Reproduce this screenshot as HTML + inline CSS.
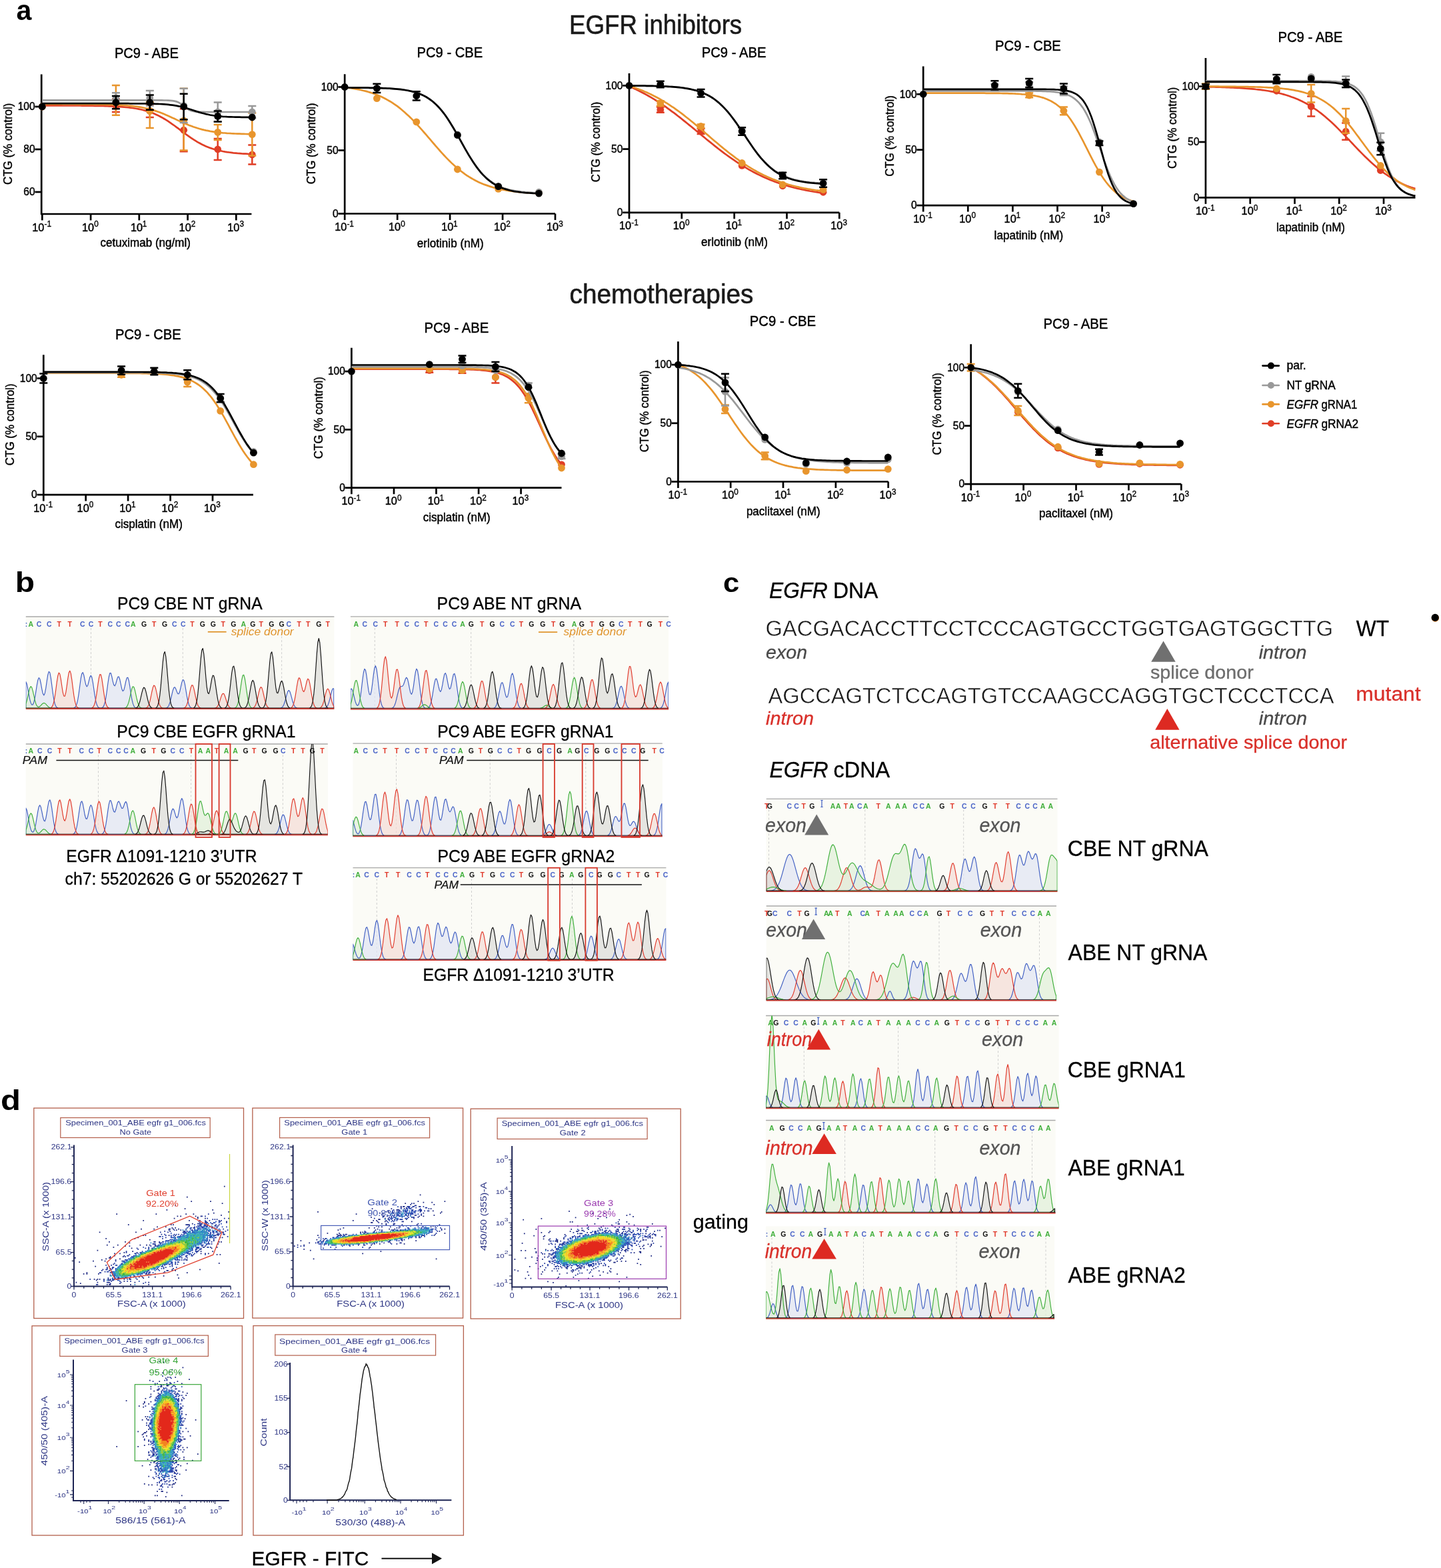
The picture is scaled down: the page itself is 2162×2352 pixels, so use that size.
<!DOCTYPE html>
<html><head><meta charset="utf-8"><title>Figure</title>
<style>html,body{margin:0;padding:0;background:#fff;}svg{display:block;}
text{font-family:'Liberation Sans',Arial,sans-serif;}</style></head>
<body><svg width="2162" height="2352" viewBox="0 0 2162 2352">
<rect width="2162" height="2352" fill="#fff"/>
<text x="24.4" y="30.4" font-size="42" textLength="22.84" lengthAdjust="spacingAndGlyphs" font-weight="bold">a</text>
<text x="854" y="51.1" font-size="40.2" textLength="259.24" lengthAdjust="spacingAndGlyphs" fill="#1a1a1a" stroke="#1a1a1a" stroke-width="0.6">EGFR inhibitors</text>
<text x="854.6" y="454.5" font-size="40.8" textLength="275.85" lengthAdjust="spacingAndGlyphs" fill="#1a1a1a" stroke="#1a1a1a" stroke-width="0.6">chemotherapies</text>
<text x="171.9" y="87.4" font-size="22" textLength="95.98" lengthAdjust="spacingAndGlyphs" stroke="#000" stroke-width="0.45">PC9 - ABE</text>
<path d="M62.2 111.5V321H377.4" fill="none" stroke="#000" stroke-width="2.7"/>
<line x1="52.4" y1="160" x2="62.2" y2="160" stroke="#000" stroke-width="2.7"/>
<text x="26.7" y="165.3" font-size="16.7" textLength="25.91" lengthAdjust="spacingAndGlyphs" stroke="#000" stroke-width="0.45">100</text>
<line x1="52.4" y1="224" x2="62.2" y2="224" stroke="#000" stroke-width="2.7"/>
<text x="35.3" y="229.3" font-size="16.7" textLength="17.28" lengthAdjust="spacingAndGlyphs" stroke="#000" stroke-width="0.45">80</text>
<line x1="52.4" y1="288" x2="62.2" y2="288" stroke="#000" stroke-width="2.7"/>
<text x="35.3" y="293.3" font-size="16.7" textLength="17.28" lengthAdjust="spacingAndGlyphs" stroke="#000" stroke-width="0.45">60</text>
<line x1="63.3" y1="321" x2="63.3" y2="330.5" stroke="#000" stroke-width="2.7"/>
<text x="48.3" y="346.6" font-size="16.3" textLength="18.13" lengthAdjust="spacingAndGlyphs" stroke="#000" stroke-width="0.45">10</text><text x="66.5" y="340.1" font-size="12.5" textLength="10.56" lengthAdjust="spacingAndGlyphs" stroke="#000" stroke-width="0.36000000000000004">-1</text>
<line x1="136.1" y1="321" x2="136.1" y2="330.5" stroke="#000" stroke-width="2.7"/>
<text x="122.9" y="346.6" font-size="16.3" textLength="18.13" lengthAdjust="spacingAndGlyphs" stroke="#000" stroke-width="0.45">10</text><text x="141.2" y="340.1" font-size="12.5" textLength="6.60" lengthAdjust="spacingAndGlyphs" stroke="#000" stroke-width="0.36000000000000004">0</text>
<line x1="208.8" y1="321" x2="208.8" y2="330.5" stroke="#000" stroke-width="2.7"/>
<text x="196" y="346.6" font-size="16.3" textLength="18.13" lengthAdjust="spacingAndGlyphs" stroke="#000" stroke-width="0.45">10</text><text x="213.8" y="340.1" font-size="12.5" textLength="6.60" lengthAdjust="spacingAndGlyphs" stroke="#000" stroke-width="0.36000000000000004">1</text>
<line x1="281.6" y1="321" x2="281.6" y2="330.5" stroke="#000" stroke-width="2.7"/>
<text x="268.6" y="346.6" font-size="16.3" textLength="18.13" lengthAdjust="spacingAndGlyphs" stroke="#000" stroke-width="0.45">10</text><text x="286.7" y="340.1" font-size="12.5" textLength="6.60" lengthAdjust="spacingAndGlyphs" stroke="#000" stroke-width="0.36000000000000004">2</text>
<line x1="354.3" y1="321" x2="354.3" y2="330.5" stroke="#000" stroke-width="2.7"/>
<text x="341.2" y="346.6" font-size="16.3" textLength="18.13" lengthAdjust="spacingAndGlyphs" stroke="#000" stroke-width="0.45">10</text><text x="359.5" y="340.1" font-size="12.5" textLength="6.60" lengthAdjust="spacingAndGlyphs" stroke="#000" stroke-width="0.36000000000000004">3</text>
<text x="150.6" y="370.1" font-size="17.5" textLength="135.28" lengthAdjust="spacingAndGlyphs" stroke="#000" stroke-width="0.45">cetuximab (ng/ml)</text>
<text transform="translate(18.2 276.2) rotate(-90)" x="-0.86" y="0" font-size="18" textLength="122.51" lengthAdjust="spacingAndGlyphs" stroke="#000" stroke-width="0.45">CTG (% control)</text>
<polyline points="63.3,158.4 66.5,158.4 69.6,158.4 72.8,158.4 75.9,158.4 79.1,158.4 82.2,158.4 85.4,158.4 88.5,158.4 91.7,158.4 94.8,158.5 98,158.5 101.1,158.5 104.3,158.5 107.4,158.5 110.6,158.5 113.7,158.5 116.9,158.5 120,158.5 123.2,158.6 126.3,158.6 129.5,158.6 132.6,158.7 135.8,158.7 138.9,158.7 142.1,158.8 145.2,158.8 148.4,158.9 151.5,158.9 154.7,159 157.8,159.1 161,159.2 164.1,159.3 167.3,159.4 170.4,159.6 173.6,159.7 176.7,159.9 179.9,160.1 183,160.3 186.2,160.6 189.3,160.9 192.5,161.2 195.6,161.6 198.8,162 201.9,162.5 205.1,163 208.2,163.6 211.4,164.3 214.5,165 217.7,165.9 220.8,166.8 224,167.8 227.1,168.9 230.3,170.1 233.4,171.5 236.6,172.9 239.7,174.5 242.9,176.2 246,178 249.2,179.9 252.3,181.9 255.5,184.1 258.6,186.3 261.8,188.5 264.9,190.9 268.1,193.2 271.2,195.6 274.4,198 277.5,200.4 280.7,202.7 283.8,204.9 287,207.1 290.1,209.2 293.3,211.2 296.4,213.1 299.6,214.8 302.7,216.5 305.9,218 309,219.4 312.2,220.7 315.3,221.9 318.5,223 321.6,224 324.8,224.8 327.9,225.6 331.1,226.3 334.2,227 337.4,227.6 340.5,228.1 343.7,228.5 346.8,228.9 350,229.3 353.1,229.6 356.3,229.9 359.4,230.1 362.6,230.4 365.7,230.6 368.9,230.7 372,230.9 375.2,231 378.3,231.1" fill="none" stroke="#E03E26" stroke-width="2.7"/>
<circle cx="63.3" cy="160" r="5.4" fill="#E03E26"/>
<path d="M173.9 148.8V168M167.9 148.8h12M167.9 168h12" stroke="#E03E26" stroke-width="2.5" fill="none"/>
<circle cx="173.9" cy="158.4" r="5.4" fill="#E03E26"/>
<path d="M224.8 156.8V176M218.8 156.8h12M218.8 176h12" stroke="#E03E26" stroke-width="2.5" fill="none"/>
<circle cx="224.8" cy="166.4" r="5.4" fill="#E03E26"/>
<path d="M275.7 163.2V227.2M269.7 163.2h12M269.7 227.2h12" stroke="#E03E26" stroke-width="2.5" fill="none"/>
<circle cx="275.7" cy="195.2" r="5.4" fill="#E03E26"/>
<path d="M326.7 208V240M320.7 208h12M320.7 240h12" stroke="#E03E26" stroke-width="2.5" fill="none"/>
<circle cx="326.7" cy="224" r="5.4" fill="#E03E26"/>
<path d="M378.3 217.6V246.4M372.3 217.6h12M372.3 246.4h12" stroke="#E03E26" stroke-width="2.5" fill="none"/>
<circle cx="378.3" cy="232" r="5.4" fill="#E03E26"/>
<polyline points="63.3,156.2 66.5,156.2 69.6,156.2 72.8,156.2 75.9,156.2 79.1,156.2 82.2,156.2 85.4,156.2 88.5,156.2 91.7,156.2 94.8,156.2 98,156.2 101.1,156.2 104.3,156.2 107.4,156.2 110.6,156.2 113.7,156.3 116.9,156.3 120,156.3 123.2,156.3 126.3,156.3 129.5,156.3 132.6,156.4 135.8,156.4 138.9,156.4 142.1,156.5 145.2,156.5 148.4,156.6 151.5,156.6 154.7,156.7 157.8,156.7 161,156.8 164.1,156.9 167.3,157 170.4,157.1 173.6,157.3 176.7,157.4 179.9,157.6 183,157.8 186.2,158 189.3,158.2 192.5,158.5 195.6,158.8 198.8,159.1 201.9,159.5 205.1,159.9 208.2,160.4 211.4,160.9 214.5,161.5 217.7,162.2 220.8,162.9 224,163.7 227.1,164.5 230.3,165.4 233.4,166.4 236.6,167.5 239.7,168.6 242.9,169.8 246,171.1 249.2,172.4 252.3,173.8 255.5,175.2 258.6,176.7 261.8,178.1 264.9,179.6 268.1,181.1 271.2,182.5 274.4,183.9 277.5,185.3 280.7,186.6 283.8,187.9 287,189.1 290.1,190.3 293.3,191.3 296.4,192.3 299.6,193.2 302.7,194.1 305.9,194.9 309,195.6 312.2,196.2 315.3,196.8 318.5,197.3 321.6,197.8 324.8,198.2 327.9,198.6 331.1,199 334.2,199.3 337.4,199.5 340.5,199.8 343.7,200 346.8,200.2 350,200.3 353.1,200.5 356.3,200.6 359.4,200.7 362.6,200.8 365.7,200.9 368.9,201 372,201.1 375.2,201.1 378.3,201.2" fill="none" stroke="#E8952D" stroke-width="2.7"/>
<circle cx="63.3" cy="160" r="5.4" fill="#E8952D"/>
<path d="M173.9 128V172.8M167.9 128h12M167.9 172.8h12" stroke="#E8952D" stroke-width="2.5" fill="none"/>
<circle cx="173.9" cy="150.4" r="5.4" fill="#E8952D"/>
<path d="M224.8 153.6V192M218.8 153.6h12M218.8 192h12" stroke="#E8952D" stroke-width="2.5" fill="none"/>
<circle cx="224.8" cy="166.4" r="5.4" fill="#E8952D"/>
<path d="M275.7 132.8V225.6M269.7 132.8h12M269.7 225.6h12" stroke="#E8952D" stroke-width="2.5" fill="none"/>
<circle cx="275.7" cy="180.8" r="5.4" fill="#E8952D"/>
<path d="M326.7 186.9V209.9M320.7 186.9h12M320.7 209.9h12" stroke="#E8952D" stroke-width="2.5" fill="none"/>
<circle cx="326.7" cy="198.4" r="5.4" fill="#E8952D"/>
<path d="M378.3 169.6V233.6M372.3 169.6h12M372.3 233.6h12" stroke="#E8952D" stroke-width="2.5" fill="none"/>
<circle cx="378.3" cy="201.6" r="5.4" fill="#E8952D"/>
<polyline points="63.3,150.4 66.5,150.4 69.6,150.4 72.8,150.4 75.9,150.4 79.1,150.4 82.2,150.4 85.4,150.4 88.5,150.4 91.7,150.4 94.8,150.4 98,150.4 101.1,150.4 104.3,150.4 107.4,150.4 110.6,150.4 113.7,150.4 116.9,150.4 120,150.4 123.2,150.4 126.3,150.4 129.5,150.4 132.6,150.4 135.8,150.4 138.9,150.4 142.1,150.4 145.2,150.4 148.4,150.4 151.5,150.4 154.7,150.4 157.8,150.4 161,150.4 164.1,150.4 167.3,150.4 170.4,150.4 173.6,150.4 176.7,150.4 179.9,150.4 183,150.4 186.2,150.4 189.3,150.4 192.5,150.4 195.6,150.4 198.8,150.4 201.9,150.4 205.1,150.4 208.2,150.4 211.4,150.4 214.5,150.4 217.7,150.4 220.8,150.4 224,150.4 227.1,150.4 230.3,150.4 233.4,150.4 236.6,150.4 239.7,150.4 242.9,150.4 246,150.5 249.2,150.5 252.3,150.6 255.5,150.8 258.6,151.1 261.8,151.6 264.9,152.4 268.1,153.7 271.2,155.6 274.4,158.1 277.5,160.7 280.7,163 283.8,164.9 287,166.1 290.1,166.9 293.3,167.4 296.4,167.7 299.6,167.8 302.7,167.9 305.9,167.9 309,168 312.2,168 315.3,168 318.5,168 321.6,168 324.8,168 327.9,168 331.1,168 334.2,168 337.4,168 340.5,168 343.7,168 346.8,168 350,168 353.1,168 356.3,168 359.4,168 362.6,168 365.7,168 368.9,168 372,168 375.2,168 378.3,168" fill="none" stroke="#999999" stroke-width="2.7"/>
<circle cx="63.3" cy="160" r="5.4" fill="#999999"/>
<path d="M173.9 139.2V155.2M167.9 139.2h12M167.9 155.2h12" stroke="#999999" stroke-width="2.5" fill="none"/>
<circle cx="173.9" cy="147.2" r="5.4" fill="#999999"/>
<path d="M224.8 136V158.4M218.8 136h12M218.8 158.4h12" stroke="#999999" stroke-width="2.5" fill="none"/>
<circle cx="224.8" cy="147.2" r="5.4" fill="#999999"/>
<path d="M275.7 132.8V184M269.7 132.8h12M269.7 184h12" stroke="#999999" stroke-width="2.5" fill="none"/>
<circle cx="275.7" cy="158.4" r="5.4" fill="#999999"/>
<path d="M326.7 153.6V182.4M320.7 153.6h12M320.7 182.4h12" stroke="#999999" stroke-width="2.5" fill="none"/>
<circle cx="326.7" cy="168" r="5.4" fill="#999999"/>
<path d="M378.3 159V177M372.3 159h12M372.3 177h12" stroke="#999999" stroke-width="2.5" fill="none"/>
<circle cx="378.3" cy="168" r="5.4" fill="#999999"/>
<polyline points="63.3,155.2 66.5,155.2 69.6,155.2 72.8,155.2 75.9,155.2 79.1,155.2 82.2,155.2 85.4,155.2 88.5,155.2 91.7,155.2 94.8,155.2 98,155.2 101.1,155.2 104.3,155.2 107.4,155.2 110.6,155.2 113.7,155.2 116.9,155.2 120,155.2 123.2,155.2 126.3,155.2 129.5,155.2 132.6,155.2 135.8,155.2 138.9,155.2 142.1,155.2 145.2,155.2 148.4,155.2 151.5,155.2 154.7,155.2 157.8,155.2 161,155.2 164.1,155.2 167.3,155.2 170.4,155.2 173.6,155.2 176.7,155.2 179.9,155.2 183,155.2 186.2,155.2 189.3,155.2 192.5,155.2 195.6,155.3 198.8,155.3 201.9,155.3 205.1,155.3 208.2,155.3 211.4,155.3 214.5,155.4 217.7,155.4 220.8,155.5 224,155.5 227.1,155.6 230.3,155.7 233.4,155.8 236.6,155.9 239.7,156 242.9,156.2 246,156.4 249.2,156.6 252.3,156.9 255.5,157.3 258.6,157.7 261.8,158.1 264.9,158.7 268.1,159.3 271.2,160 274.4,160.8 277.5,161.6 280.7,162.5 283.8,163.5 287,164.5 290.1,165.5 293.3,166.6 296.4,167.6 299.6,168.6 302.7,169.5 305.9,170.3 309,171.1 312.2,171.8 315.3,172.5 318.5,173 321.6,173.5 324.8,173.9 327.9,174.2 331.1,174.5 334.2,174.8 337.4,175 340.5,175.2 343.7,175.3 346.8,175.4 350,175.5 353.1,175.6 356.3,175.7 359.4,175.7 362.6,175.8 365.7,175.8 368.9,175.9 372,175.9 375.2,175.9 378.3,175.9" fill="none" stroke="#000000" stroke-width="2.7"/>
<circle cx="63.3" cy="160" r="5.4" fill="#000000"/>
<path d="M173.9 144V163.2M167.9 144h12M167.9 163.2h12" stroke="#000000" stroke-width="2.5" fill="none"/>
<circle cx="173.9" cy="153.6" r="5.4" fill="#000000"/>
<path d="M224.8 142.4V164.8M218.8 142.4h12M218.8 164.8h12" stroke="#000000" stroke-width="2.5" fill="none"/>
<circle cx="224.8" cy="153.6" r="5.4" fill="#000000"/>
<path d="M275.7 140.8V179.2M269.7 140.8h12M269.7 179.2h12" stroke="#000000" stroke-width="2.5" fill="none"/>
<circle cx="275.7" cy="160" r="5.4" fill="#000000"/>
<path d="M326.7 166.4V182.4M320.7 166.4h12M320.7 182.4h12" stroke="#000000" stroke-width="2.5" fill="none"/>
<circle cx="326.7" cy="174.4" r="5.4" fill="#000000"/>
<circle cx="378.3" cy="176" r="5.4" fill="#000000"/>
<text x="625.5" y="86.3" font-size="22" textLength="98.72" lengthAdjust="spacingAndGlyphs" stroke="#000" stroke-width="0.45">PC9 - CBE</text>
<path d="M517.2 111.3V320.5H833" fill="none" stroke="#000" stroke-width="2.7"/>
<line x1="507.4" y1="130.5" x2="517.2" y2="130.5" stroke="#000" stroke-width="2.7"/>
<text x="481.7" y="135.8" font-size="16.7" textLength="25.91" lengthAdjust="spacingAndGlyphs" stroke="#000" stroke-width="0.45">100</text>
<line x1="507.4" y1="225.5" x2="517.2" y2="225.5" stroke="#000" stroke-width="2.7"/>
<text x="490.3" y="230.8" font-size="16.7" textLength="17.28" lengthAdjust="spacingAndGlyphs" stroke="#000" stroke-width="0.45">50</text>
<line x1="507.4" y1="320.5" x2="517.2" y2="320.5" stroke="#000" stroke-width="2.7"/>
<text x="499" y="325.8" font-size="16.7" textLength="8.64" lengthAdjust="spacingAndGlyphs" stroke="#000" stroke-width="0.45">0</text>
<line x1="517.2" y1="320.5" x2="517.2" y2="330" stroke="#000" stroke-width="2.7"/>
<text x="502.2" y="346.1" font-size="16.3" textLength="18.13" lengthAdjust="spacingAndGlyphs" stroke="#000" stroke-width="0.45">10</text><text x="520.4" y="339.6" font-size="12.5" textLength="10.56" lengthAdjust="spacingAndGlyphs" stroke="#000" stroke-width="0.36000000000000004">-1</text>
<line x1="596.2" y1="320.5" x2="596.2" y2="330" stroke="#000" stroke-width="2.7"/>
<text x="583" y="346.1" font-size="16.3" textLength="18.13" lengthAdjust="spacingAndGlyphs" stroke="#000" stroke-width="0.45">10</text><text x="601.3" y="339.6" font-size="12.5" textLength="6.60" lengthAdjust="spacingAndGlyphs" stroke="#000" stroke-width="0.36000000000000004">0</text>
<line x1="675.1" y1="320.5" x2="675.1" y2="330" stroke="#000" stroke-width="2.7"/>
<text x="662.3" y="346.1" font-size="16.3" textLength="18.13" lengthAdjust="spacingAndGlyphs" stroke="#000" stroke-width="0.45">10</text><text x="680.1" y="339.6" font-size="12.5" textLength="6.60" lengthAdjust="spacingAndGlyphs" stroke="#000" stroke-width="0.36000000000000004">1</text>
<line x1="754.1" y1="320.5" x2="754.1" y2="330" stroke="#000" stroke-width="2.7"/>
<text x="741.1" y="346.1" font-size="16.3" textLength="18.13" lengthAdjust="spacingAndGlyphs" stroke="#000" stroke-width="0.45">10</text><text x="759.2" y="339.6" font-size="12.5" textLength="6.60" lengthAdjust="spacingAndGlyphs" stroke="#000" stroke-width="0.36000000000000004">2</text>
<line x1="833" y1="320.5" x2="833" y2="330" stroke="#000" stroke-width="2.7"/>
<text x="819.9" y="346.1" font-size="16.3" textLength="18.13" lengthAdjust="spacingAndGlyphs" stroke="#000" stroke-width="0.45">10</text><text x="838.2" y="339.6" font-size="12.5" textLength="6.60" lengthAdjust="spacingAndGlyphs" stroke="#000" stroke-width="0.36000000000000004">3</text>
<text x="625.8" y="371.1" font-size="17.5" textLength="99.79" lengthAdjust="spacingAndGlyphs" stroke="#000" stroke-width="0.45">erlotinib (nM)</text>
<text transform="translate(473.3 275.5) rotate(-90)" x="-0.86" y="0" font-size="18" textLength="122.01" lengthAdjust="spacingAndGlyphs" stroke="#000" stroke-width="0.45">CTG (% control)</text>
<polyline points="517.2,131.1 520.1,131.4 523,131.8 525.9,132.2 528.9,132.7 531.8,133.1 534.7,133.7 537.6,134.2 540.5,134.8 543.4,135.5 546.3,136.2 549.2,136.9 552.2,137.7 555.1,138.6 558,139.5 560.9,140.5 563.8,141.6 566.7,142.8 569.6,144 572.6,145.3 575.5,146.7 578.4,148.2 581.3,149.8 584.2,151.5 587.1,153.2 590,155.1 592.9,157.1 595.9,159.2 598.8,161.4 601.7,163.8 604.6,166.2 607.5,168.7 610.4,171.4 613.3,174.1 616.3,176.9 619.2,179.9 622.1,182.9 625,186 627.9,189.2 630.8,192.4 633.7,195.7 636.6,199 639.6,202.4 642.5,205.8 645.4,209.2 648.3,212.6 651.2,216 654.1,219.4 657,222.7 659.9,226 662.9,229.3 665.8,232.5 668.7,235.6 671.6,238.6 674.5,241.5 677.4,244.4 680.3,247.1 683.3,249.7 686.2,252.3 689.1,254.7 692,257 694.9,259.2 697.8,261.3 700.7,263.3 703.6,265.2 706.6,267 709.5,268.7 712.4,270.3 715.3,271.8 718.2,273.2 721.1,274.5 724,275.7 727,276.9 729.9,277.9 732.8,278.9 735.7,279.9 738.6,280.8 741.5,281.6 744.4,282.3 747.3,283 750.3,283.7 753.2,284.3 756.1,284.8 759,285.4 761.9,285.8 764.8,286.3 767.7,286.7 770.7,287.1 773.6,287.4 776.5,287.8 779.4,288.1 782.3,288.3 785.2,288.6 788.1,288.8 791,289 794,289.2 796.9,289.4 799.8,289.6 802.7,289.8 805.6,289.9 808.5,290" fill="none" stroke="#E8952D" stroke-width="2.7"/>
<circle cx="565.4" cy="147.6" r="5.4" fill="#E8952D"/>
<circle cx="624.8" cy="182.9" r="5.4" fill="#E8952D"/>
<circle cx="686.4" cy="254" r="5.4" fill="#E8952D"/>
<circle cx="747.7" cy="283.4" r="5.4" fill="#E8952D"/>
<circle cx="808.5" cy="289.1" r="5.4" fill="#E8952D"/>
<polyline points="517.2,131.5 520.1,131.5 523,131.5 525.9,131.5 528.9,131.6 531.8,131.6 534.7,131.6 537.6,131.6 540.5,131.6 543.4,131.7 546.3,131.7 549.2,131.7 552.2,131.7 555.1,131.8 558,131.8 560.9,131.9 563.8,132 566.7,132 569.6,132.1 572.6,132.2 575.5,132.3 578.4,132.4 581.3,132.6 584.2,132.7 587.1,132.9 590,133.1 592.9,133.3 595.9,133.6 598.8,133.9 601.7,134.2 604.6,134.6 607.5,135 610.4,135.5 613.3,136.1 616.3,136.7 619.2,137.4 622.1,138.2 625,139.1 627.9,140.1 630.8,141.3 633.7,142.6 636.6,144 639.6,145.6 642.5,147.4 645.4,149.4 648.3,151.6 651.2,154.1 654.1,156.8 657,159.7 659.9,162.9 662.9,166.3 665.8,170 668.7,174 671.6,178.2 674.5,182.7 677.4,187.4 680.3,192.2 683.3,197.2 686.2,202.3 689.1,207.5 692,212.8 694.9,218 697.8,223.1 700.7,228.1 703.6,233 706.6,237.8 709.5,242.3 712.4,246.5 715.3,250.6 718.2,254.4 721.1,257.9 724,261.1 727,264.1 729.9,266.9 732.8,269.3 735.7,271.6 738.6,273.7 741.5,275.5 744.4,277.2 747.3,278.6 750.3,280 753.2,281.1 756.1,282.2 759,283.1 761.9,283.9 764.8,284.7 767.7,285.3 770.7,285.9 773.6,286.4 776.5,286.9 779.4,287.2 782.3,287.6 785.2,287.9 788.1,288.2 791,288.4 794,288.6 796.9,288.8 799.8,289 802.7,289.1 805.6,289.2 808.5,289.3" fill="none" stroke="#999999" stroke-width="2.7"/>
<circle cx="686.4" cy="201.8" r="5.4" fill="#999999"/>
<circle cx="747.7" cy="279.6" r="5.4" fill="#999999"/>
<circle cx="808.5" cy="288.2" r="5.4" fill="#999999"/>
<polyline points="517.2,131.5 520.1,131.5 523,131.5 525.9,131.5 528.9,131.6 531.8,131.6 534.7,131.6 537.6,131.6 540.5,131.6 543.4,131.7 546.3,131.7 549.2,131.7 552.2,131.7 555.1,131.8 558,131.8 560.9,131.9 563.8,132 566.7,132 569.6,132.1 572.6,132.2 575.5,132.3 578.4,132.4 581.3,132.6 584.2,132.7 587.1,132.9 590,133.1 592.9,133.3 595.9,133.6 598.8,133.9 601.7,134.2 604.6,134.6 607.5,135 610.4,135.5 613.3,136 616.3,136.7 619.2,137.4 622.1,138.2 625,139.1 627.9,140.1 630.8,141.2 633.7,142.5 636.6,143.9 639.6,145.5 642.5,147.3 645.4,149.3 648.3,151.5 651.2,153.9 654.1,156.6 657,159.5 659.9,162.7 662.9,166.1 665.8,169.8 668.7,173.8 671.6,178 674.5,182.5 677.4,187.2 680.3,192 683.3,197.1 686.2,202.2 689.1,207.4 692,212.7 694.9,217.9 697.8,223.1 700.7,228.2 703.6,233.1 706.6,237.9 709.5,242.4 712.4,246.8 715.3,250.9 718.2,254.7 721.1,258.3 724,261.6 727,264.6 729.9,267.4 732.8,269.9 735.7,272.2 738.6,274.3 741.5,276.2 744.4,277.9 747.3,279.4 750.3,280.7 753.2,281.9 756.1,283 759,283.9 761.9,284.8 764.8,285.5 767.7,286.2 770.7,286.8 773.6,287.3 776.5,287.7 779.4,288.1 782.3,288.5 785.2,288.8 788.1,289.1 791,289.3 794,289.5 796.9,289.7 799.8,289.9 802.7,290 805.6,290.1 808.5,290.3" fill="none" stroke="#000000" stroke-width="2.7"/>
<circle cx="517.2" cy="130.5" r="5.4" fill="#000000"/>
<path d="M565.4 125.8V139.1M559.4 125.8h12M559.4 139.1h12" stroke="#000000" stroke-width="2.5" fill="none"/>
<circle cx="565.4" cy="132.4" r="5.4" fill="#000000"/>
<path d="M624.8 137.2V150.5M618.8 137.2h12M618.8 150.5h12" stroke="#000000" stroke-width="2.5" fill="none"/>
<circle cx="624.8" cy="143.8" r="5.4" fill="#000000"/>
<circle cx="686.4" cy="202.7" r="5.4" fill="#000000"/>
<circle cx="747.7" cy="279.6" r="5.4" fill="#000000"/>
<circle cx="808.5" cy="290.1" r="5.4" fill="#000000"/>
<text x="1052.7" y="86.3" font-size="22" textLength="96.80" lengthAdjust="spacingAndGlyphs" stroke="#000" stroke-width="0.45">PC9 - ABE</text>
<path d="M944 109.9V318.8H1259.3" fill="none" stroke="#000" stroke-width="2.7"/>
<line x1="934.2" y1="128.4" x2="944" y2="128.4" stroke="#000" stroke-width="2.7"/>
<text x="908.5" y="133.7" font-size="16.7" textLength="25.91" lengthAdjust="spacingAndGlyphs" stroke="#000" stroke-width="0.45">100</text>
<line x1="934.2" y1="223.6" x2="944" y2="223.6" stroke="#000" stroke-width="2.7"/>
<text x="917.1" y="228.9" font-size="16.7" textLength="17.28" lengthAdjust="spacingAndGlyphs" stroke="#000" stroke-width="0.45">50</text>
<line x1="934.2" y1="318.8" x2="944" y2="318.8" stroke="#000" stroke-width="2.7"/>
<text x="925.8" y="324.1" font-size="16.7" textLength="8.64" lengthAdjust="spacingAndGlyphs" stroke="#000" stroke-width="0.45">0</text>
<line x1="944" y1="318.8" x2="944" y2="328.3" stroke="#000" stroke-width="2.7"/>
<text x="929" y="344.4" font-size="16.3" textLength="18.13" lengthAdjust="spacingAndGlyphs" stroke="#000" stroke-width="0.45">10</text><text x="947.2" y="337.9" font-size="12.5" textLength="10.56" lengthAdjust="spacingAndGlyphs" stroke="#000" stroke-width="0.36000000000000004">-1</text>
<line x1="1022.8" y1="318.8" x2="1022.8" y2="328.3" stroke="#000" stroke-width="2.7"/>
<text x="1009.7" y="344.4" font-size="16.3" textLength="18.13" lengthAdjust="spacingAndGlyphs" stroke="#000" stroke-width="0.45">10</text><text x="1027.9" y="337.9" font-size="12.5" textLength="6.60" lengthAdjust="spacingAndGlyphs" stroke="#000" stroke-width="0.36000000000000004">0</text>
<line x1="1101.7" y1="318.8" x2="1101.7" y2="328.3" stroke="#000" stroke-width="2.7"/>
<text x="1088.8" y="344.4" font-size="16.3" textLength="18.13" lengthAdjust="spacingAndGlyphs" stroke="#000" stroke-width="0.45">10</text><text x="1106.6" y="337.9" font-size="12.5" textLength="6.60" lengthAdjust="spacingAndGlyphs" stroke="#000" stroke-width="0.36000000000000004">1</text>
<line x1="1180.5" y1="318.8" x2="1180.5" y2="328.3" stroke="#000" stroke-width="2.7"/>
<text x="1167.5" y="344.4" font-size="16.3" textLength="18.13" lengthAdjust="spacingAndGlyphs" stroke="#000" stroke-width="0.45">10</text><text x="1185.6" y="337.9" font-size="12.5" textLength="6.60" lengthAdjust="spacingAndGlyphs" stroke="#000" stroke-width="0.36000000000000004">2</text>
<line x1="1259.3" y1="318.8" x2="1259.3" y2="328.3" stroke="#000" stroke-width="2.7"/>
<text x="1246.2" y="344.4" font-size="16.3" textLength="18.13" lengthAdjust="spacingAndGlyphs" stroke="#000" stroke-width="0.45">10</text><text x="1264.5" y="337.9" font-size="12.5" textLength="6.60" lengthAdjust="spacingAndGlyphs" stroke="#000" stroke-width="0.36000000000000004">3</text>
<text x="1052.1" y="369.1" font-size="17.5" textLength="99.79" lengthAdjust="spacingAndGlyphs" stroke="#000" stroke-width="0.45">erlotinib (nM)</text>
<text transform="translate(900.3 272.5) rotate(-90)" x="-0.85" y="0" font-size="18" textLength="120.68" lengthAdjust="spacingAndGlyphs" stroke="#000" stroke-width="0.45">CTG (% control)</text>
<polyline points="944,129.5 946.9,130.8 949.8,132.1 952.7,133.4 955.6,134.8 958.6,136.2 961.5,137.7 964.4,139.2 967.3,140.7 970.2,142.3 973.1,144 976,145.7 978.9,147.4 981.8,149.2 984.8,151 987.7,152.9 990.6,154.8 993.5,156.7 996.4,158.7 999.3,160.7 1002.2,162.8 1005.1,164.9 1008,167.1 1011,169.2 1013.9,171.4 1016.8,173.7 1019.7,175.9 1022.6,178.2 1025.5,180.6 1028.4,182.9 1031.3,185.2 1034.2,187.6 1037.2,190 1040.1,192.4 1043,194.8 1045.9,197.2 1048.8,199.6 1051.7,202 1054.6,204.4 1057.5,206.8 1060.4,209.2 1063.4,211.6 1066.3,213.9 1069.2,216.3 1072.1,218.6 1075,220.9 1077.9,223.2 1080.8,225.4 1083.7,227.6 1086.6,229.8 1089.6,232 1092.5,234.1 1095.4,236.2 1098.3,238.2 1101.2,240.2 1104.1,242.2 1107,244.1 1109.9,246 1112.8,247.9 1115.7,249.7 1118.7,251.4 1121.6,253.1 1124.5,254.8 1127.4,256.4 1130.3,258 1133.2,259.5 1136.1,261 1139,262.4 1141.9,263.8 1144.9,265.2 1147.8,266.5 1150.7,267.8 1153.6,269 1156.5,270.2 1159.4,271.3 1162.3,272.4 1165.2,273.5 1168.1,274.5 1171.1,275.5 1174,276.5 1176.9,277.4 1179.8,278.3 1182.7,279.1 1185.6,279.9 1188.5,280.7 1191.4,281.5 1194.3,282.2 1197.3,282.9 1200.2,283.5 1203.1,284.2 1206,284.8 1208.9,285.4 1211.8,285.9 1214.7,286.5 1217.6,287 1220.5,287.5 1223.5,288 1226.4,288.4 1229.3,288.9 1232.2,289.3 1235.1,289.7" fill="none" stroke="#E03E26" stroke-width="2.7"/>
<path d="M990.8 160.4V168.8M984.8 160.4h12M984.8 168.8h12" stroke="#E03E26" stroke-width="2.5" fill="none"/>
<circle cx="990.8" cy="164.6" r="5.4" fill="#E03E26"/>
<path d="M1051.6 192.8V201.1M1045.6 192.8h12M1045.6 201.1h12" stroke="#E03E26" stroke-width="2.5" fill="none"/>
<circle cx="1051.6" cy="196.9" r="5.4" fill="#E03E26"/>
<circle cx="1113.2" cy="248.4" r="5.4" fill="#E03E26"/>
<circle cx="1174.2" cy="278.8" r="5.4" fill="#E03E26"/>
<circle cx="1235.1" cy="288.3" r="5.4" fill="#E03E26"/>
<polyline points="944,128.9 946.9,129.8 949.8,130.8 952.7,131.7 955.6,132.8 958.6,133.9 961.5,135 964.4,136.1 967.3,137.4 970.2,138.6 973.1,139.9 976,141.3 978.9,142.7 981.8,144.2 984.8,145.7 987.7,147.3 990.6,148.9 993.5,150.6 996.4,152.3 999.3,154.1 1002.2,155.9 1005.1,157.8 1008,159.8 1011,161.7 1013.9,163.8 1016.8,165.9 1019.7,168 1022.6,170.2 1025.5,172.4 1028.4,174.7 1031.3,177 1034.2,179.3 1037.2,181.7 1040.1,184 1043,186.5 1045.9,188.9 1048.8,191.4 1051.7,193.9 1054.6,196.3 1057.5,198.8 1060.4,201.4 1063.4,203.9 1066.3,206.4 1069.2,208.9 1072.1,211.4 1075,213.8 1077.9,216.3 1080.8,218.7 1083.7,221.1 1086.6,223.5 1089.6,225.9 1092.5,228.2 1095.4,230.5 1098.3,232.7 1101.2,234.9 1104.1,237.1 1107,239.2 1109.9,241.3 1112.8,243.3 1115.7,245.3 1118.7,247.2 1121.6,249.1 1124.5,250.9 1127.4,252.7 1130.3,254.4 1133.2,256 1136.1,257.7 1139,259.2 1141.9,260.7 1144.9,262.2 1147.8,263.6 1150.7,264.9 1153.6,266.2 1156.5,267.5 1159.4,268.7 1162.3,269.8 1165.2,270.9 1168.1,272 1171.1,273 1174,274 1176.9,274.9 1179.8,275.8 1182.7,276.7 1185.6,277.5 1188.5,278.3 1191.4,279 1194.3,279.7 1197.3,280.4 1200.2,281.1 1203.1,281.7 1206,282.3 1208.9,282.8 1211.8,283.4 1214.7,283.9 1217.6,284.4 1220.5,284.8 1223.5,285.3 1226.4,285.7 1229.3,286.1 1232.2,286.5 1235.1,286.8" fill="none" stroke="#E8952D" stroke-width="2.7"/>
<path d="M990.8 151.2V158.9M984.8 151.2h12M984.8 158.9h12" stroke="#E8952D" stroke-width="2.5" fill="none"/>
<circle cx="990.8" cy="155.1" r="5.4" fill="#E8952D"/>
<path d="M1051.6 186.5V192.2M1045.6 186.5h12M1045.6 192.2h12" stroke="#E8952D" stroke-width="2.5" fill="none"/>
<circle cx="1051.6" cy="189.3" r="5.4" fill="#E8952D"/>
<circle cx="1113.2" cy="244.5" r="5.4" fill="#E8952D"/>
<circle cx="1174.2" cy="276.9" r="5.4" fill="#E8952D"/>
<circle cx="1235.1" cy="284.5" r="5.4" fill="#E8952D"/>
<polyline points="944,128.5 946.9,128.5 949.8,128.6 952.7,128.6 955.6,128.6 958.6,128.6 961.5,128.7 964.4,128.7 967.3,128.7 970.2,128.8 973.1,128.8 976,128.9 978.9,128.9 981.8,129 984.8,129.1 987.7,129.2 990.6,129.3 993.5,129.4 996.4,129.5 999.3,129.6 1002.2,129.8 1005.1,130 1008,130.2 1011,130.4 1013.9,130.6 1016.8,130.9 1019.7,131.2 1022.6,131.6 1025.5,132 1028.4,132.4 1031.3,132.9 1034.2,133.4 1037.2,134 1040.1,134.7 1043,135.5 1045.9,136.3 1048.8,137.2 1051.7,138.3 1054.6,139.4 1057.5,140.7 1060.4,142.1 1063.4,143.6 1066.3,145.3 1069.2,147.2 1072.1,149.2 1075,151.4 1077.9,153.8 1080.8,156.3 1083.7,159.1 1086.6,162.1 1089.6,165.3 1092.5,168.6 1095.4,172.2 1098.3,175.9 1101.2,179.8 1104.1,183.8 1107,188 1109.9,192.2 1112.8,196.5 1115.7,200.9 1118.7,205.2 1121.6,209.6 1124.5,213.8 1127.4,218.1 1130.3,222.2 1133.2,226.1 1136.1,230 1139,233.6 1141.9,237.1 1144.9,240.4 1147.8,243.5 1150.7,246.4 1153.6,249.1 1156.5,251.6 1159.4,253.9 1162.3,256 1165.2,258 1168.1,259.7 1171.1,261.4 1174,262.9 1176.9,264.2 1179.8,265.4 1182.7,266.5 1185.6,267.5 1188.5,268.4 1191.4,269.2 1194.3,269.9 1197.3,270.6 1200.2,271.2 1203.1,271.7 1206,272.1 1208.9,272.6 1211.8,272.9 1214.7,273.3 1217.6,273.6 1220.5,273.8 1223.5,274.1 1226.4,274.3 1229.3,274.5 1232.2,274.6 1235.1,274.8" fill="none" stroke="#999999" stroke-width="2.7"/>
<circle cx="1113.2" cy="196" r="5.4" fill="#999999"/>
<circle cx="1174.2" cy="262.6" r="5.4" fill="#999999"/>
<polyline points="944,128.5 946.9,128.5 949.8,128.6 952.7,128.6 955.6,128.6 958.6,128.6 961.5,128.7 964.4,128.7 967.3,128.7 970.2,128.8 973.1,128.8 976,128.9 978.9,128.9 981.8,129 984.8,129.1 987.7,129.2 990.6,129.3 993.5,129.4 996.4,129.5 999.3,129.6 1002.2,129.8 1005.1,130 1008,130.2 1011,130.4 1013.9,130.6 1016.8,130.9 1019.7,131.2 1022.6,131.5 1025.5,131.9 1028.4,132.4 1031.3,132.8 1034.2,133.4 1037.2,134 1040.1,134.7 1043,135.4 1045.9,136.2 1048.8,137.2 1051.7,138.2 1054.6,139.3 1057.5,140.6 1060.4,142 1063.4,143.5 1066.3,145.2 1069.2,147 1072.1,149 1075,151.2 1077.9,153.6 1080.8,156.2 1083.7,158.9 1086.6,161.9 1089.6,165.1 1092.5,168.4 1095.4,172 1098.3,175.7 1101.2,179.6 1104.1,183.6 1107,187.8 1109.9,192 1112.8,196.4 1115.7,200.7 1118.7,205.1 1121.6,209.5 1124.5,213.8 1127.4,218.1 1130.3,222.2 1133.2,226.2 1136.1,230.1 1139,233.8 1141.9,237.3 1144.9,240.7 1147.8,243.8 1150.7,246.7 1153.6,249.5 1156.5,252 1159.4,254.4 1162.3,256.6 1165.2,258.5 1168.1,260.4 1171.1,262 1174,263.5 1176.9,264.9 1179.8,266.1 1182.7,267.3 1185.6,268.3 1188.5,269.2 1191.4,270 1194.3,270.7 1197.3,271.4 1200.2,272 1203.1,272.5 1206,273 1208.9,273.4 1211.8,273.8 1214.7,274.2 1217.6,274.5 1220.5,274.7 1223.5,275 1226.4,275.2 1229.3,275.4 1232.2,275.5 1235.1,275.7" fill="none" stroke="#000000" stroke-width="2.7"/>
<circle cx="944" cy="128.4" r="5.4" fill="#000000"/>
<path d="M990.8 121.7V131.3M984.8 121.7h12M984.8 131.3h12" stroke="#000000" stroke-width="2.5" fill="none"/>
<circle cx="990.8" cy="126.5" r="5.4" fill="#000000"/>
<path d="M1051.6 134.1V145.5M1045.6 134.1h12M1045.6 145.5h12" stroke="#000000" stroke-width="2.5" fill="none"/>
<circle cx="1051.6" cy="139.8" r="5.4" fill="#000000"/>
<path d="M1113.2 191.2V202.7M1107.2 191.2h12M1107.2 202.7h12" stroke="#000000" stroke-width="2.5" fill="none"/>
<circle cx="1113.2" cy="196.9" r="5.4" fill="#000000"/>
<path d="M1174.2 258.8V268.3M1168.2 258.8h12M1168.2 268.3h12" stroke="#000000" stroke-width="2.5" fill="none"/>
<circle cx="1174.2" cy="263.6" r="5.4" fill="#000000"/>
<path d="M1235.1 269.3V280.7M1229.1 269.3h12M1229.1 280.7h12" stroke="#000000" stroke-width="2.5" fill="none"/>
<circle cx="1235.1" cy="275" r="5.4" fill="#000000"/>
<text x="1493.1" y="75.8" font-size="22" textLength="98.72" lengthAdjust="spacingAndGlyphs" stroke="#000" stroke-width="0.45">PC9 - CBE</text>
<path d="M1385.2 99.4V308.1H1700.6" fill="none" stroke="#000" stroke-width="2.7"/>
<line x1="1375.4" y1="141.3" x2="1385.2" y2="141.3" stroke="#000" stroke-width="2.7"/>
<text x="1349.7" y="146.6" font-size="16.7" textLength="25.91" lengthAdjust="spacingAndGlyphs" stroke="#000" stroke-width="0.45">100</text>
<line x1="1375.4" y1="224.7" x2="1385.2" y2="224.7" stroke="#000" stroke-width="2.7"/>
<text x="1358.3" y="230" font-size="16.7" textLength="17.28" lengthAdjust="spacingAndGlyphs" stroke="#000" stroke-width="0.45">50</text>
<line x1="1375.4" y1="308.1" x2="1385.2" y2="308.1" stroke="#000" stroke-width="2.7"/>
<text x="1367" y="313.4" font-size="16.7" textLength="8.64" lengthAdjust="spacingAndGlyphs" stroke="#000" stroke-width="0.45">0</text>
<line x1="1385.2" y1="308.1" x2="1385.2" y2="317.6" stroke="#000" stroke-width="2.7"/>
<text x="1370.2" y="333.7" font-size="16.3" textLength="18.13" lengthAdjust="spacingAndGlyphs" stroke="#000" stroke-width="0.45">10</text><text x="1388.4" y="327.2" font-size="12.5" textLength="10.56" lengthAdjust="spacingAndGlyphs" stroke="#000" stroke-width="0.36000000000000004">-1</text>
<line x1="1452.3" y1="308.1" x2="1452.3" y2="317.6" stroke="#000" stroke-width="2.7"/>
<text x="1439.2" y="333.7" font-size="16.3" textLength="18.13" lengthAdjust="spacingAndGlyphs" stroke="#000" stroke-width="0.45">10</text><text x="1457.4" y="327.2" font-size="12.5" textLength="6.60" lengthAdjust="spacingAndGlyphs" stroke="#000" stroke-width="0.36000000000000004">0</text>
<line x1="1519.4" y1="308.1" x2="1519.4" y2="317.6" stroke="#000" stroke-width="2.7"/>
<text x="1506.6" y="333.7" font-size="16.3" textLength="18.13" lengthAdjust="spacingAndGlyphs" stroke="#000" stroke-width="0.45">10</text><text x="1524.4" y="327.2" font-size="12.5" textLength="6.60" lengthAdjust="spacingAndGlyphs" stroke="#000" stroke-width="0.36000000000000004">1</text>
<line x1="1586.5" y1="308.1" x2="1586.5" y2="317.6" stroke="#000" stroke-width="2.7"/>
<text x="1573.5" y="333.7" font-size="16.3" textLength="18.13" lengthAdjust="spacingAndGlyphs" stroke="#000" stroke-width="0.45">10</text><text x="1591.6" y="327.2" font-size="12.5" textLength="6.60" lengthAdjust="spacingAndGlyphs" stroke="#000" stroke-width="0.36000000000000004">2</text>
<line x1="1653.6" y1="308.1" x2="1653.6" y2="317.6" stroke="#000" stroke-width="2.7"/>
<text x="1640.5" y="333.7" font-size="16.3" textLength="18.13" lengthAdjust="spacingAndGlyphs" stroke="#000" stroke-width="0.45">10</text><text x="1658.8" y="327.2" font-size="12.5" textLength="6.60" lengthAdjust="spacingAndGlyphs" stroke="#000" stroke-width="0.36000000000000004">3</text>
<text x="1491.6" y="358.7" font-size="17.5" textLength="103.51" lengthAdjust="spacingAndGlyphs" stroke="#000" stroke-width="0.45">lapatinib (nM)</text>
<text transform="translate(1341.1 263.8) rotate(-90)" x="-0.85" y="0" font-size="18" textLength="121.60" lengthAdjust="spacingAndGlyphs" stroke="#000" stroke-width="0.45">CTG (% control)</text>
<polyline points="1385.2,139.6 1388.4,139.6 1391.5,139.6 1394.7,139.6 1397.8,139.6 1401,139.6 1404.1,139.6 1407.3,139.6 1410.4,139.6 1413.6,139.6 1416.7,139.6 1419.9,139.6 1423,139.6 1426.2,139.6 1429.4,139.6 1432.5,139.6 1435.7,139.6 1438.8,139.7 1442,139.7 1445.1,139.7 1448.3,139.7 1451.4,139.7 1454.6,139.7 1457.7,139.7 1460.9,139.7 1464,139.7 1467.2,139.7 1470.3,139.7 1473.5,139.7 1476.7,139.7 1479.8,139.8 1483,139.8 1486.1,139.8 1489.3,139.8 1492.4,139.9 1495.6,139.9 1498.7,139.9 1501.9,140 1505,140.1 1508.2,140.1 1511.3,140.2 1514.5,140.3 1517.7,140.4 1520.8,140.5 1524,140.7 1527.1,140.8 1530.3,141 1533.4,141.3 1536.6,141.5 1539.7,141.8 1542.9,142.2 1546,142.6 1549.2,143 1552.3,143.6 1555.5,144.2 1558.7,144.9 1561.8,145.7 1565,146.6 1568.1,147.7 1571.3,149 1574.4,150.4 1577.6,152 1580.7,153.8 1583.9,155.8 1587,158.2 1590.2,160.8 1593.3,163.7 1596.5,166.9 1599.7,170.5 1602.8,174.5 1606,178.8 1609.1,183.5 1612.3,188.5 1615.4,193.8 1618.6,199.4 1621.7,205.3 1624.9,211.4 1628,217.6 1631.2,223.9 1634.3,230.1 1637.5,236.4 1640.6,242.4 1643.8,248.3 1647,253.9 1650.1,259.3 1653.3,264.3 1656.4,268.9 1659.6,273.3 1662.7,277.2 1665.9,280.8 1669,284 1672.2,287 1675.3,289.6 1678.5,291.9 1681.6,294 1684.8,295.8 1688,297.4 1691.1,298.8 1694.3,300 1697.4,301.1 1700.6,302" fill="none" stroke="#E8952D" stroke-width="2.7"/>
<path d="M1544.2 139.6V146.3M1538.2 139.6h12M1538.2 146.3h12" stroke="#E8952D" stroke-width="2.5" fill="none"/>
<circle cx="1544.2" cy="143" r="5.4" fill="#E8952D"/>
<path d="M1595.9 160.5V172.2M1589.9 160.5h12M1589.9 172.2h12" stroke="#E8952D" stroke-width="2.5" fill="none"/>
<circle cx="1595.9" cy="166.3" r="5.4" fill="#E8952D"/>
<circle cx="1649.4" cy="258.1" r="5.4" fill="#E8952D"/>
<polyline points="1385.2,136.3 1388.4,136.3 1391.5,136.3 1394.7,136.3 1397.8,136.3 1401,136.3 1404.1,136.3 1407.3,136.3 1410.4,136.3 1413.6,136.3 1416.7,136.3 1419.9,136.3 1423,136.3 1426.2,136.3 1429.4,136.3 1432.5,136.3 1435.7,136.3 1438.8,136.3 1442,136.3 1445.1,136.3 1448.3,136.3 1451.4,136.3 1454.6,136.3 1457.7,136.3 1460.9,136.3 1464,136.3 1467.2,136.3 1470.3,136.3 1473.5,136.3 1476.7,136.3 1479.8,136.3 1483,136.3 1486.1,136.3 1489.3,136.3 1492.4,136.3 1495.6,136.3 1498.7,136.3 1501.9,136.3 1505,136.3 1508.2,136.3 1511.3,136.3 1514.5,136.3 1517.7,136.3 1520.8,136.3 1524,136.3 1527.1,136.3 1530.3,136.3 1533.4,136.4 1536.6,136.4 1539.7,136.4 1542.9,136.4 1546,136.4 1549.2,136.5 1552.3,136.5 1555.5,136.6 1558.7,136.6 1561.8,136.7 1565,136.8 1568.1,136.9 1571.3,137.1 1574.4,137.2 1577.6,137.5 1580.7,137.7 1583.9,138.1 1587,138.5 1590.2,139 1593.3,139.7 1596.5,140.5 1599.7,141.5 1602.8,142.7 1606,144.1 1609.1,145.9 1612.3,148.1 1615.4,150.7 1618.6,153.8 1621.7,157.6 1624.9,161.9 1628,167 1631.2,172.9 1634.3,179.5 1637.5,186.8 1640.6,194.9 1643.8,203.5 1647,212.5 1650.1,221.8 1653.3,231.1 1656.4,240.1 1659.6,248.8 1662.7,256.9 1665.9,264.3 1669,271 1672.2,276.9 1675.3,282.1 1678.5,286.5 1681.6,290.3 1684.8,293.4 1688,296.1 1691.1,298.3 1694.3,300.1 1697.4,301.6 1700.6,302.8" fill="none" stroke="#999999" stroke-width="2.7"/>
<path d="M1492.4 126.3V136.3M1486.4 126.3h12M1486.4 136.3h12" stroke="#999999" stroke-width="2.5" fill="none"/>
<circle cx="1492.4" cy="131.3" r="5.4" fill="#999999"/>
<path d="M1544.2 123V136.3M1538.2 123h12M1538.2 136.3h12" stroke="#999999" stroke-width="2.5" fill="none"/>
<circle cx="1544.2" cy="129.6" r="5.4" fill="#999999"/>
<path d="M1595.9 129.6V143M1589.9 129.6h12M1589.9 143h12" stroke="#999999" stroke-width="2.5" fill="none"/>
<circle cx="1595.9" cy="136.3" r="5.4" fill="#999999"/>
<circle cx="1649.4" cy="213" r="5.4" fill="#999999"/>
<polyline points="1385.2,133.8 1388.4,133.8 1391.5,133.8 1394.7,133.8 1397.8,133.8 1401,133.8 1404.1,133.8 1407.3,133.8 1410.4,133.8 1413.6,133.8 1416.7,133.8 1419.9,133.8 1423,133.8 1426.2,133.8 1429.4,133.8 1432.5,133.8 1435.7,133.8 1438.8,133.8 1442,133.8 1445.1,133.8 1448.3,133.8 1451.4,133.8 1454.6,133.8 1457.7,133.8 1460.9,133.8 1464,133.8 1467.2,133.8 1470.3,133.8 1473.5,133.8 1476.7,133.8 1479.8,133.8 1483,133.8 1486.1,133.8 1489.3,133.8 1492.4,133.8 1495.6,133.8 1498.7,133.8 1501.9,133.8 1505,133.8 1508.2,133.8 1511.3,133.8 1514.5,133.8 1517.7,133.8 1520.8,133.8 1524,133.8 1527.1,133.8 1530.3,133.8 1533.4,133.8 1536.6,133.8 1539.7,133.8 1542.9,133.8 1546,133.8 1549.2,133.8 1552.3,133.8 1555.5,133.8 1558.7,133.9 1561.8,133.9 1565,133.9 1568.1,133.9 1571.3,134 1574.4,134 1577.6,134.1 1580.7,134.2 1583.9,134.4 1587,134.5 1590.2,134.8 1593.3,135 1596.5,135.4 1599.7,135.9 1602.8,136.6 1606,137.4 1609.1,138.5 1612.3,139.9 1615.4,141.7 1618.6,144 1621.7,146.9 1624.9,150.6 1628,155.2 1631.2,160.8 1634.3,167.5 1637.5,175.5 1640.6,184.6 1643.8,194.8 1647,205.9 1650.1,217.5 1653.3,229.2 1656.4,240.6 1659.6,251.3 1662.7,261.1 1665.9,269.8 1669,277.2 1672.2,283.5 1675.3,288.7 1678.5,292.9 1681.6,296.2 1684.8,298.9 1688,301 1691.1,302.6 1694.3,303.9 1697.4,304.8 1700.6,305.6" fill="none" stroke="#000000" stroke-width="2.7"/>
<circle cx="1385.2" cy="141.3" r="5.4" fill="#000000"/>
<path d="M1492.4 121.3V134.6M1486.4 121.3h12M1486.4 134.6h12" stroke="#000000" stroke-width="2.5" fill="none"/>
<circle cx="1492.4" cy="128" r="5.4" fill="#000000"/>
<path d="M1544.2 117.9V131.3M1538.2 117.9h12M1538.2 131.3h12" stroke="#000000" stroke-width="2.5" fill="none"/>
<circle cx="1544.2" cy="124.6" r="5.4" fill="#000000"/>
<path d="M1595.9 125.5V140.5M1589.9 125.5h12M1589.9 140.5h12" stroke="#000000" stroke-width="2.5" fill="none"/>
<circle cx="1595.9" cy="133" r="5.4" fill="#000000"/>
<path d="M1649.4 211.4V218M1643.4 211.4h12M1643.4 218h12" stroke="#000000" stroke-width="2.5" fill="none"/>
<circle cx="1649.4" cy="214.7" r="5.4" fill="#000000"/>
<circle cx="1700.6" cy="305.6" r="5.4" fill="#000000"/>
<text x="1917.4" y="63.3" font-size="22" textLength="97.01" lengthAdjust="spacingAndGlyphs" stroke="#000" stroke-width="0.45">PC9 - ABE</text>
<path d="M1808.9 87V296.4H2123.5" fill="none" stroke="#000" stroke-width="2.7"/>
<line x1="1799.1" y1="129.6" x2="1808.9" y2="129.6" stroke="#000" stroke-width="2.7"/>
<text x="1773.4" y="134.9" font-size="16.7" textLength="25.91" lengthAdjust="spacingAndGlyphs" stroke="#000" stroke-width="0.45">100</text>
<line x1="1799.1" y1="213" x2="1808.9" y2="213" stroke="#000" stroke-width="2.7"/>
<text x="1782" y="218.3" font-size="16.7" textLength="17.28" lengthAdjust="spacingAndGlyphs" stroke="#000" stroke-width="0.45">50</text>
<line x1="1799.1" y1="296.4" x2="1808.9" y2="296.4" stroke="#000" stroke-width="2.7"/>
<text x="1790.7" y="301.7" font-size="16.7" textLength="8.64" lengthAdjust="spacingAndGlyphs" stroke="#000" stroke-width="0.45">0</text>
<line x1="1808.9" y1="296.4" x2="1808.9" y2="305.9" stroke="#000" stroke-width="2.7"/>
<text x="1793.9" y="322" font-size="16.3" textLength="18.13" lengthAdjust="spacingAndGlyphs" stroke="#000" stroke-width="0.45">10</text><text x="1812.1" y="315.5" font-size="12.5" textLength="10.56" lengthAdjust="spacingAndGlyphs" stroke="#000" stroke-width="0.36000000000000004">-1</text>
<line x1="1875.7" y1="296.4" x2="1875.7" y2="305.9" stroke="#000" stroke-width="2.7"/>
<text x="1862.6" y="322" font-size="16.3" textLength="18.13" lengthAdjust="spacingAndGlyphs" stroke="#000" stroke-width="0.45">10</text><text x="1880.8" y="315.5" font-size="12.5" textLength="6.60" lengthAdjust="spacingAndGlyphs" stroke="#000" stroke-width="0.36000000000000004">0</text>
<line x1="1942.5" y1="296.4" x2="1942.5" y2="305.9" stroke="#000" stroke-width="2.7"/>
<text x="1929.6" y="322" font-size="16.3" textLength="18.13" lengthAdjust="spacingAndGlyphs" stroke="#000" stroke-width="0.45">10</text><text x="1947.4" y="315.5" font-size="12.5" textLength="6.60" lengthAdjust="spacingAndGlyphs" stroke="#000" stroke-width="0.36000000000000004">1</text>
<line x1="2009.2" y1="296.4" x2="2009.2" y2="305.9" stroke="#000" stroke-width="2.7"/>
<text x="1996.3" y="322" font-size="16.3" textLength="18.13" lengthAdjust="spacingAndGlyphs" stroke="#000" stroke-width="0.45">10</text><text x="2014.3" y="315.5" font-size="12.5" textLength="6.60" lengthAdjust="spacingAndGlyphs" stroke="#000" stroke-width="0.36000000000000004">2</text>
<line x1="2076" y1="296.4" x2="2076" y2="305.9" stroke="#000" stroke-width="2.7"/>
<text x="2062.9" y="322" font-size="16.3" textLength="18.13" lengthAdjust="spacingAndGlyphs" stroke="#000" stroke-width="0.45">10</text><text x="2081.2" y="315.5" font-size="12.5" textLength="6.60" lengthAdjust="spacingAndGlyphs" stroke="#000" stroke-width="0.36000000000000004">3</text>
<text x="1914.9" y="346.8" font-size="17.5" textLength="103.10" lengthAdjust="spacingAndGlyphs" stroke="#000" stroke-width="0.45">lapatinib (nM)</text>
<text transform="translate(1765.3 252.1) rotate(-90)" x="-0.86" y="0" font-size="18" textLength="122.41" lengthAdjust="spacingAndGlyphs" stroke="#000" stroke-width="0.45">CTG (% control)</text>
<polyline points="1808.9,130.3 1812,130.3 1815.2,130.4 1818.3,130.4 1821.5,130.5 1824.6,130.6 1827.8,130.7 1830.9,130.7 1834.1,130.8 1837.2,130.9 1840.4,131.1 1843.5,131.2 1846.6,131.3 1849.8,131.4 1852.9,131.6 1856.1,131.8 1859.2,131.9 1862.4,132.1 1865.5,132.3 1868.7,132.6 1871.8,132.8 1874.9,133.1 1878.1,133.3 1881.2,133.6 1884.4,134 1887.5,134.3 1890.7,134.7 1893.8,135.1 1897,135.5 1900.1,136 1903.3,136.5 1906.4,137.1 1909.5,137.7 1912.7,138.3 1915.8,139 1919,139.7 1922.1,140.5 1925.3,141.4 1928.4,142.3 1931.6,143.2 1934.7,144.3 1937.8,145.4 1941,146.5 1944.1,147.8 1947.3,149.1 1950.4,150.5 1953.6,152 1956.7,153.6 1959.9,155.3 1963,157.1 1966.2,159 1969.3,161 1972.4,163.1 1975.6,165.2 1978.7,167.5 1981.9,169.9 1985,172.4 1988.2,175 1991.3,177.7 1994.5,180.5 1997.6,183.3 2000.8,186.3 2003.9,189.3 2007,192.4 2010.2,195.6 2013.3,198.8 2016.5,202 2019.6,205.3 2022.8,208.6 2025.9,211.9 2029.1,215.3 2032.2,218.6 2035.3,221.9 2038.5,225.2 2041.6,228.4 2044.8,231.6 2047.9,234.7 2051.1,237.8 2054.2,240.8 2057.4,243.7 2060.5,246.5 2063.7,249.3 2066.8,251.9 2069.9,254.5 2073.1,256.9 2076.2,259.3 2079.4,261.5 2082.5,263.7 2085.7,265.7 2088.8,267.7 2092,269.5 2095.1,271.3 2098.2,272.9 2101.4,274.5 2104.5,276 2107.7,277.4 2110.8,278.7 2114,279.9 2117.1,281.1 2120.3,282.1 2123.4,283.1" fill="none" stroke="#E03E26" stroke-width="2.7"/>
<circle cx="1915.3" cy="136.3" r="5.4" fill="#E03E26"/>
<path d="M1967.2 144.6V174.6M1961.2 144.6h12M1961.2 174.6h12" stroke="#E03E26" stroke-width="2.5" fill="none"/>
<circle cx="1967.2" cy="159.6" r="5.4" fill="#E03E26"/>
<path d="M2019.2 184.6V209.7M2013.2 184.6h12M2013.2 209.7h12" stroke="#E03E26" stroke-width="2.5" fill="none"/>
<circle cx="2019.2" cy="197.2" r="5.4" fill="#E03E26"/>
<circle cx="2071.3" cy="255.5" r="5.4" fill="#E03E26"/>
<polyline points="1808.9,129.7 1812,129.7 1815.2,129.7 1818.3,129.7 1821.5,129.7 1824.6,129.7 1827.8,129.7 1830.9,129.8 1834.1,129.8 1837.2,129.8 1840.4,129.8 1843.5,129.8 1846.6,129.9 1849.8,129.9 1852.9,129.9 1856.1,130 1859.2,130 1862.4,130 1865.5,130.1 1868.7,130.1 1871.8,130.2 1874.9,130.3 1878.1,130.3 1881.2,130.4 1884.4,130.5 1887.5,130.6 1890.7,130.7 1893.8,130.8 1897,131 1900.1,131.1 1903.3,131.3 1906.4,131.4 1909.5,131.6 1912.7,131.9 1915.8,132.1 1919,132.4 1922.1,132.7 1925.3,133 1928.4,133.3 1931.6,133.7 1934.7,134.2 1937.8,134.6 1941,135.2 1944.1,135.8 1947.3,136.4 1950.4,137.1 1953.6,137.9 1956.7,138.7 1959.9,139.7 1963,140.7 1966.2,141.8 1969.3,143 1972.4,144.3 1975.6,145.8 1978.7,147.4 1981.9,149.1 1985,150.9 1988.2,152.9 1991.3,155 1994.5,157.3 1997.6,159.8 2000.8,162.4 2003.9,165.2 2007,168.2 2010.2,171.3 2013.3,174.6 2016.5,178.1 2019.6,181.7 2022.8,185.5 2025.9,189.4 2029.1,193.4 2032.2,197.5 2035.3,201.7 2038.5,205.9 2041.6,210.2 2044.8,214.5 2047.9,218.8 2051.1,223 2054.2,227.3 2057.4,231.4 2060.5,235.4 2063.7,239.3 2066.8,243.2 2069.9,246.8 2073.1,250.3 2076.2,253.7 2079.4,256.9 2082.5,259.9 2085.7,262.8 2088.8,265.4 2092,267.9 2095.1,270.3 2098.2,272.5 2101.4,274.5 2104.5,276.4 2107.7,278.1 2110.8,279.8 2114,281.2 2117.1,282.6 2120.3,283.8 2123.4,285" fill="none" stroke="#E8952D" stroke-width="2.7"/>
<path d="M1808.9 125.4V133.8M1802.9 125.4h12M1802.9 133.8h12" stroke="#E8952D" stroke-width="2.5" fill="none"/>
<circle cx="1808.9" cy="129.6" r="5.4" fill="#E8952D"/>
<circle cx="1915.3" cy="132.9" r="5.4" fill="#E8952D"/>
<path d="M1967.2 126.9V153.6M1961.2 126.9h12M1961.2 153.6h12" stroke="#E8952D" stroke-width="2.5" fill="none"/>
<circle cx="1967.2" cy="140.3" r="5.4" fill="#E8952D"/>
<path d="M2019.2 163V199.7M2013.2 163h12M2013.2 199.7h12" stroke="#E8952D" stroke-width="2.5" fill="none"/>
<circle cx="2019.2" cy="181.3" r="5.4" fill="#E8952D"/>
<circle cx="2071.3" cy="248.5" r="5.4" fill="#E8952D"/>
<polyline points="1808.9,121.3 1812,121.3 1815.2,121.3 1818.3,121.3 1821.5,121.3 1824.6,121.3 1827.8,121.3 1830.9,121.3 1834.1,121.3 1837.2,121.3 1840.4,121.3 1843.5,121.3 1846.6,121.3 1849.8,121.3 1852.9,121.3 1856.1,121.3 1859.2,121.3 1862.4,121.3 1865.5,121.3 1868.7,121.3 1871.8,121.3 1874.9,121.3 1878.1,121.3 1881.2,121.3 1884.4,121.3 1887.5,121.3 1890.7,121.3 1893.8,121.3 1897,121.3 1900.1,121.3 1903.3,121.3 1906.4,121.3 1909.5,121.3 1912.7,121.3 1915.8,121.3 1919,121.3 1922.1,121.3 1925.3,121.3 1928.4,121.3 1931.6,121.3 1934.7,121.3 1937.8,121.3 1941,121.3 1944.1,121.3 1947.3,121.3 1950.4,121.3 1953.6,121.3 1956.7,121.3 1959.9,121.3 1963,121.3 1966.2,121.3 1969.3,121.3 1972.4,121.3 1975.6,121.4 1978.7,121.4 1981.9,121.4 1985,121.5 1988.2,121.5 1991.3,121.6 1994.5,121.7 1997.6,121.9 2000.8,122 2003.9,122.2 2007,122.5 2010.2,122.9 2013.3,123.3 2016.5,123.9 2019.6,124.6 2022.8,125.5 2025.9,126.7 2029.1,128.2 2032.2,130 2035.3,132.3 2038.5,135.2 2041.6,138.8 2044.8,143.1 2047.9,148.4 2051.1,154.6 2054.2,161.9 2057.4,170.2 2060.5,179.4 2063.7,189.5 2066.8,200.1 2069.9,211 2073.1,221.8 2076.2,232.2 2079.4,242 2082.5,250.9 2085.7,258.8 2088.8,265.6 2092,271.5 2095.1,276.3 2098.2,280.4 2101.4,283.6 2104.5,286.3 2107.7,288.4 2110.8,290.1 2114,291.5 2117.1,292.5 2120.3,293.4 2123.4,294" fill="none" stroke="#999999" stroke-width="2.7"/>
<circle cx="1967.2" cy="115.4" r="5.4" fill="#999999"/>
<path d="M2019.2 114.6V131.3M2013.2 114.6h12M2013.2 131.3h12" stroke="#999999" stroke-width="2.5" fill="none"/>
<circle cx="2019.2" cy="122.9" r="5.4" fill="#999999"/>
<path d="M2071.3 199.7V226.3M2065.3 199.7h12M2065.3 226.3h12" stroke="#999999" stroke-width="2.5" fill="none"/>
<circle cx="2071.3" cy="213" r="5.4" fill="#999999"/>
<polyline points="1808.9,122.9 1812,122.9 1815.2,122.9 1818.3,122.9 1821.5,122.9 1824.6,122.9 1827.8,122.9 1830.9,122.9 1834.1,122.9 1837.2,122.9 1840.4,122.9 1843.5,122.9 1846.6,122.9 1849.8,122.9 1852.9,122.9 1856.1,122.9 1859.2,122.9 1862.4,122.9 1865.5,122.9 1868.7,122.9 1871.8,122.9 1874.9,122.9 1878.1,122.9 1881.2,122.9 1884.4,122.9 1887.5,122.9 1890.7,122.9 1893.8,122.9 1897,122.9 1900.1,122.9 1903.3,122.9 1906.4,122.9 1909.5,122.9 1912.7,122.9 1915.8,122.9 1919,122.9 1922.1,122.9 1925.3,122.9 1928.4,122.9 1931.6,122.9 1934.7,122.9 1937.8,122.9 1941,122.9 1944.1,122.9 1947.3,122.9 1950.4,123 1953.6,123 1956.7,123 1959.9,123 1963,123 1966.2,123 1969.3,123 1972.4,123.1 1975.6,123.1 1978.7,123.2 1981.9,123.2 1985,123.3 1988.2,123.4 1991.3,123.5 1994.5,123.7 1997.6,123.9 2000.8,124.1 2003.9,124.4 2007,124.8 2010.2,125.3 2013.3,125.9 2016.5,126.7 2019.6,127.7 2022.8,128.9 2025.9,130.4 2029.1,132.3 2032.2,134.6 2035.3,137.4 2038.5,140.9 2041.6,145.1 2044.8,150.1 2047.9,156 2051.1,162.7 2054.2,170.4 2057.4,179 2060.5,188.3 2063.7,198.2 2066.8,208.4 2069.9,218.6 2073.1,228.6 2076.2,238.1 2079.4,246.8 2082.5,254.8 2085.7,261.8 2088.8,267.9 2092,273.1 2095.1,277.5 2098.2,281.1 2101.4,284.1 2104.5,286.5 2107.7,288.5 2110.8,290.1 2114,291.4 2117.1,292.4 2120.3,293.2 2123.4,293.9" fill="none" stroke="#000000" stroke-width="2.7"/>
<path d="M1808.9 126.3V132.9M1802.9 126.3h12M1802.9 132.9h12" stroke="#000000" stroke-width="2.5" fill="none"/>
<circle cx="1808.9" cy="129.6" r="5.4" fill="#000000"/>
<path d="M1915.3 111.9V125.3M1909.3 111.9h12M1909.3 125.3h12" stroke="#000000" stroke-width="2.5" fill="none"/>
<circle cx="1915.3" cy="118.6" r="5.4" fill="#000000"/>
<circle cx="1967.2" cy="117.9" r="5.4" fill="#000000"/>
<path d="M2019.2 119.4V131.1M2013.2 119.4h12M2013.2 131.1h12" stroke="#000000" stroke-width="2.5" fill="none"/>
<circle cx="2019.2" cy="125.3" r="5.4" fill="#000000"/>
<path d="M2071.3 213.8V232.2M2065.3 213.8h12M2065.3 232.2h12" stroke="#000000" stroke-width="2.5" fill="none"/>
<circle cx="2071.3" cy="223" r="5.4" fill="#000000"/>
<text x="173.1" y="509.1" font-size="22" textLength="98.52" lengthAdjust="spacingAndGlyphs" stroke="#000" stroke-width="0.45">PC9 - CBE</text>
<path d="M65.3 532.2V742.1H379.9" fill="none" stroke="#000" stroke-width="2.7"/>
<line x1="55.5" y1="567.5" x2="65.3" y2="567.5" stroke="#000" stroke-width="2.7"/>
<text x="29.8" y="572.8" font-size="16.7" textLength="25.91" lengthAdjust="spacingAndGlyphs" stroke="#000" stroke-width="0.45">100</text>
<line x1="55.5" y1="654.8" x2="65.3" y2="654.8" stroke="#000" stroke-width="2.7"/>
<text x="38.4" y="660.1" font-size="16.7" textLength="17.28" lengthAdjust="spacingAndGlyphs" stroke="#000" stroke-width="0.45">50</text>
<line x1="55.5" y1="742.1" x2="65.3" y2="742.1" stroke="#000" stroke-width="2.7"/>
<text x="47.1" y="747.4" font-size="16.7" textLength="8.64" lengthAdjust="spacingAndGlyphs" stroke="#000" stroke-width="0.45">0</text>
<line x1="65.3" y1="742.1" x2="65.3" y2="751.6" stroke="#000" stroke-width="2.7"/>
<text x="50.3" y="767.7" font-size="16.3" textLength="18.13" lengthAdjust="spacingAndGlyphs" stroke="#000" stroke-width="0.45">10</text><text x="68.5" y="761.2" font-size="12.5" textLength="10.56" lengthAdjust="spacingAndGlyphs" stroke="#000" stroke-width="0.36000000000000004">-1</text>
<line x1="128.7" y1="742.1" x2="128.7" y2="751.6" stroke="#000" stroke-width="2.7"/>
<text x="115.6" y="767.7" font-size="16.3" textLength="18.13" lengthAdjust="spacingAndGlyphs" stroke="#000" stroke-width="0.45">10</text><text x="133.8" y="761.2" font-size="12.5" textLength="6.60" lengthAdjust="spacingAndGlyphs" stroke="#000" stroke-width="0.36000000000000004">0</text>
<line x1="192.1" y1="742.1" x2="192.1" y2="751.6" stroke="#000" stroke-width="2.7"/>
<text x="179.3" y="767.7" font-size="16.3" textLength="18.13" lengthAdjust="spacingAndGlyphs" stroke="#000" stroke-width="0.45">10</text><text x="197.1" y="761.2" font-size="12.5" textLength="6.60" lengthAdjust="spacingAndGlyphs" stroke="#000" stroke-width="0.36000000000000004">1</text>
<line x1="255.6" y1="742.1" x2="255.6" y2="751.6" stroke="#000" stroke-width="2.7"/>
<text x="242.6" y="767.7" font-size="16.3" textLength="18.13" lengthAdjust="spacingAndGlyphs" stroke="#000" stroke-width="0.45">10</text><text x="260.7" y="761.2" font-size="12.5" textLength="6.60" lengthAdjust="spacingAndGlyphs" stroke="#000" stroke-width="0.36000000000000004">2</text>
<line x1="319" y1="742.1" x2="319" y2="751.6" stroke="#000" stroke-width="2.7"/>
<text x="305.9" y="767.7" font-size="16.3" textLength="18.13" lengthAdjust="spacingAndGlyphs" stroke="#000" stroke-width="0.45">10</text><text x="324.2" y="761.2" font-size="12.5" textLength="6.60" lengthAdjust="spacingAndGlyphs" stroke="#000" stroke-width="0.36000000000000004">3</text>
<text x="172.4" y="792.1" font-size="17.5" textLength="101.48" lengthAdjust="spacingAndGlyphs" stroke="#000" stroke-width="0.45">cisplatin (nM)</text>
<text transform="translate(21.1 697.4) rotate(-90)" x="-0.86" y="0" font-size="18" textLength="122.82" lengthAdjust="spacingAndGlyphs" stroke="#000" stroke-width="0.45">CTG (% control)</text>
<polyline points="65.3,559.6 68.5,559.6 71.6,559.6 74.8,559.6 77.9,559.6 81.1,559.6 84.2,559.6 87.4,559.6 90.5,559.6 93.7,559.6 96.8,559.6 100,559.6 103.1,559.6 106.3,559.6 109.4,559.6 112.6,559.6 115.7,559.6 118.9,559.6 122,559.7 125.2,559.7 128.3,559.7 131.5,559.7 134.6,559.7 137.8,559.7 140.9,559.7 144.1,559.7 147.2,559.7 150.4,559.7 153.5,559.7 156.7,559.7 159.8,559.7 163,559.7 166.1,559.7 169.3,559.7 172.4,559.7 175.6,559.7 178.7,559.7 181.9,559.7 185,559.8 188.2,559.8 191.3,559.8 194.5,559.8 197.6,559.9 200.8,559.9 203.9,559.9 207.1,560 210.2,560 213.4,560.1 216.5,560.1 219.7,560.2 222.8,560.3 226,560.4 229.1,560.5 232.3,560.7 235.5,560.8 238.6,561 241.8,561.2 244.9,561.4 248.1,561.7 251.2,562 254.4,562.4 257.5,562.8 260.7,563.2 263.8,563.8 267,564.4 270.1,565.1 273.3,565.9 276.4,566.8 279.6,567.8 282.7,569 285.9,570.4 289,571.9 292.2,573.6 295.3,575.5 298.5,577.6 301.6,580 304.8,582.7 307.9,585.7 311.1,588.9 314.2,592.5 317.4,596.4 320.5,600.6 323.7,605.1 326.8,610 330,615 333.1,620.4 336.3,625.9 339.4,631.6 342.6,637.4 345.7,643.3 348.9,649.1 352,654.9 355.2,660.5 358.3,666 361.5,671.2 364.6,676.2 367.8,680.9 370.9,685.3 374.1,689.4 377.2,693.2 380.4,696.6" fill="none" stroke="#E8952D" stroke-width="2.7"/>
<path d="M182.1 558.8V565.8M176.1 558.8h12M176.1 565.8h12" stroke="#E8952D" stroke-width="2.5" fill="none"/>
<circle cx="182.1" cy="562.3" r="5.4" fill="#E8952D"/>
<path d="M281.2 566.1V580.1M275.2 566.1h12M275.2 580.1h12" stroke="#E8952D" stroke-width="2.5" fill="none"/>
<circle cx="281.2" cy="573.1" r="5.4" fill="#E8952D"/>
<circle cx="330.7" cy="616.4" r="5.4" fill="#E8952D"/>
<circle cx="380.4" cy="696.7" r="5.4" fill="#E8952D"/>
<polyline points="65.3,558.8 68.5,558.8 71.6,558.8 74.8,558.8 77.9,558.8 81.1,558.8 84.2,558.8 87.4,558.8 90.5,558.8 93.7,558.8 96.8,558.8 100,558.8 103.1,558.8 106.3,558.8 109.4,558.8 112.6,558.8 115.7,558.8 118.9,558.8 122,558.8 125.2,558.8 128.3,558.8 131.5,558.8 134.6,558.8 137.8,558.8 140.9,558.8 144.1,558.8 147.2,558.8 150.4,558.8 153.5,558.8 156.7,558.8 159.8,558.8 163,558.8 166.1,558.8 169.3,558.8 172.4,558.8 175.6,558.8 178.7,558.8 181.9,558.8 185,558.8 188.2,558.8 191.3,558.8 194.5,558.8 197.6,558.9 200.8,558.9 203.9,558.9 207.1,558.9 210.2,558.9 213.4,559 216.5,559 219.7,559 222.8,559.1 226,559.1 229.1,559.2 232.3,559.2 235.5,559.3 238.6,559.4 241.8,559.5 244.9,559.6 248.1,559.8 251.2,559.9 254.4,560.1 257.5,560.3 260.7,560.6 263.8,560.9 267,561.3 270.1,561.7 273.3,562.1 276.4,562.7 279.6,563.3 282.7,564 285.9,564.9 289,565.9 292.2,567 295.3,568.3 298.5,569.7 301.6,571.4 304.8,573.3 307.9,575.5 311.1,577.9 314.2,580.6 317.4,583.6 320.5,587 323.7,590.7 326.8,594.7 330,599.1 333.1,603.8 336.3,608.8 339.4,614 342.6,619.5 345.7,625.1 348.9,630.8 352,636.5 355.2,642.2 358.3,647.8 361.5,653.2 364.6,658.4 367.8,663.3 370.9,667.9 374.1,672.2 377.2,676.2 380.4,679.8" fill="none" stroke="#999999" stroke-width="2.7"/>
<circle cx="330.7" cy="598.9" r="5.4" fill="#999999"/>
<circle cx="380.4" cy="677.5" r="5.4" fill="#999999"/>
<polyline points="65.3,557.9 68.5,557.9 71.6,557.9 74.8,557.9 77.9,557.9 81.1,557.9 84.2,557.9 87.4,557.9 90.5,557.9 93.7,557.9 96.8,557.9 100,557.9 103.1,557.9 106.3,557.9 109.4,557.9 112.6,557.9 115.7,557.9 118.9,557.9 122,557.9 125.2,557.9 128.3,557.9 131.5,557.9 134.6,557.9 137.8,557.9 140.9,557.9 144.1,557.9 147.2,557.9 150.4,557.9 153.5,557.9 156.7,557.9 159.8,557.9 163,557.9 166.1,557.9 169.3,557.9 172.4,557.9 175.6,557.9 178.7,557.9 181.9,557.9 185,557.9 188.2,557.9 191.3,557.9 194.5,558 197.6,558 200.8,558 203.9,558 207.1,558 210.2,558 213.4,558 216.5,558.1 219.7,558.1 222.8,558.1 226,558.2 229.1,558.2 232.3,558.3 235.5,558.3 238.6,558.4 241.8,558.5 244.9,558.6 248.1,558.7 251.2,558.9 254.4,559 257.5,559.2 260.7,559.5 263.8,559.7 267,560 270.1,560.4 273.3,560.8 276.4,561.3 279.6,561.9 282.7,562.5 285.9,563.3 289,564.2 292.2,565.2 295.3,566.4 298.5,567.7 301.6,569.3 304.8,571.1 307.9,573.1 311.1,575.4 314.2,578 317.4,581 320.5,584.2 323.7,587.8 326.8,591.8 330,596.2 333.1,600.8 336.3,605.8 339.4,611.1 342.6,616.7 345.7,622.4 348.9,628.3 352,634.2 355.2,640.1 358.3,645.9 361.5,651.5 364.6,656.9 367.8,662.1 370.9,666.9 374.1,671.4 377.2,675.5 380.4,679.3" fill="none" stroke="#000000" stroke-width="2.7"/>
<path d="M65.3 560.5V574.5M59.3 560.5h12M59.3 574.5h12" stroke="#000000" stroke-width="2.5" fill="none"/>
<circle cx="65.3" cy="567.5" r="5.4" fill="#000000"/>
<path d="M182.1 549.5V561.7M176.1 549.5h12M176.1 561.7h12" stroke="#000000" stroke-width="2.5" fill="none"/>
<circle cx="182.1" cy="555.6" r="5.4" fill="#000000"/>
<path d="M231.3 551.8V562.3M225.3 551.8h12M225.3 562.3h12" stroke="#000000" stroke-width="2.5" fill="none"/>
<circle cx="231.3" cy="557" r="5.4" fill="#000000"/>
<path d="M281.2 555.3V569.2M275.2 555.3h12M275.2 569.2h12" stroke="#000000" stroke-width="2.5" fill="none"/>
<circle cx="281.2" cy="562.3" r="5.4" fill="#000000"/>
<path d="M330.7 591.1V603.3M324.7 591.1h12M324.7 603.3h12" stroke="#000000" stroke-width="2.5" fill="none"/>
<circle cx="330.7" cy="597.2" r="5.4" fill="#000000"/>
<circle cx="380.4" cy="679.2" r="5.4" fill="#000000"/>
<text x="636.4" y="499.4" font-size="22" textLength="97.01" lengthAdjust="spacingAndGlyphs" stroke="#000" stroke-width="0.45">PC9 - ABE</text>
<path d="M527.4 521.8V731.7H842.5" fill="none" stroke="#000" stroke-width="2.7"/>
<line x1="517.6" y1="557.1" x2="527.4" y2="557.1" stroke="#000" stroke-width="2.7"/>
<text x="491.9" y="562.4" font-size="16.7" textLength="25.91" lengthAdjust="spacingAndGlyphs" stroke="#000" stroke-width="0.45">100</text>
<line x1="517.6" y1="644.4" x2="527.4" y2="644.4" stroke="#000" stroke-width="2.7"/>
<text x="500.5" y="649.7" font-size="16.7" textLength="17.28" lengthAdjust="spacingAndGlyphs" stroke="#000" stroke-width="0.45">50</text>
<line x1="517.6" y1="731.7" x2="527.4" y2="731.7" stroke="#000" stroke-width="2.7"/>
<text x="509.2" y="737" font-size="16.7" textLength="8.64" lengthAdjust="spacingAndGlyphs" stroke="#000" stroke-width="0.45">0</text>
<line x1="527.4" y1="731.7" x2="527.4" y2="741.2" stroke="#000" stroke-width="2.7"/>
<text x="512.4" y="757.3" font-size="16.3" textLength="18.13" lengthAdjust="spacingAndGlyphs" stroke="#000" stroke-width="0.45">10</text><text x="530.6" y="750.8" font-size="12.5" textLength="10.56" lengthAdjust="spacingAndGlyphs" stroke="#000" stroke-width="0.36000000000000004">-1</text>
<line x1="591" y1="731.7" x2="591" y2="741.2" stroke="#000" stroke-width="2.7"/>
<text x="577.8" y="757.3" font-size="16.3" textLength="18.13" lengthAdjust="spacingAndGlyphs" stroke="#000" stroke-width="0.45">10</text><text x="596.1" y="750.8" font-size="12.5" textLength="6.60" lengthAdjust="spacingAndGlyphs" stroke="#000" stroke-width="0.36000000000000004">0</text>
<line x1="654.5" y1="731.7" x2="654.5" y2="741.2" stroke="#000" stroke-width="2.7"/>
<text x="641.7" y="757.3" font-size="16.3" textLength="18.13" lengthAdjust="spacingAndGlyphs" stroke="#000" stroke-width="0.45">10</text><text x="659.5" y="750.8" font-size="12.5" textLength="6.60" lengthAdjust="spacingAndGlyphs" stroke="#000" stroke-width="0.36000000000000004">1</text>
<line x1="718.1" y1="731.7" x2="718.1" y2="741.2" stroke="#000" stroke-width="2.7"/>
<text x="705.1" y="757.3" font-size="16.3" textLength="18.13" lengthAdjust="spacingAndGlyphs" stroke="#000" stroke-width="0.45">10</text><text x="723.2" y="750.8" font-size="12.5" textLength="6.60" lengthAdjust="spacingAndGlyphs" stroke="#000" stroke-width="0.36000000000000004">2</text>
<line x1="781.6" y1="731.7" x2="781.6" y2="741.2" stroke="#000" stroke-width="2.7"/>
<text x="768.5" y="757.3" font-size="16.3" textLength="18.13" lengthAdjust="spacingAndGlyphs" stroke="#000" stroke-width="0.45">10</text><text x="786.8" y="750.8" font-size="12.5" textLength="6.60" lengthAdjust="spacingAndGlyphs" stroke="#000" stroke-width="0.36000000000000004">3</text>
<text x="634.7" y="782.4" font-size="17.5" textLength="101.08" lengthAdjust="spacingAndGlyphs" stroke="#000" stroke-width="0.45">cisplatin (nM)</text>
<text transform="translate(483.7 687.4) rotate(-90)" x="-0.87" y="0" font-size="18" textLength="123.22" lengthAdjust="spacingAndGlyphs" stroke="#000" stroke-width="0.45">CTG (% control)</text>
<polyline points="527.4,553.6 530.6,553.6 533.7,553.6 536.9,553.6 540,553.6 543.2,553.6 546.3,553.6 549.5,553.6 552.6,553.6 555.8,553.6 558.9,553.6 562.1,553.6 565.2,553.6 568.4,553.6 571.5,553.6 574.7,553.6 577.8,553.6 581,553.6 584.1,553.6 587.3,553.6 590.4,553.6 593.6,553.6 596.7,553.6 599.9,553.6 603,553.6 606.2,553.6 609.3,553.6 612.5,553.6 615.6,553.6 618.8,553.6 621.9,553.6 625.1,553.6 628.2,553.6 631.4,553.6 634.5,553.6 637.7,553.6 640.8,553.6 644,553.6 647.1,553.6 650.3,553.6 653.4,553.7 656.6,553.7 659.7,553.7 662.9,553.7 666,553.7 669.2,553.7 672.3,553.7 675.5,553.8 678.6,553.8 681.8,553.8 684.9,553.8 688.1,553.9 691.2,553.9 694.4,554 697.5,554.1 700.7,554.1 703.8,554.2 707,554.4 710.1,554.5 713.3,554.6 716.4,554.8 719.6,555 722.8,555.3 725.9,555.6 729.1,556 732.2,556.4 735.4,556.9 738.5,557.4 741.7,558.1 744.8,558.9 748,559.8 751.1,560.9 754.3,562.1 757.4,563.6 760.6,565.2 763.7,567.2 766.9,569.4 770,571.9 773.2,574.8 776.3,578 779.5,581.7 782.6,585.8 785.8,590.4 788.9,595.3 792.1,600.8 795.2,606.6 798.4,612.8 801.5,619.3 804.7,626.1 807.8,633 811,640 814.1,647 817.3,653.9 820.4,660.5 823.6,666.9 826.7,672.9 829.9,678.5 833,683.8 836.2,688.5 839.3,692.8 842.5,696.7" fill="none" stroke="#E03E26" stroke-width="2.7"/>
<path d="M644.3 551.9V558.8M638.3 551.9h12M638.3 558.8h12" stroke="#E03E26" stroke-width="2.5" fill="none"/>
<circle cx="644.3" cy="555.4" r="5.4" fill="#E03E26"/>
<path d="M693.5 551V559.7M687.5 551h12M687.5 559.7h12" stroke="#E03E26" stroke-width="2.5" fill="none"/>
<circle cx="693.5" cy="555.4" r="5.4" fill="#E03E26"/>
<path d="M743.4 557.1V574.6M737.4 557.1h12M737.4 574.6h12" stroke="#E03E26" stroke-width="2.5" fill="none"/>
<circle cx="743.4" cy="565.8" r="5.4" fill="#E03E26"/>
<circle cx="792.9" cy="595.5" r="5.4" fill="#E03E26"/>
<circle cx="842.5" cy="696.8" r="5.4" fill="#E03E26"/>
<polyline points="527.4,552.7 530.6,552.7 533.7,552.7 536.9,552.7 540,552.7 543.2,552.7 546.3,552.7 549.5,552.7 552.6,552.7 555.8,552.7 558.9,552.7 562.1,552.7 565.2,552.7 568.4,552.7 571.5,552.7 574.7,552.7 577.8,552.7 581,552.7 584.1,552.7 587.3,552.7 590.4,552.7 593.6,552.7 596.7,552.7 599.9,552.7 603,552.7 606.2,552.7 609.3,552.7 612.5,552.7 615.6,552.7 618.8,552.7 621.9,552.7 625.1,552.7 628.2,552.7 631.4,552.7 634.5,552.7 637.7,552.7 640.8,552.7 644,552.8 647.1,552.8 650.3,552.8 653.4,552.8 656.6,552.8 659.7,552.8 662.9,552.8 666,552.8 669.2,552.8 672.3,552.8 675.5,552.8 678.6,552.8 681.8,552.9 684.9,552.9 688.1,552.9 691.2,553 694.4,553 697.5,553.1 700.7,553.1 703.8,553.2 707,553.3 710.1,553.4 713.3,553.5 716.4,553.6 719.6,553.8 722.8,554 725.9,554.2 729.1,554.5 732.2,554.8 735.4,555.2 738.5,555.7 741.7,556.3 744.8,556.9 748,557.7 751.1,558.6 754.3,559.6 757.4,560.8 760.6,562.3 763.7,564 766.9,565.9 770,568.2 773.2,570.8 776.3,573.8 779.5,577.2 782.6,581.1 785.8,585.5 788.9,590.3 792.1,595.7 795.2,601.6 798.4,607.9 801.5,614.7 804.7,621.9 807.8,629.3 811,637 814.1,644.7 817.3,652.3 820.4,659.9 823.6,667.1 826.7,674.1 829.9,680.6 833,686.6 836.2,692.2 839.3,697.3 842.5,701.8" fill="none" stroke="#E8952D" stroke-width="2.7"/>
<circle cx="644.3" cy="553.6" r="5.4" fill="#E8952D"/>
<circle cx="693.5" cy="555.4" r="5.4" fill="#E8952D"/>
<circle cx="743.4" cy="565.8" r="5.4" fill="#E8952D"/>
<path d="M792.9 590.3V604.2M786.9 590.3h12M786.9 604.2h12" stroke="#E8952D" stroke-width="2.5" fill="none"/>
<circle cx="792.9" cy="597.3" r="5.4" fill="#E8952D"/>
<circle cx="842.5" cy="702" r="5.4" fill="#E8952D"/>
<polyline points="527.4,550.1 530.6,550.1 533.7,550.1 536.9,550.1 540,550.1 543.2,550.1 546.3,550.1 549.5,550.1 552.6,550.1 555.8,550.1 558.9,550.1 562.1,550.1 565.2,550.1 568.4,550.1 571.5,550.1 574.7,550.1 577.8,550.1 581,550.1 584.1,550.1 587.3,550.1 590.4,550.1 593.6,550.1 596.7,550.1 599.9,550.1 603,550.1 606.2,550.1 609.3,550.1 612.5,550.1 615.6,550.1 618.8,550.1 621.9,550.1 625.1,550.1 628.2,550.1 631.4,550.1 634.5,550.1 637.7,550.1 640.8,550.1 644,550.1 647.1,550.1 650.3,550.1 653.4,550.1 656.6,550.1 659.7,550.1 662.9,550.1 666,550.1 669.2,550.2 672.3,550.2 675.5,550.2 678.6,550.2 681.8,550.2 684.9,550.2 688.1,550.2 691.2,550.2 694.4,550.3 697.5,550.3 700.7,550.3 703.8,550.4 707,550.4 710.1,550.5 713.3,550.6 716.4,550.7 719.6,550.8 722.8,550.9 725.9,551.1 729.1,551.3 732.2,551.5 735.4,551.8 738.5,552.1 741.7,552.5 744.8,553 748,553.5 751.1,554.2 754.3,555 757.4,555.9 760.6,557.1 763.7,558.4 766.9,559.9 770,561.8 773.2,563.9 776.3,566.4 779.5,569.2 782.6,572.5 785.8,576.2 788.9,580.4 792.1,585.1 795.2,590.3 798.4,596 801.5,602.1 804.7,608.6 807.8,615.4 811,622.4 814.1,629.5 817.3,636.6 820.4,643.5 823.6,650.1 826.7,656.5 829.9,662.4 833,667.8 836.2,672.8 839.3,677.3 842.5,681.2" fill="none" stroke="#999999" stroke-width="2.7"/>
<circle cx="693.5" cy="548.4" r="5.4" fill="#999999"/>
<circle cx="743.4" cy="555.4" r="5.4" fill="#999999"/>
<path d="M792.9 574.6V581.5M786.9 574.6h12M786.9 581.5h12" stroke="#999999" stroke-width="2.5" fill="none"/>
<circle cx="792.9" cy="578.1" r="5.4" fill="#999999"/>
<path d="M842.5 681.1V688.1M836.5 681.1h12M836.5 688.1h12" stroke="#999999" stroke-width="2.5" fill="none"/>
<circle cx="842.5" cy="684.6" r="5.4" fill="#999999"/>
<polyline points="527.4,547.5 530.6,547.5 533.7,547.5 536.9,547.5 540,547.5 543.2,547.5 546.3,547.5 549.5,547.5 552.6,547.5 555.8,547.5 558.9,547.5 562.1,547.5 565.2,547.5 568.4,547.5 571.5,547.5 574.7,547.5 577.8,547.5 581,547.5 584.1,547.5 587.3,547.5 590.4,547.5 593.6,547.5 596.7,547.5 599.9,547.5 603,547.5 606.2,547.5 609.3,547.5 612.5,547.5 615.6,547.5 618.8,547.5 621.9,547.5 625.1,547.5 628.2,547.5 631.4,547.5 634.5,547.5 637.7,547.5 640.8,547.5 644,547.5 647.1,547.5 650.3,547.5 653.4,547.5 656.6,547.5 659.7,547.5 662.9,547.5 666,547.5 669.2,547.5 672.3,547.5 675.5,547.5 678.6,547.5 681.8,547.5 684.9,547.5 688.1,547.5 691.2,547.5 694.4,547.6 697.5,547.6 700.7,547.6 703.8,547.6 707,547.6 710.1,547.7 713.3,547.7 716.4,547.8 719.6,547.8 722.8,547.9 725.9,548 729.1,548.1 732.2,548.2 735.4,548.4 738.5,548.6 741.7,548.9 744.8,549.2 748,549.6 751.1,550 754.3,550.6 757.4,551.3 760.6,552.2 763.7,553.3 766.9,554.6 770,556.2 773.2,558 776.3,560.3 779.5,563 782.6,566.2 785.8,570 788.9,574.3 792.1,579.2 795.2,584.8 798.4,591.1 801.5,597.9 804.7,605.1 807.8,612.7 811,620.6 814.1,628.4 817.3,636.2 820.4,643.6 823.6,650.6 826.7,657 829.9,662.9 833,668.1 836.2,672.7 839.3,676.7 842.5,680.1" fill="none" stroke="#000000" stroke-width="2.7"/>
<circle cx="527.4" cy="557.1" r="5.4" fill="#000000"/>
<circle cx="644.3" cy="546.6" r="5.4" fill="#000000"/>
<path d="M693.5 533.5V544M687.5 533.5h12M687.5 544h12" stroke="#000000" stroke-width="2.5" fill="none"/>
<circle cx="693.5" cy="538.8" r="5.4" fill="#000000"/>
<path d="M743.4 543.1V557.1M737.4 543.1h12M737.4 557.1h12" stroke="#000000" stroke-width="2.5" fill="none"/>
<circle cx="743.4" cy="550.1" r="5.4" fill="#000000"/>
<circle cx="792.9" cy="580.7" r="5.4" fill="#000000"/>
<circle cx="842.5" cy="680" r="5.4" fill="#000000"/>
<text x="1124.8" y="489.4" font-size="22" textLength="99.24" lengthAdjust="spacingAndGlyphs" stroke="#000" stroke-width="0.45">PC9 - CBE</text>
<path d="M1017.4 512.3V722.5H1332.7" fill="none" stroke="#000" stroke-width="2.7"/>
<line x1="1007.6" y1="547.1" x2="1017.4" y2="547.1" stroke="#000" stroke-width="2.7"/>
<text x="981.9" y="552.4" font-size="16.7" textLength="25.91" lengthAdjust="spacingAndGlyphs" stroke="#000" stroke-width="0.45">100</text>
<line x1="1007.6" y1="634.8" x2="1017.4" y2="634.8" stroke="#000" stroke-width="2.7"/>
<text x="990.5" y="640.1" font-size="16.7" textLength="17.28" lengthAdjust="spacingAndGlyphs" stroke="#000" stroke-width="0.45">50</text>
<line x1="1007.6" y1="722.5" x2="1017.4" y2="722.5" stroke="#000" stroke-width="2.7"/>
<text x="999.2" y="727.8" font-size="16.7" textLength="8.64" lengthAdjust="spacingAndGlyphs" stroke="#000" stroke-width="0.45">0</text>
<line x1="1017.4" y1="722.5" x2="1017.4" y2="732" stroke="#000" stroke-width="2.7"/>
<text x="1002.4" y="748.1" font-size="16.3" textLength="18.13" lengthAdjust="spacingAndGlyphs" stroke="#000" stroke-width="0.45">10</text><text x="1020.6" y="741.6" font-size="12.5" textLength="10.56" lengthAdjust="spacingAndGlyphs" stroke="#000" stroke-width="0.36000000000000004">-1</text>
<line x1="1096.2" y1="722.5" x2="1096.2" y2="732" stroke="#000" stroke-width="2.7"/>
<text x="1083.1" y="748.1" font-size="16.3" textLength="18.13" lengthAdjust="spacingAndGlyphs" stroke="#000" stroke-width="0.45">10</text><text x="1101.3" y="741.6" font-size="12.5" textLength="6.60" lengthAdjust="spacingAndGlyphs" stroke="#000" stroke-width="0.36000000000000004">0</text>
<line x1="1175" y1="722.5" x2="1175" y2="732" stroke="#000" stroke-width="2.7"/>
<text x="1162.2" y="748.1" font-size="16.3" textLength="18.13" lengthAdjust="spacingAndGlyphs" stroke="#000" stroke-width="0.45">10</text><text x="1180" y="741.6" font-size="12.5" textLength="6.60" lengthAdjust="spacingAndGlyphs" stroke="#000" stroke-width="0.36000000000000004">1</text>
<line x1="1253.9" y1="722.5" x2="1253.9" y2="732" stroke="#000" stroke-width="2.7"/>
<text x="1240.9" y="748.1" font-size="16.3" textLength="18.13" lengthAdjust="spacingAndGlyphs" stroke="#000" stroke-width="0.45">10</text><text x="1259" y="741.6" font-size="12.5" textLength="6.60" lengthAdjust="spacingAndGlyphs" stroke="#000" stroke-width="0.36000000000000004">2</text>
<line x1="1332.7" y1="722.5" x2="1332.7" y2="732" stroke="#000" stroke-width="2.7"/>
<text x="1319.6" y="748.1" font-size="16.3" textLength="18.13" lengthAdjust="spacingAndGlyphs" stroke="#000" stroke-width="0.45">10</text><text x="1337.9" y="741.6" font-size="12.5" textLength="6.60" lengthAdjust="spacingAndGlyphs" stroke="#000" stroke-width="0.36000000000000004">3</text>
<text x="1119.9" y="772.5" font-size="17.5" textLength="110.75" lengthAdjust="spacingAndGlyphs" stroke="#000" stroke-width="0.45">paclitaxel (nM)</text>
<text transform="translate(972.8 677.4) rotate(-90)" x="-0.86" y="0" font-size="18" textLength="122.82" lengthAdjust="spacingAndGlyphs" stroke="#000" stroke-width="0.45">CTG (% control)</text>
<polyline points="1017.4,547.1 1020.5,548.3 1023.7,549.6 1026.8,551 1030,552.5 1033.1,554.2 1036.3,556.1 1039.4,558.1 1042.6,560.3 1045.7,562.7 1048.9,565.3 1052,568.1 1055.2,571.1 1058.3,574.3 1061.5,577.8 1064.6,581.4 1067.8,585.2 1070.9,589.2 1074.1,593.4 1077.2,597.7 1080.4,602.2 1083.5,606.8 1086.7,611.5 1089.8,616.2 1093,621 1096.1,625.8 1099.3,630.5 1102.4,635.2 1105.6,639.8 1108.7,644.3 1111.9,648.7 1115,652.9 1118.2,656.9 1121.3,660.7 1124.5,664.4 1127.6,667.8 1130.8,671 1133.9,674 1137.1,676.9 1140.2,679.5 1143.4,681.9 1146.5,684.1 1149.7,686.2 1152.8,688 1156,689.7 1159.1,691.3 1162.3,692.7 1165.4,694 1168.6,695.2 1171.7,696.3 1174.9,697.2 1178,698.1 1181.2,698.9 1184.3,699.6 1187.4,700.2 1190.6,700.8 1193.7,701.3 1196.9,701.8 1200,702.2 1203.2,702.6 1206.3,702.9 1209.5,703.2 1212.6,703.5 1215.8,703.7 1218.9,703.9 1222.1,704.1 1225.2,704.3 1228.4,704.5 1231.5,704.6 1234.7,704.7 1237.8,704.8 1241,704.9 1244.1,705 1247.3,705.1 1250.4,705.2 1253.6,705.2 1256.7,705.3 1259.9,705.3 1263,705.4 1266.2,705.4 1269.3,705.5 1272.5,705.5 1275.6,705.5 1278.8,705.6 1281.9,705.6 1285.1,705.6 1288.2,705.6 1291.4,705.6 1294.5,705.6 1297.7,705.7 1300.8,705.7 1304,705.7 1307.1,705.7 1310.3,705.7 1313.4,705.7 1316.6,705.7 1319.7,705.7 1322.9,705.7 1326,705.7 1329.2,705.7 1332.3,705.7" fill="none" stroke="#E8952D" stroke-width="2.7"/>
<path d="M1088 607.6V619.9M1082 607.6h12M1082 619.9h12" stroke="#E8952D" stroke-width="2.5" fill="none"/>
<circle cx="1088" cy="613.8" r="5.4" fill="#E8952D"/>
<path d="M1147.7 678.6V689.2M1141.7 678.6h12M1141.7 689.2h12" stroke="#E8952D" stroke-width="2.5" fill="none"/>
<circle cx="1147.7" cy="683.9" r="5.4" fill="#E8952D"/>
<circle cx="1209.3" cy="706.7" r="5.4" fill="#E8952D"/>
<circle cx="1270.6" cy="705" r="5.4" fill="#E8952D"/>
<circle cx="1332.3" cy="703.6" r="5.4" fill="#E8952D"/>
<polyline points="1017.4,551.4 1020.5,551.9 1023.7,552.4 1026.8,553 1030,553.7 1033.1,554.5 1036.3,555.3 1039.4,556.2 1042.6,557.2 1045.7,558.4 1048.9,559.6 1052,560.9 1055.2,562.4 1058.3,564 1061.5,565.8 1064.6,567.7 1067.8,569.8 1070.9,572.1 1074.1,574.5 1077.2,577.1 1080.4,579.9 1083.5,582.9 1086.7,586 1089.8,589.3 1093,592.8 1096.1,596.4 1099.3,600.2 1102.4,604.1 1105.6,608.1 1108.7,612.2 1111.9,616.3 1115,620.4 1118.2,624.6 1121.3,628.7 1124.5,632.8 1127.6,636.8 1130.8,640.7 1133.9,644.5 1137.1,648.2 1140.2,651.7 1143.4,655 1146.5,658.2 1149.7,661.2 1152.8,664 1156,666.6 1159.1,669.1 1162.3,671.4 1165.4,673.5 1168.6,675.4 1171.7,677.2 1174.9,678.9 1178,680.4 1181.2,681.7 1184.3,683 1187.4,684.1 1190.6,685.2 1193.7,686.1 1196.9,686.9 1200,687.7 1203.2,688.4 1206.3,689 1209.5,689.6 1212.6,690.1 1215.8,690.5 1218.9,690.9 1222.1,691.3 1225.2,691.6 1228.4,691.9 1231.5,692.2 1234.7,692.4 1237.8,692.6 1241,692.8 1244.1,693 1247.3,693.1 1250.4,693.3 1253.6,693.4 1256.7,693.5 1259.9,693.6 1263,693.7 1266.2,693.8 1269.3,693.8 1272.5,693.9 1275.6,694 1278.8,694 1281.9,694.1 1285.1,694.1 1288.2,694.1 1291.4,694.2 1294.5,694.2 1297.7,694.2 1300.8,694.2 1304,694.3 1307.1,694.3 1310.3,694.3 1313.4,694.3 1316.6,694.3 1319.7,694.3 1322.9,694.3 1326,694.4 1329.2,694.4 1332.3,694.4" fill="none" stroke="#999999" stroke-width="2.7"/>
<path d="M1088 566.4V608.5M1082 566.4h12M1082 608.5h12" stroke="#999999" stroke-width="2.5" fill="none"/>
<circle cx="1088" cy="587.4" r="5.4" fill="#999999"/>
<circle cx="1147.7" cy="659.4" r="5.4" fill="#999999"/>
<circle cx="1209.3" cy="696.2" r="5.4" fill="#999999"/>
<circle cx="1270.6" cy="694.4" r="5.4" fill="#999999"/>
<circle cx="1332.3" cy="689.2" r="5.4" fill="#999999"/>
<polyline points="1017.4,547.2 1020.5,547.4 1023.7,547.6 1026.8,547.9 1030,548.3 1033.1,548.6 1036.3,549.1 1039.4,549.5 1042.6,550.1 1045.7,550.7 1048.9,551.4 1052,552.3 1055.2,553.2 1058.3,554.2 1061.5,555.4 1064.6,556.8 1067.8,558.3 1070.9,560 1074.1,561.9 1077.2,564 1080.4,566.4 1083.5,568.9 1086.7,571.8 1089.8,574.9 1093,578.3 1096.1,582 1099.3,585.9 1102.4,590.1 1105.6,594.5 1108.7,599.1 1111.9,603.9 1115,608.8 1118.2,613.9 1121.3,618.9 1124.5,624 1127.6,629 1130.8,634 1133.9,638.7 1137.1,643.3 1140.2,647.7 1143.4,651.9 1146.5,655.8 1149.7,659.4 1152.8,662.7 1156,665.8 1159.1,668.6 1162.3,671.2 1165.4,673.5 1168.6,675.6 1171.7,677.5 1174.9,679.1 1178,680.6 1181.2,682 1184.3,683.1 1187.4,684.2 1190.6,685.1 1193.7,685.9 1196.9,686.6 1200,687.2 1203.2,687.8 1206.3,688.2 1209.5,688.7 1212.6,689 1215.8,689.3 1218.9,689.6 1222.1,689.9 1225.2,690.1 1228.4,690.3 1231.5,690.4 1234.7,690.6 1237.8,690.7 1241,690.8 1244.1,690.9 1247.3,691 1250.4,691 1253.6,691.1 1256.7,691.2 1259.9,691.2 1263,691.2 1266.2,691.3 1269.3,691.3 1272.5,691.3 1275.6,691.4 1278.8,691.4 1281.9,691.4 1285.1,691.4 1288.2,691.4 1291.4,691.4 1294.5,691.5 1297.7,691.5 1300.8,691.5 1304,691.5 1307.1,691.5 1310.3,691.5 1313.4,691.5 1316.6,691.5 1319.7,691.5 1322.9,691.5 1326,691.5 1329.2,691.5 1332.3,691.5" fill="none" stroke="#000000" stroke-width="2.7"/>
<circle cx="1017.4" cy="547.1" r="5.4" fill="#000000"/>
<path d="M1088 560.8V587.1M1082 560.8h12M1082 587.1h12" stroke="#000000" stroke-width="2.5" fill="none"/>
<circle cx="1088" cy="573.9" r="5.4" fill="#000000"/>
<circle cx="1147.7" cy="655.8" r="5.4" fill="#000000"/>
<circle cx="1209.3" cy="694.4" r="5.4" fill="#000000"/>
<circle cx="1270.6" cy="692" r="5.4" fill="#000000"/>
<circle cx="1332.3" cy="686" r="5.4" fill="#000000"/>
<text x="1565.4" y="493.1" font-size="22" textLength="97.01" lengthAdjust="spacingAndGlyphs" stroke="#000" stroke-width="0.45">PC9 - ABE</text>
<path d="M1456.7 516.2V726.1H1772.3" fill="none" stroke="#000" stroke-width="2.7"/>
<line x1="1446.9" y1="551.3" x2="1456.7" y2="551.3" stroke="#000" stroke-width="2.7"/>
<text x="1421.2" y="556.6" font-size="16.7" textLength="25.91" lengthAdjust="spacingAndGlyphs" stroke="#000" stroke-width="0.45">100</text>
<line x1="1446.9" y1="638.7" x2="1456.7" y2="638.7" stroke="#000" stroke-width="2.7"/>
<text x="1429.8" y="644" font-size="16.7" textLength="17.28" lengthAdjust="spacingAndGlyphs" stroke="#000" stroke-width="0.45">50</text>
<line x1="1446.9" y1="726.1" x2="1456.7" y2="726.1" stroke="#000" stroke-width="2.7"/>
<text x="1438.5" y="731.4" font-size="16.7" textLength="8.64" lengthAdjust="spacingAndGlyphs" stroke="#000" stroke-width="0.45">0</text>
<line x1="1456.7" y1="726.1" x2="1456.7" y2="735.6" stroke="#000" stroke-width="2.7"/>
<text x="1441.7" y="751.7" font-size="16.3" textLength="18.13" lengthAdjust="spacingAndGlyphs" stroke="#000" stroke-width="0.45">10</text><text x="1459.9" y="745.2" font-size="12.5" textLength="10.56" lengthAdjust="spacingAndGlyphs" stroke="#000" stroke-width="0.36000000000000004">-1</text>
<line x1="1535.6" y1="726.1" x2="1535.6" y2="735.6" stroke="#000" stroke-width="2.7"/>
<text x="1522.5" y="751.7" font-size="16.3" textLength="18.13" lengthAdjust="spacingAndGlyphs" stroke="#000" stroke-width="0.45">10</text><text x="1540.7" y="745.2" font-size="12.5" textLength="6.60" lengthAdjust="spacingAndGlyphs" stroke="#000" stroke-width="0.36000000000000004">0</text>
<line x1="1614.5" y1="726.1" x2="1614.5" y2="735.6" stroke="#000" stroke-width="2.7"/>
<text x="1601.7" y="751.7" font-size="16.3" textLength="18.13" lengthAdjust="spacingAndGlyphs" stroke="#000" stroke-width="0.45">10</text><text x="1619.5" y="745.2" font-size="12.5" textLength="6.60" lengthAdjust="spacingAndGlyphs" stroke="#000" stroke-width="0.36000000000000004">1</text>
<line x1="1693.4" y1="726.1" x2="1693.4" y2="735.6" stroke="#000" stroke-width="2.7"/>
<text x="1680.4" y="751.7" font-size="16.3" textLength="18.13" lengthAdjust="spacingAndGlyphs" stroke="#000" stroke-width="0.45">10</text><text x="1698.5" y="745.2" font-size="12.5" textLength="6.60" lengthAdjust="spacingAndGlyphs" stroke="#000" stroke-width="0.36000000000000004">2</text>
<line x1="1772.3" y1="726.1" x2="1772.3" y2="735.6" stroke="#000" stroke-width="2.7"/>
<text x="1759.2" y="751.7" font-size="16.3" textLength="18.13" lengthAdjust="spacingAndGlyphs" stroke="#000" stroke-width="0.45">10</text><text x="1777.5" y="745.2" font-size="12.5" textLength="6.60" lengthAdjust="spacingAndGlyphs" stroke="#000" stroke-width="0.36000000000000004">3</text>
<text x="1559.1" y="775.8" font-size="17.5" textLength="110.96" lengthAdjust="spacingAndGlyphs" stroke="#000" stroke-width="0.45">paclitaxel (nM)</text>
<text transform="translate(1412.4 681.6) rotate(-90)" x="-0.87" y="0" font-size="18" textLength="123.33" lengthAdjust="spacingAndGlyphs" stroke="#000" stroke-width="0.45">CTG (% control)</text>
<polyline points="1456.7,551.3 1459.8,553.1 1463,554.9 1466.1,556.9 1469.3,559 1472.4,561.2 1475.5,563.6 1478.7,566.1 1481.8,568.7 1484.9,571.4 1488.1,574.2 1491.2,577.2 1494.4,580.3 1497.5,583.5 1500.6,586.8 1503.8,590.1 1506.9,593.6 1510,597.1 1513.2,600.7 1516.3,604.4 1519.5,608.1 1522.6,611.8 1525.7,615.5 1528.9,619.2 1532,622.8 1535.1,626.5 1538.3,630.1 1541.4,633.6 1544.6,637.1 1547.7,640.4 1550.8,643.7 1554,646.9 1557.1,650 1560.2,652.9 1563.4,655.8 1566.5,658.5 1569.7,661.1 1572.8,663.6 1575.9,665.9 1579.1,668.1 1582.2,670.2 1585.4,672.2 1588.5,674.1 1591.6,675.8 1594.8,677.5 1597.9,679 1601,680.4 1604.2,681.8 1607.3,683 1610.5,684.2 1613.6,685.2 1616.7,686.3 1619.9,687.2 1623,688 1626.1,688.8 1629.3,689.6 1632.4,690.2 1635.6,690.9 1638.7,691.5 1641.8,692 1645,692.5 1648.1,692.9 1651.2,693.4 1654.4,693.7 1657.5,694.1 1660.7,694.4 1663.8,694.7 1666.9,695 1670.1,695.2 1673.2,695.5 1676.3,695.7 1679.5,695.9 1682.6,696.1 1685.8,696.2 1688.9,696.4 1692,696.5 1695.2,696.6 1698.3,696.8 1701.5,696.9 1704.6,697 1707.7,697.1 1710.9,697.1 1714,697.2 1717.1,697.3 1720.3,697.4 1723.4,697.4 1726.6,697.5 1729.7,697.5 1732.8,697.6 1736,697.6 1739.1,697.6 1742.2,697.7 1745.4,697.7 1748.5,697.7 1751.7,697.8 1754.8,697.8 1757.9,697.8 1761.1,697.8 1764.2,697.8 1767.3,697.9 1770.5,697.9" fill="none" stroke="#E03E26" stroke-width="2.7"/>
<circle cx="1527.3" cy="617.7" r="5.4" fill="#E03E26"/>
<circle cx="1587.2" cy="671.9" r="5.4" fill="#E03E26"/>
<circle cx="1649" cy="696.4" r="5.4" fill="#E03E26"/>
<circle cx="1709.9" cy="695.5" r="5.4" fill="#E03E26"/>
<circle cx="1770.5" cy="697.3" r="5.4" fill="#E03E26"/>
<polyline points="1456.7,551.3 1459.8,553 1463,554.8 1466.1,556.7 1469.3,558.7 1472.4,560.9 1475.5,563.1 1478.7,565.5 1481.8,568.1 1484.9,570.7 1488.1,573.4 1491.2,576.3 1494.4,579.3 1497.5,582.4 1500.6,585.6 1503.8,588.9 1506.9,592.3 1510,595.7 1513.2,599.2 1516.3,602.8 1519.5,606.4 1522.6,610 1525.7,613.7 1528.9,617.3 1532,621 1535.1,624.6 1538.3,628.1 1541.4,631.7 1544.6,635.1 1547.7,638.5 1550.8,641.8 1554,645 1557.1,648 1560.2,651 1563.4,653.9 1566.5,656.6 1569.7,659.2 1572.8,661.8 1575.9,664.1 1579.1,666.4 1582.2,668.5 1585.4,670.5 1588.5,672.4 1591.6,674.2 1594.8,675.9 1597.9,677.5 1601,679 1604.2,680.3 1607.3,681.6 1610.5,682.8 1613.6,683.9 1616.7,685 1619.9,685.9 1623,686.8 1626.1,687.6 1629.3,688.4 1632.4,689.1 1635.6,689.7 1638.7,690.3 1641.8,690.9 1645,691.4 1648.1,691.9 1651.2,692.3 1654.4,692.7 1657.5,693.1 1660.7,693.4 1663.8,693.7 1666.9,694 1670.1,694.3 1673.2,694.5 1676.3,694.8 1679.5,695 1682.6,695.2 1685.8,695.3 1688.9,695.5 1692,695.6 1695.2,695.8 1698.3,695.9 1701.5,696 1704.6,696.1 1707.7,696.2 1710.9,696.3 1714,696.4 1717.1,696.5 1720.3,696.5 1723.4,696.6 1726.6,696.6 1729.7,696.7 1732.8,696.7 1736,696.8 1739.1,696.8 1742.2,696.9 1745.4,696.9 1748.5,696.9 1751.7,697 1754.8,697 1757.9,697 1761.1,697 1764.2,697 1767.3,697.1 1770.5,697.1" fill="none" stroke="#E8952D" stroke-width="2.7"/>
<path d="M1456.7 546.1V556.5M1450.7 546.1h12M1450.7 556.5h12" stroke="#E8952D" stroke-width="2.5" fill="none"/>
<circle cx="1456.7" cy="551.3" r="5.4" fill="#E8952D"/>
<path d="M1527.3 609V623M1521.3 609h12M1521.3 623h12" stroke="#E8952D" stroke-width="2.5" fill="none"/>
<circle cx="1527.3" cy="616" r="5.4" fill="#E8952D"/>
<circle cx="1587.2" cy="670.2" r="5.4" fill="#E8952D"/>
<circle cx="1649" cy="695.5" r="5.4" fill="#E8952D"/>
<circle cx="1709.9" cy="694.6" r="5.4" fill="#E8952D"/>
<circle cx="1770.5" cy="696.4" r="5.4" fill="#E8952D"/>
<polyline points="1456.7,554.8 1459.8,555.2 1463,555.7 1466.1,556.2 1469.3,556.8 1472.4,557.5 1475.5,558.2 1478.7,559 1481.8,559.8 1484.9,560.8 1488.1,561.9 1491.2,563.1 1494.4,564.4 1497.5,565.8 1500.6,567.3 1503.8,569 1506.9,570.8 1510,572.8 1513.2,574.9 1516.3,577.2 1519.5,579.6 1522.6,582.2 1525.7,584.9 1528.9,587.8 1532,590.7 1535.1,593.9 1538.3,597.1 1541.4,600.4 1544.6,603.7 1547.7,607.1 1550.8,610.6 1554,614 1557.1,617.4 1560.2,620.7 1563.4,624 1566.5,627.2 1569.7,630.3 1572.8,633.3 1575.9,636.1 1579.1,638.8 1582.2,641.4 1585.4,643.8 1588.5,646 1591.6,648.1 1594.8,650.1 1597.9,651.9 1601,653.5 1604.2,655.1 1607.3,656.4 1610.5,657.7 1613.6,658.9 1616.7,659.9 1619.9,660.9 1623,661.7 1626.1,662.5 1629.3,663.2 1632.4,663.9 1635.6,664.4 1638.7,665 1641.8,665.4 1645,665.8 1648.1,666.2 1651.2,666.5 1654.4,666.8 1657.5,667.1 1660.7,667.3 1663.8,667.5 1666.9,667.7 1670.1,667.9 1673.2,668 1676.3,668.2 1679.5,668.3 1682.6,668.4 1685.8,668.5 1688.9,668.6 1692,668.7 1695.2,668.7 1698.3,668.8 1701.5,668.9 1704.6,668.9 1707.7,668.9 1710.9,669 1714,669 1717.1,669 1720.3,669.1 1723.4,669.1 1726.6,669.1 1729.7,669.1 1732.8,669.2 1736,669.2 1739.1,669.2 1742.2,669.2 1745.4,669.2 1748.5,669.2 1751.7,669.2 1754.8,669.2 1757.9,669.2 1761.1,669.2 1764.2,669.2 1767.3,669.3 1770.5,669.3" fill="none" stroke="#999999" stroke-width="2.7"/>
<circle cx="1527.3" cy="588" r="5.4" fill="#999999"/>
<circle cx="1587.2" cy="643.9" r="5.4" fill="#999999"/>
<polyline points="1456.7,551.4 1459.8,551.8 1463,552.3 1466.1,552.8 1469.3,553.4 1472.4,554 1475.5,554.8 1478.7,555.6 1481.8,556.5 1484.9,557.5 1488.1,558.6 1491.2,559.9 1494.4,561.2 1497.5,562.7 1500.6,564.4 1503.8,566.2 1506.9,568.2 1510,570.3 1513.2,572.7 1516.3,575.2 1519.5,577.8 1522.6,580.7 1525.7,583.7 1528.9,586.9 1532,590.2 1535.1,593.6 1538.3,597.2 1541.4,600.8 1544.6,604.5 1547.7,608.3 1550.8,612 1554,615.7 1557.1,619.4 1560.2,623 1563.4,626.5 1566.5,629.9 1569.7,633.2 1572.8,636.2 1575.9,639.2 1579.1,641.9 1582.2,644.5 1585.4,646.9 1588.5,649.2 1591.6,651.2 1594.8,653.1 1597.9,654.9 1601,656.4 1604.2,657.9 1607.3,659.2 1610.5,660.4 1613.6,661.4 1616.7,662.4 1619.9,663.3 1623,664 1626.1,664.7 1629.3,665.4 1632.4,665.9 1635.6,666.4 1638.7,666.9 1641.8,667.3 1645,667.6 1648.1,667.9 1651.2,668.2 1654.4,668.4 1657.5,668.7 1660.7,668.9 1663.8,669 1666.9,669.2 1670.1,669.3 1673.2,669.4 1676.3,669.5 1679.5,669.6 1682.6,669.7 1685.8,669.8 1688.9,669.9 1692,669.9 1695.2,670 1698.3,670 1701.5,670.1 1704.6,670.1 1707.7,670.1 1710.9,670.1 1714,670.2 1717.1,670.2 1720.3,670.2 1723.4,670.2 1726.6,670.2 1729.7,670.3 1732.8,670.3 1736,670.3 1739.1,670.3 1742.2,670.3 1745.4,670.3 1748.5,670.3 1751.7,670.3 1754.8,670.3 1757.9,670.3 1761.1,670.3 1764.2,670.3 1767.3,670.3 1770.5,670.3" fill="none" stroke="#000000" stroke-width="2.7"/>
<circle cx="1456.7" cy="551.3" r="5.4" fill="#000000"/>
<path d="M1527.3 575.8V596.7M1521.3 575.8h12M1521.3 596.7h12" stroke="#000000" stroke-width="2.5" fill="none"/>
<circle cx="1527.3" cy="586.3" r="5.4" fill="#000000"/>
<circle cx="1587.2" cy="645.7" r="5.4" fill="#000000"/>
<path d="M1649 673.7V682.4M1643 673.7h12M1643 682.4h12" stroke="#000000" stroke-width="2.5" fill="none"/>
<circle cx="1649" cy="678" r="5.4" fill="#000000"/>
<circle cx="1709.9" cy="667.5" r="5.4" fill="#000000"/>
<circle cx="1770.5" cy="664.9" r="5.4" fill="#000000"/>
<line x1="1894.4" y1="548.6" x2="1918.8" y2="548.6" stroke="#000000" stroke-width="2.6" stroke-linecap="round"/>
<circle cx="1906.9" cy="548.6" r="5" fill="#000000"/>
<line x1="1894.4" y1="578.0" x2="1918.8" y2="578.0" stroke="#999999" stroke-width="2.6" stroke-linecap="round"/>
<circle cx="1906.9" cy="578.0" r="5" fill="#999999"/>
<line x1="1894.4" y1="606.4" x2="1918.8" y2="606.4" stroke="#E8952D" stroke-width="2.6" stroke-linecap="round"/>
<circle cx="1906.9" cy="606.4" r="5" fill="#E8952D"/>
<line x1="1894.4" y1="635.3" x2="1918.8" y2="635.3" stroke="#E03E26" stroke-width="2.6" stroke-linecap="round"/>
<circle cx="1906.9" cy="635.3" r="5" fill="#E03E26"/>
<text x="1930.4" y="553.8" font-size="18.4" textLength="29.24" lengthAdjust="spacingAndGlyphs" stroke="#000" stroke-width="0.45">par.</text>
<text x="1930.4" y="583.7" font-size="18.4" textLength="73.24" lengthAdjust="spacingAndGlyphs" stroke="#000" stroke-width="0.45">NT gRNA</text>
<text x="1930.6" y="612.7" font-size="18.4" textLength="47.35" lengthAdjust="spacingAndGlyphs" font-style="italic" stroke="#000" stroke-width="0.45">EGFR</text>
<text x="1982.4" y="612.7" font-size="18.4" textLength="53.92" lengthAdjust="spacingAndGlyphs" stroke="#000" stroke-width="0.45">gRNA1</text>
<text x="1930.6" y="641.8" font-size="18.4" textLength="47.35" lengthAdjust="spacingAndGlyphs" font-style="italic" stroke="#000" stroke-width="0.45">EGFR</text>
<text x="1982.4" y="641.8" font-size="18.4" textLength="55.69" lengthAdjust="spacingAndGlyphs" stroke="#000" stroke-width="0.45">gRNA2</text>
<text x="22.7" y="887.8" font-size="42.5" textLength="29.34" lengthAdjust="spacingAndGlyphs" font-weight="bold">b</text>
<text x="176.1" y="913.8" font-size="24.9" textLength="217.57" lengthAdjust="spacingAndGlyphs" stroke="#000" stroke-width="0.3">PC9 CBE NT gRNA</text>
<text x="655.6" y="914.2" font-size="24.9" textLength="216.47" lengthAdjust="spacingAndGlyphs" stroke="#000" stroke-width="0.3">PC9 ABE NT gRNA</text>
<text x="175.3" y="1105.9" font-size="24.9" textLength="268.24" lengthAdjust="spacingAndGlyphs" stroke="#000" stroke-width="0.3">PC9 CBE EGFR gRNA1</text>
<text x="656.2" y="1106" font-size="24.9" textLength="264.21" lengthAdjust="spacingAndGlyphs" stroke="#000" stroke-width="0.3">PC9 ABE EGFR gRNA1</text>
<text x="656.4" y="1292.9" font-size="24.9" textLength="265.86" lengthAdjust="spacingAndGlyphs" stroke="#000" stroke-width="0.3">PC9 ABE EGFR gRNA2</text>
<text x="99.3" y="1293.2" font-size="25.2" textLength="286.16" lengthAdjust="spacingAndGlyphs" stroke="#000" stroke-width="0.3">EGFR Δ1091-1210 3’UTR</text>
<text x="97.6" y="1326.8" font-size="25.2" textLength="356.41" lengthAdjust="spacingAndGlyphs" stroke="#000" stroke-width="0.3">ch7: 55202626 G or 55202627 T</text>
<text x="634.5" y="1471" font-size="25.2" textLength="287.07" lengthAdjust="spacingAndGlyphs" stroke="#000" stroke-width="0.3">EGFR Δ1091-1210 3’UTR</text>
<clipPath id="cc1"><rect x="38.8" y="925" width="462.6" height="141.7"/></clipPath>
<rect x="38.8" y="925" width="462.6" height="140.7" fill="#fbfbf6"/>
<line x1="38.8" y1="925" x2="501.4" y2="925" stroke="#a9a9a9" stroke-width="1.3"/>
<line x1="136.5" y1="942.2" x2="136.5" y2="1063.7" stroke="#c8c8c8" stroke-width="0.9" stroke-dasharray="3 3"/>
<line x1="274.3" y1="942.2" x2="274.3" y2="1063.7" stroke="#c8c8c8" stroke-width="0.9" stroke-dasharray="3 3"/>
<line x1="422.6" y1="942.2" x2="422.6" y2="1063.7" stroke="#c8c8c8" stroke-width="0.9" stroke-dasharray="3 3"/>
<g clip-path="url(#cc1)">
<path d="M38.8 1062.5l0-39.9l1.5 3.4l1.5 7.1l1.5 8.5l1.5 7.7l1.5 5.4l1.5 2.6l1.5-0.4l1.5-3.5l1.5-6.5l1.5-9l1.5-9.8l1.5-7.9l1.5-3.6l1.5 1.9l1.5 6.5l1.5 8.4l1.5 6.9l1.5 2.6l1.5-2.9l1.5-7.8l1.5-10.5l1.5-9.5l1.5-4.9l1.5 1.6l1.5 7.9l1.5 11.3l1.5 11.6l1.5 9.5l1.5 6.5l1.5 3.7l1.5 1.9l1.5 0.8V1062.5ZM110.8 1062.5l0-0.4l1.5-0.9l1.5-1.8l1.5-3.8l1.5-6.4l1.5-9.4l1.5-11.3l1.5-10.9l1.5-7.3l1.5-1.6l1.5 4.1l1.5 7.5l1.5 6.8l1.5 2.9l1.5-2.3l1.5-5.8l1.5-6l1.5-2.7l1.5 2.7l1.5 7.5l1.5 10.3l1.5 10l1.5 8l1.5 5.4l1.5 3l1.5 1.4l1.5 0.6l1.5 0.1l1.5-0.3l1.5-1l1.5-2.3l1.5-4.3l1.5-7.2l1.5-9.9l1.5-11.4l1.5-10.1l1.5-6l1.5 0l1.5 5.1l1.5 7.3l1.5 5.5l1.5 1.2l1.5-3.3l1.5-5.7l1.5-4.4l1.5-0.4l1.5 4.3l1.5 7.2l1.5 6.9l1.5 3.3l1.5-1.5l1.5-5.8l1.5-7.3l1.5-5.3l1.5-0.6l1.5 4.8l1.5 8.7l1.5 10l1.5 8.8l1.5 6.4l1.5 4l1.5 2.1l1.5 0.9V1062.5ZM248.8 1062.5l0-0.3l1.5-0.5l1.5-1.2l1.5-2.3l1.5-3.9l1.5-5.6l1.5-6.7l1.5-6.3l1.5-4.1l1.5-0.8l1.5 2.6l1.5 4.1l1.5 3.2l1.5 0.1l1.5-3.8l1.5-6.6l1.5-6.8l1.5-4l1.5 0.8l1.5 5.5l1.5 8.7l1.5 9.1l1.5 7.6l1.5 5.4l1.5 3.1l1.5 1.6l1.5 0.7V1062.5ZM421.3 1062.5l0-0.5l1.5-0.7l1.5-1.5l1.5-2.8l1.5-4.2l1.5-5.5l1.5-5.7l1.5-4.4l1.5-1.7l1.5 1.7l1.5 4.4l1.5 5.7l1.5 5.5l1.5 4.2l1.5 2.8l1.5 1.5l1.5 0.7V1062.5ZM487.3 1062.5l0-0.3l1.5-0.6l1.5-1.2l1.5-2.4l1.5-3.9l1.5-5.5l1.5-6.5l1.5-5.8l1.5-3.4l1.5 0.1V1062.5Z" fill="#dfe4f3" fill-opacity="0.7"/>
<path d="M76.3 1062.5l0-0.7l1.5-1.3l1.5-2.6l1.5-4.9l1.5-7.9l1.5-10.4l1.5-11.5l1.5-9.5l1.5-4.6l1.5 1.9l1.5 7.6l1.5 10.4l1.5 9.6l1.5 5.6l1.5 0.1l1.5-5.6l1.5-9.8l1.5-11.1l1.5-8.7l1.5-2.9l1.5 3.9l1.5 9.5l1.5 12l1.5 11.3l1.5 8.6l1.5 5.6l1.5 3.1l1.5 1.4l1.5 0.6V1062.5ZM137.8 1062.5l0-0.5l1.5-1l1.5-2.1l1.5-4.1l1.5-6.7l1.5-9.5l1.5-11l1.5-10l1.5-5.9l1.5 0.2l1.5 6.3l1.5 10.1l1.5 11l1.5 9.3l1.5 6.6l1.5 3.9l1.5 2l1.5 0.9V1062.5ZM218.8 1062.5l0-0.4l1.5-0.7l1.5-1.6l1.5-2.9l1.5-4.8l1.5-6.6l1.5-7.5l1.5-6.4l1.5-3.5l1.5 0.8l1.5 4.6l1.5 7l1.5 7.3l1.5 6.1l1.5 4.1l1.5 2.5l1.5 1.2l1.5 0.5V1062.5ZM275.8 1062.5l0-0.4l1.5-0.7l1.5-1.5l1.5-2.9l1.5-4.7l1.5-6.6l1.5-7.6l1.5-6.7l1.5-3.7l1.5 0.4l1.5 4.5l1.5 7l1.5 7.5l1.5 6.3l1.5 4.3l1.5 2.6l1.5 1.3l1.5 0.6V1062.5ZM322.3 1062.5l0-0.3l1.5-0.4l1.5-1l1.5-2l1.5-3.1l1.5-4.3l1.5-4.8l1.5-4.2l1.5-2.2l1.5 0.4l1.5 3.1l1.5 4.5l1.5 4.8l1.5 3.9l1.5 2.7l1.5 1.6l1.5 0.8V1062.5ZM379.3 1062.5l0-0.4l1.5-0.8l1.5-1.6l1.5-2.9l1.5-4.7l1.5-6.3l1.5-6.9l1.5-5.7l1.5-2.7l1.5 1.2l1.5 4.7l1.5 6.6l1.5 6.7l1.5 5.4l1.5 3.6l1.5 2.1l1.5 1V1062.5ZM436.3 1062.5l0-0.5l1.5-1l1.5-2.1l1.5-3.9l1.5-6.4l1.5-8.7l1.5-9.8l1.5-8.6l1.5-4.7l1.5 0.6l1.5 5.2l1.5 7.3l1.5 5.9l1.5 1.9l1.5-2.9l1.5-6.2l1.5-6.6l1.5-3.8l1.5 1.2l1.5 6l1.5 9l1.5 9.3l1.5 7.8l1.5 5.3l1.5 3.1l1.5 1.6l1.5 0.6V1062.5ZM479.8 1062.5l0-0.5l1.5-0.8l1.5-1.7l1.5-3l1.5-4.6l1.5-6l1.5-6.3l1.5-4.8l1.5-1.8l1.5 1.8l1.5 4.8l1.5 6.3l1.5 6l1.5 4.6l1.5 3V1062.5Z" fill="#f4dcd6" fill-opacity="0.7"/>
<path d="M38.8 1062.5l0-6.4l1.5-5.1l1.5-6.6l1.5-7l1.5-5.5l1.5-2.3l1.5 1.8l1.5 5.2l1.5 6.9l1.5 6.7l1.5 5.2l1.5 3.3l1.5 1.5l1.5 0.2l1.5-0.8l1.5-1.4l1.5-1.7l1.5-1.4l1.5-0.6l1.5 0.4l1.5 1.2l1.5 1.7l1.5 1.6l1.5 1.3l1.5 0.9l1.5 0.5V1062.5ZM187.3 1062.5l0-0.4l1.5-0.7l1.5-1.4l1.5-2.9l1.5-4.5l1.5-6.3l1.5-7l1.5-6.2l1.5-3.3l1.5 0.7l1.5 4.4l1.5 6.7l1.5 6.9l1.5 5.8l1.5 4l1.5 2.3l1.5 1.1l1.5 0.5V1062.5ZM352.3 1062.5l0-0.5l1.5-0.8l1.5-1.8l1.5-3.7l1.5-6.3l1.5-9l1.5-10.8l1.5-10.1l1.5-6.5l1.5-0.6l1.5 5.4l1.5 9.7l1.5 10.8l1.5 9.5l1.5 6.8l1.5 4.2l1.5 2.2l1.5 0.9V1062.5Z" fill="#dff0d8" fill-opacity="0.7"/>
<path d="M203.8 1062.5l0-0.4l1.5-0.8l1.5-1.5l1.5-2.9l1.5-4.6l1.5-6.2l1.5-6.7l1.5-5.6l1.5-2.7l1.5 1.2l1.5 4.6l1.5 6.5l1.5 6.6l1.5 5.3l1.5 3.5l1.5 2l1.5 1V1062.5ZM233.8 1062.5l0-0.6l1.5-1.2l1.5-2.7l1.5-5.5l1.5-9.6l1.5-14.3l1.5-17.8l1.5-17.6l1.5-12.5l1.5-3.2l1.5 7.3l1.5 15.1l1.5 18.3l1.5 16.6l1.5 12.5l1.5 7.9l1.5 4.2l1.5 1.9l1.5 0.8V1062.5ZM290.8 1062.5l0-0.7l1.5-1.3l1.5-3l1.5-6.1l1.5-10.5l1.5-15.5l1.5-19l1.5-18.5l1.5-12.7l1.5-2.6l1.5 8.2l1.5 16.1l1.5 18.4l1.5 15.3l1.5 8.7l1.5 1.3l1.5-5l1.5-8.7l1.5-8.7l1.5-5.1l1.5 0.7l1.5 6.4l1.5 9.9l1.5 10.6l1.5 8.9l1.5 6.2l1.5 3.6l1.5 1.8l1.5 0.8V1062.5ZM337.3 1062.5l0-0.5l1.5-1l1.5-2.3l1.5-4.4l1.5-7.7l1.5-11.2l1.5-13.5l1.5-12.9l1.5-8.6l1.5-1.3l1.5 6.3l1.5 11.9l1.5 13.7l1.5 12.2l1.5 8.9l1.5 5.4l1.5 2.9l1.5 1.3l1.5 0.5l1.5 0l1.5-0.4l1.5-1.2l1.5-2.3l1.5-4.4l1.5-6.6l1.5-8.6l1.5-8.9l1.5-6.9l1.5-2.6l1.5 2.6l1.5 6.9l1.5 8.9l1.5 8.6l1.5 6.6l1.5 4.3l1.5 2.4l1.5 1.1l1.5 0.4l1.5-0.3l1.5-1.2l1.5-2.8l1.5-5.7l1.5-10l1.5-14.5l1.5-17.9l1.5-17.4l1.5-12l1.5-2.5l1.5 7.7l1.5 15l1.5 16.9l1.5 13.9l1.5 7.6l1.5 0.8l1.5-4.5l1.5-6.7l1.5-5.5l1.5-1.7l1.5 3.3l1.5 7.1l1.5 8.8l1.5 8.2l1.5 6.1l1.5 4l1.5 2.1l1.5 1V1062.5ZM464.8 1062.5l0-0.6l1.5-1.2l1.5-2.8l1.5-6l1.5-10.7l1.5-16.5l1.5-21.3l1.5-22.3l1.5-17.1l1.5-6.5l1.5 6.5l1.5 17.1l1.5 22.3l1.5 21.3l1.5 16.5l1.5 10.7l1.5 6l1.5 2.8l1.5 1.2V1062.5Z" fill="#dcdcd8" fill-opacity="0.7"/>
<path d="M38.8 1062.5l0-39.9l1.5 3.4l1.5 7.1l1.5 8.5l1.5 7.7l1.5 5.4l1.5 2.6l1.5-0.4l1.5-3.5l1.5-6.5l1.5-9l1.5-9.8l1.5-7.9l1.5-3.6l1.5 1.9l1.5 6.5l1.5 8.4l1.5 6.9l1.5 2.6l1.5-2.9l1.5-7.8l1.5-10.5l1.5-9.5l1.5-4.9l1.5 1.6l1.5 7.9l1.5 11.3l1.5 11.6l1.5 9.5l1.5 6.5l1.5 3.7l1.5 1.9l1.5 0.8V1062.5ZM110.8 1062.5l0-0.4l1.5-0.9l1.5-1.8l1.5-3.8l1.5-6.4l1.5-9.4l1.5-11.3l1.5-10.9l1.5-7.3l1.5-1.6l1.5 4.1l1.5 7.5l1.5 6.8l1.5 2.9l1.5-2.3l1.5-5.8l1.5-6l1.5-2.7l1.5 2.7l1.5 7.5l1.5 10.3l1.5 10l1.5 8l1.5 5.4l1.5 3l1.5 1.4l1.5 0.6l1.5 0.1l1.5-0.3l1.5-1l1.5-2.3l1.5-4.3l1.5-7.2l1.5-9.9l1.5-11.4l1.5-10.1l1.5-6l1.5 0l1.5 5.1l1.5 7.3l1.5 5.5l1.5 1.2l1.5-3.3l1.5-5.7l1.5-4.4l1.5-0.4l1.5 4.3l1.5 7.2l1.5 6.9l1.5 3.3l1.5-1.5l1.5-5.8l1.5-7.3l1.5-5.3l1.5-0.6l1.5 4.8l1.5 8.7l1.5 10l1.5 8.8l1.5 6.4l1.5 4l1.5 2.1l1.5 0.9V1062.5ZM248.8 1062.5l0-0.3l1.5-0.5l1.5-1.2l1.5-2.3l1.5-3.9l1.5-5.6l1.5-6.7l1.5-6.3l1.5-4.1l1.5-0.8l1.5 2.6l1.5 4.1l1.5 3.2l1.5 0.1l1.5-3.8l1.5-6.6l1.5-6.8l1.5-4l1.5 0.8l1.5 5.5l1.5 8.7l1.5 9.1l1.5 7.6l1.5 5.4l1.5 3.1l1.5 1.6l1.5 0.7V1062.5ZM421.3 1062.5l0-0.5l1.5-0.7l1.5-1.5l1.5-2.8l1.5-4.2l1.5-5.5l1.5-5.7l1.5-4.4l1.5-1.7l1.5 1.7l1.5 4.4l1.5 5.7l1.5 5.5l1.5 4.2l1.5 2.8l1.5 1.5l1.5 0.7V1062.5ZM487.3 1062.5l0-0.3l1.5-0.6l1.5-1.2l1.5-2.4l1.5-3.9l1.5-5.5l1.5-6.5l1.5-5.8l1.5-3.4l1.5 0.1V1062.5Z" fill="none" stroke="#3f5ec2" stroke-width="1.15" stroke-linejoin="round"/>
<path d="M76.3 1062.5l0-0.7l1.5-1.3l1.5-2.6l1.5-4.9l1.5-7.9l1.5-10.4l1.5-11.5l1.5-9.5l1.5-4.6l1.5 1.9l1.5 7.6l1.5 10.4l1.5 9.6l1.5 5.6l1.5 0.1l1.5-5.6l1.5-9.8l1.5-11.1l1.5-8.7l1.5-2.9l1.5 3.9l1.5 9.5l1.5 12l1.5 11.3l1.5 8.6l1.5 5.6l1.5 3.1l1.5 1.4l1.5 0.6V1062.5ZM137.8 1062.5l0-0.5l1.5-1l1.5-2.1l1.5-4.1l1.5-6.7l1.5-9.5l1.5-11l1.5-10l1.5-5.9l1.5 0.2l1.5 6.3l1.5 10.1l1.5 11l1.5 9.3l1.5 6.6l1.5 3.9l1.5 2l1.5 0.9V1062.5ZM218.8 1062.5l0-0.4l1.5-0.7l1.5-1.6l1.5-2.9l1.5-4.8l1.5-6.6l1.5-7.5l1.5-6.4l1.5-3.5l1.5 0.8l1.5 4.6l1.5 7l1.5 7.3l1.5 6.1l1.5 4.1l1.5 2.5l1.5 1.2l1.5 0.5V1062.5ZM275.8 1062.5l0-0.4l1.5-0.7l1.5-1.5l1.5-2.9l1.5-4.7l1.5-6.6l1.5-7.6l1.5-6.7l1.5-3.7l1.5 0.4l1.5 4.5l1.5 7l1.5 7.5l1.5 6.3l1.5 4.3l1.5 2.6l1.5 1.3l1.5 0.6V1062.5ZM322.3 1062.5l0-0.3l1.5-0.4l1.5-1l1.5-2l1.5-3.1l1.5-4.3l1.5-4.8l1.5-4.2l1.5-2.2l1.5 0.4l1.5 3.1l1.5 4.5l1.5 4.8l1.5 3.9l1.5 2.7l1.5 1.6l1.5 0.8V1062.5ZM379.3 1062.5l0-0.4l1.5-0.8l1.5-1.6l1.5-2.9l1.5-4.7l1.5-6.3l1.5-6.9l1.5-5.7l1.5-2.7l1.5 1.2l1.5 4.7l1.5 6.6l1.5 6.7l1.5 5.4l1.5 3.6l1.5 2.1l1.5 1V1062.5ZM436.3 1062.5l0-0.5l1.5-1l1.5-2.1l1.5-3.9l1.5-6.4l1.5-8.7l1.5-9.8l1.5-8.6l1.5-4.7l1.5 0.6l1.5 5.2l1.5 7.3l1.5 5.9l1.5 1.9l1.5-2.9l1.5-6.2l1.5-6.6l1.5-3.8l1.5 1.2l1.5 6l1.5 9l1.5 9.3l1.5 7.8l1.5 5.3l1.5 3.1l1.5 1.6l1.5 0.6V1062.5ZM479.8 1062.5l0-0.5l1.5-0.8l1.5-1.7l1.5-3l1.5-4.6l1.5-6l1.5-6.3l1.5-4.8l1.5-1.8l1.5 1.8l1.5 4.8l1.5 6.3l1.5 6l1.5 4.6l1.5 3V1062.5Z" fill="none" stroke="#e0392b" stroke-width="1.15" stroke-linejoin="round"/>
<path d="M38.8 1062.5l0-6.4l1.5-5.1l1.5-6.6l1.5-7l1.5-5.5l1.5-2.3l1.5 1.8l1.5 5.2l1.5 6.9l1.5 6.7l1.5 5.2l1.5 3.3l1.5 1.5l1.5 0.2l1.5-0.8l1.5-1.4l1.5-1.7l1.5-1.4l1.5-0.6l1.5 0.4l1.5 1.2l1.5 1.7l1.5 1.6l1.5 1.3l1.5 0.9l1.5 0.5V1062.5ZM187.3 1062.5l0-0.4l1.5-0.7l1.5-1.4l1.5-2.9l1.5-4.5l1.5-6.3l1.5-7l1.5-6.2l1.5-3.3l1.5 0.7l1.5 4.4l1.5 6.7l1.5 6.9l1.5 5.8l1.5 4l1.5 2.3l1.5 1.1l1.5 0.5V1062.5ZM352.3 1062.5l0-0.5l1.5-0.8l1.5-1.8l1.5-3.7l1.5-6.3l1.5-9l1.5-10.8l1.5-10.1l1.5-6.5l1.5-0.6l1.5 5.4l1.5 9.7l1.5 10.8l1.5 9.5l1.5 6.8l1.5 4.2l1.5 2.2l1.5 0.9V1062.5Z" fill="none" stroke="#3dae3a" stroke-width="1.15" stroke-linejoin="round"/>
<path d="M203.8 1062.5l0-0.4l1.5-0.8l1.5-1.5l1.5-2.9l1.5-4.6l1.5-6.2l1.5-6.7l1.5-5.6l1.5-2.7l1.5 1.2l1.5 4.6l1.5 6.5l1.5 6.6l1.5 5.3l1.5 3.5l1.5 2l1.5 1V1062.5ZM233.8 1062.5l0-0.6l1.5-1.2l1.5-2.7l1.5-5.5l1.5-9.6l1.5-14.3l1.5-17.8l1.5-17.6l1.5-12.5l1.5-3.2l1.5 7.3l1.5 15.1l1.5 18.3l1.5 16.6l1.5 12.5l1.5 7.9l1.5 4.2l1.5 1.9l1.5 0.8V1062.5ZM290.8 1062.5l0-0.7l1.5-1.3l1.5-3l1.5-6.1l1.5-10.5l1.5-15.5l1.5-19l1.5-18.5l1.5-12.7l1.5-2.6l1.5 8.2l1.5 16.1l1.5 18.4l1.5 15.3l1.5 8.7l1.5 1.3l1.5-5l1.5-8.7l1.5-8.7l1.5-5.1l1.5 0.7l1.5 6.4l1.5 9.9l1.5 10.6l1.5 8.9l1.5 6.2l1.5 3.6l1.5 1.8l1.5 0.8V1062.5ZM337.3 1062.5l0-0.5l1.5-1l1.5-2.3l1.5-4.4l1.5-7.7l1.5-11.2l1.5-13.5l1.5-12.9l1.5-8.6l1.5-1.3l1.5 6.3l1.5 11.9l1.5 13.7l1.5 12.2l1.5 8.9l1.5 5.4l1.5 2.9l1.5 1.3l1.5 0.5l1.5 0l1.5-0.4l1.5-1.2l1.5-2.3l1.5-4.4l1.5-6.6l1.5-8.6l1.5-8.9l1.5-6.9l1.5-2.6l1.5 2.6l1.5 6.9l1.5 8.9l1.5 8.6l1.5 6.6l1.5 4.3l1.5 2.4l1.5 1.1l1.5 0.4l1.5-0.3l1.5-1.2l1.5-2.8l1.5-5.7l1.5-10l1.5-14.5l1.5-17.9l1.5-17.4l1.5-12l1.5-2.5l1.5 7.7l1.5 15l1.5 16.9l1.5 13.9l1.5 7.6l1.5 0.8l1.5-4.5l1.5-6.7l1.5-5.5l1.5-1.7l1.5 3.3l1.5 7.1l1.5 8.8l1.5 8.2l1.5 6.1l1.5 4l1.5 2.1l1.5 1V1062.5ZM464.8 1062.5l0-0.6l1.5-1.2l1.5-2.8l1.5-6l1.5-10.7l1.5-16.5l1.5-21.3l1.5-22.3l1.5-17.1l1.5-6.5l1.5 6.5l1.5 17.1l1.5 22.3l1.5 21.3l1.5 16.5l1.5 10.7l1.5 6l1.5 2.8l1.5 1.2V1062.5Z" fill="none" stroke="#111111" stroke-width="1.15" stroke-linejoin="round"/>
</g>
<line x1="38.8" y1="1063.2" x2="501.4" y2="1063.2" stroke="#d23b35" stroke-width="1.6"/>
<line x1="38.8" y1="1061.8" x2="501.4" y2="1061.8" stroke="#222" stroke-width="1" stroke-opacity="0.8"/>
<text x="39.5" y="940.2" font-size="10.5" font-weight="bold" fill="#3f5ec2" text-anchor="middle">:</text>
<text x="46.4" y="940.2" font-size="10.5" font-weight="bold" fill="#3fae3a" text-anchor="middle">A</text>
<text x="58.5" y="940.2" font-size="10.5" font-weight="bold" fill="#4a64c8" text-anchor="middle">C</text>
<text x="73.7" y="940.2" font-size="10.5" font-weight="bold" fill="#4a64c8" text-anchor="middle">C</text>
<text x="88.6" y="940.2" font-size="10.5" font-weight="bold" fill="#e0392b" text-anchor="middle">T</text>
<text x="104.7" y="940.2" font-size="10.5" font-weight="bold" fill="#e0392b" text-anchor="middle">T</text>
<text x="123.8" y="940.2" font-size="10.5" font-weight="bold" fill="#4a64c8" text-anchor="middle">C</text>
<text x="136.5" y="940.2" font-size="10.5" font-weight="bold" fill="#4a64c8" text-anchor="middle">C</text>
<text x="150.5" y="940.2" font-size="10.5" font-weight="bold" fill="#e0392b" text-anchor="middle">T</text>
<text x="165.4" y="940.2" font-size="10.5" font-weight="bold" fill="#4a64c8" text-anchor="middle">C</text>
<text x="177.8" y="940.2" font-size="10.5" font-weight="bold" fill="#4a64c8" text-anchor="middle">C</text>
<text x="191.3" y="940.2" font-size="10.5" font-weight="bold" fill="#4a64c8" text-anchor="middle">C</text>
<text x="199.8" y="940.2" font-size="10.5" font-weight="bold" fill="#3fae3a" text-anchor="middle">A</text>
<text x="216.1" y="940.2" font-size="10.5" font-weight="bold" fill="#111111" text-anchor="middle">G</text>
<text x="231.3" y="940.2" font-size="10.5" font-weight="bold" fill="#e0392b" text-anchor="middle">T</text>
<text x="247" y="940.2" font-size="10.5" font-weight="bold" fill="#111111" text-anchor="middle">G</text>
<text x="261.7" y="940.2" font-size="10.5" font-weight="bold" fill="#4a64c8" text-anchor="middle">C</text>
<text x="274.9" y="940.2" font-size="10.5" font-weight="bold" fill="#4a64c8" text-anchor="middle">C</text>
<text x="288.4" y="940.2" font-size="10.5" font-weight="bold" fill="#e0392b" text-anchor="middle">T</text>
<text x="303.9" y="940.2" font-size="10.5" font-weight="bold" fill="#111111" text-anchor="middle">G</text>
<text x="319.9" y="940.2" font-size="10.5" font-weight="bold" fill="#111111" text-anchor="middle">G</text>
<text x="334.8" y="940.2" font-size="10.5" font-weight="bold" fill="#e0392b" text-anchor="middle">T</text>
<text x="350.3" y="940.2" font-size="10.5" font-weight="bold" fill="#111111" text-anchor="middle">G</text>
<text x="365.2" y="940.2" font-size="10.5" font-weight="bold" fill="#3fae3a" text-anchor="middle">A</text>
<text x="379.3" y="940.2" font-size="10.5" font-weight="bold" fill="#111111" text-anchor="middle">G</text>
<text x="391.6" y="940.2" font-size="10.5" font-weight="bold" fill="#e0392b" text-anchor="middle">T</text>
<text x="407.4" y="940.2" font-size="10.5" font-weight="bold" fill="#111111" text-anchor="middle">G</text>
<text x="422.6" y="940.2" font-size="10.5" font-weight="bold" fill="#111111" text-anchor="middle">G</text>
<text x="433.3" y="940.2" font-size="10.5" font-weight="bold" fill="#4a64c8" text-anchor="middle">C</text>
<text x="448.8" y="940.2" font-size="10.5" font-weight="bold" fill="#e0392b" text-anchor="middle">T</text>
<text x="462.3" y="940.2" font-size="10.5" font-weight="bold" fill="#e0392b" text-anchor="middle">T</text>
<text x="478.3" y="940.2" font-size="10.5" font-weight="bold" fill="#111111" text-anchor="middle">G</text>
<text x="491.8" y="940.2" font-size="10.5" font-weight="bold" fill="#e0392b" text-anchor="middle">T</text>
<line x1="311.8" y1="947.8" x2="339.6" y2="947.8" stroke="#e0952f" stroke-width="1.8"/><text x="346.7" y="952.6" font-size="17" textLength="93.96" lengthAdjust="spacingAndGlyphs" font-style="italic" fill="#e0952f">splice donor</text>
<clipPath id="cc2"><rect x="525.9" y="924.9" width="477.2" height="142.2"/></clipPath>
<rect x="525.9" y="924.9" width="477.2" height="141.2" fill="#fbfbf6"/>
<line x1="525.9" y1="924.9" x2="1003.1" y2="924.9" stroke="#a9a9a9" stroke-width="1.3"/>
<line x1="562.3" y1="942.1" x2="562.3" y2="1064.1" stroke="#c8c8c8" stroke-width="0.9" stroke-dasharray="3 3"/>
<line x1="706.7" y1="942.1" x2="706.7" y2="1064.1" stroke="#c8c8c8" stroke-width="0.9" stroke-dasharray="3 3"/>
<line x1="860.9" y1="942.1" x2="860.9" y2="1064.1" stroke="#c8c8c8" stroke-width="0.9" stroke-dasharray="3 3"/>
<g clip-path="url(#cc2)">
<path d="M525.9 1062.9l0-29l1.5-0.9l1.5 2.8l1.5 5.5l1.5 6.3l1.5 5.7l1.5 3.7l1.5 1.4l1.5-1.4l1.5-4.7l1.5-8.2l1.5-11.5l1.5-12.7l1.5-10.9l1.5-5.6l1.5 1.7l1.5 8.1l1.5 11.5l1.5 10.7l1.5 6.4l1.5 0.2l1.5-6.3l1.5-11.2l1.5-12.6l1.5-9.9l1.5-3.3l1.5 4.5l1.5 10.8l1.5 13.7l1.5 12.8l1.5 9.9l1.5 6.4l1.5 3.4l1.5 1.7l1.5 0.7V1062.9ZM587.4 1062.9l0-0.3l1.5-0.6l1.5-1.3l1.5-2.5l1.5-4l1.5-5.7l1.5-6.6l1.5-6.1l1.5-4.1l1.5-1.8l1.5-0.2l1.5-0.4l1.5-2.3l1.5-4.3l1.5-4.5l1.5-2l1.5 2.2l1.5 6.3l1.5 8l1.5 6.5l1.5 2.3l1.5-3.5l1.5-8.7l1.5-11.2l1.5-10l1.5-4.9l1.5 2.4l1.5 8.7l1.5 12.4l1.5 12.4l1.5 10.1l1.5 6.7l1.5 3.9l1.5 1.9l1.5 0.7l1.5 0.2l1.5-0.2l1.5-0.7l1.5-1.8l1.5-3.4l1.5-5.7l1.5-8.2l1.5-9.6l1.5-8.9l1.5-5.5l1.5-0.5l1.5 4.4l1.5 6.9l1.5 6.1l1.5 2.1l1.5-3.2l1.5-7.5l1.5-9.1l1.5-6.7l1.5-1.5l1.5 4.3l1.5 7.9l1.5 7.8l1.5 4.1l1.5-1.4l1.5-6.3l1.5-8.3l1.5-6.2l1.5-1.1l1.5 5l1.5 9.7l1.5 11.2l1.5 10.2l1.5 7.4l1.5 4.7l1.5 2.5l1.5 1.1V1062.9ZM740.4 1062.9l0-0.4l1.5-0.7l1.5-1.5l1.5-3l1.5-5l1.5-7.2l1.5-8.4l1.5-7.7l1.5-4.8l1.5-0.3l1.5 4.3l1.5 6.9l1.5 6.9l1.5 4l1.5-0.7l1.5-5.6l1.5-9.3l1.5-10.3l1.5-7.9l1.5-2.3l1.5 4.2l1.5 9.1l1.5 11.4l1.5 10.5l1.5 7.9l1.5 5.1l1.5 2.7l1.5 1.3l1.5 0.5V1062.9ZM918.9 1062.9l0-0.3l1.5-0.5l1.5-1.2l1.5-2.4l1.5-4l1.5-5.9l1.5-7.2l1.5-6.8l1.5-4.6l1.5-0.7l1.5 3.4l1.5 6.3l1.5 7.3l1.5 6.4l1.5 4.7l1.5 2.9l1.5 1.5l1.5 0.7V1062.9ZM990.9 1062.9l0-0.6l1.5-1.1l1.5-2.1l1.5-4l1.5-6.1l1.5-8.1l1.5-8.5l1.5-6.7l1.5-2.8V1062.9Z" fill="#dfe4f3" fill-opacity="0.7"/>
<path d="M564.9 1062.9l0-0.5l1.5-1l1.5-2.4l1.5-4.8l1.5-8.6l1.5-12.8l1.5-16.2l1.5-16.3l1.5-11.9l1.5-3.6l1.5 6l1.5 13.4l1.5 16.3l1.5 14.5l1.5 9.4l1.5 2.9l1.5-3.5l1.5-9l1.5-11.9l1.5-11.5l1.5-7.2l1.5-0.2l1.5 6.9l1.5 11.5l1.5 12.8l1.5 11l1.5 7.8l1.5 4.8l1.5 2.4l1.5 1.1V1062.9ZM626.4 1062.9l0-0.5l1.5-1l1.5-2.1l1.5-4.2l1.5-7.2l1.5-10.4l1.5-12.3l1.5-11.6l1.5-7.4l1.5-0.7l1.5 6.2l1.5 11l1.5 12.5l1.5 10.8l1.5 7.9l1.5 4.7l1.5 2.5l1.5 1.2V1062.9ZM710.4 1062.9l0-0.4l1.5-0.8l1.5-1.7l1.5-3.3l1.5-5.6l1.5-7.7l1.5-9l1.5-8.1l1.5-4.8l1.5 0.2l1.5 5l1.5 8.3l1.5 9l1.5 7.6l1.5 5.3l1.5 3.2l1.5 1.7l1.5 0.7V1062.9ZM768.9 1062.9l0-0.3l1.5-0.6l1.5-1.3l1.5-2.7l1.5-4.6l1.5-6.6l1.5-8l1.5-7.7l1.5-5.1l1.5-0.8l1.5 3.8l1.5 7l1.5 8.2l1.5 7.2l1.5 5.3l1.5 3.3l1.5 1.7l1.5 0.7V1062.9ZM816.9 1062.9l0-0.3l1.5-0.5l1.5-1.1l1.5-2.4l1.5-4.1l1.5-6.2l1.5-7.6l1.5-7.6l1.5-5.3l1.5-1.4l1.5 3.1l1.5 6.5l1.5 7.9l1.5 7.1l1.5 5.4l1.5 3.3l1.5 1.9l1.5 0.8V1062.9ZM875.4 1062.9l0-0.4l1.5-0.7l1.5-1.6l1.5-3.2l1.5-5.5l1.5-7.8l1.5-9.3l1.5-8.8l1.5-5.6l1.5-0.6l1.5 4.8l1.5 8.3l1.5 9.4l1.5 8.2l1.5 6l1.5 3.6l1.5 1.9l1.5 0.8V1062.9ZM932.4 1062.9l0-0.7l1.5-1.1l1.5-2.7l1.5-5l1.5-8.5l1.5-11.8l1.5-13.8l1.5-12.4l1.5-7.3l1.5 0.2l1.5 7.6l1.5 12.1l1.5 12.6l1.5 9.3l1.5 4.1l1.5-1.2l1.5-5l1.5-6.3l1.5-4.9l1.5-1.2l1.5 3.1l1.5 6.5l1.5 7.7l1.5 7l1.5 5.3l1.5 3.3l1.5 1.8l1.5 0.8V1062.9ZM978.9 1062.9l0-0.6l1.5-1.1l1.5-2.1l1.5-4l1.5-6.1l1.5-8.1l1.5-8.5l1.5-6.7l1.5-2.8l1.5 2.2l1.5 6.3l1.5 8.4l1.5 8.2l1.5 6.4l1.5 4.3l1.5 2.3l1.5 1.2V1062.9Z" fill="#f4dcd6" fill-opacity="0.7"/>
<path d="M525.9 1062.9l0-5.8l1.5-5.3l1.5-7.6l1.5-9.1l1.5-8.6l1.5-5.4l1.5-0.6l1.5 4.6l1.5 8.2l1.5 9.1l1.5 8l1.5 5.8l1.5 3.6l1.5 1.8l1.5 0.8V1062.9ZM627.9 1062.9l0-0.6l1.5-0.6l1.5-0.9l1.5-1.2l1.5-1.3l1.5-1l1.5-0.4l1.5 0.3l1.5 1l1.5 1.2l1.5 1.3l1.5 0.9l1.5 0.7l1.5 0.3V1062.9ZM681.9 1062.9l0-0.6l1.5-1l1.5-2.1l1.5-3.8l1.5-6.1l1.5-8.1l1.5-8.6l1.5-7l1.5-3.2l1.5 1.9l1.5 6.2l1.5 8.4l1.5 8.4l1.5 6.7l1.5 4.4l1.5 2.5l1.5 1.2l1.5 0.5V1062.9ZM810.9 1062.9l0-0.5l1.5-0.5l1.5-0.7l1.5-1l1.5-1.1l1.5-0.9l1.5-0.3l1.5 0.3l1.5 0.8l1.5 1l1.5 1l1.5 0.8l1.5 0.6V1062.9ZM848.4 1062.9l0-0.3l1.5-0.7l1.5-1.4l1.5-3.1l1.5-5.2l1.5-7.9l1.5-9.7l1.5-9.7l1.5-6.8l1.5-1.8l1.5 4l1.5 8.3l1.5 10l1.5 9.1l1.5 6.9l1.5 4.3l1.5 2.3l1.5 1.1V1062.9Z" fill="#dff0d8" fill-opacity="0.7"/>
<path d="M693.9 1062.9l0-0.3l1.5-0.6l1.5-1.3l1.5-2.7l1.5-4.4l1.5-6.5l1.5-7.6l1.5-7.2l1.5-4.6l1.5-0.4l1.5 3.8l1.5 6.9l1.5 7.7l1.5 6.7l1.5 4.9l1.5 3l1.5 1.5l1.5 0.7V1062.9ZM725.4 1062.9l0-0.4l1.5-0.8l1.5-1.7l1.5-3.6l1.5-6.3l1.5-9.4l1.5-11.6l1.5-11.5l1.5-8.2l1.5-2.1l1.5 4.8l1.5 9.9l1.5 11.9l1.5 10.9l1.5 8.2l1.5 5.1l1.5 2.8l1.5 1.2l1.5 0.5V1062.9ZM783.9 1062.9l0-0.4l1.5-0.7l1.5-1.7l1.5-3.7l1.5-6.5l1.5-10.1l1.5-13.1l1.5-13.5l1.5-10.5l1.5-4l1.5 3.9l1.5 10.3l1.5 13l1.5 11.7l1.5 7.2l1.5 1l1.5-5.3l1.5-10.3l1.5-12.7l1.5-11.1l1.5-5.7l1.5 1.8l1.5 8.8l1.5 12.8l1.5 13.1l1.5 10.7l1.5 7.3l1.5 4.2l1.5 2.1l1.5 0.9l1.5 0.2l1.5-0.4l1.5-1.1l1.5-2.5l1.5-5.1l1.5-8.7l1.5-12.4l1.5-14.7l1.5-13.9l1.5-8.9l1.5-0.9l1.5 7.5l1.5 13.2l1.5 14.9l1.5 13.1l1.5 9.4l1.5 5.7l1.5 3l1.5 1.3l1.5 0.5l1.5 0l1.5-0.3l1.5-1l1.5-2.3l1.5-4.2l1.5-6.8l1.5-9.2l1.5-10.1l1.5-8.7l1.5-4.4l1.5 1.4l1.5 6.7l1.5 9.7l1.5 10l1.5 8.1l1.5 5.6l1.5 3.2l1.5 1.5l1.5 0.7V1062.9ZM888.9 1062.9l0-0.3l1.5-0.6l1.5-1.6l1.5-3.4l1.5-6.6l1.5-10.6l1.5-14.6l1.5-16.4l1.5-14.2l1.5-7.7l1.5 1.5l1.5 10l1.5 14.7l1.5 14.3l1.5 9.7l1.5 2.8l1.5-3.8l1.5-8.4l1.5-9.4l1.5-6.6l1.5-1l1.5 5.3l1.5 9.8l1.5 11.3l1.5 9.9l1.5 7.3l1.5 4.5l1.5 2.4l1.5 1.1V1062.9ZM960.9 1062.9l0-0.3l1.5-0.5l1.5-1.4l1.5-2.9l1.5-5.4l1.5-8.7l1.5-11.5l1.5-12.6l1.5-10.5l1.5-5l1.5 2.2l1.5 8.6l1.5 12.2l1.5 12.3l1.5 9.9l1.5 6.7l1.5 3.8l1.5 1.9l1.5 0.8V1062.9Z" fill="#dcdcd8" fill-opacity="0.7"/>
<path d="M525.9 1062.9l0-29l1.5-0.9l1.5 2.8l1.5 5.5l1.5 6.3l1.5 5.7l1.5 3.7l1.5 1.4l1.5-1.4l1.5-4.7l1.5-8.2l1.5-11.5l1.5-12.7l1.5-10.9l1.5-5.6l1.5 1.7l1.5 8.1l1.5 11.5l1.5 10.7l1.5 6.4l1.5 0.2l1.5-6.3l1.5-11.2l1.5-12.6l1.5-9.9l1.5-3.3l1.5 4.5l1.5 10.8l1.5 13.7l1.5 12.8l1.5 9.9l1.5 6.4l1.5 3.4l1.5 1.7l1.5 0.7V1062.9ZM587.4 1062.9l0-0.3l1.5-0.6l1.5-1.3l1.5-2.5l1.5-4l1.5-5.7l1.5-6.6l1.5-6.1l1.5-4.1l1.5-1.8l1.5-0.2l1.5-0.4l1.5-2.3l1.5-4.3l1.5-4.5l1.5-2l1.5 2.2l1.5 6.3l1.5 8l1.5 6.5l1.5 2.3l1.5-3.5l1.5-8.7l1.5-11.2l1.5-10l1.5-4.9l1.5 2.4l1.5 8.7l1.5 12.4l1.5 12.4l1.5 10.1l1.5 6.7l1.5 3.9l1.5 1.9l1.5 0.7l1.5 0.2l1.5-0.2l1.5-0.7l1.5-1.8l1.5-3.4l1.5-5.7l1.5-8.2l1.5-9.6l1.5-8.9l1.5-5.5l1.5-0.5l1.5 4.4l1.5 6.9l1.5 6.1l1.5 2.1l1.5-3.2l1.5-7.5l1.5-9.1l1.5-6.7l1.5-1.5l1.5 4.3l1.5 7.9l1.5 7.8l1.5 4.1l1.5-1.4l1.5-6.3l1.5-8.3l1.5-6.2l1.5-1.1l1.5 5l1.5 9.7l1.5 11.2l1.5 10.2l1.5 7.4l1.5 4.7l1.5 2.5l1.5 1.1V1062.9ZM740.4 1062.9l0-0.4l1.5-0.7l1.5-1.5l1.5-3l1.5-5l1.5-7.2l1.5-8.4l1.5-7.7l1.5-4.8l1.5-0.3l1.5 4.3l1.5 6.9l1.5 6.9l1.5 4l1.5-0.7l1.5-5.6l1.5-9.3l1.5-10.3l1.5-7.9l1.5-2.3l1.5 4.2l1.5 9.1l1.5 11.4l1.5 10.5l1.5 7.9l1.5 5.1l1.5 2.7l1.5 1.3l1.5 0.5V1062.9ZM918.9 1062.9l0-0.3l1.5-0.5l1.5-1.2l1.5-2.4l1.5-4l1.5-5.9l1.5-7.2l1.5-6.8l1.5-4.6l1.5-0.7l1.5 3.4l1.5 6.3l1.5 7.3l1.5 6.4l1.5 4.7l1.5 2.9l1.5 1.5l1.5 0.7V1062.9ZM990.9 1062.9l0-0.6l1.5-1.1l1.5-2.1l1.5-4l1.5-6.1l1.5-8.1l1.5-8.5l1.5-6.7l1.5-2.8V1062.9Z" fill="none" stroke="#3f5ec2" stroke-width="1.15" stroke-linejoin="round"/>
<path d="M564.9 1062.9l0-0.5l1.5-1l1.5-2.4l1.5-4.8l1.5-8.6l1.5-12.8l1.5-16.2l1.5-16.3l1.5-11.9l1.5-3.6l1.5 6l1.5 13.4l1.5 16.3l1.5 14.5l1.5 9.4l1.5 2.9l1.5-3.5l1.5-9l1.5-11.9l1.5-11.5l1.5-7.2l1.5-0.2l1.5 6.9l1.5 11.5l1.5 12.8l1.5 11l1.5 7.8l1.5 4.8l1.5 2.4l1.5 1.1V1062.9ZM626.4 1062.9l0-0.5l1.5-1l1.5-2.1l1.5-4.2l1.5-7.2l1.5-10.4l1.5-12.3l1.5-11.6l1.5-7.4l1.5-0.7l1.5 6.2l1.5 11l1.5 12.5l1.5 10.8l1.5 7.9l1.5 4.7l1.5 2.5l1.5 1.2V1062.9ZM710.4 1062.9l0-0.4l1.5-0.8l1.5-1.7l1.5-3.3l1.5-5.6l1.5-7.7l1.5-9l1.5-8.1l1.5-4.8l1.5 0.2l1.5 5l1.5 8.3l1.5 9l1.5 7.6l1.5 5.3l1.5 3.2l1.5 1.7l1.5 0.7V1062.9ZM768.9 1062.9l0-0.3l1.5-0.6l1.5-1.3l1.5-2.7l1.5-4.6l1.5-6.6l1.5-8l1.5-7.7l1.5-5.1l1.5-0.8l1.5 3.8l1.5 7l1.5 8.2l1.5 7.2l1.5 5.3l1.5 3.3l1.5 1.7l1.5 0.7V1062.9ZM816.9 1062.9l0-0.3l1.5-0.5l1.5-1.1l1.5-2.4l1.5-4.1l1.5-6.2l1.5-7.6l1.5-7.6l1.5-5.3l1.5-1.4l1.5 3.1l1.5 6.5l1.5 7.9l1.5 7.1l1.5 5.4l1.5 3.3l1.5 1.9l1.5 0.8V1062.9ZM875.4 1062.9l0-0.4l1.5-0.7l1.5-1.6l1.5-3.2l1.5-5.5l1.5-7.8l1.5-9.3l1.5-8.8l1.5-5.6l1.5-0.6l1.5 4.8l1.5 8.3l1.5 9.4l1.5 8.2l1.5 6l1.5 3.6l1.5 1.9l1.5 0.8V1062.9ZM932.4 1062.9l0-0.7l1.5-1.1l1.5-2.7l1.5-5l1.5-8.5l1.5-11.8l1.5-13.8l1.5-12.4l1.5-7.3l1.5 0.2l1.5 7.6l1.5 12.1l1.5 12.6l1.5 9.3l1.5 4.1l1.5-1.2l1.5-5l1.5-6.3l1.5-4.9l1.5-1.2l1.5 3.1l1.5 6.5l1.5 7.7l1.5 7l1.5 5.3l1.5 3.3l1.5 1.8l1.5 0.8V1062.9ZM978.9 1062.9l0-0.6l1.5-1.1l1.5-2.1l1.5-4l1.5-6.1l1.5-8.1l1.5-8.5l1.5-6.7l1.5-2.8l1.5 2.2l1.5 6.3l1.5 8.4l1.5 8.2l1.5 6.4l1.5 4.3l1.5 2.3l1.5 1.2V1062.9Z" fill="none" stroke="#e0392b" stroke-width="1.15" stroke-linejoin="round"/>
<path d="M525.9 1062.9l0-5.8l1.5-5.3l1.5-7.6l1.5-9.1l1.5-8.6l1.5-5.4l1.5-0.6l1.5 4.6l1.5 8.2l1.5 9.1l1.5 8l1.5 5.8l1.5 3.6l1.5 1.8l1.5 0.8V1062.9ZM627.9 1062.9l0-0.6l1.5-0.6l1.5-0.9l1.5-1.2l1.5-1.3l1.5-1l1.5-0.4l1.5 0.3l1.5 1l1.5 1.2l1.5 1.3l1.5 0.9l1.5 0.7l1.5 0.3V1062.9ZM681.9 1062.9l0-0.6l1.5-1l1.5-2.1l1.5-3.8l1.5-6.1l1.5-8.1l1.5-8.6l1.5-7l1.5-3.2l1.5 1.9l1.5 6.2l1.5 8.4l1.5 8.4l1.5 6.7l1.5 4.4l1.5 2.5l1.5 1.2l1.5 0.5V1062.9ZM810.9 1062.9l0-0.5l1.5-0.5l1.5-0.7l1.5-1l1.5-1.1l1.5-0.9l1.5-0.3l1.5 0.3l1.5 0.8l1.5 1l1.5 1l1.5 0.8l1.5 0.6V1062.9ZM848.4 1062.9l0-0.3l1.5-0.7l1.5-1.4l1.5-3.1l1.5-5.2l1.5-7.9l1.5-9.7l1.5-9.7l1.5-6.8l1.5-1.8l1.5 4l1.5 8.3l1.5 10l1.5 9.1l1.5 6.9l1.5 4.3l1.5 2.3l1.5 1.1V1062.9Z" fill="none" stroke="#3dae3a" stroke-width="1.15" stroke-linejoin="round"/>
<path d="M693.9 1062.9l0-0.3l1.5-0.6l1.5-1.3l1.5-2.7l1.5-4.4l1.5-6.5l1.5-7.6l1.5-7.2l1.5-4.6l1.5-0.4l1.5 3.8l1.5 6.9l1.5 7.7l1.5 6.7l1.5 4.9l1.5 3l1.5 1.5l1.5 0.7V1062.9ZM725.4 1062.9l0-0.4l1.5-0.8l1.5-1.7l1.5-3.6l1.5-6.3l1.5-9.4l1.5-11.6l1.5-11.5l1.5-8.2l1.5-2.1l1.5 4.8l1.5 9.9l1.5 11.9l1.5 10.9l1.5 8.2l1.5 5.1l1.5 2.8l1.5 1.2l1.5 0.5V1062.9ZM783.9 1062.9l0-0.4l1.5-0.7l1.5-1.7l1.5-3.7l1.5-6.5l1.5-10.1l1.5-13.1l1.5-13.5l1.5-10.5l1.5-4l1.5 3.9l1.5 10.3l1.5 13l1.5 11.7l1.5 7.2l1.5 1l1.5-5.3l1.5-10.3l1.5-12.7l1.5-11.1l1.5-5.7l1.5 1.8l1.5 8.8l1.5 12.8l1.5 13.1l1.5 10.7l1.5 7.3l1.5 4.2l1.5 2.1l1.5 0.9l1.5 0.2l1.5-0.4l1.5-1.1l1.5-2.5l1.5-5.1l1.5-8.7l1.5-12.4l1.5-14.7l1.5-13.9l1.5-8.9l1.5-0.9l1.5 7.5l1.5 13.2l1.5 14.9l1.5 13.1l1.5 9.4l1.5 5.7l1.5 3l1.5 1.3l1.5 0.5l1.5 0l1.5-0.3l1.5-1l1.5-2.3l1.5-4.2l1.5-6.8l1.5-9.2l1.5-10.1l1.5-8.7l1.5-4.4l1.5 1.4l1.5 6.7l1.5 9.7l1.5 10l1.5 8.1l1.5 5.6l1.5 3.2l1.5 1.5l1.5 0.7V1062.9ZM888.9 1062.9l0-0.3l1.5-0.6l1.5-1.6l1.5-3.4l1.5-6.6l1.5-10.6l1.5-14.6l1.5-16.4l1.5-14.2l1.5-7.7l1.5 1.5l1.5 10l1.5 14.7l1.5 14.3l1.5 9.7l1.5 2.8l1.5-3.8l1.5-8.4l1.5-9.4l1.5-6.6l1.5-1l1.5 5.3l1.5 9.8l1.5 11.3l1.5 9.9l1.5 7.3l1.5 4.5l1.5 2.4l1.5 1.1V1062.9ZM960.9 1062.9l0-0.3l1.5-0.5l1.5-1.4l1.5-2.9l1.5-5.4l1.5-8.7l1.5-11.5l1.5-12.6l1.5-10.5l1.5-5l1.5 2.2l1.5 8.6l1.5 12.2l1.5 12.3l1.5 9.9l1.5 6.7l1.5 3.8l1.5 1.9l1.5 0.8V1062.9Z" fill="none" stroke="#111111" stroke-width="1.15" stroke-linejoin="round"/>
</g>
<line x1="525.9" y1="1063.6" x2="1003.1" y2="1063.6" stroke="#d23b35" stroke-width="1.6"/>
<line x1="525.9" y1="1062.2" x2="1003.1" y2="1062.2" stroke="#222" stroke-width="1" stroke-opacity="0.8"/>
<text x="534.3" y="940.1" font-size="10.5" font-weight="bold" fill="#3fae3a" text-anchor="middle">A</text>
<text x="547.3" y="940.1" font-size="10.5" font-weight="bold" fill="#4a64c8" text-anchor="middle">C</text>
<text x="563.3" y="940.1" font-size="10.5" font-weight="bold" fill="#4a64c8" text-anchor="middle">C</text>
<text x="578.2" y="940.1" font-size="10.5" font-weight="bold" fill="#e0392b" text-anchor="middle">T</text>
<text x="595.7" y="940.1" font-size="10.5" font-weight="bold" fill="#e0392b" text-anchor="middle">T</text>
<text x="610.3" y="940.1" font-size="10.5" font-weight="bold" fill="#4a64c8" text-anchor="middle">C</text>
<text x="625.2" y="940.1" font-size="10.5" font-weight="bold" fill="#4a64c8" text-anchor="middle">C</text>
<text x="639.3" y="940.1" font-size="10.5" font-weight="bold" fill="#e0392b" text-anchor="middle">T</text>
<text x="654.2" y="940.1" font-size="10.5" font-weight="bold" fill="#4a64c8" text-anchor="middle">C</text>
<text x="668" y="940.1" font-size="10.5" font-weight="bold" fill="#4a64c8" text-anchor="middle">C</text>
<text x="681.5" y="940.1" font-size="10.5" font-weight="bold" fill="#4a64c8" text-anchor="middle">C</text>
<text x="694.1" y="940.1" font-size="10.5" font-weight="bold" fill="#3fae3a" text-anchor="middle">A</text>
<text x="706.8" y="940.1" font-size="10.5" font-weight="bold" fill="#111111" text-anchor="middle">G</text>
<text x="723.1" y="940.1" font-size="10.5" font-weight="bold" fill="#e0392b" text-anchor="middle">T</text>
<text x="738.6" y="940.1" font-size="10.5" font-weight="bold" fill="#111111" text-anchor="middle">G</text>
<text x="753.2" y="940.1" font-size="10.5" font-weight="bold" fill="#4a64c8" text-anchor="middle">C</text>
<text x="768.7" y="940.1" font-size="10.5" font-weight="bold" fill="#4a64c8" text-anchor="middle">C</text>
<text x="781.9" y="940.1" font-size="10.5" font-weight="bold" fill="#e0392b" text-anchor="middle">T</text>
<text x="797.4" y="940.1" font-size="10.5" font-weight="bold" fill="#111111" text-anchor="middle">G</text>
<text x="814.3" y="940.1" font-size="10.5" font-weight="bold" fill="#111111" text-anchor="middle">G</text>
<text x="830.1" y="940.1" font-size="10.5" font-weight="bold" fill="#e0392b" text-anchor="middle">T</text>
<text x="843.3" y="940.1" font-size="10.5" font-weight="bold" fill="#111111" text-anchor="middle">G</text>
<text x="861.6" y="940.1" font-size="10.5" font-weight="bold" fill="#3fae3a" text-anchor="middle">A</text>
<text x="872.8" y="940.1" font-size="10.5" font-weight="bold" fill="#111111" text-anchor="middle">G</text>
<text x="888.3" y="940.1" font-size="10.5" font-weight="bold" fill="#e0392b" text-anchor="middle">T</text>
<text x="902.9" y="940.1" font-size="10.5" font-weight="bold" fill="#111111" text-anchor="middle">G</text>
<text x="918.4" y="940.1" font-size="10.5" font-weight="bold" fill="#111111" text-anchor="middle">G</text>
<text x="931.9" y="940.1" font-size="10.5" font-weight="bold" fill="#4a64c8" text-anchor="middle">C</text>
<text x="945.1" y="940.1" font-size="10.5" font-weight="bold" fill="#e0392b" text-anchor="middle">T</text>
<text x="960.6" y="940.1" font-size="10.5" font-weight="bold" fill="#e0392b" text-anchor="middle">T</text>
<text x="974.7" y="940.1" font-size="10.5" font-weight="bold" fill="#111111" text-anchor="middle">G</text>
<text x="991" y="940.1" font-size="10.5" font-weight="bold" fill="#e0392b" text-anchor="middle">T</text>
<text x="1003" y="940.1" font-size="10.5" font-weight="bold" fill="#4a64c8" text-anchor="middle">C</text>
<line x1="808" y1="948.2" x2="836.2" y2="948.2" stroke="#e0952f" stroke-width="1.8"/><text x="845.5" y="953" font-size="17" textLength="94.25" lengthAdjust="spacingAndGlyphs" font-style="italic" fill="#e0952f">splice donor</text>
<clipPath id="cc3"><rect x="38.8" y="1116" width="453" height="140"/></clipPath>
<rect x="38.8" y="1116" width="453" height="139" fill="#fbfbf6"/>
<line x1="38.8" y1="1116" x2="491.8" y2="1116" stroke="#a9a9a9" stroke-width="1.3"/>
<line x1="147.5" y1="1132.4" x2="147.5" y2="1253" stroke="#c8c8c8" stroke-width="0.9" stroke-dasharray="3 3"/>
<line x1="286.6" y1="1132.4" x2="286.6" y2="1253" stroke="#c8c8c8" stroke-width="0.9" stroke-dasharray="3 3"/>
<line x1="424.4" y1="1132.4" x2="424.4" y2="1253" stroke="#c8c8c8" stroke-width="0.9" stroke-dasharray="3 3"/>
<g clip-path="url(#cc3)">
<path d="M38.8 1251.8l0-39.9l1.5 3.4l1.5 7.1l1.5 8.6l1.5 7.7l1.5 5.7l1.5 3.2l1.5 0.7l1.5-1.7l1.5-4.3l1.5-7l1.5-8.9l1.5-9.3l1.5-7l1.5-2.4l1.5 2.8l1.5 6.8l1.5 7.8l1.5 5.6l1.5 1.1l1.5-4.2l1.5-8.4l1.5-9.7l1.5-7.5l1.5-2.2l1.5 4.1l1.5 9l1.5 11.1l1.5 10.3l1.5 7.8l1.5 5l1.5 2.7l1.5 1.2l1.5 0.5V1251.8ZM109.3 1251.8l0-0.4l1.5-0.7l1.5-1.7l1.5-3.3l1.5-5.9l1.5-8.6l1.5-10.5l1.5-10.2l1.5-7.1l1.5-1.6l1.5 4.2l1.5 8.1l1.5 8.4l1.5 5.4l1.5 0.6l1.5-4.3l1.5-7l1.5-6.6l1.5-3l1.5 2.2l1.5 6.8l1.5 9.1l1.5 9.1l1.5 7.3l1.5 4.8l1.5 2.7l1.5 1.3l1.5 0.6l1.5 0l1.5-0.3l1.5-1l1.5-2.1l1.5-4.2l1.5-6.9l1.5-9.6l1.5-11l1.5-9.7l1.5-5.8l1.5-0.1l1.5 4.9l1.5 6.8l1.5 5l1.5 0.7l1.5-3.9l1.5-6.1l1.5-5l1.5-1.3l1.5 2.8l1.5 4.6l1.5 3.3l1.5-0.3l1.5-3.6l1.5-4.4l1.5-1.9l1.5 2.7l1.5 7.5l1.5 10l1.5 10.1l1.5 8.1l1.5 5.4l1.5 3.1l1.5 1.5l1.5 0.7V1251.8ZM247.3 1251.8l0-0.6l1.5-1l1.5-2.1l1.5-3.8l1.5-5.9l1.5-7.7l1.5-8.2l1.5-6.6l1.5-2.9l1.5 1.5l1.5 4.7l1.5 5.2l1.5 2.5l1.5-2.1l1.5-6.7l1.5-9.2l1.5-8l1.5-3.3l1.5 3l1.5 8.6l1.5 11.4l1.5 11.1l1.5 8.7l1.5 5.7l1.5 3.2l1.5 1.5l1.5 0.7V1251.8ZM412.3 1251.8l0-0.3l1.5-0.6l1.5-1.3l1.5-2.5l1.5-4l1.5-5.7l1.5-6.4l1.5-5.7l1.5-3.2l1.5 0.4l1.5 3.8l1.5 6l1.5 6.4l1.5 5.3l1.5 3.7l1.5 2.2l1.5 1.1l1.5 0.5V1251.8Z" fill="#dfe4f3" fill-opacity="0.7"/>
<path d="M76.3 1251.8l0-0.4l1.5-0.7l1.5-1.6l1.5-3.4l1.5-5.9l1.5-8.7l1.5-10.8l1.5-10.8l1.5-7.6l1.5-2.1l1.5 4.2l1.5 8.7l1.5 9.6l1.5 7l1.5 2l1.5-3.7l1.5-8.3l1.5-10l1.5-7.9l1.5-2.7l1.5 3.8l1.5 8.9l1.5 11.3l1.5 10.6l1.5 8.2l1.5 5.2l1.5 2.9l1.5 1.4l1.5 0.5V1251.8ZM136.3 1251.8l0-0.7l1.5-1.1l1.5-2.5l1.5-4.6l1.5-7.3l1.5-9.8l1.5-10.7l1.5-8.9l1.5-4.3l1.5 1.9l1.5 7.3l1.5 10.4l1.5 10.4l1.5 8.4l1.5 5.6l1.5 3.3l1.5 1.6l1.5 0.6V1251.8ZM217.3 1251.8l0-0.3l1.5-0.4l1.5-1.2l1.5-2.4l1.5-4.4l1.5-6.6l1.5-8.4l1.5-8.6l1.5-6.5l1.5-2.2l1.5 2.9l1.5 6.9l1.5 8.7l1.5 8.2l1.5 6.3l1.5 4.1l1.5 2.2l1.5 1.1V1251.8ZM274.3 1251.8l0-0.5l1.5-0.8l1.5-1.9l1.5-3.6l1.5-6.1l1.5-8.5l1.5-9.8l1.5-8.9l1.5-5.3l1.5 0.2l1.5 5.6l1.5 9.1l1.5 9.8l1.5 8.3l1.5 5.9l1.5 3.5l1.5 1.8l1.5 0.8V1251.8ZM311.8 1251.8l0-0.3l1.5-0.4l1.5-1.2l1.5-2.3l1.5-4.1l1.5-6l1.5-7.5l1.5-7.5l1.5-5.3l1.5-1.3l1.5 3.1l1.5 6.4l1.5 7.7l1.5 7l1.5 5.3l1.5 3.3l1.5 1.8l1.5 0.8V1251.8ZM368.8 1251.8l0-0.4l1.5-0.7l1.5-1.6l1.5-3l1.5-4.9l1.5-6.6l1.5-7.5l1.5-6.5l1.5-3.6l1.5 0.8l1.5 4.7l1.5 7.1l1.5 7.4l1.5 6.1l1.5 4.2l1.5 2.4l1.5 1.3l1.5 0.5V1251.8ZM427.3 1251.8l0-0.4l1.5-0.9l1.5-1.9l1.5-3.8l1.5-6.5l1.5-9.4l1.5-11.4l1.5-11l1.5-7.3l1.5-1.3l1.5 4.8l1.5 8.7l1.5 8.6l1.5 4.8l1.5-1l1.5-6.4l1.5-9.2l1.5-8.2l1.5-3.4l1.5 3.1l1.5 8.8l1.5 11.5l1.5 11.3l1.5 8.9l1.5 5.8l1.5 3.2l1.5 1.6l1.5 0.6V1251.8ZM470.8 1251.8l0-0.5l1.5-0.7l1.5-1.7l1.5-3.2l1.5-5.2l1.5-7.4l1.5-8.3l1.5-7.4l1.5-4.2l1.5 0.5l1.5 5l1.5 7.8l1.5 8.2l1.5 7l1.5 4.8V1251.8Z" fill="#f4dcd6" fill-opacity="0.7"/>
<path d="M38.8 1251.8l0-6.2l1.5-4.9l1.5-6.5l1.5-6.8l1.5-5.4l1.5-2.2l1.5 1.7l1.5 5.1l1.5 6.7l1.5 6.5l1.5 5.1l1.5 3.2l1.5 1.5l1.5 0.1l1.5-0.8l1.5-1.4l1.5-1.7l1.5-1.4l1.5-0.6l1.5 0.4l1.5 1.2l1.5 1.7l1.5 1.6l1.5 1.3l1.5 0.9l1.5 0.5V1251.8ZM187.3 1251.8l0-0.7l1.5-1l1.5-2.1l1.5-3.8l1.5-5.8l1.5-7.4l1.5-7.6l1.5-5.7l1.5-1.9l1.5 2.5l1.5 6.1l1.5 7.6l1.5 7.3l1.5 5.5l1.5 3.6l1.5 1.9l1.5 0.9V1251.8ZM287.8 1251.8l0-0.5l1.5-0.9l1.5-2.1l1.5-3.9l1.5-6.6l1.5-9.2l1.5-10.8l1.5-9.7l1.5-6l1.5-0.4l1.5 4.7l1.5 7.1l1.5 6.4l1.5 3.2l1.5-0.3l1.5-2l1.5-1.1l1.5 1.5l1.5 4.5l1.5 6.4l1.5 6.5l1.5 5.5l1.5 3.7l1.5 2.2l1.5 1l1.5 0.4l1.5 0l1.5-0.6l1.5-1.3l1.5-2.7l1.5-4.4l1.5-6.4l1.5-7.5l1.5-6.9l1.5-4.3l1.5-0.3l1.5 3.4l1.5 5.6l1.5 5l1.5 2.4l1.5-1.2l1.5-4.1l1.5-4.8l1.5-3.3l1.5 0.1l1.5 3.8l1.5 6.2l1.5 6.8l1.5 5.9l1.5 4.2l1.5 2.6l1.5 1.3l1.5 0.6V1251.8Z" fill="#dff0d8" fill-opacity="0.7"/>
<path d="M202.3 1251.8l0-0.3l1.5-0.4l1.5-1.1l1.5-2.1l1.5-3.6l1.5-5.2l1.5-6.1l1.5-5.8l1.5-3.7l1.5-0.4l1.5 3.1l1.5 5.5l1.5 6.2l1.5 5.5l1.5 3.9l1.5 2.4l1.5 1.2l1.5 0.6V1251.8ZM230.8 1251.8l0-0.3l1.5-0.4l1.5-1.4l1.5-3.2l1.5-6.5l1.5-11.2l1.5-16.5l1.5-20.1l1.5-19.7l1.5-13.5l1.5-2.8l1.5 8.9l1.5 17.5l1.5 20.6l1.5 18.5l1.5 13.7l1.5 8.6l1.5 4.5l1.5 2.1l1.5 0.8V1251.8ZM290.8 1251.8l0-0.3l1.5-0.3l1.5-0.5l1.5-0.8l1.5-0.8l1.5-0.8l1.5-0.5l1.5-0.1l1.5 0.2l1.5 0.3l1.5 0l1.5-0.4l1.5-0.8l1.5-0.8l1.5-0.5l1.5 0.2l1.5 0.9l1.5 1.2l1.5 1.3l1.5 1l1.5 0.7l1.5 0.4V1251.8ZM332.8 1251.8l0-0.4l1.5-0.7l1.5-1.4l1.5-2.5l1.5-3.7l1.5-4.7l1.5-4.7l1.5-3.6l1.5-1.3l1.5 1.2l1.5 3.2l1.5 3.9l1.5 3.7l1.5 2.9l1.5 2.1l1.5 1.5l1.5 0.9l1.5 0.2l1.5-0.9l1.5-2.5l1.5-4.3l1.5-5.6l1.5-5.8l1.5-4.2l1.5-1.3l1.5 2.2l1.5 4.9l1.5 5.9l1.5 5.6l1.5 4.2l1.5 2.7l1.5 1.4l1.5 0.6l1.5 0.1l1.5-0.4l1.5-1.3l1.5-3.1l1.5-6l1.5-10.3l1.5-14.8l1.5-17.6l1.5-16.6l1.5-10.6l1.5-1.1l1.5 8.9l1.5 15.5l1.5 17.2l1.5 14.3l1.5 8.5l1.5 2l1.5-3.7l1.5-7.5l1.5-8.5l1.5-6.5l1.5-2l1.5 3.5l1.5 7.6l1.5 9.4l1.5 8.7l1.5 6.6l1.5 4.2l1.5 2.3l1.5 1.1V1251.8ZM454.3 1251.8l0-0.5l1.5-0.9l1.5-2.6l1.5-5.7l1.5-11.1l1.5-18.4l1.5-25.9l1.5-29.9l1.5-27.1l1.5-16l1.5 0.6l1.5 17l1.5 27.5l1.5 29.9l1.5 25.4l1.5 17.8l1.5 10.7l1.5 5.4l1.5 2.5l1.5 0.9V1251.8Z" fill="#dcdcd8" fill-opacity="0.7"/>
<path d="M38.8 1251.8l0-39.9l1.5 3.4l1.5 7.1l1.5 8.6l1.5 7.7l1.5 5.7l1.5 3.2l1.5 0.7l1.5-1.7l1.5-4.3l1.5-7l1.5-8.9l1.5-9.3l1.5-7l1.5-2.4l1.5 2.8l1.5 6.8l1.5 7.8l1.5 5.6l1.5 1.1l1.5-4.2l1.5-8.4l1.5-9.7l1.5-7.5l1.5-2.2l1.5 4.1l1.5 9l1.5 11.1l1.5 10.3l1.5 7.8l1.5 5l1.5 2.7l1.5 1.2l1.5 0.5V1251.8ZM109.3 1251.8l0-0.4l1.5-0.7l1.5-1.7l1.5-3.3l1.5-5.9l1.5-8.6l1.5-10.5l1.5-10.2l1.5-7.1l1.5-1.6l1.5 4.2l1.5 8.1l1.5 8.4l1.5 5.4l1.5 0.6l1.5-4.3l1.5-7l1.5-6.6l1.5-3l1.5 2.2l1.5 6.8l1.5 9.1l1.5 9.1l1.5 7.3l1.5 4.8l1.5 2.7l1.5 1.3l1.5 0.6l1.5 0l1.5-0.3l1.5-1l1.5-2.1l1.5-4.2l1.5-6.9l1.5-9.6l1.5-11l1.5-9.7l1.5-5.8l1.5-0.1l1.5 4.9l1.5 6.8l1.5 5l1.5 0.7l1.5-3.9l1.5-6.1l1.5-5l1.5-1.3l1.5 2.8l1.5 4.6l1.5 3.3l1.5-0.3l1.5-3.6l1.5-4.4l1.5-1.9l1.5 2.7l1.5 7.5l1.5 10l1.5 10.1l1.5 8.1l1.5 5.4l1.5 3.1l1.5 1.5l1.5 0.7V1251.8ZM247.3 1251.8l0-0.6l1.5-1l1.5-2.1l1.5-3.8l1.5-5.9l1.5-7.7l1.5-8.2l1.5-6.6l1.5-2.9l1.5 1.5l1.5 4.7l1.5 5.2l1.5 2.5l1.5-2.1l1.5-6.7l1.5-9.2l1.5-8l1.5-3.3l1.5 3l1.5 8.6l1.5 11.4l1.5 11.1l1.5 8.7l1.5 5.7l1.5 3.2l1.5 1.5l1.5 0.7V1251.8ZM412.3 1251.8l0-0.3l1.5-0.6l1.5-1.3l1.5-2.5l1.5-4l1.5-5.7l1.5-6.4l1.5-5.7l1.5-3.2l1.5 0.4l1.5 3.8l1.5 6l1.5 6.4l1.5 5.3l1.5 3.7l1.5 2.2l1.5 1.1l1.5 0.5V1251.8Z" fill="none" stroke="#3f5ec2" stroke-width="1.15" stroke-linejoin="round"/>
<path d="M76.3 1251.8l0-0.4l1.5-0.7l1.5-1.6l1.5-3.4l1.5-5.9l1.5-8.7l1.5-10.8l1.5-10.8l1.5-7.6l1.5-2.1l1.5 4.2l1.5 8.7l1.5 9.6l1.5 7l1.5 2l1.5-3.7l1.5-8.3l1.5-10l1.5-7.9l1.5-2.7l1.5 3.8l1.5 8.9l1.5 11.3l1.5 10.6l1.5 8.2l1.5 5.2l1.5 2.9l1.5 1.4l1.5 0.5V1251.8ZM136.3 1251.8l0-0.7l1.5-1.1l1.5-2.5l1.5-4.6l1.5-7.3l1.5-9.8l1.5-10.7l1.5-8.9l1.5-4.3l1.5 1.9l1.5 7.3l1.5 10.4l1.5 10.4l1.5 8.4l1.5 5.6l1.5 3.3l1.5 1.6l1.5 0.6V1251.8ZM217.3 1251.8l0-0.3l1.5-0.4l1.5-1.2l1.5-2.4l1.5-4.4l1.5-6.6l1.5-8.4l1.5-8.6l1.5-6.5l1.5-2.2l1.5 2.9l1.5 6.9l1.5 8.7l1.5 8.2l1.5 6.3l1.5 4.1l1.5 2.2l1.5 1.1V1251.8ZM274.3 1251.8l0-0.5l1.5-0.8l1.5-1.9l1.5-3.6l1.5-6.1l1.5-8.5l1.5-9.8l1.5-8.9l1.5-5.3l1.5 0.2l1.5 5.6l1.5 9.1l1.5 9.8l1.5 8.3l1.5 5.9l1.5 3.5l1.5 1.8l1.5 0.8V1251.8ZM311.8 1251.8l0-0.3l1.5-0.4l1.5-1.2l1.5-2.3l1.5-4.1l1.5-6l1.5-7.5l1.5-7.5l1.5-5.3l1.5-1.3l1.5 3.1l1.5 6.4l1.5 7.7l1.5 7l1.5 5.3l1.5 3.3l1.5 1.8l1.5 0.8V1251.8ZM368.8 1251.8l0-0.4l1.5-0.7l1.5-1.6l1.5-3l1.5-4.9l1.5-6.6l1.5-7.5l1.5-6.5l1.5-3.6l1.5 0.8l1.5 4.7l1.5 7.1l1.5 7.4l1.5 6.1l1.5 4.2l1.5 2.4l1.5 1.3l1.5 0.5V1251.8ZM427.3 1251.8l0-0.4l1.5-0.9l1.5-1.9l1.5-3.8l1.5-6.5l1.5-9.4l1.5-11.4l1.5-11l1.5-7.3l1.5-1.3l1.5 4.8l1.5 8.7l1.5 8.6l1.5 4.8l1.5-1l1.5-6.4l1.5-9.2l1.5-8.2l1.5-3.4l1.5 3.1l1.5 8.8l1.5 11.5l1.5 11.3l1.5 8.9l1.5 5.8l1.5 3.2l1.5 1.6l1.5 0.6V1251.8ZM470.8 1251.8l0-0.5l1.5-0.7l1.5-1.7l1.5-3.2l1.5-5.2l1.5-7.4l1.5-8.3l1.5-7.4l1.5-4.2l1.5 0.5l1.5 5l1.5 7.8l1.5 8.2l1.5 7l1.5 4.8V1251.8Z" fill="none" stroke="#e0392b" stroke-width="1.15" stroke-linejoin="round"/>
<path d="M38.8 1251.8l0-6.2l1.5-4.9l1.5-6.5l1.5-6.8l1.5-5.4l1.5-2.2l1.5 1.7l1.5 5.1l1.5 6.7l1.5 6.5l1.5 5.1l1.5 3.2l1.5 1.5l1.5 0.1l1.5-0.8l1.5-1.4l1.5-1.7l1.5-1.4l1.5-0.6l1.5 0.4l1.5 1.2l1.5 1.7l1.5 1.6l1.5 1.3l1.5 0.9l1.5 0.5V1251.8ZM187.3 1251.8l0-0.7l1.5-1l1.5-2.1l1.5-3.8l1.5-5.8l1.5-7.4l1.5-7.6l1.5-5.7l1.5-1.9l1.5 2.5l1.5 6.1l1.5 7.6l1.5 7.3l1.5 5.5l1.5 3.6l1.5 1.9l1.5 0.9V1251.8ZM287.8 1251.8l0-0.5l1.5-0.9l1.5-2.1l1.5-3.9l1.5-6.6l1.5-9.2l1.5-10.8l1.5-9.7l1.5-6l1.5-0.4l1.5 4.7l1.5 7.1l1.5 6.4l1.5 3.2l1.5-0.3l1.5-2l1.5-1.1l1.5 1.5l1.5 4.5l1.5 6.4l1.5 6.5l1.5 5.5l1.5 3.7l1.5 2.2l1.5 1l1.5 0.4l1.5 0l1.5-0.6l1.5-1.3l1.5-2.7l1.5-4.4l1.5-6.4l1.5-7.5l1.5-6.9l1.5-4.3l1.5-0.3l1.5 3.4l1.5 5.6l1.5 5l1.5 2.4l1.5-1.2l1.5-4.1l1.5-4.8l1.5-3.3l1.5 0.1l1.5 3.8l1.5 6.2l1.5 6.8l1.5 5.9l1.5 4.2l1.5 2.6l1.5 1.3l1.5 0.6V1251.8Z" fill="none" stroke="#3dae3a" stroke-width="1.15" stroke-linejoin="round"/>
<path d="M202.3 1251.8l0-0.3l1.5-0.4l1.5-1.1l1.5-2.1l1.5-3.6l1.5-5.2l1.5-6.1l1.5-5.8l1.5-3.7l1.5-0.4l1.5 3.1l1.5 5.5l1.5 6.2l1.5 5.5l1.5 3.9l1.5 2.4l1.5 1.2l1.5 0.6V1251.8ZM230.8 1251.8l0-0.3l1.5-0.4l1.5-1.4l1.5-3.2l1.5-6.5l1.5-11.2l1.5-16.5l1.5-20.1l1.5-19.7l1.5-13.5l1.5-2.8l1.5 8.9l1.5 17.5l1.5 20.6l1.5 18.5l1.5 13.7l1.5 8.6l1.5 4.5l1.5 2.1l1.5 0.8V1251.8ZM290.8 1251.8l0-0.3l1.5-0.3l1.5-0.5l1.5-0.8l1.5-0.8l1.5-0.8l1.5-0.5l1.5-0.1l1.5 0.2l1.5 0.3l1.5 0l1.5-0.4l1.5-0.8l1.5-0.8l1.5-0.5l1.5 0.2l1.5 0.9l1.5 1.2l1.5 1.3l1.5 1l1.5 0.7l1.5 0.4V1251.8ZM332.8 1251.8l0-0.4l1.5-0.7l1.5-1.4l1.5-2.5l1.5-3.7l1.5-4.7l1.5-4.7l1.5-3.6l1.5-1.3l1.5 1.2l1.5 3.2l1.5 3.9l1.5 3.7l1.5 2.9l1.5 2.1l1.5 1.5l1.5 0.9l1.5 0.2l1.5-0.9l1.5-2.5l1.5-4.3l1.5-5.6l1.5-5.8l1.5-4.2l1.5-1.3l1.5 2.2l1.5 4.9l1.5 5.9l1.5 5.6l1.5 4.2l1.5 2.7l1.5 1.4l1.5 0.6l1.5 0.1l1.5-0.4l1.5-1.3l1.5-3.1l1.5-6l1.5-10.3l1.5-14.8l1.5-17.6l1.5-16.6l1.5-10.6l1.5-1.1l1.5 8.9l1.5 15.5l1.5 17.2l1.5 14.3l1.5 8.5l1.5 2l1.5-3.7l1.5-7.5l1.5-8.5l1.5-6.5l1.5-2l1.5 3.5l1.5 7.6l1.5 9.4l1.5 8.7l1.5 6.6l1.5 4.2l1.5 2.3l1.5 1.1V1251.8ZM454.3 1251.8l0-0.5l1.5-0.9l1.5-2.6l1.5-5.7l1.5-11.1l1.5-18.4l1.5-25.9l1.5-29.9l1.5-27.1l1.5-16l1.5 0.6l1.5 17l1.5 27.5l1.5 29.9l1.5 25.4l1.5 17.8l1.5 10.7l1.5 5.4l1.5 2.5l1.5 0.9V1251.8Z" fill="none" stroke="#111111" stroke-width="1.15" stroke-linejoin="round"/>
</g>
<line x1="38.8" y1="1252.5" x2="491.8" y2="1252.5" stroke="#d23b35" stroke-width="1.6"/>
<line x1="38.8" y1="1251.1" x2="491.8" y2="1251.1" stroke="#222" stroke-width="1" stroke-opacity="0.8"/>
<text x="39.5" y="1130.4" font-size="10.5" font-weight="bold" fill="#3f5ec2" text-anchor="middle">:</text>
<text x="46.4" y="1130.4" font-size="10.5" font-weight="bold" fill="#3fae3a" text-anchor="middle">A</text>
<text x="59.7" y="1130.4" font-size="10.5" font-weight="bold" fill="#4a64c8" text-anchor="middle">C</text>
<text x="74.6" y="1130.4" font-size="10.5" font-weight="bold" fill="#4a64c8" text-anchor="middle">C</text>
<text x="89.5" y="1130.4" font-size="10.5" font-weight="bold" fill="#e0392b" text-anchor="middle">T</text>
<text x="104.7" y="1130.4" font-size="10.5" font-weight="bold" fill="#e0392b" text-anchor="middle">T</text>
<text x="122.4" y="1130.4" font-size="10.5" font-weight="bold" fill="#4a64c8" text-anchor="middle">C</text>
<text x="136.5" y="1130.4" font-size="10.5" font-weight="bold" fill="#4a64c8" text-anchor="middle">C</text>
<text x="148.6" y="1130.4" font-size="10.5" font-weight="bold" fill="#e0392b" text-anchor="middle">T</text>
<text x="165.4" y="1130.4" font-size="10.5" font-weight="bold" fill="#4a64c8" text-anchor="middle">C</text>
<text x="177.8" y="1130.4" font-size="10.5" font-weight="bold" fill="#4a64c8" text-anchor="middle">C</text>
<text x="189.1" y="1130.4" font-size="10.5" font-weight="bold" fill="#4a64c8" text-anchor="middle">C</text>
<text x="199.2" y="1130.4" font-size="10.5" font-weight="bold" fill="#3fae3a" text-anchor="middle">A</text>
<text x="215.2" y="1130.4" font-size="10.5" font-weight="bold" fill="#111111" text-anchor="middle">G</text>
<text x="230.7" y="1130.4" font-size="10.5" font-weight="bold" fill="#e0392b" text-anchor="middle">T</text>
<text x="245.4" y="1130.4" font-size="10.5" font-weight="bold" fill="#111111" text-anchor="middle">G</text>
<text x="259.4" y="1130.4" font-size="10.5" font-weight="bold" fill="#4a64c8" text-anchor="middle">C</text>
<text x="272.9" y="1130.4" font-size="10.5" font-weight="bold" fill="#4a64c8" text-anchor="middle">C</text>
<text x="287" y="1130.4" font-size="10.5" font-weight="bold" fill="#e0392b" text-anchor="middle">T</text>
<text x="300.5" y="1130.4" font-size="10.5" font-weight="bold" fill="#3fae3a" text-anchor="middle">A</text>
<text x="312.3" y="1130.4" font-size="10.5" font-weight="bold" fill="#3fae3a" text-anchor="middle">A</text>
<text x="325" y="1130.4" font-size="10.5" font-weight="bold" fill="#e0392b" text-anchor="middle">T</text>
<text x="339.6" y="1130.4" font-size="10.5" font-weight="bold" fill="#3fae3a" text-anchor="middle">A</text>
<text x="353.1" y="1130.4" font-size="10.5" font-weight="bold" fill="#3fae3a" text-anchor="middle">A</text>
<text x="368.6" y="1130.4" font-size="10.5" font-weight="bold" fill="#111111" text-anchor="middle">G</text>
<text x="381.3" y="1130.4" font-size="10.5" font-weight="bold" fill="#e0392b" text-anchor="middle">T</text>
<text x="396.7" y="1130.4" font-size="10.5" font-weight="bold" fill="#111111" text-anchor="middle">G</text>
<text x="413.6" y="1130.4" font-size="10.5" font-weight="bold" fill="#111111" text-anchor="middle">G</text>
<text x="424.9" y="1130.4" font-size="10.5" font-weight="bold" fill="#4a64c8" text-anchor="middle">C</text>
<text x="440.3" y="1130.4" font-size="10.5" font-weight="bold" fill="#e0392b" text-anchor="middle">T</text>
<text x="454.4" y="1130.4" font-size="10.5" font-weight="bold" fill="#e0392b" text-anchor="middle">T</text>
<text x="468.5" y="1130.4" font-size="10.5" font-weight="bold" fill="#111111" text-anchor="middle">G</text>
<text x="483.4" y="1130.4" font-size="10.5" font-weight="bold" fill="#e0392b" text-anchor="middle">T</text>
<text x="33.8" y="1146.1" font-size="17" textLength="37.13" lengthAdjust="spacingAndGlyphs" font-style="italic" fill="#111" stroke="#111" stroke-width="0.2">PAM</text><line x1="84.4" y1="1140.5" x2="357.3" y2="1140.5" stroke="#111" stroke-width="1.4"/>
<rect x="293.5" y="1116" width="24.5" height="139.9" fill="none" stroke="#d8382c" stroke-width="1.8"/>
<rect x="328.6" y="1116" width="16.9" height="139.9" fill="none" stroke="#d8382c" stroke-width="1.8"/>
<clipPath id="cc4"><rect x="529.5" y="1115.2" width="464.3" height="142.8"/></clipPath>
<rect x="529.5" y="1115.2" width="464.3" height="141.8" fill="#fbfbf6"/>
<line x1="529.5" y1="1115.2" x2="993.8" y2="1115.2" stroke="#a9a9a9" stroke-width="1.3"/>
<line x1="594.5" y1="1132.4" x2="594.5" y2="1255" stroke="#c8c8c8" stroke-width="0.9" stroke-dasharray="3 3"/>
<line x1="735.3" y1="1132.4" x2="735.3" y2="1255" stroke="#c8c8c8" stroke-width="0.9" stroke-dasharray="3 3"/>
<line x1="878.8" y1="1132.4" x2="878.8" y2="1255" stroke="#c8c8c8" stroke-width="0.9" stroke-dasharray="3 3"/>
<g clip-path="url(#cc4)">
<path d="M529.5 1253.8l0-23.5l1.5 5.7l1.5 5.9l1.5 4.8l1.5 3l1.5 1.2l1.5-1l1.5-3.3l1.5-6.3l1.5-9.2l1.5-11l1.5-10.3l1.5-6.7l1.5-0.8l1.5 5.2l1.5 8.7l1.5 8.7l1.5 4.8l1.5-1l1.5-7.3l1.5-11.2l1.5-11.5l1.5-7.2l1.5-0.2l1.5 7.3l1.5 12.3l1.5 13.5l1.5 11.7l1.5 8.3l1.5 5l1.5 2.6l1.5 1.1V1253.8ZM598.5 1253.8l0-0.6l1.5-1.1l1.5-2.3l1.5-4.5l1.5-7.4l1.5-10.2l1.5-11.7l1.5-10.4l1.5-5.9l1.5 0.5l1.5 6.6l1.5 9.9l1.5 9.2l1.5 5.3l1.5-0.5l1.5-6.1l1.5-9.6l1.5-9.3l1.5-5.5l1.5 0.8l1.5 6.9l1.5 10.8l1.5 11.5l1.5 9.6l1.5 6.7l1.5 3.9l1.5 2l1.5 0.7l1.5 0l1.5-0.9l1.5-2.3l1.5-4.5l1.5-7.5l1.5-10.7l1.5-12.6l1.5-11.6l1.5-7.2l1.5-0.4l1.5 6.4l1.5 10.5l1.5 10.5l1.5 6.7l1.5 0.8l1.5-5.2l1.5-9.3l1.5-9.8l1.5-6.5l1.5-0.9l1.5 4.4l1.5 7.1l1.5 5.9l1.5 2l1.5-2l1.5-3.8l1.5-2.3l1.5 1.5l1.5 5.9l1.5 8.6l1.5 9.2l1.5 7.6l1.5 5.3l1.5 3.1l1.5 1.6l1.5 0.7V1253.8ZM738 1253.8l0-0.7l1.5-1l1.5-2.2l1.5-3.9l1.5-6l1.5-7.6l1.5-7.8l1.5-5.8l1.5-2.1l1.5 2.4l1.5 5.7l1.5 6.4l1.5 4.5l1.5 0.3l1.5-4.8l1.5-8.9l1.5-10.7l1.5-8.8l1.5-3.6l1.5 2.9l1.5 8.7l1.5 11.5l1.5 11.1l1.5 8.8l1.5 5.8l1.5 3.3l1.5 1.5l1.5 0.7V1253.8ZM813 1253.8l0-0.5l1.5-0.8l1.5-1.4l1.5-2.4l1.5-3.2l1.5-3.8l1.5-3.3l1.5-1.8l1.5 0.2l1.5 2.2l1.5 3.5l1.5 3.7l1.5 3.1l1.5 2.1l1.5 1.3l1.5 0.7V1253.8ZM867 1253.8l0-0.3l1.5-0.6l1.5-1.4l1.5-2.8l1.5-4.7l1.5-6.7l1.5-8l1.5-7.5l1.5-4.8l1.5-0.5l1.5 4l1.5 7.2l1.5 8.1l1.5 7l1.5 5.1l1.5 3.1l1.5 1.7l1.5 0.7V1253.8ZM912 1253.8l0-0.7l1.5-1l1.5-2l1.5-3.5l1.5-5.1l1.5-6.1l1.5-5.9l1.5-4.1l1.5-0.9l1.5 2l1.5 3.4l1.5 2.3l1.5-0.9l1.5-5l1.5-8l1.5-8.2l1.5-5l1.5 0.3l1.5 5.8l1.5 9l1.5 9.1l1.5 6.5l1.5 2.7l1.5-0.8l1.5-2.6l1.5-2.5l1.5-0.6l1.5 1.8l1.5 3.8l1.5 4.6l1.5 4.3l1.5 3.3l1.5 2l1.5 1.2l1.5 0.5V1253.8ZM979.5 1253.8l0-0.3l1.5-0.5l1.5-1.3l1.5-2.8l1.5-4.9l1.5-7.6l1.5-9.9l1.5-10.2l1.5-7.9l1.5-3V1253.8Z" fill="#dfe4f3" fill-opacity="0.7"/>
<path d="M564 1253.8l0-0.4l1.5-0.8l1.5-1.9l1.5-3.9l1.5-6.9l1.5-10.6l1.5-13.5l1.5-13.8l1.5-10.4l1.5-3.6l1.5 4.6l1.5 10.9l1.5 13.6l1.5 12.2l1.5 7.8l1.5 1.8l1.5-4.7l1.5-10.3l1.5-14.1l1.5-14.1l1.5-9.9l1.5-2l1.5 6.5l1.5 12.8l1.5 15.1l1.5 13.6l1.5 10l1.5 6.3l1.5 3.3l1.5 1.5l1.5 0.6V1253.8ZM625.5 1253.8l0-0.3l1.5-0.5l1.5-1.4l1.5-2.9l1.5-5.5l1.5-8.8l1.5-11.7l1.5-12.7l1.5-10.7l1.5-5l1.5 2.2l1.5 8.7l1.5 12.4l1.5 12.4l1.5 10.1l1.5 6.7l1.5 3.9l1.5 1.9l1.5 0.8V1253.8ZM708 1253.8l0-0.4l1.5-0.6l1.5-1.6l1.5-3l1.5-5.1l1.5-7.4l1.5-8.8l1.5-8.3l1.5-5.3l1.5-0.5l1.5 4.5l1.5 7.8l1.5 8.9l1.5 7.8l1.5 5.6l1.5 3.4l1.5 1.7l1.5 0.8V1253.8ZM766.5 1253.8l0-0.7l1.5-1.2l1.5-2.6l1.5-4.6l1.5-7.3l1.5-9.4l1.5-10l1.5-7.9l1.5-3.3l1.5 2.5l1.5 7.5l1.5 9.8l1.5 9.7l1.5 7.5l1.5 5l1.5 2.8l1.5 1.4l1.5 0.5V1253.8ZM814.5 1253.8l0-0.4l1.5-0.5l1.5-0.8l1.5-1.2l1.5-1.3l1.5-1.1l1.5-0.6l1.5 0l1.5 0.8l1.5 1.2l1.5 1.3l1.5 1l1.5 0.8l1.5 0.4V1253.8ZM942 1253.8l0-0.4l1.5-0.6l1.5-1.1l1.5-1.7l1.5-2.3l1.5-2.6l1.5-2.1l1.5-1l1.5 0.5l1.5 1.7l1.5 2.4l1.5 2.5l1.5 2l1.5 1.3l1.5 0.8l1.5 0.3V1253.8ZM969 1253.8l0-0.4l1.5-0.6l1.5-1.3l1.5-2.7l1.5-4.5l1.5-6.2l1.5-7.2l1.5-6.6l1.5-3.8l1.5 0.1l1.5 4.1l1.5 6.7l1.5 7.2l1.5 6.1l1.5 4.3l1.5 2.6l1.5 1.3V1253.8Z" fill="#f4dcd6" fill-opacity="0.7"/>
<path d="M529.5 1253.8l0-14.9l1.5-6.2l1.5-5.1l1.5-2.4l1.5 1l1.5 4.3l1.5 5.9l1.5 6l1.5 4.8l1.5 3.2l1.5 1.9l1.5 0.9V1253.8ZM678 1253.8l0-0.4l1.5-0.6l1.5-1.5l1.5-2.9l1.5-4.8l1.5-6.9l1.5-8.1l1.5-7.5l1.5-4.6l1.5-0.2l1.5 4.4l1.5 7.3l1.5 8.1l1.5 7.1l1.5 4.9l1.5 3.1l1.5 1.5l1.5 0.7V1253.8ZM841.5 1253.8l0-0.4l1.5-0.7l1.5-1.7l1.5-3.6l1.5-6.6l1.5-10.2l1.5-13.4l1.5-14.2l1.5-11.2l1.5-4.7l1.5 3.6l1.5 10.5l1.5 14.1l1.5 13.6l1.5 10.8l1.5 7l1.5 4l1.5 1.9l1.5 0.8V1253.8Z" fill="#dff0d8" fill-opacity="0.7"/>
<path d="M694.5 1253.8l0-0.5l1.5-0.8l1.5-1.7l1.5-3.1l1.5-5l1.5-6.8l1.5-7.3l1.5-6.1l1.5-2.9l1.5 1.3l1.5 5l1.5 7.1l1.5 7.1l1.5 5.8l1.5 3.9l1.5 2.2l1.5 1.1l1.5 0.4V1253.8ZM723 1253.8l0-0.5l1.5-0.9l1.5-2l1.5-3.9l1.5-6.5l1.5-9.3l1.5-10.9l1.5-10.1l1.5-6.2l1.5-0.2l1.5 5.9l1.5 9.9l1.5 10.9l1.5 9.5l1.5 6.7l1.5 4l1.5 2.1l1.5 1V1253.8ZM780 1253.8l0-0.5l1.5-1l1.5-2.2l1.5-4.7l1.5-8l1.5-12.1l1.5-14.9l1.5-14.8l1.5-10.5l1.5-2.7l1.5 6l1.5 12.4l1.5 14.3l1.5 11.9l1.5 6.1l1.5-0.9l1.5-7.3l1.5-11.4l1.5-11.9l1.5-8.1l1.5-1.2l1.5 6.2l1.5 11.6l1.5 13.2l1.5 11.8l1.5 8.6l1.5 5.3l1.5 2.8l1.5 1.2l1.5 0.5l1.5 0l1.5-0.4l1.5-1.1l1.5-2.4l1.5-4.6l1.5-7.5l1.5-10.3l1.5-11.6l1.5-10l1.5-5.4l1.5 1.1l1.5 7.3l1.5 10.9l1.5 11.4l1.5 9.4l1.5 6.5l1.5 3.8l1.5 1.9l1.5 0.7l1.5 0l1.5-0.7l1.5-1.7l1.5-3.5l1.5-5.8l1.5-8.3l1.5-9.7l1.5-9l1.5-5.5l1.5-0.2l1.5 5.2l1.5 8.9l1.5 9.7l1.5 8.4l1.5 6l1.5 3.6l1.5 1.9l1.5 0.8l1.5 0.2l1.5-0.2l1.5-0.8l1.5-2l1.5-4l1.5-7.2l1.5-10.9l1.5-13.6l1.5-13.7l1.5-10l1.5-3.1l1.5 5l1.5 11.2l1.5 13.3l1.5 11.3l1.5 6.6l1.5 0.6l1.5-4.7l1.5-8.1l1.5-8.5l1.5-5.6l1.5-0.5l1.5 5l1.5 8.6l1.5 9.8l1.5 8.5l1.5 6.2l1.5 3.8l1.5 1.9l1.5 0.9V1253.8ZM951 1253.8l0-0.5l1.5-1l1.5-2.3l1.5-4.8l1.5-8.4l1.5-12.7l1.5-15.9l1.5-16.1l1.5-11.7l1.5-3.5l1.5 6l1.5 13.3l1.5 16.4l1.5 15.3l1.5 11.6l1.5 7.3l1.5 4l1.5 1.9l1.5 0.7V1253.8Z" fill="#dcdcd8" fill-opacity="0.7"/>
<path d="M529.5 1253.8l0-23.5l1.5 5.7l1.5 5.9l1.5 4.8l1.5 3l1.5 1.2l1.5-1l1.5-3.3l1.5-6.3l1.5-9.2l1.5-11l1.5-10.3l1.5-6.7l1.5-0.8l1.5 5.2l1.5 8.7l1.5 8.7l1.5 4.8l1.5-1l1.5-7.3l1.5-11.2l1.5-11.5l1.5-7.2l1.5-0.2l1.5 7.3l1.5 12.3l1.5 13.5l1.5 11.7l1.5 8.3l1.5 5l1.5 2.6l1.5 1.1V1253.8ZM598.5 1253.8l0-0.6l1.5-1.1l1.5-2.3l1.5-4.5l1.5-7.4l1.5-10.2l1.5-11.7l1.5-10.4l1.5-5.9l1.5 0.5l1.5 6.6l1.5 9.9l1.5 9.2l1.5 5.3l1.5-0.5l1.5-6.1l1.5-9.6l1.5-9.3l1.5-5.5l1.5 0.8l1.5 6.9l1.5 10.8l1.5 11.5l1.5 9.6l1.5 6.7l1.5 3.9l1.5 2l1.5 0.7l1.5 0l1.5-0.9l1.5-2.3l1.5-4.5l1.5-7.5l1.5-10.7l1.5-12.6l1.5-11.6l1.5-7.2l1.5-0.4l1.5 6.4l1.5 10.5l1.5 10.5l1.5 6.7l1.5 0.8l1.5-5.2l1.5-9.3l1.5-9.8l1.5-6.5l1.5-0.9l1.5 4.4l1.5 7.1l1.5 5.9l1.5 2l1.5-2l1.5-3.8l1.5-2.3l1.5 1.5l1.5 5.9l1.5 8.6l1.5 9.2l1.5 7.6l1.5 5.3l1.5 3.1l1.5 1.6l1.5 0.7V1253.8ZM738 1253.8l0-0.7l1.5-1l1.5-2.2l1.5-3.9l1.5-6l1.5-7.6l1.5-7.8l1.5-5.8l1.5-2.1l1.5 2.4l1.5 5.7l1.5 6.4l1.5 4.5l1.5 0.3l1.5-4.8l1.5-8.9l1.5-10.7l1.5-8.8l1.5-3.6l1.5 2.9l1.5 8.7l1.5 11.5l1.5 11.1l1.5 8.8l1.5 5.8l1.5 3.3l1.5 1.5l1.5 0.7V1253.8ZM813 1253.8l0-0.5l1.5-0.8l1.5-1.4l1.5-2.4l1.5-3.2l1.5-3.8l1.5-3.3l1.5-1.8l1.5 0.2l1.5 2.2l1.5 3.5l1.5 3.7l1.5 3.1l1.5 2.1l1.5 1.3l1.5 0.7V1253.8ZM867 1253.8l0-0.3l1.5-0.6l1.5-1.4l1.5-2.8l1.5-4.7l1.5-6.7l1.5-8l1.5-7.5l1.5-4.8l1.5-0.5l1.5 4l1.5 7.2l1.5 8.1l1.5 7l1.5 5.1l1.5 3.1l1.5 1.7l1.5 0.7V1253.8ZM912 1253.8l0-0.7l1.5-1l1.5-2l1.5-3.5l1.5-5.1l1.5-6.1l1.5-5.9l1.5-4.1l1.5-0.9l1.5 2l1.5 3.4l1.5 2.3l1.5-0.9l1.5-5l1.5-8l1.5-8.2l1.5-5l1.5 0.3l1.5 5.8l1.5 9l1.5 9.1l1.5 6.5l1.5 2.7l1.5-0.8l1.5-2.6l1.5-2.5l1.5-0.6l1.5 1.8l1.5 3.8l1.5 4.6l1.5 4.3l1.5 3.3l1.5 2l1.5 1.2l1.5 0.5V1253.8ZM979.5 1253.8l0-0.3l1.5-0.5l1.5-1.3l1.5-2.8l1.5-4.9l1.5-7.6l1.5-9.9l1.5-10.2l1.5-7.9l1.5-3V1253.8Z" fill="none" stroke="#3f5ec2" stroke-width="1.15" stroke-linejoin="round"/>
<path d="M564 1253.8l0-0.4l1.5-0.8l1.5-1.9l1.5-3.9l1.5-6.9l1.5-10.6l1.5-13.5l1.5-13.8l1.5-10.4l1.5-3.6l1.5 4.6l1.5 10.9l1.5 13.6l1.5 12.2l1.5 7.8l1.5 1.8l1.5-4.7l1.5-10.3l1.5-14.1l1.5-14.1l1.5-9.9l1.5-2l1.5 6.5l1.5 12.8l1.5 15.1l1.5 13.6l1.5 10l1.5 6.3l1.5 3.3l1.5 1.5l1.5 0.6V1253.8ZM625.5 1253.8l0-0.3l1.5-0.5l1.5-1.4l1.5-2.9l1.5-5.5l1.5-8.8l1.5-11.7l1.5-12.7l1.5-10.7l1.5-5l1.5 2.2l1.5 8.7l1.5 12.4l1.5 12.4l1.5 10.1l1.5 6.7l1.5 3.9l1.5 1.9l1.5 0.8V1253.8ZM708 1253.8l0-0.4l1.5-0.6l1.5-1.6l1.5-3l1.5-5.1l1.5-7.4l1.5-8.8l1.5-8.3l1.5-5.3l1.5-0.5l1.5 4.5l1.5 7.8l1.5 8.9l1.5 7.8l1.5 5.6l1.5 3.4l1.5 1.7l1.5 0.8V1253.8ZM766.5 1253.8l0-0.7l1.5-1.2l1.5-2.6l1.5-4.6l1.5-7.3l1.5-9.4l1.5-10l1.5-7.9l1.5-3.3l1.5 2.5l1.5 7.5l1.5 9.8l1.5 9.7l1.5 7.5l1.5 5l1.5 2.8l1.5 1.4l1.5 0.5V1253.8ZM814.5 1253.8l0-0.4l1.5-0.5l1.5-0.8l1.5-1.2l1.5-1.3l1.5-1.1l1.5-0.6l1.5 0l1.5 0.8l1.5 1.2l1.5 1.3l1.5 1l1.5 0.8l1.5 0.4V1253.8ZM942 1253.8l0-0.4l1.5-0.6l1.5-1.1l1.5-1.7l1.5-2.3l1.5-2.6l1.5-2.1l1.5-1l1.5 0.5l1.5 1.7l1.5 2.4l1.5 2.5l1.5 2l1.5 1.3l1.5 0.8l1.5 0.3V1253.8ZM969 1253.8l0-0.4l1.5-0.6l1.5-1.3l1.5-2.7l1.5-4.5l1.5-6.2l1.5-7.2l1.5-6.6l1.5-3.8l1.5 0.1l1.5 4.1l1.5 6.7l1.5 7.2l1.5 6.1l1.5 4.3l1.5 2.6l1.5 1.3V1253.8Z" fill="none" stroke="#e0392b" stroke-width="1.15" stroke-linejoin="round"/>
<path d="M529.5 1253.8l0-14.9l1.5-6.2l1.5-5.1l1.5-2.4l1.5 1l1.5 4.3l1.5 5.9l1.5 6l1.5 4.8l1.5 3.2l1.5 1.9l1.5 0.9V1253.8ZM678 1253.8l0-0.4l1.5-0.6l1.5-1.5l1.5-2.9l1.5-4.8l1.5-6.9l1.5-8.1l1.5-7.5l1.5-4.6l1.5-0.2l1.5 4.4l1.5 7.3l1.5 8.1l1.5 7.1l1.5 4.9l1.5 3.1l1.5 1.5l1.5 0.7V1253.8ZM841.5 1253.8l0-0.4l1.5-0.7l1.5-1.7l1.5-3.6l1.5-6.6l1.5-10.2l1.5-13.4l1.5-14.2l1.5-11.2l1.5-4.7l1.5 3.6l1.5 10.5l1.5 14.1l1.5 13.6l1.5 10.8l1.5 7l1.5 4l1.5 1.9l1.5 0.8V1253.8Z" fill="none" stroke="#3dae3a" stroke-width="1.15" stroke-linejoin="round"/>
<path d="M694.5 1253.8l0-0.5l1.5-0.8l1.5-1.7l1.5-3.1l1.5-5l1.5-6.8l1.5-7.3l1.5-6.1l1.5-2.9l1.5 1.3l1.5 5l1.5 7.1l1.5 7.1l1.5 5.8l1.5 3.9l1.5 2.2l1.5 1.1l1.5 0.4V1253.8ZM723 1253.8l0-0.5l1.5-0.9l1.5-2l1.5-3.9l1.5-6.5l1.5-9.3l1.5-10.9l1.5-10.1l1.5-6.2l1.5-0.2l1.5 5.9l1.5 9.9l1.5 10.9l1.5 9.5l1.5 6.7l1.5 4l1.5 2.1l1.5 1V1253.8ZM780 1253.8l0-0.5l1.5-1l1.5-2.2l1.5-4.7l1.5-8l1.5-12.1l1.5-14.9l1.5-14.8l1.5-10.5l1.5-2.7l1.5 6l1.5 12.4l1.5 14.3l1.5 11.9l1.5 6.1l1.5-0.9l1.5-7.3l1.5-11.4l1.5-11.9l1.5-8.1l1.5-1.2l1.5 6.2l1.5 11.6l1.5 13.2l1.5 11.8l1.5 8.6l1.5 5.3l1.5 2.8l1.5 1.2l1.5 0.5l1.5 0l1.5-0.4l1.5-1.1l1.5-2.4l1.5-4.6l1.5-7.5l1.5-10.3l1.5-11.6l1.5-10l1.5-5.4l1.5 1.1l1.5 7.3l1.5 10.9l1.5 11.4l1.5 9.4l1.5 6.5l1.5 3.8l1.5 1.9l1.5 0.7l1.5 0l1.5-0.7l1.5-1.7l1.5-3.5l1.5-5.8l1.5-8.3l1.5-9.7l1.5-9l1.5-5.5l1.5-0.2l1.5 5.2l1.5 8.9l1.5 9.7l1.5 8.4l1.5 6l1.5 3.6l1.5 1.9l1.5 0.8l1.5 0.2l1.5-0.2l1.5-0.8l1.5-2l1.5-4l1.5-7.2l1.5-10.9l1.5-13.6l1.5-13.7l1.5-10l1.5-3.1l1.5 5l1.5 11.2l1.5 13.3l1.5 11.3l1.5 6.6l1.5 0.6l1.5-4.7l1.5-8.1l1.5-8.5l1.5-5.6l1.5-0.5l1.5 5l1.5 8.6l1.5 9.8l1.5 8.5l1.5 6.2l1.5 3.8l1.5 1.9l1.5 0.9V1253.8ZM951 1253.8l0-0.5l1.5-1l1.5-2.3l1.5-4.8l1.5-8.4l1.5-12.7l1.5-15.9l1.5-16.1l1.5-11.7l1.5-3.5l1.5 6l1.5 13.3l1.5 16.4l1.5 15.3l1.5 11.6l1.5 7.3l1.5 4l1.5 1.9l1.5 0.7V1253.8Z" fill="none" stroke="#111111" stroke-width="1.15" stroke-linejoin="round"/>
</g>
<line x1="529.5" y1="1254.5" x2="993.8" y2="1254.5" stroke="#d23b35" stroke-width="1.6"/>
<line x1="529.5" y1="1253.1" x2="993.8" y2="1253.1" stroke="#222" stroke-width="1" stroke-opacity="0.8"/>
<text x="534.3" y="1130.4" font-size="10.5" font-weight="bold" fill="#3fae3a" text-anchor="middle">A</text>
<text x="548.4" y="1130.4" font-size="10.5" font-weight="bold" fill="#4a64c8" text-anchor="middle">C</text>
<text x="563.3" y="1130.4" font-size="10.5" font-weight="bold" fill="#4a64c8" text-anchor="middle">C</text>
<text x="577.4" y="1130.4" font-size="10.5" font-weight="bold" fill="#e0392b" text-anchor="middle">T</text>
<text x="595.1" y="1130.4" font-size="10.5" font-weight="bold" fill="#e0392b" text-anchor="middle">T</text>
<text x="611.1" y="1130.4" font-size="10.5" font-weight="bold" fill="#4a64c8" text-anchor="middle">C</text>
<text x="626.1" y="1130.4" font-size="10.5" font-weight="bold" fill="#4a64c8" text-anchor="middle">C</text>
<text x="639.3" y="1130.4" font-size="10.5" font-weight="bold" fill="#e0392b" text-anchor="middle">T</text>
<text x="653.3" y="1130.4" font-size="10.5" font-weight="bold" fill="#4a64c8" text-anchor="middle">C</text>
<text x="668.3" y="1130.4" font-size="10.5" font-weight="bold" fill="#4a64c8" text-anchor="middle">C</text>
<text x="680.1" y="1130.4" font-size="10.5" font-weight="bold" fill="#4a64c8" text-anchor="middle">C</text>
<text x="690.8" y="1130.4" font-size="10.5" font-weight="bold" fill="#3fae3a" text-anchor="middle">A</text>
<text x="706.8" y="1130.4" font-size="10.5" font-weight="bold" fill="#111111" text-anchor="middle">G</text>
<text x="720.9" y="1130.4" font-size="10.5" font-weight="bold" fill="#e0392b" text-anchor="middle">T</text>
<text x="735.8" y="1130.4" font-size="10.5" font-weight="bold" fill="#111111" text-anchor="middle">G</text>
<text x="749.9" y="1130.4" font-size="10.5" font-weight="bold" fill="#4a64c8" text-anchor="middle">C</text>
<text x="765.1" y="1130.4" font-size="10.5" font-weight="bold" fill="#4a64c8" text-anchor="middle">C</text>
<text x="778.6" y="1130.4" font-size="10.5" font-weight="bold" fill="#e0392b" text-anchor="middle">T</text>
<text x="793.2" y="1130.4" font-size="10.5" font-weight="bold" fill="#111111" text-anchor="middle">G</text>
<text x="809.5" y="1130.4" font-size="10.5" font-weight="bold" fill="#111111" text-anchor="middle">G</text>
<text x="824.1" y="1130.4" font-size="10.5" font-weight="bold" fill="#4a64c8" text-anchor="middle">C</text>
<text x="839" y="1130.4" font-size="10.5" font-weight="bold" fill="#111111" text-anchor="middle">G</text>
<text x="855.1" y="1130.4" font-size="10.5" font-weight="bold" fill="#3fae3a" text-anchor="middle">A</text>
<text x="866.3" y="1130.4" font-size="10.5" font-weight="bold" fill="#111111" text-anchor="middle">G</text>
<text x="879.9" y="1130.4" font-size="10.5" font-weight="bold" fill="#4a64c8" text-anchor="middle">C</text>
<text x="895.3" y="1130.4" font-size="10.5" font-weight="bold" fill="#111111" text-anchor="middle">G</text>
<text x="911.4" y="1130.4" font-size="10.5" font-weight="bold" fill="#111111" text-anchor="middle">G</text>
<text x="923.5" y="1130.4" font-size="10.5" font-weight="bold" fill="#4a64c8" text-anchor="middle">C</text>
<text x="936.7" y="1130.4" font-size="10.5" font-weight="bold" fill="#4a64c8" text-anchor="middle">C</text>
<text x="950.8" y="1130.4" font-size="10.5" font-weight="bold" fill="#4a64c8" text-anchor="middle">C</text>
<text x="964.3" y="1130.4" font-size="10.5" font-weight="bold" fill="#111111" text-anchor="middle">G</text>
<text x="981.7" y="1130.4" font-size="10.5" font-weight="bold" fill="#e0392b" text-anchor="middle">T</text>
<text x="993" y="1130.4" font-size="10.5" font-weight="bold" fill="#4a64c8" text-anchor="middle">C</text>
<text x="659" y="1146.1" font-size="17" textLength="36.62" lengthAdjust="spacingAndGlyphs" font-style="italic" fill="#111" stroke="#111" stroke-width="0.2">PAM</text><line x1="700.3" y1="1140.5" x2="972.7" y2="1140.5" stroke="#111" stroke-width="1.4"/>
<rect x="814.6" y="1116" width="17.4" height="139.9" fill="none" stroke="#d8382c" stroke-width="1.8"/>
<rect x="873.7" y="1116" width="16.8" height="139.9" fill="none" stroke="#d8382c" stroke-width="1.8"/>
<rect x="932.5" y="1116" width="27.5" height="139.9" fill="none" stroke="#d8382c" stroke-width="1.8"/>
<clipPath id="cc5"><rect x="529.5" y="1301.7" width="469.9" height="142"/></clipPath>
<rect x="529.5" y="1301.7" width="469.9" height="141" fill="#fbfbf6"/>
<line x1="529.5" y1="1301.7" x2="999.4" y2="1301.7" stroke="#a9a9a9" stroke-width="1.3"/>
<line x1="565.3" y1="1318.1" x2="565.3" y2="1440.7" stroke="#c8c8c8" stroke-width="0.9" stroke-dasharray="3 3"/>
<line x1="707.5" y1="1318.1" x2="707.5" y2="1440.7" stroke="#c8c8c8" stroke-width="0.9" stroke-dasharray="3 3"/>
<line x1="858.5" y1="1318.1" x2="858.5" y2="1440.7" stroke="#c8c8c8" stroke-width="0.9" stroke-dasharray="3 3"/>
<g clip-path="url(#cc5)">
<path d="M529.5 1439.5l0-23.5l1.5 4.1l1.5 5.3l1.5 5.1l1.5 3.8l1.5 2.3l1.5 0.7l1.5-0.9l1.5-3.1l1.5-5.6l1.5-8.4l1.5-10.2l1.5-10.1l1.5-6.9l1.5-1.5l1.5 4.3l1.5 8.2l1.5 8.7l1.5 5.8l1.5 0.5l1.5-5.3l1.5-9.9l1.5-11.3l1.5-8.5l1.5-2.6l1.5 4.6l1.5 10.3l1.5 12.6l1.5 11.7l1.5 8.8l1.5 5.6l1.5 3.1l1.5 1.4l1.5 0.6V1439.5ZM601.5 1439.5l0-0.6l1.5-1l1.5-2.2l1.5-4.2l1.5-6.8l1.5-9.3l1.5-10.5l1.5-9.2l1.5-5l1.5 0.8l1.5 5.8l1.5 8.1l1.5 6.9l1.5 2.6l1.5-2.8l1.5-7.1l1.5-8.4l1.5-5.9l1.5-0.8l1.5 5.1l1.5 9.3l1.5 10.7l1.5 9.5l1.5 6.9l1.5 4.2l1.5 2.3l1.5 1l1.5 0.3l1.5-0.1l1.5-0.5l1.5-1.5l1.5-3.1l1.5-5.6l1.5-8.6l1.5-11.1l1.5-11.6l1.5-9l1.5-3.8l1.5 2.3l1.5 6.6l1.5 7.3l1.5 4.2l1.5-0.8l1.5-4.8l1.5-5.7l1.5-3.2l1.5 1.7l1.5 6.1l1.5 8l1.5 6.5l1.5 2.4l1.5-2.3l1.5-5.6l1.5-5.9l1.5-3.2l1.5 1.5l1.5 5.9l1.5 8.5l1.5 8.7l1.5 7.1l1.5 4.8l1.5 2.8l1.5 1.4l1.5 0.6V1439.5ZM741 1439.5l0-0.4l1.5-0.6l1.5-1.4l1.5-2.8l1.5-4.7l1.5-6.6l1.5-7.8l1.5-7.2l1.5-4.5l1.5-0.3l1.5 3.8l1.5 6.1l1.5 5.7l1.5 2.5l1.5-2.2l1.5-7l1.5-9.9l1.5-9.7l1.5-5.9l1.5 0.3l1.5 6.5l1.5 10.6l1.5 11.4l1.5 9.7l1.5 6.8l1.5 4.1l1.5 2.1l1.5 0.9V1439.5ZM817.5 1439.5l0-0.4l1.5-0.5l1.5-1.1l1.5-2l1.5-2.9l1.5-3.7l1.5-3.6l1.5-2.5l1.5-0.7l1.5 1.5l1.5 3.1l1.5 3.7l1.5 3.5l1.5 2.5l1.5 1.6l1.5 0.9V1439.5ZM874.5 1439.5l0-0.5l1.5-0.7l1.5-1.7l1.5-3.2l1.5-5.1l1.5-6.9l1.5-7.6l1.5-6.5l1.5-3.3l1.5 1l1.5 5l1.5 7.3l1.5 7.5l1.5 6.1l1.5 4.2l1.5 2.4l1.5 1.2l1.5 0.5V1439.5ZM916.5 1439.5l0-0.6l1.5-0.9l1.5-2l1.5-3.3l1.5-5.1l1.5-6.5l1.5-6.4l1.5-4.8l1.5-1.4l1.5 2.4l1.5 5.4l1.5 6.6l1.5 6.2l1.5 4.6l1.5 3l1.5 1.6l1.5 0.7V1439.5ZM985.5 1439.5l0-0.4l1.5-0.6l1.5-1.6l1.5-3.2l1.5-5.5l1.5-8l1.5-9.9l1.5-9.6l1.5-6.6l1.5-1.4V1439.5Z" fill="#dfe4f3" fill-opacity="0.7"/>
<path d="M567 1439.5l0-0.4l1.5-0.9l1.5-1.9l1.5-4l1.5-7l1.5-10.4l1.5-12.9l1.5-12.8l1.5-9.1l1.5-2.4l1.5 5.2l1.5 10.8l1.5 12.5l1.5 10.4l1.5 5.5l1.5-0.9l1.5-7.2l1.5-12l1.5-13.6l1.5-11l1.5-4.6l1.5 3.6l1.5 10.5l1.5 14.1l1.5 13.6l1.5 10.8l1.5 7l1.5 4l1.5 1.9l1.5 0.8V1439.5ZM628.5 1439.5l0-0.6l1.5-0.9l1.5-2.2l1.5-4.3l1.5-7l1.5-9.9l1.5-11.4l1.5-10.3l1.5-6.2l1.5 0.3l1.5 6.4l1.5 10.6l1.5 11.4l1.5 9.7l1.5 6.8l1.5 4.1l1.5 2.1l1.5 0.9V1439.5ZM711 1439.5l0-0.4l1.5-0.8l1.5-1.7l1.5-3.4l1.5-5.5l1.5-7.8l1.5-9l1.5-8.2l1.5-4.8l1.5 0.2l1.5 5.1l1.5 8.3l1.5 9l1.5 7.6l1.5 5.4l1.5 3.2l1.5 1.7l1.5 0.7V1439.5ZM769.5 1439.5l0-0.6l1.5-1l1.5-2.1l1.5-4.1l1.5-6.5l1.5-8.8l1.5-9.8l1.5-8.3l1.5-4.2l1.5 1.3l1.5 6.5l1.5 9.3l1.5 9.6l1.5 7.8l1.5 5.3l1.5 3.1l1.5 1.5l1.5 0.6V1439.5ZM930 1439.5l0-0.4l1.5-0.7l1.5-1.8l1.5-3.6l1.5-6.2l1.5-9.4l1.5-11.5l1.5-11.5l1.5-8.2l1.5-2.2l1.5 4.1l1.5 8.5l1.5 9l1.5 5.4l1.5-0.3l1.5-6.1l1.5-9.2l1.5-8.5l1.5-3.9l1.5 2.8l1.5 8.6l1.5 11.8l1.5 11.6l1.5 9.3l1.5 6.1l1.5 3.5l1.5 1.7l1.5 0.7V1439.5ZM975 1439.5l0-0.6l1.5-1l1.5-2l1.5-3.5l1.5-5.2l1.5-6.6l1.5-6.7l1.5-4.9l1.5-1.5l1.5 2.5l1.5 5.6l1.5 6.8l1.5 6.3l1.5 4.8l1.5 3.1l1.5 1.7l1.5 0.7V1439.5Z" fill="#f4dcd6" fill-opacity="0.7"/>
<path d="M529.5 1439.5l0-6.4l1.5-5.1l1.5-6.6l1.5-7l1.5-5.5l1.5-2.3l1.5 1.8l1.5 5.2l1.5 6.9l1.5 6.7l1.5 5.3l1.5 3.5l1.5 2l1.5 0.9V1439.5ZM681 1439.5l0-0.4l1.5-0.7l1.5-1.5l1.5-3l1.5-4.8l1.5-6.7l1.5-7.6l1.5-6.8l1.5-3.8l1.5 0.4l1.5 4.6l1.5 7.1l1.5 7.6l1.5 6.3l1.5 4.5l1.5 2.6l1.5 1.3l1.5 0.6V1439.5ZM844.5 1439.5l0-0.4l1.5-0.8l1.5-1.8l1.5-3.9l1.5-6.9l1.5-10.5l1.5-13.4l1.5-13.8l1.5-10.3l1.5-3.5l1.5 4.6l1.5 11l1.5 13.9l1.5 13.1l1.5 10l1.5 6.5l1.5 3.5l1.5 1.7l1.5 0.7V1439.5Z" fill="#dff0d8" fill-opacity="0.7"/>
<path d="M696 1439.5l0-0.5l1.5-0.8l1.5-1.7l1.5-3.1l1.5-5l1.5-6.5l1.5-7l1.5-5.7l1.5-2.6l1.5 1.5l1.5 5.1l1.5 6.8l1.5 6.8l1.5 5.4l1.5 3.6l1.5 2.1l1.5 1V1439.5ZM726 1439.5l0-0.4l1.5-0.6l1.5-1.5l1.5-3.2l1.5-5.4l1.5-8.2l1.5-10.1l1.5-10l1.5-7.1l1.5-1.8l1.5 4.1l1.5 8.7l1.5 10.3l1.5 9.5l1.5 7.1l1.5 4.4l1.5 2.4l1.5 1.1V1439.5ZM783 1439.5l0-0.3l1.5-0.6l1.5-1.6l1.5-3.3l1.5-6.2l1.5-9.9l1.5-13.2l1.5-14.5l1.5-12l1.5-5.7l1.5 2.5l1.5 9.8l1.5 13.7l1.5 13.5l1.5 9.8l1.5 4.3l1.5-1.5l1.5-7.2l1.5-11.1l1.5-12.5l1.5-10l1.5-4.2l1.5 3.3l1.5 9.5l1.5 12.6l1.5 12.4l1.5 9.6l1.5 6.4l1.5 3.6l1.5 1.7l1.5 0.6l1.5 0l1.5-0.5l1.5-1.5l1.5-3.2l1.5-5.4l1.5-8.2l1.5-10.1l1.5-10l1.5-7.1l1.5-1.8l1.5 4.1l1.5 8.7l1.5 10.3l1.5 9.5l1.5 7.1l1.5 4.4l1.5 2.4l1.5 1.1l1.5 0.4l1.5 0l1.5-0.4l1.5-1.2l1.5-2.3l1.5-4.3l1.5-6.4l1.5-8.2l1.5-8.4l1.5-6.3l1.5-2.2l1.5 2.8l1.5 6.7l1.5 8.5l1.5 8.1l1.5 6.1l1.5 4l1.5 2.1l1.5 1l1.5 0.3l1.5-0.2l1.5-0.9l1.5-2.2l1.5-4.4l1.5-7.7l1.5-11.3l1.5-13.8l1.5-13.4l1.5-9.3l1.5-1.9l1.5 6l1.5 11.7l1.5 13.3l1.5 10.9l1.5 5.9l1.5-0.1l1.5-5.4l1.5-8.7l1.5-9l1.5-5.9l1.5-0.5l1.5 5.1l1.5 9.1l1.5 10.2l1.5 9l1.5 6.5l1.5 3.9l1.5 2l1.5 1V1439.5ZM957 1439.5l0-0.4l1.5-0.9l1.5-2l1.5-4.2l1.5-7.6l1.5-11.7l1.5-15.1l1.5-15.7l1.5-12.1l1.5-4.6l1.5 4.6l1.5 12.1l1.5 15.7l1.5 15.1l1.5 11.7l1.5 7.6l1.5 4.2l1.5 2l1.5 0.9V1439.5Z" fill="#dcdcd8" fill-opacity="0.7"/>
<path d="M529.5 1439.5l0-23.5l1.5 4.1l1.5 5.3l1.5 5.1l1.5 3.8l1.5 2.3l1.5 0.7l1.5-0.9l1.5-3.1l1.5-5.6l1.5-8.4l1.5-10.2l1.5-10.1l1.5-6.9l1.5-1.5l1.5 4.3l1.5 8.2l1.5 8.7l1.5 5.8l1.5 0.5l1.5-5.3l1.5-9.9l1.5-11.3l1.5-8.5l1.5-2.6l1.5 4.6l1.5 10.3l1.5 12.6l1.5 11.7l1.5 8.8l1.5 5.6l1.5 3.1l1.5 1.4l1.5 0.6V1439.5ZM601.5 1439.5l0-0.6l1.5-1l1.5-2.2l1.5-4.2l1.5-6.8l1.5-9.3l1.5-10.5l1.5-9.2l1.5-5l1.5 0.8l1.5 5.8l1.5 8.1l1.5 6.9l1.5 2.6l1.5-2.8l1.5-7.1l1.5-8.4l1.5-5.9l1.5-0.8l1.5 5.1l1.5 9.3l1.5 10.7l1.5 9.5l1.5 6.9l1.5 4.2l1.5 2.3l1.5 1l1.5 0.3l1.5-0.1l1.5-0.5l1.5-1.5l1.5-3.1l1.5-5.6l1.5-8.6l1.5-11.1l1.5-11.6l1.5-9l1.5-3.8l1.5 2.3l1.5 6.6l1.5 7.3l1.5 4.2l1.5-0.8l1.5-4.8l1.5-5.7l1.5-3.2l1.5 1.7l1.5 6.1l1.5 8l1.5 6.5l1.5 2.4l1.5-2.3l1.5-5.6l1.5-5.9l1.5-3.2l1.5 1.5l1.5 5.9l1.5 8.5l1.5 8.7l1.5 7.1l1.5 4.8l1.5 2.8l1.5 1.4l1.5 0.6V1439.5ZM741 1439.5l0-0.4l1.5-0.6l1.5-1.4l1.5-2.8l1.5-4.7l1.5-6.6l1.5-7.8l1.5-7.2l1.5-4.5l1.5-0.3l1.5 3.8l1.5 6.1l1.5 5.7l1.5 2.5l1.5-2.2l1.5-7l1.5-9.9l1.5-9.7l1.5-5.9l1.5 0.3l1.5 6.5l1.5 10.6l1.5 11.4l1.5 9.7l1.5 6.8l1.5 4.1l1.5 2.1l1.5 0.9V1439.5ZM817.5 1439.5l0-0.4l1.5-0.5l1.5-1.1l1.5-2l1.5-2.9l1.5-3.7l1.5-3.6l1.5-2.5l1.5-0.7l1.5 1.5l1.5 3.1l1.5 3.7l1.5 3.5l1.5 2.5l1.5 1.6l1.5 0.9V1439.5ZM874.5 1439.5l0-0.5l1.5-0.7l1.5-1.7l1.5-3.2l1.5-5.1l1.5-6.9l1.5-7.6l1.5-6.5l1.5-3.3l1.5 1l1.5 5l1.5 7.3l1.5 7.5l1.5 6.1l1.5 4.2l1.5 2.4l1.5 1.2l1.5 0.5V1439.5ZM916.5 1439.5l0-0.6l1.5-0.9l1.5-2l1.5-3.3l1.5-5.1l1.5-6.5l1.5-6.4l1.5-4.8l1.5-1.4l1.5 2.4l1.5 5.4l1.5 6.6l1.5 6.2l1.5 4.6l1.5 3l1.5 1.6l1.5 0.7V1439.5ZM985.5 1439.5l0-0.4l1.5-0.6l1.5-1.6l1.5-3.2l1.5-5.5l1.5-8l1.5-9.9l1.5-9.6l1.5-6.6l1.5-1.4V1439.5Z" fill="none" stroke="#3f5ec2" stroke-width="1.15" stroke-linejoin="round"/>
<path d="M567 1439.5l0-0.4l1.5-0.9l1.5-1.9l1.5-4l1.5-7l1.5-10.4l1.5-12.9l1.5-12.8l1.5-9.1l1.5-2.4l1.5 5.2l1.5 10.8l1.5 12.5l1.5 10.4l1.5 5.5l1.5-0.9l1.5-7.2l1.5-12l1.5-13.6l1.5-11l1.5-4.6l1.5 3.6l1.5 10.5l1.5 14.1l1.5 13.6l1.5 10.8l1.5 7l1.5 4l1.5 1.9l1.5 0.8V1439.5ZM628.5 1439.5l0-0.6l1.5-0.9l1.5-2.2l1.5-4.3l1.5-7l1.5-9.9l1.5-11.4l1.5-10.3l1.5-6.2l1.5 0.3l1.5 6.4l1.5 10.6l1.5 11.4l1.5 9.7l1.5 6.8l1.5 4.1l1.5 2.1l1.5 0.9V1439.5ZM711 1439.5l0-0.4l1.5-0.8l1.5-1.7l1.5-3.4l1.5-5.5l1.5-7.8l1.5-9l1.5-8.2l1.5-4.8l1.5 0.2l1.5 5.1l1.5 8.3l1.5 9l1.5 7.6l1.5 5.4l1.5 3.2l1.5 1.7l1.5 0.7V1439.5ZM769.5 1439.5l0-0.6l1.5-1l1.5-2.1l1.5-4.1l1.5-6.5l1.5-8.8l1.5-9.8l1.5-8.3l1.5-4.2l1.5 1.3l1.5 6.5l1.5 9.3l1.5 9.6l1.5 7.8l1.5 5.3l1.5 3.1l1.5 1.5l1.5 0.6V1439.5ZM930 1439.5l0-0.4l1.5-0.7l1.5-1.8l1.5-3.6l1.5-6.2l1.5-9.4l1.5-11.5l1.5-11.5l1.5-8.2l1.5-2.2l1.5 4.1l1.5 8.5l1.5 9l1.5 5.4l1.5-0.3l1.5-6.1l1.5-9.2l1.5-8.5l1.5-3.9l1.5 2.8l1.5 8.6l1.5 11.8l1.5 11.6l1.5 9.3l1.5 6.1l1.5 3.5l1.5 1.7l1.5 0.7V1439.5ZM975 1439.5l0-0.6l1.5-1l1.5-2l1.5-3.5l1.5-5.2l1.5-6.6l1.5-6.7l1.5-4.9l1.5-1.5l1.5 2.5l1.5 5.6l1.5 6.8l1.5 6.3l1.5 4.8l1.5 3.1l1.5 1.7l1.5 0.7V1439.5Z" fill="none" stroke="#e0392b" stroke-width="1.15" stroke-linejoin="round"/>
<path d="M529.5 1439.5l0-6.4l1.5-5.1l1.5-6.6l1.5-7l1.5-5.5l1.5-2.3l1.5 1.8l1.5 5.2l1.5 6.9l1.5 6.7l1.5 5.3l1.5 3.5l1.5 2l1.5 0.9V1439.5ZM681 1439.5l0-0.4l1.5-0.7l1.5-1.5l1.5-3l1.5-4.8l1.5-6.7l1.5-7.6l1.5-6.8l1.5-3.8l1.5 0.4l1.5 4.6l1.5 7.1l1.5 7.6l1.5 6.3l1.5 4.5l1.5 2.6l1.5 1.3l1.5 0.6V1439.5ZM844.5 1439.5l0-0.4l1.5-0.8l1.5-1.8l1.5-3.9l1.5-6.9l1.5-10.5l1.5-13.4l1.5-13.8l1.5-10.3l1.5-3.5l1.5 4.6l1.5 11l1.5 13.9l1.5 13.1l1.5 10l1.5 6.5l1.5 3.5l1.5 1.7l1.5 0.7V1439.5Z" fill="none" stroke="#3dae3a" stroke-width="1.15" stroke-linejoin="round"/>
<path d="M696 1439.5l0-0.5l1.5-0.8l1.5-1.7l1.5-3.1l1.5-5l1.5-6.5l1.5-7l1.5-5.7l1.5-2.6l1.5 1.5l1.5 5.1l1.5 6.8l1.5 6.8l1.5 5.4l1.5 3.6l1.5 2.1l1.5 1V1439.5ZM726 1439.5l0-0.4l1.5-0.6l1.5-1.5l1.5-3.2l1.5-5.4l1.5-8.2l1.5-10.1l1.5-10l1.5-7.1l1.5-1.8l1.5 4.1l1.5 8.7l1.5 10.3l1.5 9.5l1.5 7.1l1.5 4.4l1.5 2.4l1.5 1.1V1439.5ZM783 1439.5l0-0.3l1.5-0.6l1.5-1.6l1.5-3.3l1.5-6.2l1.5-9.9l1.5-13.2l1.5-14.5l1.5-12l1.5-5.7l1.5 2.5l1.5 9.8l1.5 13.7l1.5 13.5l1.5 9.8l1.5 4.3l1.5-1.5l1.5-7.2l1.5-11.1l1.5-12.5l1.5-10l1.5-4.2l1.5 3.3l1.5 9.5l1.5 12.6l1.5 12.4l1.5 9.6l1.5 6.4l1.5 3.6l1.5 1.7l1.5 0.6l1.5 0l1.5-0.5l1.5-1.5l1.5-3.2l1.5-5.4l1.5-8.2l1.5-10.1l1.5-10l1.5-7.1l1.5-1.8l1.5 4.1l1.5 8.7l1.5 10.3l1.5 9.5l1.5 7.1l1.5 4.4l1.5 2.4l1.5 1.1l1.5 0.4l1.5 0l1.5-0.4l1.5-1.2l1.5-2.3l1.5-4.3l1.5-6.4l1.5-8.2l1.5-8.4l1.5-6.3l1.5-2.2l1.5 2.8l1.5 6.7l1.5 8.5l1.5 8.1l1.5 6.1l1.5 4l1.5 2.1l1.5 1l1.5 0.3l1.5-0.2l1.5-0.9l1.5-2.2l1.5-4.4l1.5-7.7l1.5-11.3l1.5-13.8l1.5-13.4l1.5-9.3l1.5-1.9l1.5 6l1.5 11.7l1.5 13.3l1.5 10.9l1.5 5.9l1.5-0.1l1.5-5.4l1.5-8.7l1.5-9l1.5-5.9l1.5-0.5l1.5 5.1l1.5 9.1l1.5 10.2l1.5 9l1.5 6.5l1.5 3.9l1.5 2l1.5 1V1439.5ZM957 1439.5l0-0.4l1.5-0.9l1.5-2l1.5-4.2l1.5-7.6l1.5-11.7l1.5-15.1l1.5-15.7l1.5-12.1l1.5-4.6l1.5 4.6l1.5 12.1l1.5 15.7l1.5 15.1l1.5 11.7l1.5 7.6l1.5 4.2l1.5 2l1.5 0.9V1439.5Z" fill="none" stroke="#111111" stroke-width="1.15" stroke-linejoin="round"/>
</g>
<line x1="529.5" y1="1440.2" x2="999.4" y2="1440.2" stroke="#d23b35" stroke-width="1.6"/>
<line x1="529.5" y1="1438.8" x2="999.4" y2="1438.8" stroke="#222" stroke-width="1" stroke-opacity="0.8"/>
<text x="530.5" y="1316.1" font-size="10.5" font-weight="bold" fill="#3f5ec2" text-anchor="middle">:</text>
<text x="537.1" y="1316.1" font-size="10.5" font-weight="bold" fill="#3fae3a" text-anchor="middle">A</text>
<text x="550.1" y="1316.1" font-size="10.5" font-weight="bold" fill="#4a64c8" text-anchor="middle">C</text>
<text x="565.3" y="1316.1" font-size="10.5" font-weight="bold" fill="#4a64c8" text-anchor="middle">C</text>
<text x="580.2" y="1316.1" font-size="10.5" font-weight="bold" fill="#e0392b" text-anchor="middle">T</text>
<text x="597.1" y="1316.1" font-size="10.5" font-weight="bold" fill="#e0392b" text-anchor="middle">T</text>
<text x="614" y="1316.1" font-size="10.5" font-weight="bold" fill="#4a64c8" text-anchor="middle">C</text>
<text x="628" y="1316.1" font-size="10.5" font-weight="bold" fill="#4a64c8" text-anchor="middle">C</text>
<text x="641.2" y="1316.1" font-size="10.5" font-weight="bold" fill="#e0392b" text-anchor="middle">T</text>
<text x="657" y="1316.1" font-size="10.5" font-weight="bold" fill="#4a64c8" text-anchor="middle">C</text>
<text x="669.4" y="1316.1" font-size="10.5" font-weight="bold" fill="#4a64c8" text-anchor="middle">C</text>
<text x="682.9" y="1316.1" font-size="10.5" font-weight="bold" fill="#4a64c8" text-anchor="middle">C</text>
<text x="693.6" y="1316.1" font-size="10.5" font-weight="bold" fill="#3fae3a" text-anchor="middle">A</text>
<text x="708.2" y="1316.1" font-size="10.5" font-weight="bold" fill="#111111" text-anchor="middle">G</text>
<text x="723.7" y="1316.1" font-size="10.5" font-weight="bold" fill="#e0392b" text-anchor="middle">T</text>
<text x="739.2" y="1316.1" font-size="10.5" font-weight="bold" fill="#111111" text-anchor="middle">G</text>
<text x="753.8" y="1316.1" font-size="10.5" font-weight="bold" fill="#4a64c8" text-anchor="middle">C</text>
<text x="768.7" y="1316.1" font-size="10.5" font-weight="bold" fill="#4a64c8" text-anchor="middle">C</text>
<text x="781.9" y="1316.1" font-size="10.5" font-weight="bold" fill="#e0392b" text-anchor="middle">T</text>
<text x="796.8" y="1316.1" font-size="10.5" font-weight="bold" fill="#111111" text-anchor="middle">G</text>
<text x="814.6" y="1316.1" font-size="10.5" font-weight="bold" fill="#111111" text-anchor="middle">G</text>
<text x="829.2" y="1316.1" font-size="10.5" font-weight="bold" fill="#4a64c8" text-anchor="middle">C</text>
<text x="842.7" y="1316.1" font-size="10.5" font-weight="bold" fill="#111111" text-anchor="middle">G</text>
<text x="857.9" y="1316.1" font-size="10.5" font-weight="bold" fill="#3fae3a" text-anchor="middle">A</text>
<text x="871.4" y="1316.1" font-size="10.5" font-weight="bold" fill="#111111" text-anchor="middle">G</text>
<text x="886.9" y="1316.1" font-size="10.5" font-weight="bold" fill="#4a64c8" text-anchor="middle">C</text>
<text x="899.6" y="1316.1" font-size="10.5" font-weight="bold" fill="#111111" text-anchor="middle">G</text>
<text x="915.9" y="1316.1" font-size="10.5" font-weight="bold" fill="#111111" text-anchor="middle">G</text>
<text x="928.3" y="1316.1" font-size="10.5" font-weight="bold" fill="#4a64c8" text-anchor="middle">C</text>
<text x="943.2" y="1316.1" font-size="10.5" font-weight="bold" fill="#e0392b" text-anchor="middle">T</text>
<text x="957.2" y="1316.1" font-size="10.5" font-weight="bold" fill="#e0392b" text-anchor="middle">T</text>
<text x="970.5" y="1316.1" font-size="10.5" font-weight="bold" fill="#111111" text-anchor="middle">G</text>
<text x="986.8" y="1316.1" font-size="10.5" font-weight="bold" fill="#e0392b" text-anchor="middle">T</text>
<text x="998.6" y="1316.1" font-size="10.5" font-weight="bold" fill="#4a64c8" text-anchor="middle">C</text>
<text x="651.4" y="1332.7" font-size="17" textLength="36.62" lengthAdjust="spacingAndGlyphs" font-style="italic" fill="#111" stroke="#111" stroke-width="0.2">PAM</text><line x1="690.8" y1="1327" x2="962.9" y2="1327" stroke="#111" stroke-width="1.4"/>
<rect x="822.2" y="1301.7" width="17.7" height="139" fill="none" stroke="#d8382c" stroke-width="1.8"/>
<rect x="878.4" y="1301.7" width="17.5" height="139" fill="none" stroke="#d8382c" stroke-width="1.8"/>
<text x="1085.1" y="888.1" font-size="40.5" textLength="24.28" lengthAdjust="spacingAndGlyphs" font-weight="bold">c</text>
<text x="1154.1" y="896.8" font-size="32.8" textLength="87.85" lengthAdjust="spacingAndGlyphs" font-style="italic" stroke="#000" stroke-width="0.3">EGFR</text>
<text x="1249.9" y="896.8" font-size="32.8" textLength="67.59" lengthAdjust="spacingAndGlyphs" stroke="#000" stroke-width="0.3">DNA</text>
<text x="1148.6" y="953.9" font-size="33.6" font-family="'Liberation Mono', monospace" fill="#1a1a1a" stroke="#fff" stroke-width="0.5" textLength="851.48" lengthAdjust="spacingAndGlyphs">GACGACACCTTCCTCCCAGTGCCTGGTGAGTGGCTTG</text>
<text x="2034.8" y="953.8" font-size="32.6" textLength="49.16" lengthAdjust="spacingAndGlyphs" stroke="#000" stroke-width="0.3">WT</text>
<circle cx="2153.4" cy="927" r="5.7" fill="#e8892d"/><circle cx="2153.2" cy="926.4" r="5.6" fill="#000"/>
<text x="1149.1" y="987.9" font-size="28.2" textLength="61.96" lengthAdjust="spacingAndGlyphs" font-style="italic" fill="#4a4a4a" stroke="#4a4a4a" stroke-width="0.3">exon</text>
<text x="1888.7" y="987.7" font-size="28.2" textLength="71.77" lengthAdjust="spacingAndGlyphs" font-style="italic" fill="#4a4a4a" stroke="#4a4a4a" stroke-width="0.3">intron</text>
<path d="M1727.2 992.7L1745.5 961.4L1763.7 992.7Z" fill="#707070"/>
<text x="1726" y="1017.9" font-size="27.6" textLength="154.78" lengthAdjust="spacingAndGlyphs" fill="#6d6d6d" stroke="#6d6d6d" stroke-width="0.3">splice donor</text>
<text x="1152.5" y="1054.7" font-size="33.6" font-family="'Liberation Mono', monospace" fill="#1a1a1a" stroke="#fff" stroke-width="0.5" textLength="848.92" lengthAdjust="spacingAndGlyphs">AGCCAGTCTCCAGTGTCCAAGCCAGGTGCTCCCTCCA</text>
<text x="2034.3" y="1050.9" font-size="29.5" textLength="97.35" lengthAdjust="spacingAndGlyphs" fill="#d9302a" stroke="#d9302a" stroke-width="0.3">mutant</text>
<text x="1149" y="1086.7" font-size="28.2" textLength="71.97" lengthAdjust="spacingAndGlyphs" font-style="italic" fill="#d9302a" stroke="#d9302a" stroke-width="0.3">intron</text>
<text x="1888.8" y="1086.8" font-size="28.2" textLength="72.28" lengthAdjust="spacingAndGlyphs" font-style="italic" fill="#4a4a4a" stroke="#4a4a4a" stroke-width="0.3">intron</text>
<path d="M1733.2 1094.8L1751.3 1063L1769.5 1094.8Z" fill="#dd2a22"/>
<text x="1725.2" y="1123.2" font-size="28" textLength="295.80" lengthAdjust="spacingAndGlyphs" fill="#d9302a" stroke="#d9302a" stroke-width="0.3">alternative splice donor</text>
<text x="1154.5" y="1165.9" font-size="32.8" textLength="88.15" lengthAdjust="spacingAndGlyphs" font-style="italic" stroke="#000" stroke-width="0.3">EGFR</text>
<text x="1250.5" y="1165.9" font-size="32.8" textLength="84.74" lengthAdjust="spacingAndGlyphs" stroke="#000" stroke-width="0.3">cDNA</text>
<text x="1601.8" y="1283.6" font-size="33" textLength="211.18" lengthAdjust="spacingAndGlyphs" stroke="#000" stroke-width="0.3">CBE NT gRNA</text>
<text x="1602.6" y="1439.6" font-size="33" textLength="208.72" lengthAdjust="spacingAndGlyphs" stroke="#000" stroke-width="0.3">ABE NT gRNA</text>
<text x="1601.8" y="1615.7" font-size="33" textLength="176.87" lengthAdjust="spacingAndGlyphs" stroke="#000" stroke-width="0.3">CBE gRNA1</text>
<text x="1602.5" y="1762.8" font-size="33" textLength="175.22" lengthAdjust="spacingAndGlyphs" stroke="#000" stroke-width="0.3">ABE gRNA1</text>
<text x="1602.5" y="1924.3" font-size="33" textLength="176.27" lengthAdjust="spacingAndGlyphs" stroke="#000" stroke-width="0.3">ABE gRNA2</text>
<text x="1039.7" y="1842.9" font-size="30" textLength="83.25" lengthAdjust="spacingAndGlyphs" stroke="#000" stroke-width="0.3">gating</text>
<clipPath id="cc6"><rect x="1149.7" y="1198.3" width="436.8" height="142.4"/></clipPath>
<rect x="1149.7" y="1198.3" width="436.8" height="141.4" fill="#fbfbf6"/>
<line x1="1149.7" y1="1198.3" x2="1586.5" y2="1198.3" stroke="#a9a9a9" stroke-width="1.3"/>
<line x1="1153.5" y1="1214.5" x2="1153.5" y2="1337.7" stroke="#c8c8c8" stroke-width="0.9" stroke-dasharray="3 3"/>
<line x1="1297.8" y1="1214.5" x2="1297.8" y2="1337.7" stroke="#c8c8c8" stroke-width="0.9" stroke-dasharray="3 3"/>
<line x1="1445.7" y1="1214.5" x2="1445.7" y2="1337.7" stroke="#c8c8c8" stroke-width="0.9" stroke-dasharray="3 3"/>
<g clip-path="url(#cc6)">
<path d="M1155.7 1336.5l0-0.3l1.5-0.2l1.5-0.3l1.5-0.6l1.5-0.7l1.5-1.1l1.5-1.5l1.5-2l1.5-2.5l1.5-3.3l1.5-3.9l1.5-4.6l1.5-5.1l1.5-5.4l1.5-5.6l1.5-5.3l1.5-4.7l1.5-3.9l1.5-2.7l1.5-1.2l1.5 0.2l1.5 1.8l1.5 3.1l1.5 4.2l1.5 5l1.5 5.4l1.5 5.5l1.5 5.4l1.5 4.9l1.5 4.4l1.5 3.7l1.5 3l1.5 2.4l1.5 1.8l1.5 1.3l1.5 1l1.5 0.6l1.5 0.5l1.5 0.3l1.5 0.1V1336.5ZM1272.7 1336.5l0-0.5l1.5-0.4l1.5-0.9l1.5-1.5l1.5-2.2l1.5-3.2l1.5-4.3l1.5-5.1l1.5-5.7l1.5-5.6l1.5-4.7l1.5-3l1.5-0.9l1.5 1.5l1.5 3.5l1.5 5l1.5 5.7l1.5 5.6l1.5 5l1.5 4l1.5 2.9l1.5 2l1.5 1.3l1.5 0.7l1.5 0.4V1336.5ZM1356.7 1336.5l0-0.3l1.5-0.4l1.5-0.9l1.5-1.9l1.5-3.4l1.5-5.6l1.5-8l1.5-10.2l1.5-11.3l1.5-10.7l1.5-7.7l1.5-3.3l1.5 1.5l1.5 4.8l1.5 5.3l1.5 3l1.5-0.7l1.5-3.3l1.5-2.6l1.5 1.3l1.5 6.7l1.5 10.7l1.5 11.9l1.5 10.2l1.5 7.3l1.5 4.2l1.5 2.1l1.5 0.8V1336.5ZM1433.2 1336.5l0-0.3l1.5-0.4l1.5-1.1l1.5-2.3l1.5-4l1.5-6.2l1.5-8.4l1.5-9.7l1.5-8.8l1.5-5.8l1.5-1.2l1.5 3.3l1.5 6.2l1.5 6.2l1.5 3.3l1.5-1l1.5-5.2l1.5-7.2l1.5-6.3l1.5-2.5l1.5 2.7l1.5 7.2l1.5 9.9l1.5 10l1.5 8.4l1.5 6l1.5 3.7l1.5 2l1.5 0.9V1336.5ZM1515.7 1336.5l0-0.5l1.5-0.7l1.5-1.6l1.5-3.2l1.5-5.5l1.5-8l1.5-10.1l1.5-10.7l1.5-8.9l1.5-4.7l1.5 0.3l1.5 4.6l1.5 6l1.5 4.1l1.5 0l1.5-4.4l1.5-6.9l1.5-6.4l1.5-3l1.5 1.3l1.5 4.2l1.5 4.5l1.5 2l1.5-1.5l1.5-3.7l1.5-3.1l1.5 0.4l1.5 5l1.5 9l1.5 10.9l1.5 10.3l1.5 8.3l1.5 5.6l1.5 3.4l1.5 1.7l1.5 0.8V1336.5Z" fill="#dfe4f3" fill-opacity="0.7"/>
<path d="M1149.7 1336.5l0-23.5l1.5-3.8l1.5-2.6l1.5-0.8l1.5 1.1l1.5 2.7l1.5 4l1.5 4.6l1.5 4.5l1.5 4.1l1.5 3.3l1.5 2.4l1.5 1.6l1.5 1.1l1.5 0.6l1.5 0.4V1336.5ZM1190.2 1336.5l0-0.4l1.5-0.4l1.5-0.8l1.5-1.3l1.5-2l1.5-2.9l1.5-3.8l1.5-4.8l1.5-5.2l1.5-5.1l1.5-4.4l1.5-3l1.5-0.9l1.5 1.2l1.5 3.2l1.5 4.5l1.5 5.2l1.5 5.2l1.5 4.6l1.5 3.7l1.5 2.8l1.5 1.9l1.5 1.2l1.5 0.7l1.5 0.4V1336.5ZM1251.7 1336.5l0-0.3l1.5-0.3l1.5-0.5l1.5-1l1.5-1.6l1.5-2.4l1.5-3.4l1.5-4.3l1.5-5l1.5-5.2l1.5-4.9l1.5-3.8l1.5-2.1l1.5 0.1l1.5 2.2l1.5 3.9l1.5 4.9l1.5 5.3l1.5 4.9l1.5 4.3l1.5 3.2l1.5 2.3l1.5 1.4l1.5 0.8l1.5 0.2l1.5-0.1l1.5-0.5l1.5-0.7l1.5-0.9l1.5-0.9l1.5-0.8l1.5-0.5l1.5-0.3l1.5 0l1.5 0.3l1.5 0.3l1.5-0.1l1.5-0.9l1.5-2.3l1.5-4.2l1.5-6.1l1.5-7.8l1.5-8.2l1.5-7l1.5-4.3l1.5-0.4l1.5 3.7l1.5 6.7l1.5 8.4l1.5 8.2l1.5 7l1.5 5.3l1.5 3.4l1.5 2l1.5 1.1l1.5 0.5V1336.5ZM1415.2 1336.5l0-0.3l1.5-0.4l1.5-1l1.5-2l1.5-3.7l1.5-5.6l1.5-7.4l1.5-8.5l1.5-7.5l1.5-4.8l1.5-0.4l1.5 3.9l1.5 7.2l1.5 8.4l1.5 7.8l1.5 6l1.5 4l1.5 2.3l1.5 1.2l1.5 0.5V1336.5ZM1481.2 1336.5l0-0.5l1.5-0.9l1.5-1.7l1.5-3.3l1.5-5.1l1.5-7.2l1.5-8.5l1.5-8.2l1.5-5.8l1.5-1.8l1.5 2.9l1.5 6.5l1.5 8l1.5 7.2l1.5 4.4l1.5 0.3l1.5-4.1l1.5-8.3l1.5-10.9l1.5-11.1l1.5-8.2l1.5-2.7l1.5 3.6l1.5 8.9l1.5 11.5l1.5 11.5l1.5 9.3l1.5 6.6l1.5 3.9l1.5 2.1l1.5 1V1336.5Z" fill="#f4dcd6" fill-opacity="0.7"/>
<path d="M1149.7 1336.5l0-2.6l1.5-0.7l1.5-0.7l1.5-0.6l1.5-0.6l1.5-0.4l1.5-0.3l1.5-0.1l1.5 0.1l1.5 0.4l1.5 0.5l1.5 0.6l1.5 0.6l1.5 0.7l1.5 0.6l1.5 0.6l1.5 0.5l1.5 0.4l1.5 0.3l1.5 0.2l1.5 0.2V1336.5ZM1223.2 1336.5l0-0.3l1.5-0.2l1.5-0.5l1.5-0.6l1.5-1.1l1.5-1.6l1.5-2.2l1.5-3.1l1.5-4.1l1.5-5.2l1.5-6.2l1.5-7.1l1.5-7.7l1.5-7.9l1.5-7.4l1.5-6.4l1.5-4.8l1.5-2.7l1.5-0.3l1.5 1.9l1.5 4l1.5 5.6l1.5 6.5l1.5 6.8l1.5 6.4l1.5 5.5l1.5 4.2l1.5 2.6l1.5 1.1l1.5-0.4l1.5-1.6l1.5-2.5l1.5-3l1.5-3.1l1.5-2.8l1.5-2.2l1.5-1.4l1.5-0.5l1.5 0.6l1.5 1.4l1.5 2.2l1.5 2.8l1.5 3l1.5 3.2l1.5 3l1.5 2.7l1.5 2.3l1.5 2l1.5 1.5l1.5 1.3l1.5 1l1.5 0.9l1.5 0.9l1.5 0.9l1.5 1l1.5 1l1.5 1.1l1.5 1.1l1.5 1.2l1.5 1.1l1.5 1l1.5 0.9l1.5 0.7l1.5 0.5l1.5 0.3l1.5 0l1.5-0.5l1.5-0.9l1.5-1.6l1.5-2.3l1.5-3.2l1.5-4l1.5-4.8l1.5-5.6l1.5-6l1.5-6.1l1.5-5.8l1.5-5l1.5-3.9l1.5-2.5l1.5-1.2l1.5-0.1l1.5 0.3l1.5 0.3l1.5-0.6l1.5-1.8l1.5-3l1.5-3.7l1.5-3.4l1.5-2l1.5 0.4l1.5 3.4l1.5 6.3l1.5 8.7l1.5 9.8l1.5 9.9l1.5 8.9l1.5 7.4l1.5 5.6l1.5 3.9l1.5 2.6l1.5 1.5l1.5 0.8l1.5 0.5V1336.5ZM1380.7 1336.5l0-0.3l1.5-0.6l1.5-1.4l1.5-3.1l1.5-5.8l1.5-9l1.5-11.3l1.5-11.3l1.5-7.6l1.5-1.2l1.5 5.7l1.5 10.4l1.5 11.7l1.5 9.9l1.5 6.9l1.5 3.9l1.5 1.9l1.5 0.8V1336.5ZM1427.2 1336.5l0-0.4l1.5-0.3l1.5-0.4l1.5-0.4l1.5-0.6l1.5-0.6l1.5-0.6l1.5-0.4l1.5-0.3l1.5 0l1.5 0.3l1.5 0.4l1.5 0.6l1.5 0.6l1.5 0.5l1.5 0.5l1.5 0.4l1.5 0.3V1336.5ZM1560.7 1336.5l0-0.4l1.5-0.5l1.5-1.1l1.5-2.1l1.5-3.5l1.5-5.4l1.5-7.2l1.5-8.7l1.5-9l1.5-7.9l1.5-5.5l1.5-2.7l1.5 0l1.5 1.4l1.5 1.8l1.5 1.7l1.5 1.8l1.5 2.6V1336.5Z" fill="#dff0d8" fill-opacity="0.7"/>
<path d="M1149.7 1336.5l0-29.5l1.5-3.5l1.5-2.3l1.5-0.7l1.5 0.9l1.5 2.5l1.5 3.6l1.5 4.4l1.5 4.6l1.5 4.5l1.5 4.1l1.5 3.3l1.5 2.6l1.5 2l1.5 1.3l1.5 0.9l1.5 0.6l1.5 0.3V1336.5ZM1199.2 1336.5l0-0.3l1.5-0.3l1.5-0.5l1.5-1.1l1.5-1.7l1.5-2.6l1.5-3.7l1.5-4.8l1.5-5.9l1.5-6.3l1.5-6.1l1.5-4.9l1.5-3.1l1.5-0.6l1.5 2l1.5 4.1l1.5 5.7l1.5 6.3l1.5 6.1l1.5 5.4l1.5 4.2l1.5 3.1l1.5 2.1l1.5 1.3l1.5 0.8l1.5 0.4V1336.5ZM1403.2 1336.5l0-0.3l1.5-0.5l1.5-1.3l1.5-2.3l1.5-3.8l1.5-4.9l1.5-5.2l1.5-3.9l1.5-1.2l1.5 2l1.5 4.4l1.5 5.3l1.5 4.7l1.5 3.3l1.5 2l1.5 1V1336.5ZM1467.7 1336.5l0-0.3l1.5-0.6l1.5-1.3l1.5-2.6l1.5-4.4l1.5-6.2l1.5-6.9l1.5-5.7l1.5-2.7l1.5 1.6l1.5 5.1l1.5 6.8l1.5 6.5l1.5 4.9l1.5 3.1l1.5 1.6l1.5 0.7V1336.5Z" fill="#dcdcd8" fill-opacity="0.7"/>
<path d="M1155.7 1336.5l0-0.3l1.5-0.2l1.5-0.3l1.5-0.6l1.5-0.7l1.5-1.1l1.5-1.5l1.5-2l1.5-2.5l1.5-3.3l1.5-3.9l1.5-4.6l1.5-5.1l1.5-5.4l1.5-5.6l1.5-5.3l1.5-4.7l1.5-3.9l1.5-2.7l1.5-1.2l1.5 0.2l1.5 1.8l1.5 3.1l1.5 4.2l1.5 5l1.5 5.4l1.5 5.5l1.5 5.4l1.5 4.9l1.5 4.4l1.5 3.7l1.5 3l1.5 2.4l1.5 1.8l1.5 1.3l1.5 1l1.5 0.6l1.5 0.5l1.5 0.3l1.5 0.1V1336.5ZM1272.7 1336.5l0-0.5l1.5-0.4l1.5-0.9l1.5-1.5l1.5-2.2l1.5-3.2l1.5-4.3l1.5-5.1l1.5-5.7l1.5-5.6l1.5-4.7l1.5-3l1.5-0.9l1.5 1.5l1.5 3.5l1.5 5l1.5 5.7l1.5 5.6l1.5 5l1.5 4l1.5 2.9l1.5 2l1.5 1.3l1.5 0.7l1.5 0.4V1336.5ZM1356.7 1336.5l0-0.3l1.5-0.4l1.5-0.9l1.5-1.9l1.5-3.4l1.5-5.6l1.5-8l1.5-10.2l1.5-11.3l1.5-10.7l1.5-7.7l1.5-3.3l1.5 1.5l1.5 4.8l1.5 5.3l1.5 3l1.5-0.7l1.5-3.3l1.5-2.6l1.5 1.3l1.5 6.7l1.5 10.7l1.5 11.9l1.5 10.2l1.5 7.3l1.5 4.2l1.5 2.1l1.5 0.8V1336.5ZM1433.2 1336.5l0-0.3l1.5-0.4l1.5-1.1l1.5-2.3l1.5-4l1.5-6.2l1.5-8.4l1.5-9.7l1.5-8.8l1.5-5.8l1.5-1.2l1.5 3.3l1.5 6.2l1.5 6.2l1.5 3.3l1.5-1l1.5-5.2l1.5-7.2l1.5-6.3l1.5-2.5l1.5 2.7l1.5 7.2l1.5 9.9l1.5 10l1.5 8.4l1.5 6l1.5 3.7l1.5 2l1.5 0.9V1336.5ZM1515.7 1336.5l0-0.5l1.5-0.7l1.5-1.6l1.5-3.2l1.5-5.5l1.5-8l1.5-10.1l1.5-10.7l1.5-8.9l1.5-4.7l1.5 0.3l1.5 4.6l1.5 6l1.5 4.1l1.5 0l1.5-4.4l1.5-6.9l1.5-6.4l1.5-3l1.5 1.3l1.5 4.2l1.5 4.5l1.5 2l1.5-1.5l1.5-3.7l1.5-3.1l1.5 0.4l1.5 5l1.5 9l1.5 10.9l1.5 10.3l1.5 8.3l1.5 5.6l1.5 3.4l1.5 1.7l1.5 0.8V1336.5Z" fill="none" stroke="#3f5ec2" stroke-width="1.15" stroke-linejoin="round"/>
<path d="M1149.7 1336.5l0-23.5l1.5-3.8l1.5-2.6l1.5-0.8l1.5 1.1l1.5 2.7l1.5 4l1.5 4.6l1.5 4.5l1.5 4.1l1.5 3.3l1.5 2.4l1.5 1.6l1.5 1.1l1.5 0.6l1.5 0.4V1336.5ZM1190.2 1336.5l0-0.4l1.5-0.4l1.5-0.8l1.5-1.3l1.5-2l1.5-2.9l1.5-3.8l1.5-4.8l1.5-5.2l1.5-5.1l1.5-4.4l1.5-3l1.5-0.9l1.5 1.2l1.5 3.2l1.5 4.5l1.5 5.2l1.5 5.2l1.5 4.6l1.5 3.7l1.5 2.8l1.5 1.9l1.5 1.2l1.5 0.7l1.5 0.4V1336.5ZM1251.7 1336.5l0-0.3l1.5-0.3l1.5-0.5l1.5-1l1.5-1.6l1.5-2.4l1.5-3.4l1.5-4.3l1.5-5l1.5-5.2l1.5-4.9l1.5-3.8l1.5-2.1l1.5 0.1l1.5 2.2l1.5 3.9l1.5 4.9l1.5 5.3l1.5 4.9l1.5 4.3l1.5 3.2l1.5 2.3l1.5 1.4l1.5 0.8l1.5 0.2l1.5-0.1l1.5-0.5l1.5-0.7l1.5-0.9l1.5-0.9l1.5-0.8l1.5-0.5l1.5-0.3l1.5 0l1.5 0.3l1.5 0.3l1.5-0.1l1.5-0.9l1.5-2.3l1.5-4.2l1.5-6.1l1.5-7.8l1.5-8.2l1.5-7l1.5-4.3l1.5-0.4l1.5 3.7l1.5 6.7l1.5 8.4l1.5 8.2l1.5 7l1.5 5.3l1.5 3.4l1.5 2l1.5 1.1l1.5 0.5V1336.5ZM1415.2 1336.5l0-0.3l1.5-0.4l1.5-1l1.5-2l1.5-3.7l1.5-5.6l1.5-7.4l1.5-8.5l1.5-7.5l1.5-4.8l1.5-0.4l1.5 3.9l1.5 7.2l1.5 8.4l1.5 7.8l1.5 6l1.5 4l1.5 2.3l1.5 1.2l1.5 0.5V1336.5ZM1481.2 1336.5l0-0.5l1.5-0.9l1.5-1.7l1.5-3.3l1.5-5.1l1.5-7.2l1.5-8.5l1.5-8.2l1.5-5.8l1.5-1.8l1.5 2.9l1.5 6.5l1.5 8l1.5 7.2l1.5 4.4l1.5 0.3l1.5-4.1l1.5-8.3l1.5-10.9l1.5-11.1l1.5-8.2l1.5-2.7l1.5 3.6l1.5 8.9l1.5 11.5l1.5 11.5l1.5 9.3l1.5 6.6l1.5 3.9l1.5 2.1l1.5 1V1336.5Z" fill="none" stroke="#e0392b" stroke-width="1.15" stroke-linejoin="round"/>
<path d="M1149.7 1336.5l0-2.6l1.5-0.7l1.5-0.7l1.5-0.6l1.5-0.6l1.5-0.4l1.5-0.3l1.5-0.1l1.5 0.1l1.5 0.4l1.5 0.5l1.5 0.6l1.5 0.6l1.5 0.7l1.5 0.6l1.5 0.6l1.5 0.5l1.5 0.4l1.5 0.3l1.5 0.2l1.5 0.2V1336.5ZM1223.2 1336.5l0-0.3l1.5-0.2l1.5-0.5l1.5-0.6l1.5-1.1l1.5-1.6l1.5-2.2l1.5-3.1l1.5-4.1l1.5-5.2l1.5-6.2l1.5-7.1l1.5-7.7l1.5-7.9l1.5-7.4l1.5-6.4l1.5-4.8l1.5-2.7l1.5-0.3l1.5 1.9l1.5 4l1.5 5.6l1.5 6.5l1.5 6.8l1.5 6.4l1.5 5.5l1.5 4.2l1.5 2.6l1.5 1.1l1.5-0.4l1.5-1.6l1.5-2.5l1.5-3l1.5-3.1l1.5-2.8l1.5-2.2l1.5-1.4l1.5-0.5l1.5 0.6l1.5 1.4l1.5 2.2l1.5 2.8l1.5 3l1.5 3.2l1.5 3l1.5 2.7l1.5 2.3l1.5 2l1.5 1.5l1.5 1.3l1.5 1l1.5 0.9l1.5 0.9l1.5 0.9l1.5 1l1.5 1l1.5 1.1l1.5 1.1l1.5 1.2l1.5 1.1l1.5 1l1.5 0.9l1.5 0.7l1.5 0.5l1.5 0.3l1.5 0l1.5-0.5l1.5-0.9l1.5-1.6l1.5-2.3l1.5-3.2l1.5-4l1.5-4.8l1.5-5.6l1.5-6l1.5-6.1l1.5-5.8l1.5-5l1.5-3.9l1.5-2.5l1.5-1.2l1.5-0.1l1.5 0.3l1.5 0.3l1.5-0.6l1.5-1.8l1.5-3l1.5-3.7l1.5-3.4l1.5-2l1.5 0.4l1.5 3.4l1.5 6.3l1.5 8.7l1.5 9.8l1.5 9.9l1.5 8.9l1.5 7.4l1.5 5.6l1.5 3.9l1.5 2.6l1.5 1.5l1.5 0.8l1.5 0.5V1336.5ZM1380.7 1336.5l0-0.3l1.5-0.6l1.5-1.4l1.5-3.1l1.5-5.8l1.5-9l1.5-11.3l1.5-11.3l1.5-7.6l1.5-1.2l1.5 5.7l1.5 10.4l1.5 11.7l1.5 9.9l1.5 6.9l1.5 3.9l1.5 1.9l1.5 0.8V1336.5ZM1427.2 1336.5l0-0.4l1.5-0.3l1.5-0.4l1.5-0.4l1.5-0.6l1.5-0.6l1.5-0.6l1.5-0.4l1.5-0.3l1.5 0l1.5 0.3l1.5 0.4l1.5 0.6l1.5 0.6l1.5 0.5l1.5 0.5l1.5 0.4l1.5 0.3V1336.5ZM1560.7 1336.5l0-0.4l1.5-0.5l1.5-1.1l1.5-2.1l1.5-3.5l1.5-5.4l1.5-7.2l1.5-8.7l1.5-9l1.5-7.9l1.5-5.5l1.5-2.7l1.5 0l1.5 1.4l1.5 1.8l1.5 1.7l1.5 1.8l1.5 2.6V1336.5Z" fill="none" stroke="#3dae3a" stroke-width="1.15" stroke-linejoin="round"/>
<path d="M1149.7 1336.5l0-29.5l1.5-3.5l1.5-2.3l1.5-0.7l1.5 0.9l1.5 2.5l1.5 3.6l1.5 4.4l1.5 4.6l1.5 4.5l1.5 4.1l1.5 3.3l1.5 2.6l1.5 2l1.5 1.3l1.5 0.9l1.5 0.6l1.5 0.3V1336.5ZM1199.2 1336.5l0-0.3l1.5-0.3l1.5-0.5l1.5-1.1l1.5-1.7l1.5-2.6l1.5-3.7l1.5-4.8l1.5-5.9l1.5-6.3l1.5-6.1l1.5-4.9l1.5-3.1l1.5-0.6l1.5 2l1.5 4.1l1.5 5.7l1.5 6.3l1.5 6.1l1.5 5.4l1.5 4.2l1.5 3.1l1.5 2.1l1.5 1.3l1.5 0.8l1.5 0.4V1336.5ZM1403.2 1336.5l0-0.3l1.5-0.5l1.5-1.3l1.5-2.3l1.5-3.8l1.5-4.9l1.5-5.2l1.5-3.9l1.5-1.2l1.5 2l1.5 4.4l1.5 5.3l1.5 4.7l1.5 3.3l1.5 2l1.5 1V1336.5ZM1467.7 1336.5l0-0.3l1.5-0.6l1.5-1.3l1.5-2.6l1.5-4.4l1.5-6.2l1.5-6.9l1.5-5.7l1.5-2.7l1.5 1.6l1.5 5.1l1.5 6.8l1.5 6.5l1.5 4.9l1.5 3.1l1.5 1.6l1.5 0.7V1336.5Z" fill="none" stroke="#111111" stroke-width="1.15" stroke-linejoin="round"/>
</g>
<line x1="1149.7" y1="1337.2" x2="1586.5" y2="1337.2" stroke="#d23b35" stroke-width="1.6"/>
<line x1="1149.7" y1="1335.8" x2="1586.5" y2="1335.8" stroke="#222" stroke-width="1" stroke-opacity="0.8"/>
<text x="1150.3" y="1212.5" font-size="10.5" font-weight="bold" fill="#e0392b" text-anchor="middle">T</text>
<text x="1154.9" y="1212.5" font-size="10.5" font-weight="bold" fill="#111111" text-anchor="middle">G</text>
<text x="1184.2" y="1212.5" font-size="10.5" font-weight="bold" fill="#4a64c8" text-anchor="middle">C</text>
<text x="1195" y="1212.5" font-size="10.5" font-weight="bold" fill="#4a64c8" text-anchor="middle">C</text>
<text x="1205.8" y="1212.5" font-size="10.5" font-weight="bold" fill="#e0392b" text-anchor="middle">T</text>
<text x="1218.3" y="1212.5" font-size="10.5" font-weight="bold" fill="#111111" text-anchor="middle">G</text>
<path d="M1233 1200.5v10M1231.3 1200.5h3.4M1231.3 1210.5h3.4" stroke="#3f5ec2" stroke-width="1.2" fill="none"/>
<text x="1249.6" y="1212.5" font-size="10.5" font-weight="bold" fill="#3fae3a" text-anchor="middle">A</text>
<text x="1257.8" y="1212.5" font-size="10.5" font-weight="bold" fill="#3fae3a" text-anchor="middle">A</text>
<text x="1268.9" y="1212.5" font-size="10.5" font-weight="bold" fill="#e0392b" text-anchor="middle">T</text>
<text x="1277.7" y="1212.5" font-size="10.5" font-weight="bold" fill="#3fae3a" text-anchor="middle">A</text>
<text x="1289.9" y="1212.5" font-size="10.5" font-weight="bold" fill="#4a64c8" text-anchor="middle">C</text>
<text x="1298.7" y="1212.5" font-size="10.5" font-weight="bold" fill="#3fae3a" text-anchor="middle">A</text>
<text x="1317.7" y="1212.5" font-size="10.5" font-weight="bold" fill="#e0392b" text-anchor="middle">T</text>
<text x="1332.9" y="1212.5" font-size="10.5" font-weight="bold" fill="#3fae3a" text-anchor="middle">A</text>
<text x="1346.9" y="1212.5" font-size="10.5" font-weight="bold" fill="#3fae3a" text-anchor="middle">A</text>
<text x="1357.1" y="1212.5" font-size="10.5" font-weight="bold" fill="#3fae3a" text-anchor="middle">A</text>
<text x="1373.2" y="1212.5" font-size="10.5" font-weight="bold" fill="#4a64c8" text-anchor="middle">C</text>
<text x="1383.4" y="1212.5" font-size="10.5" font-weight="bold" fill="#4a64c8" text-anchor="middle">C</text>
<text x="1392.8" y="1212.5" font-size="10.5" font-weight="bold" fill="#3fae3a" text-anchor="middle">A</text>
<text x="1413.3" y="1212.5" font-size="10.5" font-weight="bold" fill="#111111" text-anchor="middle">G</text>
<text x="1428.8" y="1212.5" font-size="10.5" font-weight="bold" fill="#e0392b" text-anchor="middle">T</text>
<text x="1446.9" y="1212.5" font-size="10.5" font-weight="bold" fill="#4a64c8" text-anchor="middle">C</text>
<text x="1460" y="1212.5" font-size="10.5" font-weight="bold" fill="#4a64c8" text-anchor="middle">C</text>
<text x="1477.5" y="1212.5" font-size="10.5" font-weight="bold" fill="#111111" text-anchor="middle">G</text>
<text x="1493" y="1212.5" font-size="10.5" font-weight="bold" fill="#e0392b" text-anchor="middle">T</text>
<text x="1512" y="1212.5" font-size="10.5" font-weight="bold" fill="#e0392b" text-anchor="middle">T</text>
<text x="1528.1" y="1212.5" font-size="10.5" font-weight="bold" fill="#4a64c8" text-anchor="middle">C</text>
<text x="1541.3" y="1212.5" font-size="10.5" font-weight="bold" fill="#4a64c8" text-anchor="middle">C</text>
<text x="1553" y="1212.5" font-size="10.5" font-weight="bold" fill="#4a64c8" text-anchor="middle">C</text>
<text x="1564.6" y="1212.5" font-size="10.5" font-weight="bold" fill="#3fae3a" text-anchor="middle">A</text>
<text x="1576.3" y="1212.5" font-size="10.5" font-weight="bold" fill="#3fae3a" text-anchor="middle">A</text>
<text x="1148.1" y="1248" font-size="30" textLength="61.86" lengthAdjust="spacingAndGlyphs" font-style="italic" fill="#555555" stroke="#555555" stroke-width="0.3">exon</text>
<path d="M1207.2 1252.4L1225.2 1221.4L1243.2 1252.4Z" fill="#707070"/>
<text x="1469.5" y="1248" font-size="30" textLength="61.86" lengthAdjust="spacingAndGlyphs" font-style="italic" fill="#555555" stroke="#555555" stroke-width="0.3">exon</text>
<clipPath id="cc7"><rect x="1149.7" y="1359" width="435.3" height="145.3"/></clipPath>
<rect x="1149.7" y="1359" width="435.3" height="144.3" fill="#fbfbf6"/>
<line x1="1149.7" y1="1359" x2="1585" y2="1359" stroke="#a9a9a9" stroke-width="1.3"/>
<line x1="1273.8" y1="1376.1" x2="1273.8" y2="1501.3" stroke="#c8c8c8" stroke-width="0.9" stroke-dasharray="3 3"/>
<line x1="1409" y1="1376.1" x2="1409" y2="1501.3" stroke="#c8c8c8" stroke-width="0.9" stroke-dasharray="3 3"/>
<line x1="1559.5" y1="1376.1" x2="1559.5" y2="1501.3" stroke="#c8c8c8" stroke-width="0.9" stroke-dasharray="3 3"/>
<g clip-path="url(#cc7)">
<path d="M1152.7 1500.1l0-0.3l1.5-0.1l1.5-0.3l1.5-0.3l1.5-0.5l1.5-0.7l1.5-1l1.5-1.3l1.5-1.6l1.5-2l1.5-2.5l1.5-2.9l1.5-3.4l1.5-3.7l1.5-4l1.5-4.1l1.5-4l1.5-3.7l1.5-3.3l1.5-2.6l1.5-1.8l1.5-0.8l1.5 0.1l1.5 1.2l1.5 2.1l1.5 2.8l1.5 3.5l1.5 3.8l1.5 4.1l1.5 4.1l1.5 3.9l1.5 3.6l1.5 3.2l1.5 2.8l1.5 2.3l1.5 1.9l1.5 1.5l1.5 1.2l1.5 0.8l1.5 0.7l1.5 0.4l1.5 0.3l1.5 0.2V1500.1ZM1268.2 1500.1l0-0.5l1.5-0.5l1.5-0.8l1.5-1.4l1.5-2.1l1.5-2.9l1.5-3.8l1.5-4.6l1.5-4.8l1.5-4.6l1.5-3.6l1.5-2.1l1.5-0.2l1.5 1.7l1.5 3.4l1.5 4.4l1.5 4.9l1.5 4.6l1.5 4l1.5 3.1l1.5 2.3l1.5 1.5l1.5 0.9l1.5 0.5l1.5 0.3V1500.1ZM1328.2 1500.1l0-0.9l1.5-1.6l1.5-3.1l1.5-3.9l1.5-3.3l1.5-0.5l1.5 2.5l1.5 4l1.5 3.4l1.5 2.1l1.5 0.9V1500.1ZM1355.2 1500.1l0-0.6l1.5-0.8l1.5-1.7l1.5-3l1.5-5l1.5-7.2l1.5-9.3l1.5-10.4l1.5-9.9l1.5-7.4l1.5-3.4l1.5 1l1.5 3.8l1.5 4.2l1.5 1.8l1.5-2l1.5-4.6l1.5-3.8l1.5 0.6l1.5 6.4l1.5 11.1l1.5 12.7l1.5 11l1.5 7.9l1.5 4.7l1.5 2.4l1.5 1V1500.1ZM1427.2 1500.1l0-0.5l1.5-0.7l1.5-1.4l1.5-2.4l1.5-3.8l1.5-5.4l1.5-6.7l1.5-7.2l1.5-6.5l1.5-4.4l1.5-1.3l1.5 1.9l1.5 3.9l1.5 4.3l1.5 2.4l1.5-1.1l1.5-4.9l1.5-7.5l1.5-7.6l1.5-4.6l1.5 0.3l1.5 5.6l1.5 9.4l1.5 10.7l1.5 9.8l1.5 7.5l1.5 5l1.5 2.8l1.5 1.4l1.5 0.6V1500.1ZM1512.7 1500.1l0-0.3l1.5-0.6l1.5-1.3l1.5-2.4l1.5-4.2l1.5-6.1l1.5-7.7l1.5-8.2l1.5-6.8l1.5-3.7l1.5 0.2l1.5 3.2l1.5 4.1l1.5 2.3l1.5-1.3l1.5-5.1l1.5-7.1l1.5-6.5l1.5-3.3l1.5 0.8l1.5 3.8l1.5 4.1l1.5 1.9l1.5-1.3l1.5-3.4l1.5-3l1.5 0.1l1.5 4.3l1.5 8.2l1.5 10.1l1.5 9.7l1.5 7.9l1.5 5.4l1.5 3.2l1.5 1.7l1.5 0.8V1500.1Z" fill="#dfe4f3" fill-opacity="0.7"/>
<path d="M1149.7 1500.1l0-30.8l1.5-1.2l1.5 1.6l1.5 4l1.5 5.4l1.5 5.8l1.5 5.1l1.5 4l1.5 2.7l1.5 1.7l1.5 0.9l1.5 0.5V1500.1ZM1182.7 1500.1l0-0.5l1.5-0.5l1.5-0.9l1.5-1.5l1.5-2.5l1.5-3.5l1.5-4.8l1.5-5.8l1.5-6.7l1.5-6.6l1.5-5.8l1.5-4l1.5-1.6l1.5 1.2l1.5 3.7l1.5 5.6l1.5 6.6l1.5 6.7l1.5 6l1.5 4.9l1.5 3.7l1.5 2.6l1.5 1.7l1.5 0.9l1.5 0.6V1500.1ZM1247.2 1500.1l0-0.4l1.5-0.3l1.5-0.6l1.5-0.9l1.5-1.4l1.5-1.9l1.5-2.5l1.5-3.3l1.5-3.8l1.5-4.2l1.5-4.3l1.5-4l1.5-3.1l1.5-2l1.5-0.6l1.5 1l1.5 2.3l1.5 3.4l1.5 4.1l1.5 4.3l1.5 4.2l1.5 3.6l1.5 3.1l1.5 2.4l1.5 1.7l1.5 1.3l1.5 0.8l1.5 0.5l1.5 0.3V1500.1ZM1298.2 1500.1l0-0.6l1.5-1.1l1.5-2.5l1.5-4.5l1.5-7.1l1.5-9.1l1.5-9.2l1.5-6.7l1.5-1.8l1.5 3.1l1.5 5.9l1.5 5l1.5 1.5l1.5-2.5l1.5-4.5l1.5-3.3l1.5 0.5l1.5 4.9l1.5 7.8l1.5 8.3l1.5 6.8l1.5 4.6l1.5 2.5l1.5 1.3V1500.1ZM1359.7 1500.1l0-0.5l1.5-0.4l1.5-0.5l1.5-0.6l1.5-0.8l1.5-0.6l1.5-0.5l1.5-0.1l1.5 0.2l1.5 0.5l1.5 0.7l1.5 0.7l1.5 0.7l1.5 0.5l1.5 0.3V1500.1ZM1410.7 1500.1l0-0.3l1.5-0.4l1.5-1l1.5-2.1l1.5-3.8l1.5-5.8l1.5-7.9l1.5-9l1.5-8.3l1.5-5.3l1.5-0.8l1.5 3.9l1.5 7.5l1.5 9l1.5 8.4l1.5 6.6l1.5 4.5l1.5 2.5l1.5 1.4l1.5 0.5V1500.1ZM1476.7 1500.1l0-0.7l1.5-1l1.5-2.1l1.5-4.1l1.5-6.5l1.5-9.1l1.5-10.9l1.5-10.8l1.5-7.9l1.5-3l1.5 2.4l1.5 6.3l1.5 7.2l1.5 5.1l1.5 1l1.5-2.9l1.5-4.9l1.5-4.1l1.5-1.5l1.5 1.6l1.5 3.3l1.5 2.5l1.5 0.1l1.5-2.4l1.5-3.5l1.5-1.9l1.5 1.5l1.5 5.6l1.5 8.4l1.5 9.3l1.5 8.3l1.5 6.3l1.5 4.1l1.5 2.3l1.5 1.2l1.5 0.5V1500.1Z" fill="#f4dcd6" fill-opacity="0.7"/>
<path d="M1149.7 1500.1l0-2.2l1.5-0.5l1.5-0.6l1.5-0.5l1.5-0.5l1.5-0.4l1.5-0.2l1.5-0.1l1.5 0.1l1.5 0.3l1.5 0.4l1.5 0.5l1.5 0.6l1.5 0.5l1.5 0.6l1.5 0.4l1.5 0.4l1.5 0.4l1.5 0.2l1.5 0.2V1500.1ZM1215.7 1500.1l0-0.4l1.5-0.3l1.5-0.5l1.5-0.7l1.5-1.3l1.5-1.8l1.5-2.5l1.5-3.5l1.5-4.5l1.5-5.7l1.5-6.7l1.5-7.6l1.5-8.1l1.5-8.1l1.5-7.4l1.5-6.2l1.5-4.4l1.5-2.1l1.5 0.4l1.5 2.9l1.5 5l1.5 6.6l1.5 7.7l1.5 8l1.5 7.7l1.5 6.9l1.5 5.8l1.5 4.3l1.5 2.8l1.5 1.3l1.5-0.3l1.5-1.6l1.5-2.9l1.5-3.8l1.5-4.5l1.5-4.7l1.5-4.7l1.5-4.1l1.5-3.2l1.5-1.8l1.5-0.4l1.5 1.2l1.5 2.6l1.5 3.8l1.5 4.6l1.5 4.9l1.5 5l1.5 4.8l1.5 4.1l1.5 3.6l1.5 2.8l1.5 2.2l1.5 1.6l1.5 1.2l1.5 0.8l1.5 0.5l1.5 0.3V1500.1ZM1314.7 1500.1l0-0.4l1.5-0.4l1.5-0.5l1.5-0.8l1.5-1.3l1.5-1.8l1.5-2.4l1.5-3.3l1.5-4.1l1.5-4.9l1.5-5.7l1.5-6.1l1.5-6.2l1.5-5.9l1.5-5.1l1.5-3.7l1.5-2.2l1.5-0.5l1.5 1l1.5 1.9l1.5 2.1l1.5 1.1l1.5-0.7l1.5-3.1l1.5-5l1.5-5.7l1.5-4.2l1.5-1l1.5 3.5l1.5 7.9l1.5 10.9l1.5 11.9l1.5 11l1.5 8.8l1.5 6.4l1.5 4l1.5 2.3l1.5 1.3l1.5 0.5V1500.1ZM1377.7 1500.1l0-0.4l1.5-0.9l1.5-2.1l1.5-4.3l1.5-7.5l1.5-10.9l1.5-12.8l1.5-11.4l1.5-6.3l1.5 1.4l1.5 8.3l1.5 12.3l1.5 12.5l1.5 9.8l1.5 6.3l1.5 3.5l1.5 1.6l1.5 0.6V1500.1ZM1418.2 1500.1l0-0.4l1.5-0.3l1.5-0.6l1.5-0.8l1.5-1l1.5-1l1.5-1l1.5-0.7l1.5-0.2l1.5 0.3l1.5 0.8l1.5 1l1.5 1.1l1.5 1l1.5 0.7l1.5 0.5l1.5 0.3V1500.1ZM1550.2 1500.1l0-0.5l1.5-0.7l1.5-1.3l1.5-2.3l1.5-3.5l1.5-4.9l1.5-6.1l1.5-6.6l1.5-6.2l1.5-5l1.5-3.5l1.5-2.1l1.5-1.5l1.5-1.6l1.5-1.6l1.5-1.1l1.5 0.4l1.5 2.9l1.5 5.5l1.5 7.3l1.5 8.1l1.5 7.6l1.5 6.2l1.5 4.4V1500.1Z" fill="#dff0d8" fill-opacity="0.7"/>
<path d="M1149.7 1500.1l0-63.1l1.5 0.4l1.5 4.2l1.5 7.2l1.5 9l1.5 9.6l1.5 8.9l1.5 7.5l1.5 5.9l1.5 4.1l1.5 2.7l1.5 1.7l1.5 1l1.5 0.5V1500.1ZM1191.7 1500.1l0-0.3l1.5-0.3l1.5-0.6l1.5-1.2l1.5-1.9l1.5-3.2l1.5-4.7l1.5-6.4l1.5-8l1.5-9.3l1.5-9.5l1.5-8.6l1.5-6.3l1.5-3l1.5 1l1.5 4.6l1.5 7.5l1.5 9.2l1.5 9.5l1.5 8.8l1.5 7.3l1.5 5.6l1.5 4l1.5 2.5l1.5 1.6l1.5 0.8l1.5 0.5V1500.1ZM1398.7 1500.1l0-0.3l1.5-0.6l1.5-1.6l1.5-3.1l1.5-5.4l1.5-7.9l1.5-9.2l1.5-8.3l1.5-4.5l1.5 1l1.5 6l1.5 8.9l1.5 9l1.5 7.1l1.5 4.6l1.5 2.5l1.5 1.1V1500.1ZM1463.2 1500.1l0-0.5l1.5-1l1.5-2.3l1.5-4.7l1.5-8l1.5-11.2l1.5-12.9l1.5-10.9l1.5-5.3l1.5 2.3l1.5 9.1l1.5 12.6l1.5 12.1l1.5 9.4l1.5 5.9l1.5 3.2l1.5 1.4V1500.1Z" fill="#dcdcd8" fill-opacity="0.7"/>
<path d="M1152.7 1500.1l0-0.3l1.5-0.1l1.5-0.3l1.5-0.3l1.5-0.5l1.5-0.7l1.5-1l1.5-1.3l1.5-1.6l1.5-2l1.5-2.5l1.5-2.9l1.5-3.4l1.5-3.7l1.5-4l1.5-4.1l1.5-4l1.5-3.7l1.5-3.3l1.5-2.6l1.5-1.8l1.5-0.8l1.5 0.1l1.5 1.2l1.5 2.1l1.5 2.8l1.5 3.5l1.5 3.8l1.5 4.1l1.5 4.1l1.5 3.9l1.5 3.6l1.5 3.2l1.5 2.8l1.5 2.3l1.5 1.9l1.5 1.5l1.5 1.2l1.5 0.8l1.5 0.7l1.5 0.4l1.5 0.3l1.5 0.2V1500.1ZM1268.2 1500.1l0-0.5l1.5-0.5l1.5-0.8l1.5-1.4l1.5-2.1l1.5-2.9l1.5-3.8l1.5-4.6l1.5-4.8l1.5-4.6l1.5-3.6l1.5-2.1l1.5-0.2l1.5 1.7l1.5 3.4l1.5 4.4l1.5 4.9l1.5 4.6l1.5 4l1.5 3.1l1.5 2.3l1.5 1.5l1.5 0.9l1.5 0.5l1.5 0.3V1500.1ZM1328.2 1500.1l0-0.9l1.5-1.6l1.5-3.1l1.5-3.9l1.5-3.3l1.5-0.5l1.5 2.5l1.5 4l1.5 3.4l1.5 2.1l1.5 0.9V1500.1ZM1355.2 1500.1l0-0.6l1.5-0.8l1.5-1.7l1.5-3l1.5-5l1.5-7.2l1.5-9.3l1.5-10.4l1.5-9.9l1.5-7.4l1.5-3.4l1.5 1l1.5 3.8l1.5 4.2l1.5 1.8l1.5-2l1.5-4.6l1.5-3.8l1.5 0.6l1.5 6.4l1.5 11.1l1.5 12.7l1.5 11l1.5 7.9l1.5 4.7l1.5 2.4l1.5 1V1500.1ZM1427.2 1500.1l0-0.5l1.5-0.7l1.5-1.4l1.5-2.4l1.5-3.8l1.5-5.4l1.5-6.7l1.5-7.2l1.5-6.5l1.5-4.4l1.5-1.3l1.5 1.9l1.5 3.9l1.5 4.3l1.5 2.4l1.5-1.1l1.5-4.9l1.5-7.5l1.5-7.6l1.5-4.6l1.5 0.3l1.5 5.6l1.5 9.4l1.5 10.7l1.5 9.8l1.5 7.5l1.5 5l1.5 2.8l1.5 1.4l1.5 0.6V1500.1ZM1512.7 1500.1l0-0.3l1.5-0.6l1.5-1.3l1.5-2.4l1.5-4.2l1.5-6.1l1.5-7.7l1.5-8.2l1.5-6.8l1.5-3.7l1.5 0.2l1.5 3.2l1.5 4.1l1.5 2.3l1.5-1.3l1.5-5.1l1.5-7.1l1.5-6.5l1.5-3.3l1.5 0.8l1.5 3.8l1.5 4.1l1.5 1.9l1.5-1.3l1.5-3.4l1.5-3l1.5 0.1l1.5 4.3l1.5 8.2l1.5 10.1l1.5 9.7l1.5 7.9l1.5 5.4l1.5 3.2l1.5 1.7l1.5 0.8V1500.1Z" fill="none" stroke="#3f5ec2" stroke-width="1.15" stroke-linejoin="round"/>
<path d="M1149.7 1500.1l0-30.8l1.5-1.2l1.5 1.6l1.5 4l1.5 5.4l1.5 5.8l1.5 5.1l1.5 4l1.5 2.7l1.5 1.7l1.5 0.9l1.5 0.5V1500.1ZM1182.7 1500.1l0-0.5l1.5-0.5l1.5-0.9l1.5-1.5l1.5-2.5l1.5-3.5l1.5-4.8l1.5-5.8l1.5-6.7l1.5-6.6l1.5-5.8l1.5-4l1.5-1.6l1.5 1.2l1.5 3.7l1.5 5.6l1.5 6.6l1.5 6.7l1.5 6l1.5 4.9l1.5 3.7l1.5 2.6l1.5 1.7l1.5 0.9l1.5 0.6V1500.1ZM1247.2 1500.1l0-0.4l1.5-0.3l1.5-0.6l1.5-0.9l1.5-1.4l1.5-1.9l1.5-2.5l1.5-3.3l1.5-3.8l1.5-4.2l1.5-4.3l1.5-4l1.5-3.1l1.5-2l1.5-0.6l1.5 1l1.5 2.3l1.5 3.4l1.5 4.1l1.5 4.3l1.5 4.2l1.5 3.6l1.5 3.1l1.5 2.4l1.5 1.7l1.5 1.3l1.5 0.8l1.5 0.5l1.5 0.3V1500.1ZM1298.2 1500.1l0-0.6l1.5-1.1l1.5-2.5l1.5-4.5l1.5-7.1l1.5-9.1l1.5-9.2l1.5-6.7l1.5-1.8l1.5 3.1l1.5 5.9l1.5 5l1.5 1.5l1.5-2.5l1.5-4.5l1.5-3.3l1.5 0.5l1.5 4.9l1.5 7.8l1.5 8.3l1.5 6.8l1.5 4.6l1.5 2.5l1.5 1.3V1500.1ZM1359.7 1500.1l0-0.5l1.5-0.4l1.5-0.5l1.5-0.6l1.5-0.8l1.5-0.6l1.5-0.5l1.5-0.1l1.5 0.2l1.5 0.5l1.5 0.7l1.5 0.7l1.5 0.7l1.5 0.5l1.5 0.3V1500.1ZM1410.7 1500.1l0-0.3l1.5-0.4l1.5-1l1.5-2.1l1.5-3.8l1.5-5.8l1.5-7.9l1.5-9l1.5-8.3l1.5-5.3l1.5-0.8l1.5 3.9l1.5 7.5l1.5 9l1.5 8.4l1.5 6.6l1.5 4.5l1.5 2.5l1.5 1.4l1.5 0.5V1500.1ZM1476.7 1500.1l0-0.7l1.5-1l1.5-2.1l1.5-4.1l1.5-6.5l1.5-9.1l1.5-10.9l1.5-10.8l1.5-7.9l1.5-3l1.5 2.4l1.5 6.3l1.5 7.2l1.5 5.1l1.5 1l1.5-2.9l1.5-4.9l1.5-4.1l1.5-1.5l1.5 1.6l1.5 3.3l1.5 2.5l1.5 0.1l1.5-2.4l1.5-3.5l1.5-1.9l1.5 1.5l1.5 5.6l1.5 8.4l1.5 9.3l1.5 8.3l1.5 6.3l1.5 4.1l1.5 2.3l1.5 1.2l1.5 0.5V1500.1Z" fill="none" stroke="#e0392b" stroke-width="1.15" stroke-linejoin="round"/>
<path d="M1149.7 1500.1l0-2.2l1.5-0.5l1.5-0.6l1.5-0.5l1.5-0.5l1.5-0.4l1.5-0.2l1.5-0.1l1.5 0.1l1.5 0.3l1.5 0.4l1.5 0.5l1.5 0.6l1.5 0.5l1.5 0.6l1.5 0.4l1.5 0.4l1.5 0.4l1.5 0.2l1.5 0.2V1500.1ZM1215.7 1500.1l0-0.4l1.5-0.3l1.5-0.5l1.5-0.7l1.5-1.3l1.5-1.8l1.5-2.5l1.5-3.5l1.5-4.5l1.5-5.7l1.5-6.7l1.5-7.6l1.5-8.1l1.5-8.1l1.5-7.4l1.5-6.2l1.5-4.4l1.5-2.1l1.5 0.4l1.5 2.9l1.5 5l1.5 6.6l1.5 7.7l1.5 8l1.5 7.7l1.5 6.9l1.5 5.8l1.5 4.3l1.5 2.8l1.5 1.3l1.5-0.3l1.5-1.6l1.5-2.9l1.5-3.8l1.5-4.5l1.5-4.7l1.5-4.7l1.5-4.1l1.5-3.2l1.5-1.8l1.5-0.4l1.5 1.2l1.5 2.6l1.5 3.8l1.5 4.6l1.5 4.9l1.5 5l1.5 4.8l1.5 4.1l1.5 3.6l1.5 2.8l1.5 2.2l1.5 1.6l1.5 1.2l1.5 0.8l1.5 0.5l1.5 0.3V1500.1ZM1314.7 1500.1l0-0.4l1.5-0.4l1.5-0.5l1.5-0.8l1.5-1.3l1.5-1.8l1.5-2.4l1.5-3.3l1.5-4.1l1.5-4.9l1.5-5.7l1.5-6.1l1.5-6.2l1.5-5.9l1.5-5.1l1.5-3.7l1.5-2.2l1.5-0.5l1.5 1l1.5 1.9l1.5 2.1l1.5 1.1l1.5-0.7l1.5-3.1l1.5-5l1.5-5.7l1.5-4.2l1.5-1l1.5 3.5l1.5 7.9l1.5 10.9l1.5 11.9l1.5 11l1.5 8.8l1.5 6.4l1.5 4l1.5 2.3l1.5 1.3l1.5 0.5V1500.1ZM1377.7 1500.1l0-0.4l1.5-0.9l1.5-2.1l1.5-4.3l1.5-7.5l1.5-10.9l1.5-12.8l1.5-11.4l1.5-6.3l1.5 1.4l1.5 8.3l1.5 12.3l1.5 12.5l1.5 9.8l1.5 6.3l1.5 3.5l1.5 1.6l1.5 0.6V1500.1ZM1418.2 1500.1l0-0.4l1.5-0.3l1.5-0.6l1.5-0.8l1.5-1l1.5-1l1.5-1l1.5-0.7l1.5-0.2l1.5 0.3l1.5 0.8l1.5 1l1.5 1.1l1.5 1l1.5 0.7l1.5 0.5l1.5 0.3V1500.1ZM1550.2 1500.1l0-0.5l1.5-0.7l1.5-1.3l1.5-2.3l1.5-3.5l1.5-4.9l1.5-6.1l1.5-6.6l1.5-6.2l1.5-5l1.5-3.5l1.5-2.1l1.5-1.5l1.5-1.6l1.5-1.6l1.5-1.1l1.5 0.4l1.5 2.9l1.5 5.5l1.5 7.3l1.5 8.1l1.5 7.6l1.5 6.2l1.5 4.4V1500.1Z" fill="none" stroke="#3dae3a" stroke-width="1.15" stroke-linejoin="round"/>
<path d="M1149.7 1500.1l0-63.1l1.5 0.4l1.5 4.2l1.5 7.2l1.5 9l1.5 9.6l1.5 8.9l1.5 7.5l1.5 5.9l1.5 4.1l1.5 2.7l1.5 1.7l1.5 1l1.5 0.5V1500.1ZM1191.7 1500.1l0-0.3l1.5-0.3l1.5-0.6l1.5-1.2l1.5-1.9l1.5-3.2l1.5-4.7l1.5-6.4l1.5-8l1.5-9.3l1.5-9.5l1.5-8.6l1.5-6.3l1.5-3l1.5 1l1.5 4.6l1.5 7.5l1.5 9.2l1.5 9.5l1.5 8.8l1.5 7.3l1.5 5.6l1.5 4l1.5 2.5l1.5 1.6l1.5 0.8l1.5 0.5V1500.1ZM1398.7 1500.1l0-0.3l1.5-0.6l1.5-1.6l1.5-3.1l1.5-5.4l1.5-7.9l1.5-9.2l1.5-8.3l1.5-4.5l1.5 1l1.5 6l1.5 8.9l1.5 9l1.5 7.1l1.5 4.6l1.5 2.5l1.5 1.1V1500.1ZM1463.2 1500.1l0-0.5l1.5-1l1.5-2.3l1.5-4.7l1.5-8l1.5-11.2l1.5-12.9l1.5-10.9l1.5-5.3l1.5 2.3l1.5 9.1l1.5 12.6l1.5 12.1l1.5 9.4l1.5 5.9l1.5 3.2l1.5 1.4V1500.1Z" fill="none" stroke="#111111" stroke-width="1.15" stroke-linejoin="round"/>
</g>
<line x1="1149.7" y1="1500.8" x2="1585" y2="1500.8" stroke="#d23b35" stroke-width="1.6"/>
<line x1="1149.7" y1="1499.4" x2="1585" y2="1499.4" stroke="#222" stroke-width="1" stroke-opacity="0.8"/>
<text x="1150.3" y="1374.1" font-size="10.5" font-weight="bold" fill="#e0392b" text-anchor="middle">T</text>
<text x="1154.9" y="1374.1" font-size="10.5" font-weight="bold" fill="#111111" text-anchor="middle">G</text>
<text x="1162.8" y="1374.1" font-size="10.5" font-weight="bold" fill="#4a64c8" text-anchor="middle">C</text>
<text x="1184.2" y="1374.1" font-size="10.5" font-weight="bold" fill="#4a64c8" text-anchor="middle">C</text>
<text x="1199.4" y="1374.1" font-size="10.5" font-weight="bold" fill="#e0392b" text-anchor="middle">T</text>
<text x="1210.5" y="1374.1" font-size="10.5" font-weight="bold" fill="#111111" text-anchor="middle">G</text>
<path d="M1224.2 1362.1v10M1222.5 1362.1h3.4M1222.5 1372.1h3.4" stroke="#3f5ec2" stroke-width="1.2" fill="none"/>
<text x="1239.7" y="1374.1" font-size="10.5" font-weight="bold" fill="#3fae3a" text-anchor="middle">A</text>
<text x="1246.1" y="1374.1" font-size="10.5" font-weight="bold" fill="#3fae3a" text-anchor="middle">A</text>
<text x="1256.3" y="1374.1" font-size="10.5" font-weight="bold" fill="#e0392b" text-anchor="middle">T</text>
<text x="1274.7" y="1374.1" font-size="10.5" font-weight="bold" fill="#3fae3a" text-anchor="middle">A</text>
<text x="1294.3" y="1374.1" font-size="10.5" font-weight="bold" fill="#4a64c8" text-anchor="middle">C</text>
<text x="1301" y="1374.1" font-size="10.5" font-weight="bold" fill="#3fae3a" text-anchor="middle">A</text>
<text x="1317.7" y="1374.1" font-size="10.5" font-weight="bold" fill="#e0392b" text-anchor="middle">T</text>
<text x="1330.8" y="1374.1" font-size="10.5" font-weight="bold" fill="#3fae3a" text-anchor="middle">A</text>
<text x="1344" y="1374.1" font-size="10.5" font-weight="bold" fill="#3fae3a" text-anchor="middle">A</text>
<text x="1352.8" y="1374.1" font-size="10.5" font-weight="bold" fill="#3fae3a" text-anchor="middle">A</text>
<text x="1368.3" y="1374.1" font-size="10.5" font-weight="bold" fill="#4a64c8" text-anchor="middle">C</text>
<text x="1379.9" y="1374.1" font-size="10.5" font-weight="bold" fill="#4a64c8" text-anchor="middle">C</text>
<text x="1389.3" y="1374.1" font-size="10.5" font-weight="bold" fill="#3fae3a" text-anchor="middle">A</text>
<text x="1409.7" y="1374.1" font-size="10.5" font-weight="bold" fill="#111111" text-anchor="middle">G</text>
<text x="1422.9" y="1374.1" font-size="10.5" font-weight="bold" fill="#e0392b" text-anchor="middle">T</text>
<text x="1440.4" y="1374.1" font-size="10.5" font-weight="bold" fill="#4a64c8" text-anchor="middle">C</text>
<text x="1455.9" y="1374.1" font-size="10.5" font-weight="bold" fill="#4a64c8" text-anchor="middle">C</text>
<text x="1474" y="1374.1" font-size="10.5" font-weight="bold" fill="#111111" text-anchor="middle">G</text>
<text x="1488" y="1374.1" font-size="10.5" font-weight="bold" fill="#e0392b" text-anchor="middle">T</text>
<text x="1503.8" y="1374.1" font-size="10.5" font-weight="bold" fill="#e0392b" text-anchor="middle">T</text>
<text x="1521.4" y="1374.1" font-size="10.5" font-weight="bold" fill="#4a64c8" text-anchor="middle">C</text>
<text x="1536.9" y="1374.1" font-size="10.5" font-weight="bold" fill="#4a64c8" text-anchor="middle">C</text>
<text x="1549.2" y="1374.1" font-size="10.5" font-weight="bold" fill="#4a64c8" text-anchor="middle">C</text>
<text x="1560.3" y="1374.1" font-size="10.5" font-weight="bold" fill="#3fae3a" text-anchor="middle">A</text>
<text x="1572.8" y="1374.1" font-size="10.5" font-weight="bold" fill="#3fae3a" text-anchor="middle">A</text>
<text x="1149.3" y="1404.9" font-size="30" textLength="61.55" lengthAdjust="spacingAndGlyphs" font-style="italic" fill="#555555" stroke="#555555" stroke-width="0.3">exon</text>
<path d="M1202.9 1409L1220.6 1378.6L1238.2 1409Z" fill="#707070"/>
<text x="1470.7" y="1404.9" font-size="30" textLength="62.48" lengthAdjust="spacingAndGlyphs" font-style="italic" fill="#555555" stroke="#555555" stroke-width="0.3">exon</text>
<clipPath id="cc8"><rect x="1149.1" y="1523.5" width="439.5" height="142.4"/></clipPath>
<rect x="1149.1" y="1523.5" width="439.5" height="141.4" fill="#fbfbf6"/>
<line x1="1149.1" y1="1523.5" x2="1588.6" y2="1523.5" stroke="#a9a9a9" stroke-width="1.3"/>
<line x1="1206.3" y1="1540.3" x2="1206.3" y2="1662.9" stroke="#c8c8c8" stroke-width="0.9" stroke-dasharray="3 3"/>
<line x1="1347.6" y1="1540.3" x2="1347.6" y2="1662.9" stroke="#c8c8c8" stroke-width="0.9" stroke-dasharray="3 3"/>
<line x1="1497.5" y1="1540.3" x2="1497.5" y2="1662.9" stroke="#c8c8c8" stroke-width="0.9" stroke-dasharray="3 3"/>
<g clip-path="url(#cc8)">
<path d="M1149.1 1661.7l0-17.4l1.5-0.3l1.5 2.8l1.5 4.6l1.5 4.5l1.5 3.1l1.5 1.6l1.5 0.8V1661.7ZM1168.6 1661.7l0-0.3l1.5-0.7l1.5-2l1.5-4.7l1.5-8.2l1.5-11.4l1.5-11.2l1.5-6.2l1.5 2l1.5 9l1.5 11.6l1.5 9.2l1.5 3.9l1.5-2.3l1.5-8l1.5-11.3l1.5-10.3l1.5-4.1l1.5 4.2l1.5 10.3l1.5 11.8l1.5 9.2l1.5 5.6l1.5 2.5l1.5 1V1661.7ZM1281.1 1661.7l0-0.4l1.5-1.1l1.5-2.9l1.5-5.9l1.5-9.5l1.5-11.5l1.5-9.6l1.5-3l1.5 5.1l1.5 10.5l1.5 11.4l1.5 8.6l1.5 4.9l1.5 2.3l1.5 0.8V1661.7ZM1366.6 1661.7l0-0.5l1.5-1.4l1.5-3.5l1.5-7.5l1.5-12.2l1.5-15.2l1.5-13l1.5-4.7l1.5 6l1.5 13.6l1.5 14.5l1.5 10.2l1.5 3.2l1.5-4.1l1.5-9.9l1.5-12.2l1.5-9.3l1.5-1.5l1.5 7.1l1.5 12.1l1.5 12l1.5 8.6l1.5 4.7l1.5 2l1.5 0.7V1661.7ZM1441.6 1661.7l0-0.7l1.5-1.6l1.5-3.8l1.5-7.5l1.5-11.3l1.5-12.5l1.5-8.9l1.5-1l1.5 7.6l1.5 12.1l1.5 11.3l1.5 6.7l1.5 0.5l1.5-6.2l1.5-12l1.5-14.6l1.5-11.3l1.5-2.4l1.5 7.7l1.5 13.9l1.5 14.2l1.5 10.3l1.5 5.7l1.5 2.6l1.5 0.9V1661.7ZM1516.6 1661.7l0-0.4l1.5-0.9l1.5-2.6l1.5-5.5l1.5-9.4l1.5-12.2l1.5-11.1l1.5-4.9l1.5 3.8l1.5 10.4l1.5 11.9l1.5 8.5l1.5 2.5l1.5-4.4l1.5-10.4l1.5-13.3l1.5-10.9l1.5-3l1.5 6.4l1.5 11.9l1.5 10.9l1.5 4.7l1.5-3.5l1.5-9.7l1.5-10.9l1.5-5.8l1.5 2.8l1.5 10.1l1.5 12.6l1.5 10.6l1.5 6.7l1.5 3.3l1.5 1.3V1661.7Z" fill="#dfe4f3" fill-opacity="0.7"/>
<path d="M1254.1 1661.7l0-0.4l1.5-0.9l1.5-2.4l1.5-5.2l1.5-8.4l1.5-10.5l1.5-8.9l1.5-3.3l1.5 4.2l1.5 9.4l1.5 10.4l1.5 8l1.5 4.7l1.5 2.2l1.5 0.8V1661.7ZM1306.6 1661.7l0-0.3l1.5-0.8l1.5-2.5l1.5-5.7l1.5-10.5l1.5-15l1.5-15.6l1.5-9.7l1.5 1.2l1.5 11.4l1.5 15.9l1.5 14.3l1.5 9.5l1.5 4.9l1.5 2V1661.7ZM1425.1 1661.7l0-0.3l1.5-0.8l1.5-2.1l1.5-5l1.5-8.8l1.5-12.1l1.5-12l1.5-6.6l1.5 2.1l1.5 9.8l1.5 12.6l1.5 10.8l1.5 7l1.5 3.4l1.5 1.4V1661.7ZM1486.6 1661.7l0-0.6l1.5-1.3l1.5-3.5l1.5-7.1l1.5-11.3l1.5-13.4l1.5-10.7l1.5-2.9l1.5 6.4l1.5 12.4l1.5 12.6l1.5 8.1l1.5 1.5l1.5-5.8l1.5-12.9l1.5-16.8l1.5-14.4l1.5-5.3l1.5 6.8l1.5 15.3l1.5 16.9l1.5 13l1.5 7.7l1.5 3.5l1.5 1.3V1661.7Z" fill="#f4dcd6" fill-opacity="0.7"/>
<path d="M1149.1 1661.7l0-4.2l1.5-8l1.5-17l1.5-28.5l1.5-36.3l1.5-32l1.5-13.4l1.5 12l1.5 30.6l1.5 34.6l1.5 27l1.5 15.4l1.5 6.7l1.5 2.2l1.5 0.6l1.5 0.6l1.5 0.9l1.5 1.3l1.5 1.5l1.5 1.5l1.5 1.3l1.5 1.1l1.5 0.8l1.5 0.5l1.5 0.4V1661.7ZM1197.1 1661.7l0-0.5l1.5-1.2l1.5-2.9l1.5-6l1.5-9.2l1.5-10.8l1.5-8.3l1.5-1.8l1.5 5.6l1.5 10.2l1.5 10.4l1.5 7.5l1.5 4.2l1.5 1.9V1661.7ZM1227.1 1661.7l0-0.3l1.5-0.8l1.5-2.4l1.5-5.1l1.5-9.1l1.5-12.3l1.5-11.7l1.5-6.1l1.5 2.7l1.5 10l1.5 12.3l1.5 9.6l1.5 3.9l1.5-2.5l1.5-8.2l1.5-11.4l1.5-10l1.5-3.6l1.5 4.7l1.5 10.6l1.5 11.7l1.5 9l1.5 5.3l1.5 2.4l1.5 1V1661.7ZM1269.1 1661.7l0-0.4l1.5-1l1.5-2.8l1.5-6l1.5-10.2l1.5-13.3l1.5-12l1.5-5.3l1.5 4.1l1.5 11.5l1.5 13.3l1.5 10.8l1.5 6.5l1.5 3.1l1.5 1.2V1661.7ZM1294.6 1661.7l0-0.6l1.5-1.5l1.5-3.5l1.5-6.9l1.5-10.3l1.5-11.5l1.5-8.2l1.5-0.8l1.5 6.9l1.5 11.3l1.5 10.8l1.5 7.6l1.5 4.1l1.5 1.8V1661.7ZM1323.1 1661.7l0-0.7l1.5-1.7l1.5-4l1.5-7.5l1.5-11.3l1.5-12.2l1.5-8.3l1.5-0.3l1.5 7.9l1.5 12l1.5 11l1.5 6.7l1.5 1l1.5-4.6l1.5-9.8l1.5-12.4l1.5-10.4l1.5-3.3l1.5 5.5l1.5 11.4l1.5 11.9l1.5 8.1l1.5 2.1l1.5-3.9l1.5-8.8l1.5-10.4l1.5-7.6l1.5-0.8l1.5 6.5l1.5 10.5l1.5 10.1l1.5 7.1l1.5 3.8l1.5 1.6V1661.7ZM1395.1 1661.7l0-0.5l1.5-1.2l1.5-3.1l1.5-6.2l1.5-10l1.5-11.8l1.5-9.5l1.5-2.5l1.5 5.7l1.5 11l1.5 11.5l1.5 8.5l1.5 4.9l1.5 2.1l1.5 0.8V1661.7ZM1558.6 1661.7l0-0.5l1.5-1.3l1.5-2.9l1.5-5.7l1.5-8.3l1.5-9.1l1.5-6.3l1.5-0.2l1.5 5.7l1.5 8.5l1.5 6.9l1.5 2.2l1.5-3.5l1.5-7.9l1.5-8.9l1.5-5.3l1.5 1.2l1.5 7.2l1.5 9.7l1.5 8.5l1.5 5.6V1661.7Z" fill="#dff0d8" fill-opacity="0.7"/>
<path d="M1155.1 1661.7l0-0.7l1.5-1.4l1.5-3l1.5-5.3l1.5-6.9l1.5-6.5l1.5-3.2l1.5 1.9l1.5 5.9l1.5 7.1l1.5 5.8l1.5 3.6l1.5 1.8l1.5 0.6V1661.7ZM1210.6 1661.7l0-0.5l1.5-1.2l1.5-2.9l1.5-5.5l1.5-8.1l1.5-8.8l1.5-6.1l1.5-0.2l1.5 5.7l1.5 8.8l1.5 8.2l1.5 5.7l1.5 3l1.5 1.3V1661.7ZM1411.6 1661.7l0-0.9l1.5-1.8l1.5-3.8l1.5-6.8l1.5-8.9l1.5-8.2l1.5-4l1.5 2.3l1.5 7.5l1.5 9.1l1.5 7.4l1.5 4.7l1.5 2.2l1.5 0.8V1661.7ZM1471.6 1661.7l0-0.8l1.5-1.7l1.5-4.1l1.5-7.7l1.5-11.1l1.5-11.9l1.5-7.7l1.5 0.3l1.5 8.1l1.5 12l1.5 11l1.5 7.4l1.5 3.9l1.5 1.6V1661.7Z" fill="#dcdcd8" fill-opacity="0.7"/>
<path d="M1149.1 1661.7l0-17.4l1.5-0.3l1.5 2.8l1.5 4.6l1.5 4.5l1.5 3.1l1.5 1.6l1.5 0.8V1661.7ZM1168.6 1661.7l0-0.3l1.5-0.7l1.5-2l1.5-4.7l1.5-8.2l1.5-11.4l1.5-11.2l1.5-6.2l1.5 2l1.5 9l1.5 11.6l1.5 9.2l1.5 3.9l1.5-2.3l1.5-8l1.5-11.3l1.5-10.3l1.5-4.1l1.5 4.2l1.5 10.3l1.5 11.8l1.5 9.2l1.5 5.6l1.5 2.5l1.5 1V1661.7ZM1281.1 1661.7l0-0.4l1.5-1.1l1.5-2.9l1.5-5.9l1.5-9.5l1.5-11.5l1.5-9.6l1.5-3l1.5 5.1l1.5 10.5l1.5 11.4l1.5 8.6l1.5 4.9l1.5 2.3l1.5 0.8V1661.7ZM1366.6 1661.7l0-0.5l1.5-1.4l1.5-3.5l1.5-7.5l1.5-12.2l1.5-15.2l1.5-13l1.5-4.7l1.5 6l1.5 13.6l1.5 14.5l1.5 10.2l1.5 3.2l1.5-4.1l1.5-9.9l1.5-12.2l1.5-9.3l1.5-1.5l1.5 7.1l1.5 12.1l1.5 12l1.5 8.6l1.5 4.7l1.5 2l1.5 0.7V1661.7ZM1441.6 1661.7l0-0.7l1.5-1.6l1.5-3.8l1.5-7.5l1.5-11.3l1.5-12.5l1.5-8.9l1.5-1l1.5 7.6l1.5 12.1l1.5 11.3l1.5 6.7l1.5 0.5l1.5-6.2l1.5-12l1.5-14.6l1.5-11.3l1.5-2.4l1.5 7.7l1.5 13.9l1.5 14.2l1.5 10.3l1.5 5.7l1.5 2.6l1.5 0.9V1661.7ZM1516.6 1661.7l0-0.4l1.5-0.9l1.5-2.6l1.5-5.5l1.5-9.4l1.5-12.2l1.5-11.1l1.5-4.9l1.5 3.8l1.5 10.4l1.5 11.9l1.5 8.5l1.5 2.5l1.5-4.4l1.5-10.4l1.5-13.3l1.5-10.9l1.5-3l1.5 6.4l1.5 11.9l1.5 10.9l1.5 4.7l1.5-3.5l1.5-9.7l1.5-10.9l1.5-5.8l1.5 2.8l1.5 10.1l1.5 12.6l1.5 10.6l1.5 6.7l1.5 3.3l1.5 1.3V1661.7Z" fill="none" stroke="#3f5ec2" stroke-width="1.15" stroke-linejoin="round"/>
<path d="M1254.1 1661.7l0-0.4l1.5-0.9l1.5-2.4l1.5-5.2l1.5-8.4l1.5-10.5l1.5-8.9l1.5-3.3l1.5 4.2l1.5 9.4l1.5 10.4l1.5 8l1.5 4.7l1.5 2.2l1.5 0.8V1661.7ZM1306.6 1661.7l0-0.3l1.5-0.8l1.5-2.5l1.5-5.7l1.5-10.5l1.5-15l1.5-15.6l1.5-9.7l1.5 1.2l1.5 11.4l1.5 15.9l1.5 14.3l1.5 9.5l1.5 4.9l1.5 2V1661.7ZM1425.1 1661.7l0-0.3l1.5-0.8l1.5-2.1l1.5-5l1.5-8.8l1.5-12.1l1.5-12l1.5-6.6l1.5 2.1l1.5 9.8l1.5 12.6l1.5 10.8l1.5 7l1.5 3.4l1.5 1.4V1661.7ZM1486.6 1661.7l0-0.6l1.5-1.3l1.5-3.5l1.5-7.1l1.5-11.3l1.5-13.4l1.5-10.7l1.5-2.9l1.5 6.4l1.5 12.4l1.5 12.6l1.5 8.1l1.5 1.5l1.5-5.8l1.5-12.9l1.5-16.8l1.5-14.4l1.5-5.3l1.5 6.8l1.5 15.3l1.5 16.9l1.5 13l1.5 7.7l1.5 3.5l1.5 1.3V1661.7Z" fill="none" stroke="#e0392b" stroke-width="1.15" stroke-linejoin="round"/>
<path d="M1149.1 1661.7l0-4.2l1.5-8l1.5-17l1.5-28.5l1.5-36.3l1.5-32l1.5-13.4l1.5 12l1.5 30.6l1.5 34.6l1.5 27l1.5 15.4l1.5 6.7l1.5 2.2l1.5 0.6l1.5 0.6l1.5 0.9l1.5 1.3l1.5 1.5l1.5 1.5l1.5 1.3l1.5 1.1l1.5 0.8l1.5 0.5l1.5 0.4V1661.7ZM1197.1 1661.7l0-0.5l1.5-1.2l1.5-2.9l1.5-6l1.5-9.2l1.5-10.8l1.5-8.3l1.5-1.8l1.5 5.6l1.5 10.2l1.5 10.4l1.5 7.5l1.5 4.2l1.5 1.9V1661.7ZM1227.1 1661.7l0-0.3l1.5-0.8l1.5-2.4l1.5-5.1l1.5-9.1l1.5-12.3l1.5-11.7l1.5-6.1l1.5 2.7l1.5 10l1.5 12.3l1.5 9.6l1.5 3.9l1.5-2.5l1.5-8.2l1.5-11.4l1.5-10l1.5-3.6l1.5 4.7l1.5 10.6l1.5 11.7l1.5 9l1.5 5.3l1.5 2.4l1.5 1V1661.7ZM1269.1 1661.7l0-0.4l1.5-1l1.5-2.8l1.5-6l1.5-10.2l1.5-13.3l1.5-12l1.5-5.3l1.5 4.1l1.5 11.5l1.5 13.3l1.5 10.8l1.5 6.5l1.5 3.1l1.5 1.2V1661.7ZM1294.6 1661.7l0-0.6l1.5-1.5l1.5-3.5l1.5-6.9l1.5-10.3l1.5-11.5l1.5-8.2l1.5-0.8l1.5 6.9l1.5 11.3l1.5 10.8l1.5 7.6l1.5 4.1l1.5 1.8V1661.7ZM1323.1 1661.7l0-0.7l1.5-1.7l1.5-4l1.5-7.5l1.5-11.3l1.5-12.2l1.5-8.3l1.5-0.3l1.5 7.9l1.5 12l1.5 11l1.5 6.7l1.5 1l1.5-4.6l1.5-9.8l1.5-12.4l1.5-10.4l1.5-3.3l1.5 5.5l1.5 11.4l1.5 11.9l1.5 8.1l1.5 2.1l1.5-3.9l1.5-8.8l1.5-10.4l1.5-7.6l1.5-0.8l1.5 6.5l1.5 10.5l1.5 10.1l1.5 7.1l1.5 3.8l1.5 1.6V1661.7ZM1395.1 1661.7l0-0.5l1.5-1.2l1.5-3.1l1.5-6.2l1.5-10l1.5-11.8l1.5-9.5l1.5-2.5l1.5 5.7l1.5 11l1.5 11.5l1.5 8.5l1.5 4.9l1.5 2.1l1.5 0.8V1661.7ZM1558.6 1661.7l0-0.5l1.5-1.3l1.5-2.9l1.5-5.7l1.5-8.3l1.5-9.1l1.5-6.3l1.5-0.2l1.5 5.7l1.5 8.5l1.5 6.9l1.5 2.2l1.5-3.5l1.5-7.9l1.5-8.9l1.5-5.3l1.5 1.2l1.5 7.2l1.5 9.7l1.5 8.5l1.5 5.6V1661.7Z" fill="none" stroke="#3dae3a" stroke-width="1.15" stroke-linejoin="round"/>
<path d="M1155.1 1661.7l0-0.7l1.5-1.4l1.5-3l1.5-5.3l1.5-6.9l1.5-6.5l1.5-3.2l1.5 1.9l1.5 5.9l1.5 7.1l1.5 5.8l1.5 3.6l1.5 1.8l1.5 0.6V1661.7ZM1210.6 1661.7l0-0.5l1.5-1.2l1.5-2.9l1.5-5.5l1.5-8.1l1.5-8.8l1.5-6.1l1.5-0.2l1.5 5.7l1.5 8.8l1.5 8.2l1.5 5.7l1.5 3l1.5 1.3V1661.7ZM1411.6 1661.7l0-0.9l1.5-1.8l1.5-3.8l1.5-6.8l1.5-8.9l1.5-8.2l1.5-4l1.5 2.3l1.5 7.5l1.5 9.1l1.5 7.4l1.5 4.7l1.5 2.2l1.5 0.8V1661.7ZM1471.6 1661.7l0-0.8l1.5-1.7l1.5-4.1l1.5-7.7l1.5-11.1l1.5-11.9l1.5-7.7l1.5 0.3l1.5 8.1l1.5 12l1.5 11l1.5 7.4l1.5 3.9l1.5 1.6V1661.7Z" fill="none" stroke="#111111" stroke-width="1.15" stroke-linejoin="round"/>
</g>
<line x1="1149.1" y1="1662.4" x2="1588.6" y2="1662.4" stroke="#d23b35" stroke-width="1.6"/>
<line x1="1149.1" y1="1661" x2="1588.6" y2="1661" stroke="#222" stroke-width="1" stroke-opacity="0.8"/>
<text x="1156.1" y="1538.3" font-size="10.5" font-weight="bold" fill="#3fae3a" text-anchor="middle">A</text>
<text x="1164.3" y="1538.3" font-size="10.5" font-weight="bold" fill="#111111" text-anchor="middle">G</text>
<text x="1179.5" y="1538.3" font-size="10.5" font-weight="bold" fill="#4a64c8" text-anchor="middle">C</text>
<text x="1194.1" y="1538.3" font-size="10.5" font-weight="bold" fill="#4a64c8" text-anchor="middle">C</text>
<text x="1207.2" y="1538.3" font-size="10.5" font-weight="bold" fill="#3fae3a" text-anchor="middle">A</text>
<text x="1220.4" y="1538.3" font-size="10.5" font-weight="bold" fill="#111111" text-anchor="middle">G</text>
<path d="M1227.7 1526.3v10M1226 1526.3h3.4M1226 1536.3h3.4" stroke="#3f5ec2" stroke-width="1.2" fill="none"/>
<text x="1237.9" y="1538.3" font-size="10.5" font-weight="bold" fill="#3fae3a" text-anchor="middle">A</text>
<text x="1252.5" y="1538.3" font-size="10.5" font-weight="bold" fill="#3fae3a" text-anchor="middle">A</text>
<text x="1264.5" y="1538.3" font-size="10.5" font-weight="bold" fill="#e0392b" text-anchor="middle">T</text>
<text x="1279.7" y="1538.3" font-size="10.5" font-weight="bold" fill="#3fae3a" text-anchor="middle">A</text>
<text x="1291.4" y="1538.3" font-size="10.5" font-weight="bold" fill="#4a64c8" text-anchor="middle">C</text>
<text x="1304.5" y="1538.3" font-size="10.5" font-weight="bold" fill="#3fae3a" text-anchor="middle">A</text>
<text x="1317.7" y="1538.3" font-size="10.5" font-weight="bold" fill="#e0392b" text-anchor="middle">T</text>
<text x="1332.9" y="1538.3" font-size="10.5" font-weight="bold" fill="#3fae3a" text-anchor="middle">A</text>
<text x="1348.4" y="1538.3" font-size="10.5" font-weight="bold" fill="#3fae3a" text-anchor="middle">A</text>
<text x="1363" y="1538.3" font-size="10.5" font-weight="bold" fill="#3fae3a" text-anchor="middle">A</text>
<text x="1377" y="1538.3" font-size="10.5" font-weight="bold" fill="#4a64c8" text-anchor="middle">C</text>
<text x="1391.6" y="1538.3" font-size="10.5" font-weight="bold" fill="#4a64c8" text-anchor="middle">C</text>
<text x="1405.3" y="1538.3" font-size="10.5" font-weight="bold" fill="#3fae3a" text-anchor="middle">A</text>
<text x="1420.8" y="1538.3" font-size="10.5" font-weight="bold" fill="#111111" text-anchor="middle">G</text>
<text x="1436" y="1538.3" font-size="10.5" font-weight="bold" fill="#e0392b" text-anchor="middle">T</text>
<text x="1451.5" y="1538.3" font-size="10.5" font-weight="bold" fill="#4a64c8" text-anchor="middle">C</text>
<text x="1466.7" y="1538.3" font-size="10.5" font-weight="bold" fill="#4a64c8" text-anchor="middle">C</text>
<text x="1481.3" y="1538.3" font-size="10.5" font-weight="bold" fill="#111111" text-anchor="middle">G</text>
<text x="1496.8" y="1538.3" font-size="10.5" font-weight="bold" fill="#e0392b" text-anchor="middle">T</text>
<text x="1512" y="1538.3" font-size="10.5" font-weight="bold" fill="#e0392b" text-anchor="middle">T</text>
<text x="1527.2" y="1538.3" font-size="10.5" font-weight="bold" fill="#4a64c8" text-anchor="middle">C</text>
<text x="1541.8" y="1538.3" font-size="10.5" font-weight="bold" fill="#4a64c8" text-anchor="middle">C</text>
<text x="1554.4" y="1538.3" font-size="10.5" font-weight="bold" fill="#4a64c8" text-anchor="middle">C</text>
<text x="1568.4" y="1538.3" font-size="10.5" font-weight="bold" fill="#3fae3a" text-anchor="middle">A</text>
<text x="1581.6" y="1538.3" font-size="10.5" font-weight="bold" fill="#3fae3a" text-anchor="middle">A</text>
<text x="1150.7" y="1569.4" font-size="30" textLength="67.46" lengthAdjust="spacingAndGlyphs" font-style="italic" fill="#d9302a" stroke="#d9302a" stroke-width="0.3">intron</text>
<path d="M1210.5 1574.4L1228.3 1543.7L1246.1 1574.4Z" fill="#dd2a22"/>
<text x="1473" y="1569.4" font-size="30" textLength="62.17" lengthAdjust="spacingAndGlyphs" font-style="italic" fill="#555555" stroke="#555555" stroke-width="0.3">exon</text>
<clipPath id="cc9"><rect x="1149.1" y="1680.5" width="434.5" height="142.6"/></clipPath>
<rect x="1149.1" y="1680.5" width="434.5" height="141.6" fill="#fbfbf6"/>
<line x1="1149.1" y1="1680.5" x2="1583.6" y2="1680.5" stroke="#a9a9a9" stroke-width="1.3"/>
<line x1="1267.6" y1="1697.6" x2="1267.6" y2="1820.1" stroke="#c8c8c8" stroke-width="0.9" stroke-dasharray="3 3"/>
<line x1="1402.7" y1="1697.6" x2="1402.7" y2="1820.1" stroke="#c8c8c8" stroke-width="0.9" stroke-dasharray="3 3"/>
<line x1="1548.5" y1="1697.6" x2="1548.5" y2="1820.1" stroke="#c8c8c8" stroke-width="0.9" stroke-dasharray="3 3"/>
<g clip-path="url(#cc9)">
<path d="M1149.1 1818.9l0-1.5l1.5-1.9l1.5-2.8l1.5-3.2l1.5-2.2l1.5-0.2l1.5 1.9l1.5 3l1.5 3l1.5 2.1l1.5 1.1V1818.9ZM1177.6 1818.9l0-0.8l1.5-1.8l1.5-4.2l1.5-7.4l1.5-10.5l1.5-10.6l1.5-6.3l1.5 1.3l1.5 8.1l1.5 10.4l1.5 8l1.5 2.4l1.5-4.1l1.5-9.4l1.5-10.9l1.5-7.3l1.5 0.3l1.5 7.8l1.5 11.4l1.5 10.5l1.5 7.1l1.5 3.8l1.5 1.5V1818.9ZM1285.6 1818.9l0-0.8l1.5-1.7l1.5-3.9l1.5-7.2l1.5-10.4l1.5-10.7l1.5-6.7l1.5 0.8l1.5 7.9l1.5 10.9l1.5 9.9l1.5 6.5l1.5 3.4l1.5 1.4V1818.9ZM1366.6 1818.9l0-0.3l1.5-0.7l1.5-2.2l1.5-5l1.5-9.1l1.5-12.7l1.5-12.9l1.5-7.6l1.5 1.6l1.5 9.6l1.5 12.6l1.5 9.4l1.5 2.6l1.5-4.8l1.5-9.6l1.5-9.6l1.5-4.3l1.5 3.5l1.5 9.6l1.5 11.3l1.5 9.1l1.5 5.5l1.5 2.6l1.5 1V1818.9ZM1438.6 1818.9l0-0.3l1.5-1l1.5-2.4l1.5-5.3l1.5-9l1.5-11.7l1.5-10.6l1.5-4.7l1.5 3.6l1.5 10l1.5 11.3l1.5 8.1l1.5 2.1l1.5-4.8l1.5-10.9l1.5-13.9l1.5-11.3l1.5-3l1.5 6.9l1.5 13.2l1.5 13.8l1.5 10.2l1.5 5.8l1.5 2.6l1.5 1V1818.9ZM1512.1 1818.9l0-0.6l1.5-1.4l1.5-3.4l1.5-7l1.5-10.8l1.5-12.6l1.5-9.8l1.5-2.1l1.5 6.5l1.5 11.6l1.5 11l1.5 5.8l1.5-1.5l1.5-8.4l1.5-12.3l1.5-11l1.5-4l1.5 5l1.5 11l1.5 11l1.5 5.3l1.5-2.7l1.5-9.2l1.5-11.2l1.5-6.8l1.5 1.6l1.5 9.4l1.5 12.6l1.5 11l1.5 7.2l1.5 3.7l1.5 1.5V1818.9Z" fill="#dfe4f3" fill-opacity="0.7"/>
<path d="M1257.1 1818.9l0-0.3l1.5-0.7l1.5-2.2l1.5-4.8l1.5-8.6l1.5-11.9l1.5-11.7l1.5-6.5l1.5 2.1l1.5 9.5l1.5 12.4l1.5 10.6l1.5 6.8l1.5 3.4l1.5 1.3V1818.9ZM1309.6 1818.9l0-0.3l1.5-0.8l1.5-2.2l1.5-5.2l1.5-9.5l1.5-13.2l1.5-13.4l1.5-7.8l1.5 1.6l1.5 10.4l1.5 13.9l1.5 12.2l1.5 7.9l1.5 4.1l1.5 1.6V1818.9ZM1425.1 1818.9l0-0.9l1.5-1.8l1.5-4.2l1.5-7.7l1.5-10.7l1.5-10.9l1.5-6.3l1.5 1.3l1.5 8.4l1.5 11.3l1.5 9.9l1.5 6.4l1.5 3.3l1.5 1.3V1818.9ZM1483.6 1818.9l0-0.5l1.5-1.1l1.5-3l1.5-6.1l1.5-10l1.5-12.1l1.5-10l1.5-3.1l1.5 5.3l1.5 10.8l1.5 11.3l1.5 7l1.5 0.4l1.5-6.8l1.5-13l1.5-15.2l1.5-10.9l1.5-1.1l1.5 9.3l1.5 15.1l1.5 14.5l1.5 10.2l1.5 5.5l1.5 2.4l1.5 0.8V1818.9Z" fill="#f4dcd6" fill-opacity="0.7"/>
<path d="M1149.1 1818.9l0-3l1.5-4.4l1.5-8.7l1.5-13.9l1.5-17.3l1.5-16l1.5-9.3l1.5 0l1.5 6.8l1.5 8.9l1.5 7.5l1.5 5.6l1.5 4.8l1.5 5.2l1.5 5.8l1.5 6.1l1.5 5.8l1.5 5l1.5 3.9l1.5 2.8l1.5 1.9l1.5 1.1l1.5 0.7l1.5 0.4V1818.9ZM1204.6 1818.9l0-0.9l1.5-1.8l1.5-4.1l1.5-7.4l1.5-10.1l1.5-9.9l1.5-5.5l1.5 1.7l1.5 8.1l1.5 10.6l1.5 9l1.5 5.8l1.5 2.9l1.5 1.1V1818.9ZM1233.1 1818.9l0-0.5l1.5-1.4l1.5-3.9l1.5-8.4l1.5-14.6l1.5-19.4l1.5-18l1.5-8.7l1.5 5.1l1.5 16l1.5 18.7l1.5 13.4l1.5 4l1.5-5.4l1.5-11.3l1.5-11.4l1.5-5.2l1.5 4.1l1.5 11.5l1.5 13.3l1.5 10.8l1.5 6.5l1.5 3.1l1.5 1.2V1818.9ZM1272.1 1818.9l0-0.5l1.5-1.2l1.5-3.4l1.5-7.1l1.5-12l1.5-15.1l1.5-13.3l1.5-5.4l1.5 5.4l1.5 13.3l1.5 15.1l1.5 12l1.5 7.1l1.5 3.4l1.5 1.2V1818.9ZM1297.6 1818.9l0-0.7l1.5-1.5l1.5-3.8l1.5-7.3l1.5-11l1.5-12.3l1.5-8.8l1.5-0.9l1.5 7.5l1.5 12l1.5 11.5l1.5 8.2l1.5 4.3l1.5 1.9V1818.9ZM1323.1 1818.9l0-0.3l1.5-1l1.5-2.5l1.5-5.5l1.5-9.5l1.5-12.7l1.5-11.7l1.5-5.7l1.5 3.3l1.5 10.6l1.5 12.7l1.5 9.7l1.5 4.3l1.5-2.1l1.5-8.2l1.5-12.5l1.5-12.6l1.5-7l1.5 2.3l1.5 10.2l1.5 12.9l1.5 9.9l1.5 3.5l1.5-3.8l1.5-9.8l1.5-12.1l1.5-8.8l1.5-0.9l1.5 7.6l1.5 12.3l1.5 11.8l1.5 8.3l1.5 4.5l1.5 1.9V1818.9ZM1393.6 1818.9l0-0.5l1.5-1.3l1.5-3.3l1.5-6.8l1.5-11l1.5-13.4l1.5-11.1l1.5-3.5l1.5 5.9l1.5 12.2l1.5 13.2l1.5 9.9l1.5 5.8l1.5 2.6l1.5 0.9V1818.9ZM1551.1 1818.9l0-0.5l1.5-1.3l1.5-3l1.5-6l1.5-9.2l1.5-10.5l1.5-7.9l1.5-1.4l1.5 5.3l1.5 8.2l1.5 5.4l1.5-1.4l1.5-8.4l1.5-11.5l1.5-7.9l1.5 0.4l1.5 9.1l1.5 13.3l1.5 12.2l1.5 8.2l1.5 4.3l1.5 1.8V1818.9Z" fill="#dff0d8" fill-opacity="0.7"/>
<path d="M1164.1 1818.9l0-0.8l1.5-1.6l1.5-3.9l1.5-6.9l1.5-9.8l1.5-9.8l1.5-5.8l1.5 1.3l1.5 7.5l1.5 10.3l1.5 9l1.5 5.8l1.5 3l1.5 1.2V1818.9ZM1218.1 1818.9l0-0.3l1.5-0.7l1.5-2l1.5-4.3l1.5-7.1l1.5-9l1.5-7.9l1.5-3.2l1.5 3.2l1.5 7.9l1.5 9l1.5 7.1l1.5 4.3l1.5 2l1.5 0.7V1818.9ZM1410.1 1818.9l0-0.4l1.5-1l1.5-2.4l1.5-4.7l1.5-7l1.5-7.9l1.5-5.6l1.5-0.5l1.5 4.7l1.5 7.7l1.5 7.4l1.5 5.1l1.5 2.8l1.5 1.2V1818.9ZM1468.6 1818.9l0-0.3l1.5-0.9l1.5-2.3l1.5-5.2l1.5-9l1.5-11.8l1.5-11.1l1.5-5.3l1.5 3.1l1.5 10l1.5 12.1l1.5 10l1.5 6.1l1.5 3l1.5 1.1V1818.9ZM1575.1 1818.9l0-0.4l1.5-0.6l1.5-1.1l1.5-1.5l1.5-1.5l1.5-0.9V1818.9Z" fill="#dcdcd8" fill-opacity="0.7"/>
<path d="M1149.1 1818.9l0-1.5l1.5-1.9l1.5-2.8l1.5-3.2l1.5-2.2l1.5-0.2l1.5 1.9l1.5 3l1.5 3l1.5 2.1l1.5 1.1V1818.9ZM1177.6 1818.9l0-0.8l1.5-1.8l1.5-4.2l1.5-7.4l1.5-10.5l1.5-10.6l1.5-6.3l1.5 1.3l1.5 8.1l1.5 10.4l1.5 8l1.5 2.4l1.5-4.1l1.5-9.4l1.5-10.9l1.5-7.3l1.5 0.3l1.5 7.8l1.5 11.4l1.5 10.5l1.5 7.1l1.5 3.8l1.5 1.5V1818.9ZM1285.6 1818.9l0-0.8l1.5-1.7l1.5-3.9l1.5-7.2l1.5-10.4l1.5-10.7l1.5-6.7l1.5 0.8l1.5 7.9l1.5 10.9l1.5 9.9l1.5 6.5l1.5 3.4l1.5 1.4V1818.9ZM1366.6 1818.9l0-0.3l1.5-0.7l1.5-2.2l1.5-5l1.5-9.1l1.5-12.7l1.5-12.9l1.5-7.6l1.5 1.6l1.5 9.6l1.5 12.6l1.5 9.4l1.5 2.6l1.5-4.8l1.5-9.6l1.5-9.6l1.5-4.3l1.5 3.5l1.5 9.6l1.5 11.3l1.5 9.1l1.5 5.5l1.5 2.6l1.5 1V1818.9ZM1438.6 1818.9l0-0.3l1.5-1l1.5-2.4l1.5-5.3l1.5-9l1.5-11.7l1.5-10.6l1.5-4.7l1.5 3.6l1.5 10l1.5 11.3l1.5 8.1l1.5 2.1l1.5-4.8l1.5-10.9l1.5-13.9l1.5-11.3l1.5-3l1.5 6.9l1.5 13.2l1.5 13.8l1.5 10.2l1.5 5.8l1.5 2.6l1.5 1V1818.9ZM1512.1 1818.9l0-0.6l1.5-1.4l1.5-3.4l1.5-7l1.5-10.8l1.5-12.6l1.5-9.8l1.5-2.1l1.5 6.5l1.5 11.6l1.5 11l1.5 5.8l1.5-1.5l1.5-8.4l1.5-12.3l1.5-11l1.5-4l1.5 5l1.5 11l1.5 11l1.5 5.3l1.5-2.7l1.5-9.2l1.5-11.2l1.5-6.8l1.5 1.6l1.5 9.4l1.5 12.6l1.5 11l1.5 7.2l1.5 3.7l1.5 1.5V1818.9Z" fill="none" stroke="#3f5ec2" stroke-width="1.15" stroke-linejoin="round"/>
<path d="M1257.1 1818.9l0-0.3l1.5-0.7l1.5-2.2l1.5-4.8l1.5-8.6l1.5-11.9l1.5-11.7l1.5-6.5l1.5 2.1l1.5 9.5l1.5 12.4l1.5 10.6l1.5 6.8l1.5 3.4l1.5 1.3V1818.9ZM1309.6 1818.9l0-0.3l1.5-0.8l1.5-2.2l1.5-5.2l1.5-9.5l1.5-13.2l1.5-13.4l1.5-7.8l1.5 1.6l1.5 10.4l1.5 13.9l1.5 12.2l1.5 7.9l1.5 4.1l1.5 1.6V1818.9ZM1425.1 1818.9l0-0.9l1.5-1.8l1.5-4.2l1.5-7.7l1.5-10.7l1.5-10.9l1.5-6.3l1.5 1.3l1.5 8.4l1.5 11.3l1.5 9.9l1.5 6.4l1.5 3.3l1.5 1.3V1818.9ZM1483.6 1818.9l0-0.5l1.5-1.1l1.5-3l1.5-6.1l1.5-10l1.5-12.1l1.5-10l1.5-3.1l1.5 5.3l1.5 10.8l1.5 11.3l1.5 7l1.5 0.4l1.5-6.8l1.5-13l1.5-15.2l1.5-10.9l1.5-1.1l1.5 9.3l1.5 15.1l1.5 14.5l1.5 10.2l1.5 5.5l1.5 2.4l1.5 0.8V1818.9Z" fill="none" stroke="#e0392b" stroke-width="1.15" stroke-linejoin="round"/>
<path d="M1149.1 1818.9l0-3l1.5-4.4l1.5-8.7l1.5-13.9l1.5-17.3l1.5-16l1.5-9.3l1.5 0l1.5 6.8l1.5 8.9l1.5 7.5l1.5 5.6l1.5 4.8l1.5 5.2l1.5 5.8l1.5 6.1l1.5 5.8l1.5 5l1.5 3.9l1.5 2.8l1.5 1.9l1.5 1.1l1.5 0.7l1.5 0.4V1818.9ZM1204.6 1818.9l0-0.9l1.5-1.8l1.5-4.1l1.5-7.4l1.5-10.1l1.5-9.9l1.5-5.5l1.5 1.7l1.5 8.1l1.5 10.6l1.5 9l1.5 5.8l1.5 2.9l1.5 1.1V1818.9ZM1233.1 1818.9l0-0.5l1.5-1.4l1.5-3.9l1.5-8.4l1.5-14.6l1.5-19.4l1.5-18l1.5-8.7l1.5 5.1l1.5 16l1.5 18.7l1.5 13.4l1.5 4l1.5-5.4l1.5-11.3l1.5-11.4l1.5-5.2l1.5 4.1l1.5 11.5l1.5 13.3l1.5 10.8l1.5 6.5l1.5 3.1l1.5 1.2V1818.9ZM1272.1 1818.9l0-0.5l1.5-1.2l1.5-3.4l1.5-7.1l1.5-12l1.5-15.1l1.5-13.3l1.5-5.4l1.5 5.4l1.5 13.3l1.5 15.1l1.5 12l1.5 7.1l1.5 3.4l1.5 1.2V1818.9ZM1297.6 1818.9l0-0.7l1.5-1.5l1.5-3.8l1.5-7.3l1.5-11l1.5-12.3l1.5-8.8l1.5-0.9l1.5 7.5l1.5 12l1.5 11.5l1.5 8.2l1.5 4.3l1.5 1.9V1818.9ZM1323.1 1818.9l0-0.3l1.5-1l1.5-2.5l1.5-5.5l1.5-9.5l1.5-12.7l1.5-11.7l1.5-5.7l1.5 3.3l1.5 10.6l1.5 12.7l1.5 9.7l1.5 4.3l1.5-2.1l1.5-8.2l1.5-12.5l1.5-12.6l1.5-7l1.5 2.3l1.5 10.2l1.5 12.9l1.5 9.9l1.5 3.5l1.5-3.8l1.5-9.8l1.5-12.1l1.5-8.8l1.5-0.9l1.5 7.6l1.5 12.3l1.5 11.8l1.5 8.3l1.5 4.5l1.5 1.9V1818.9ZM1393.6 1818.9l0-0.5l1.5-1.3l1.5-3.3l1.5-6.8l1.5-11l1.5-13.4l1.5-11.1l1.5-3.5l1.5 5.9l1.5 12.2l1.5 13.2l1.5 9.9l1.5 5.8l1.5 2.6l1.5 0.9V1818.9ZM1551.1 1818.9l0-0.5l1.5-1.3l1.5-3l1.5-6l1.5-9.2l1.5-10.5l1.5-7.9l1.5-1.4l1.5 5.3l1.5 8.2l1.5 5.4l1.5-1.4l1.5-8.4l1.5-11.5l1.5-7.9l1.5 0.4l1.5 9.1l1.5 13.3l1.5 12.2l1.5 8.2l1.5 4.3l1.5 1.8V1818.9Z" fill="none" stroke="#3dae3a" stroke-width="1.15" stroke-linejoin="round"/>
<path d="M1164.1 1818.9l0-0.8l1.5-1.6l1.5-3.9l1.5-6.9l1.5-9.8l1.5-9.8l1.5-5.8l1.5 1.3l1.5 7.5l1.5 10.3l1.5 9l1.5 5.8l1.5 3l1.5 1.2V1818.9ZM1218.1 1818.9l0-0.3l1.5-0.7l1.5-2l1.5-4.3l1.5-7.1l1.5-9l1.5-7.9l1.5-3.2l1.5 3.2l1.5 7.9l1.5 9l1.5 7.1l1.5 4.3l1.5 2l1.5 0.7V1818.9ZM1410.1 1818.9l0-0.4l1.5-1l1.5-2.4l1.5-4.7l1.5-7l1.5-7.9l1.5-5.6l1.5-0.5l1.5 4.7l1.5 7.7l1.5 7.4l1.5 5.1l1.5 2.8l1.5 1.2V1818.9ZM1468.6 1818.9l0-0.3l1.5-0.9l1.5-2.3l1.5-5.2l1.5-9l1.5-11.8l1.5-11.1l1.5-5.3l1.5 3.1l1.5 10l1.5 12.1l1.5 10l1.5 6.1l1.5 3l1.5 1.1V1818.9ZM1575.1 1818.9l0-0.4l1.5-0.6l1.5-1.1l1.5-1.5l1.5-1.5l1.5-0.9V1818.9Z" fill="none" stroke="#111111" stroke-width="1.15" stroke-linejoin="round"/>
</g>
<line x1="1149.1" y1="1819.6" x2="1583.6" y2="1819.6" stroke="#d23b35" stroke-width="1.6"/>
<line x1="1149.1" y1="1818.2" x2="1583.6" y2="1818.2" stroke="#222" stroke-width="1" stroke-opacity="0.8"/>
<text x="1157.9" y="1695.6" font-size="10.5" font-weight="bold" fill="#3fae3a" text-anchor="middle">A</text>
<text x="1173.6" y="1695.6" font-size="10.5" font-weight="bold" fill="#111111" text-anchor="middle">G</text>
<text x="1187.1" y="1695.6" font-size="10.5" font-weight="bold" fill="#4a64c8" text-anchor="middle">C</text>
<text x="1200.8" y="1695.6" font-size="10.5" font-weight="bold" fill="#4a64c8" text-anchor="middle">C</text>
<text x="1214" y="1695.6" font-size="10.5" font-weight="bold" fill="#3fae3a" text-anchor="middle">A</text>
<text x="1228.6" y="1695.6" font-size="10.5" font-weight="bold" fill="#111111" text-anchor="middle">G</text>
<path d="M1235.9 1683.6v10M1234.2 1683.6h3.4M1234.2 1693.6h3.4" stroke="#3f5ec2" stroke-width="1.2" fill="none"/>
<text x="1243.8" y="1695.6" font-size="10.5" font-weight="bold" fill="#3fae3a" text-anchor="middle">A</text>
<text x="1257.2" y="1695.6" font-size="10.5" font-weight="bold" fill="#3fae3a" text-anchor="middle">A</text>
<text x="1268" y="1695.6" font-size="10.5" font-weight="bold" fill="#e0392b" text-anchor="middle">T</text>
<text x="1282.6" y="1695.6" font-size="10.5" font-weight="bold" fill="#3fae3a" text-anchor="middle">A</text>
<text x="1295.2" y="1695.6" font-size="10.5" font-weight="bold" fill="#4a64c8" text-anchor="middle">C</text>
<text x="1307.5" y="1695.6" font-size="10.5" font-weight="bold" fill="#3fae3a" text-anchor="middle">A</text>
<text x="1320.6" y="1695.6" font-size="10.5" font-weight="bold" fill="#e0392b" text-anchor="middle">T</text>
<text x="1333.8" y="1695.6" font-size="10.5" font-weight="bold" fill="#3fae3a" text-anchor="middle">A</text>
<text x="1349" y="1695.6" font-size="10.5" font-weight="bold" fill="#3fae3a" text-anchor="middle">A</text>
<text x="1363" y="1695.6" font-size="10.5" font-weight="bold" fill="#3fae3a" text-anchor="middle">A</text>
<text x="1377.6" y="1695.6" font-size="10.5" font-weight="bold" fill="#4a64c8" text-anchor="middle">C</text>
<text x="1390.7" y="1695.6" font-size="10.5" font-weight="bold" fill="#4a64c8" text-anchor="middle">C</text>
<text x="1403.9" y="1695.6" font-size="10.5" font-weight="bold" fill="#3fae3a" text-anchor="middle">A</text>
<text x="1420" y="1695.6" font-size="10.5" font-weight="bold" fill="#111111" text-anchor="middle">G</text>
<text x="1434.6" y="1695.6" font-size="10.5" font-weight="bold" fill="#e0392b" text-anchor="middle">T</text>
<text x="1449.2" y="1695.6" font-size="10.5" font-weight="bold" fill="#4a64c8" text-anchor="middle">C</text>
<text x="1463.8" y="1695.6" font-size="10.5" font-weight="bold" fill="#4a64c8" text-anchor="middle">C</text>
<text x="1479.3" y="1695.6" font-size="10.5" font-weight="bold" fill="#111111" text-anchor="middle">G</text>
<text x="1493.9" y="1695.6" font-size="10.5" font-weight="bold" fill="#e0392b" text-anchor="middle">T</text>
<text x="1508.5" y="1695.6" font-size="10.5" font-weight="bold" fill="#e0392b" text-anchor="middle">T</text>
<text x="1522.2" y="1695.6" font-size="10.5" font-weight="bold" fill="#4a64c8" text-anchor="middle">C</text>
<text x="1536" y="1695.6" font-size="10.5" font-weight="bold" fill="#4a64c8" text-anchor="middle">C</text>
<text x="1548.6" y="1695.6" font-size="10.5" font-weight="bold" fill="#4a64c8" text-anchor="middle">C</text>
<text x="1561.1" y="1695.6" font-size="10.5" font-weight="bold" fill="#3fae3a" text-anchor="middle">A</text>
<text x="1572.8" y="1695.6" font-size="10.5" font-weight="bold" fill="#3fae3a" text-anchor="middle">A</text>
<text x="1148.6" y="1731.6" font-size="30" textLength="70.94" lengthAdjust="spacingAndGlyphs" font-style="italic" fill="#d9302a" stroke="#d9302a" stroke-width="0.3">intron</text>
<path d="M1218.3 1731L1236.6 1700.3L1254.9 1731Z" fill="#dd2a22"/>
<text x="1469.5" y="1731.6" font-size="30" textLength="61.86" lengthAdjust="spacingAndGlyphs" font-style="italic" fill="#555555" stroke="#555555" stroke-width="0.3">exon</text>
<clipPath id="cc10"><rect x="1149.1" y="1839.5" width="433" height="142"/></clipPath>
<rect x="1149.1" y="1839.5" width="433" height="141" fill="#fbfbf6"/>
<line x1="1158" y1="1856.5" x2="1158" y2="1978.5" stroke="#c8c8c8" stroke-width="0.9" stroke-dasharray="3 3"/>
<line x1="1295.5" y1="1856.5" x2="1295.5" y2="1978.5" stroke="#c8c8c8" stroke-width="0.9" stroke-dasharray="3 3"/>
<line x1="1435" y1="1856.5" x2="1435" y2="1978.5" stroke="#c8c8c8" stroke-width="0.9" stroke-dasharray="3 3"/>
<line x1="1569" y1="1856.5" x2="1569" y2="1978.5" stroke="#c8c8c8" stroke-width="0.9" stroke-dasharray="3 3"/>
<g clip-path="url(#cc10)">
<path d="M1150.6 1977.3l0-0.5l1.5-1.1l1.5-2.4l1.5-4.1l1.5-5.6l1.5-5.4l1.5-2.8l1.5 1.2l1.5 4.6l1.5 5.8l1.5 4.9l1.5 3.1l1.5 1.5V1977.3ZM1179.1 1977.3l0-0.7l1.5-1.5l1.5-3.8l1.5-7.4l1.5-11.5l1.5-13l1.5-9.7l1.5-1.6l1.5 7.3l1.5 12.4l1.5 11.7l1.5 7l1.5 0.4l1.5-6.3l1.5-11.1l1.5-12.1l1.5-7.6l1.5 1l1.5 8.9l1.5 12.6l1.5 11.3l1.5 7.6l1.5 3.8l1.5 1.6V1977.3ZM1285.6 1977.3l0-0.3l1.5-0.7l1.5-2.2l1.5-4.7l1.5-8.3l1.5-11.1l1.5-10.8l1.5-5.5l1.5 2.4l1.5 9.2l1.5 11.6l1.5 9.7l1.5 6l1.5 3l1.5 1.2V1977.3ZM1368.1 1977.3l0-0.6l1.5-1.5l1.5-3.8l1.5-7.6l1.5-11.9l1.5-13.9l1.5-10.6l1.5-2.4l1.5 7.2l1.5 12.6l1.5 12l1.5 6.3l1.5-1.2l1.5-7.7l1.5-10.6l1.5-8.3l1.5-1.3l1.5 6.5l1.5 11l1.5 10.9l1.5 7.9l1.5 4.3l1.5 1.8V1977.3ZM1440.1 1977.3l0-0.6l1.5-1.5l1.5-3.5l1.5-7l1.5-10.8l1.5-12.3l1.5-9.1l1.5-1.5l1.5 6.8l1.5 11.5l1.5 10.5l1.5 5.2l1.5-2l1.5-8.8l1.5-12.7l1.5-11.2l1.5-4.1l1.5 5.4l1.5 12l1.5 13.2l1.5 10.3l1.5 6l1.5 2.8l1.5 1V1977.3ZM1510.6 1977.3l0-0.3l1.5-0.8l1.5-2.2l1.5-4.8l1.5-8.6l1.5-11.6l1.5-11.1l1.5-5.7l1.5 2.5l1.5 9.4l1.5 11.4l1.5 8.3l1.5 2.4l1.5-4.3l1.5-9.8l1.5-11.7l1.5-8.1l1.5-0.4l1.5 7.4l1.5 10.7l1.5 8.2l1.5 1.5l1.5-5.4l1.5-9.4l1.5-8l1.5-1.8l1.5 5.9l1.5 10.6l1.5 10.7l1.5 7.8l1.5 4.3l1.5 2V1977.3Z" fill="#dfe4f3" fill-opacity="0.7"/>
<path d="M1260.1 1977.3l0-0.4l1.5-1.1l1.5-2.6l1.5-5.6l1.5-9l1.5-10.9l1.5-9l1.5-2.8l1.5 4.8l1.5 10l1.5 10.6l1.5 8.1l1.5 4.7l1.5 2.1l1.5 0.8V1977.3ZM1311.1 1977.3l0-0.3l1.5-0.7l1.5-2l1.5-4.6l1.5-8.4l1.5-11.8l1.5-12l1.5-7l1.5 1.5l1.5 9.2l1.5 12.4l1.5 10.9l1.5 7.1l1.5 3.6l1.5 1.5V1977.3ZM1425.1 1977.3l0-0.4l1.5-0.9l1.5-2.6l1.5-5.3l1.5-8.8l1.5-10.8l1.5-9.3l1.5-3.4l1.5 4.3l1.5 9.8l1.5 10.8l1.5 8.3l1.5 4.9l1.5 2.2l1.5 0.9V1977.3ZM1483.6 1977.3l0-0.9l1.5-1.9l1.5-4.3l1.5-7.6l1.5-10.5l1.5-10.3l1.5-5.7l1.5 1.8l1.5 8.4l1.5 10.8l1.5 8.8l1.5 4.3l1.5-1.2l1.5-6.9l1.5-11.9l1.5-13.5l1.5-9.6l1.5-1l1.5 8.2l1.5 13.3l1.5 12.8l1.5 9l1.5 4.9l1.5 2l1.5 0.7V1977.3Z" fill="#f4dcd6" fill-opacity="0.7"/>
<path d="M1149.1 1977.3l0-39.4l1.5-0.3l1.5 3.1l1.5 5.7l1.5 7.1l1.5 7l1.5 5.9l1.5 3.8l1.5 1.1l1.5-3.1l1.5-9l1.5-15.7l1.5-19.4l1.5-16.1l1.5-5.1l1.5 8.7l1.5 17.9l1.5 19.1l1.5 14.6l1.5 8.4l1.5 3.8l1.5 1.4V1977.3ZM1206.1 1977.3l0-0.5l1.5-1.2l1.5-3.1l1.5-6.3l1.5-10l1.5-11.9l1.5-9.6l1.5-2.5l1.5 5.7l1.5 11.1l1.5 11.6l1.5 8.6l1.5 4.8l1.5 2.2l1.5 0.8V1977.3ZM1236.1 1977.3l0-0.6l1.5-1.4l1.5-4l1.5-8.6l1.5-14.6l1.5-19l1.5-17.2l1.5-7.6l1.5 5.7l1.5 15.7l1.5 17.4l1.5 11.1l1.5 1.3l1.5-7.2l1.5-10.8l1.5-7.5l1.5 0.4l1.5 8.6l1.5 12.5l1.5 11.5l1.5 7.8l1.5 4.1l1.5 1.6V1977.3ZM1273.6 1977.3l0-0.5l1.5-1.1l1.5-3.1l1.5-6.7l1.5-11.1l1.5-14.1l1.5-12.4l1.5-5l1.5 5l1.5 12.4l1.5 14.1l1.5 11.1l1.5 6.7l1.5 3.1l1.5 1.1V1977.3ZM1299.1 1977.3l0-0.7l1.5-1.5l1.5-3.5l1.5-6.9l1.5-10.1l1.5-11l1.5-7.5l1.5-0.3l1.5 7.1l1.5 10.9l1.5 10.3l1.5 7.1l1.5 3.8l1.5 1.6V1977.3ZM1324.6 1977.3l0-0.3l1.5-0.9l1.5-2.5l1.5-5.2l1.5-8.9l1.5-11.5l1.5-10.4l1.5-4.7l1.5 3.6l1.5 9.9l1.5 11.5l1.5 8.7l1.5 3.8l1.5-1.7l1.5-7.2l1.5-11.3l1.5-12l1.5-7.5l1.5 0.9l1.5 8.7l1.5 11.9l1.5 9.7l1.5 4l1.5-2.8l1.5-8.4l1.5-10.6l1.5-7.8l1.5-0.8l1.5 6.8l1.5 10.8l1.5 10.4l1.5 7.4l1.5 3.9l1.5 1.7V1977.3ZM1393.6 1977.3l0-0.5l1.5-1.1l1.5-2.9l1.5-6.1l1.5-9.8l1.5-11.9l1.5-9.8l1.5-3.1l1.5 5.2l1.5 10.9l1.5 11.7l1.5 8.8l1.5 5.1l1.5 2.3l1.5 0.9V1977.3ZM1549.6 1977.3l0-0.5l1.5-1.1l1.5-2.7l1.5-5.2l1.5-7.6l1.5-8.4l1.5-5.6l1.5-0.3l1.5 5l1.5 7.2l1.5 5l1.5-0.3l1.5-6.3l1.5-10l1.5-8.8l1.5-2.8l1.5 5l1.5 10.2l1.5 10.9l1.5 8.3l1.5 4.7l1.5 2.2V1977.3Z" fill="#dff0d8" fill-opacity="0.7"/>
<path d="M1165.6 1977.3l0-0.8l1.5-1.7l1.5-4.3l1.5-8l1.5-12l1.5-13l1.5-8.8l1.5-0.4l1.5 8.4l1.5 12.9l1.5 12.2l1.5 8.3l1.5 4.5l1.5 1.8V1977.3ZM1219.6 1977.3l0-0.4l1.5-1l1.5-2.6l1.5-5.6l1.5-9.1l1.5-11.3l1.5-9.7l1.5-3.5l1.5 4.5l1.5 10.2l1.5 11.2l1.5 8.7l1.5 5l1.5 2.4l1.5 0.9V1977.3ZM1410.1 1977.3l0-0.5l1.5-1.3l1.5-3l1.5-6l1.5-8.9l1.5-9.9l1.5-7.1l1.5-0.7l1.5 6l1.5 9.7l1.5 9.4l1.5 6.5l1.5 3.6l1.5 1.5V1977.3ZM1468.6 1977.3l0-0.8l1.5-1.9l1.5-4.6l1.5-8.7l1.5-12.9l1.5-14.1l1.5-9.5l1.5-0.4l1.5 9.1l1.5 13.9l1.5 13.1l1.5 9.1l1.5 4.8l1.5 2V1977.3ZM1573.6 1977.3l0-0.3l1.5-0.5l1.5-0.9l1.5-1.4l1.5-1.6l1.5-1.1V1977.3Z" fill="#dcdcd8" fill-opacity="0.7"/>
<path d="M1150.6 1977.3l0-0.5l1.5-1.1l1.5-2.4l1.5-4.1l1.5-5.6l1.5-5.4l1.5-2.8l1.5 1.2l1.5 4.6l1.5 5.8l1.5 4.9l1.5 3.1l1.5 1.5V1977.3ZM1179.1 1977.3l0-0.7l1.5-1.5l1.5-3.8l1.5-7.4l1.5-11.5l1.5-13l1.5-9.7l1.5-1.6l1.5 7.3l1.5 12.4l1.5 11.7l1.5 7l1.5 0.4l1.5-6.3l1.5-11.1l1.5-12.1l1.5-7.6l1.5 1l1.5 8.9l1.5 12.6l1.5 11.3l1.5 7.6l1.5 3.8l1.5 1.6V1977.3ZM1285.6 1977.3l0-0.3l1.5-0.7l1.5-2.2l1.5-4.7l1.5-8.3l1.5-11.1l1.5-10.8l1.5-5.5l1.5 2.4l1.5 9.2l1.5 11.6l1.5 9.7l1.5 6l1.5 3l1.5 1.2V1977.3ZM1368.1 1977.3l0-0.6l1.5-1.5l1.5-3.8l1.5-7.6l1.5-11.9l1.5-13.9l1.5-10.6l1.5-2.4l1.5 7.2l1.5 12.6l1.5 12l1.5 6.3l1.5-1.2l1.5-7.7l1.5-10.6l1.5-8.3l1.5-1.3l1.5 6.5l1.5 11l1.5 10.9l1.5 7.9l1.5 4.3l1.5 1.8V1977.3ZM1440.1 1977.3l0-0.6l1.5-1.5l1.5-3.5l1.5-7l1.5-10.8l1.5-12.3l1.5-9.1l1.5-1.5l1.5 6.8l1.5 11.5l1.5 10.5l1.5 5.2l1.5-2l1.5-8.8l1.5-12.7l1.5-11.2l1.5-4.1l1.5 5.4l1.5 12l1.5 13.2l1.5 10.3l1.5 6l1.5 2.8l1.5 1V1977.3ZM1510.6 1977.3l0-0.3l1.5-0.8l1.5-2.2l1.5-4.8l1.5-8.6l1.5-11.6l1.5-11.1l1.5-5.7l1.5 2.5l1.5 9.4l1.5 11.4l1.5 8.3l1.5 2.4l1.5-4.3l1.5-9.8l1.5-11.7l1.5-8.1l1.5-0.4l1.5 7.4l1.5 10.7l1.5 8.2l1.5 1.5l1.5-5.4l1.5-9.4l1.5-8l1.5-1.8l1.5 5.9l1.5 10.6l1.5 10.7l1.5 7.8l1.5 4.3l1.5 2V1977.3Z" fill="none" stroke="#3f5ec2" stroke-width="1.15" stroke-linejoin="round"/>
<path d="M1260.1 1977.3l0-0.4l1.5-1.1l1.5-2.6l1.5-5.6l1.5-9l1.5-10.9l1.5-9l1.5-2.8l1.5 4.8l1.5 10l1.5 10.6l1.5 8.1l1.5 4.7l1.5 2.1l1.5 0.8V1977.3ZM1311.1 1977.3l0-0.3l1.5-0.7l1.5-2l1.5-4.6l1.5-8.4l1.5-11.8l1.5-12l1.5-7l1.5 1.5l1.5 9.2l1.5 12.4l1.5 10.9l1.5 7.1l1.5 3.6l1.5 1.5V1977.3ZM1425.1 1977.3l0-0.4l1.5-0.9l1.5-2.6l1.5-5.3l1.5-8.8l1.5-10.8l1.5-9.3l1.5-3.4l1.5 4.3l1.5 9.8l1.5 10.8l1.5 8.3l1.5 4.9l1.5 2.2l1.5 0.9V1977.3ZM1483.6 1977.3l0-0.9l1.5-1.9l1.5-4.3l1.5-7.6l1.5-10.5l1.5-10.3l1.5-5.7l1.5 1.8l1.5 8.4l1.5 10.8l1.5 8.8l1.5 4.3l1.5-1.2l1.5-6.9l1.5-11.9l1.5-13.5l1.5-9.6l1.5-1l1.5 8.2l1.5 13.3l1.5 12.8l1.5 9l1.5 4.9l1.5 2l1.5 0.7V1977.3Z" fill="none" stroke="#e0392b" stroke-width="1.15" stroke-linejoin="round"/>
<path d="M1149.1 1977.3l0-39.4l1.5-0.3l1.5 3.1l1.5 5.7l1.5 7.1l1.5 7l1.5 5.9l1.5 3.8l1.5 1.1l1.5-3.1l1.5-9l1.5-15.7l1.5-19.4l1.5-16.1l1.5-5.1l1.5 8.7l1.5 17.9l1.5 19.1l1.5 14.6l1.5 8.4l1.5 3.8l1.5 1.4V1977.3ZM1206.1 1977.3l0-0.5l1.5-1.2l1.5-3.1l1.5-6.3l1.5-10l1.5-11.9l1.5-9.6l1.5-2.5l1.5 5.7l1.5 11.1l1.5 11.6l1.5 8.6l1.5 4.8l1.5 2.2l1.5 0.8V1977.3ZM1236.1 1977.3l0-0.6l1.5-1.4l1.5-4l1.5-8.6l1.5-14.6l1.5-19l1.5-17.2l1.5-7.6l1.5 5.7l1.5 15.7l1.5 17.4l1.5 11.1l1.5 1.3l1.5-7.2l1.5-10.8l1.5-7.5l1.5 0.4l1.5 8.6l1.5 12.5l1.5 11.5l1.5 7.8l1.5 4.1l1.5 1.6V1977.3ZM1273.6 1977.3l0-0.5l1.5-1.1l1.5-3.1l1.5-6.7l1.5-11.1l1.5-14.1l1.5-12.4l1.5-5l1.5 5l1.5 12.4l1.5 14.1l1.5 11.1l1.5 6.7l1.5 3.1l1.5 1.1V1977.3ZM1299.1 1977.3l0-0.7l1.5-1.5l1.5-3.5l1.5-6.9l1.5-10.1l1.5-11l1.5-7.5l1.5-0.3l1.5 7.1l1.5 10.9l1.5 10.3l1.5 7.1l1.5 3.8l1.5 1.6V1977.3ZM1324.6 1977.3l0-0.3l1.5-0.9l1.5-2.5l1.5-5.2l1.5-8.9l1.5-11.5l1.5-10.4l1.5-4.7l1.5 3.6l1.5 9.9l1.5 11.5l1.5 8.7l1.5 3.8l1.5-1.7l1.5-7.2l1.5-11.3l1.5-12l1.5-7.5l1.5 0.9l1.5 8.7l1.5 11.9l1.5 9.7l1.5 4l1.5-2.8l1.5-8.4l1.5-10.6l1.5-7.8l1.5-0.8l1.5 6.8l1.5 10.8l1.5 10.4l1.5 7.4l1.5 3.9l1.5 1.7V1977.3ZM1393.6 1977.3l0-0.5l1.5-1.1l1.5-2.9l1.5-6.1l1.5-9.8l1.5-11.9l1.5-9.8l1.5-3.1l1.5 5.2l1.5 10.9l1.5 11.7l1.5 8.8l1.5 5.1l1.5 2.3l1.5 0.9V1977.3ZM1549.6 1977.3l0-0.5l1.5-1.1l1.5-2.7l1.5-5.2l1.5-7.6l1.5-8.4l1.5-5.6l1.5-0.3l1.5 5l1.5 7.2l1.5 5l1.5-0.3l1.5-6.3l1.5-10l1.5-8.8l1.5-2.8l1.5 5l1.5 10.2l1.5 10.9l1.5 8.3l1.5 4.7l1.5 2.2V1977.3Z" fill="none" stroke="#3dae3a" stroke-width="1.15" stroke-linejoin="round"/>
<path d="M1165.6 1977.3l0-0.8l1.5-1.7l1.5-4.3l1.5-8l1.5-12l1.5-13l1.5-8.8l1.5-0.4l1.5 8.4l1.5 12.9l1.5 12.2l1.5 8.3l1.5 4.5l1.5 1.8V1977.3ZM1219.6 1977.3l0-0.4l1.5-1l1.5-2.6l1.5-5.6l1.5-9.1l1.5-11.3l1.5-9.7l1.5-3.5l1.5 4.5l1.5 10.2l1.5 11.2l1.5 8.7l1.5 5l1.5 2.4l1.5 0.9V1977.3ZM1410.1 1977.3l0-0.5l1.5-1.3l1.5-3l1.5-6l1.5-8.9l1.5-9.9l1.5-7.1l1.5-0.7l1.5 6l1.5 9.7l1.5 9.4l1.5 6.5l1.5 3.6l1.5 1.5V1977.3ZM1468.6 1977.3l0-0.8l1.5-1.9l1.5-4.6l1.5-8.7l1.5-12.9l1.5-14.1l1.5-9.5l1.5-0.4l1.5 9.1l1.5 13.9l1.5 13.1l1.5 9.1l1.5 4.8l1.5 2V1977.3ZM1573.6 1977.3l0-0.3l1.5-0.5l1.5-0.9l1.5-1.4l1.5-1.6l1.5-1.1V1977.3Z" fill="none" stroke="#111111" stroke-width="1.15" stroke-linejoin="round"/>
</g>
<line x1="1149.1" y1="1978" x2="1582.1" y2="1978" stroke="#d23b35" stroke-width="1.6"/>
<line x1="1149.1" y1="1976.6" x2="1582.1" y2="1976.6" stroke="#222" stroke-width="1" stroke-opacity="0.8"/>
<text x="1150.5" y="1854.5" font-size="10.5" font-weight="bold" fill="#3f5ec2" text-anchor="middle">:</text>
<text x="1159.9" y="1854.5" font-size="10.5" font-weight="bold" fill="#3fae3a" text-anchor="middle">A</text>
<text x="1175.4" y="1854.5" font-size="10.5" font-weight="bold" fill="#111111" text-anchor="middle">G</text>
<text x="1189.1" y="1854.5" font-size="10.5" font-weight="bold" fill="#4a64c8" text-anchor="middle">C</text>
<text x="1203.7" y="1854.5" font-size="10.5" font-weight="bold" fill="#4a64c8" text-anchor="middle">C</text>
<text x="1216.3" y="1854.5" font-size="10.5" font-weight="bold" fill="#3fae3a" text-anchor="middle">A</text>
<text x="1230" y="1854.5" font-size="10.5" font-weight="bold" fill="#111111" text-anchor="middle">G</text>
<path d="M1237.9 1842.5v10M1236.2 1842.5h3.4M1236.2 1852.5h3.4" stroke="#3f5ec2" stroke-width="1.2" fill="none"/>
<text x="1246.7" y="1854.5" font-size="10.5" font-weight="bold" fill="#3fae3a" text-anchor="middle">A</text>
<text x="1259.3" y="1854.5" font-size="10.5" font-weight="bold" fill="#3fae3a" text-anchor="middle">A</text>
<text x="1270.4" y="1854.5" font-size="10.5" font-weight="bold" fill="#e0392b" text-anchor="middle">T</text>
<text x="1284.1" y="1854.5" font-size="10.5" font-weight="bold" fill="#3fae3a" text-anchor="middle">A</text>
<text x="1296.4" y="1854.5" font-size="10.5" font-weight="bold" fill="#4a64c8" text-anchor="middle">C</text>
<text x="1308.9" y="1854.5" font-size="10.5" font-weight="bold" fill="#3fae3a" text-anchor="middle">A</text>
<text x="1322.1" y="1854.5" font-size="10.5" font-weight="bold" fill="#e0392b" text-anchor="middle">T</text>
<text x="1335.2" y="1854.5" font-size="10.5" font-weight="bold" fill="#3fae3a" text-anchor="middle">A</text>
<text x="1350.7" y="1854.5" font-size="10.5" font-weight="bold" fill="#3fae3a" text-anchor="middle">A</text>
<text x="1364.5" y="1854.5" font-size="10.5" font-weight="bold" fill="#3fae3a" text-anchor="middle">A</text>
<text x="1378.2" y="1854.5" font-size="10.5" font-weight="bold" fill="#4a64c8" text-anchor="middle">C</text>
<text x="1391.6" y="1854.5" font-size="10.5" font-weight="bold" fill="#4a64c8" text-anchor="middle">C</text>
<text x="1403.9" y="1854.5" font-size="10.5" font-weight="bold" fill="#3fae3a" text-anchor="middle">A</text>
<text x="1420" y="1854.5" font-size="10.5" font-weight="bold" fill="#111111" text-anchor="middle">G</text>
<text x="1435.5" y="1854.5" font-size="10.5" font-weight="bold" fill="#e0392b" text-anchor="middle">T</text>
<text x="1450.1" y="1854.5" font-size="10.5" font-weight="bold" fill="#4a64c8" text-anchor="middle">C</text>
<text x="1464" y="1854.5" font-size="10.5" font-weight="bold" fill="#4a64c8" text-anchor="middle">C</text>
<text x="1478.4" y="1854.5" font-size="10.5" font-weight="bold" fill="#111111" text-anchor="middle">G</text>
<text x="1493" y="1854.5" font-size="10.5" font-weight="bold" fill="#e0392b" text-anchor="middle">T</text>
<text x="1508.5" y="1854.5" font-size="10.5" font-weight="bold" fill="#e0392b" text-anchor="middle">T</text>
<text x="1521.4" y="1854.5" font-size="10.5" font-weight="bold" fill="#4a64c8" text-anchor="middle">C</text>
<text x="1535.4" y="1854.5" font-size="10.5" font-weight="bold" fill="#4a64c8" text-anchor="middle">C</text>
<text x="1547.7" y="1854.5" font-size="10.5" font-weight="bold" fill="#4a64c8" text-anchor="middle">C</text>
<text x="1559.4" y="1854.5" font-size="10.5" font-weight="bold" fill="#3fae3a" text-anchor="middle">A</text>
<text x="1571.9" y="1854.5" font-size="10.5" font-weight="bold" fill="#3fae3a" text-anchor="middle">A</text>
<text x="1147.7" y="1886.5" font-size="30" textLength="70.43" lengthAdjust="spacingAndGlyphs" font-style="italic" fill="#d9302a" stroke="#d9302a" stroke-width="0.3">intron</text>
<path d="M1218.3 1888.5L1236.6 1858.1L1254.9 1888.5Z" fill="#dd2a22"/>
<text x="1468.6" y="1886.5" font-size="30" textLength="62.27" lengthAdjust="spacingAndGlyphs" font-style="italic" fill="#555555" stroke="#555555" stroke-width="0.3">exon</text>
<text x="1.1" y="1664.8" font-size="43" textLength="29.94" lengthAdjust="spacingAndGlyphs" font-weight="bold">d</text>
<rect x="50.8" y="1662.1" width="314.7" height="315.4" fill="none" stroke="#b35f4b" stroke-width="1.3"/><rect x="90.8" y="1676.6" width="224.4" height="29.9" fill="none" stroke="#b35f4b" stroke-width="1.2"/><text x="98.2" y="1687.8" font-size="10.4" font-family="'DejaVu Sans', sans-serif" fill="#2d3584" textLength="210.75" lengthAdjust="spacingAndGlyphs">Specimen_001_ABE egfr g1_006.fcs</text><text x="179.6" y="1701.9" font-size="10.4" font-family="'DejaVu Sans', sans-serif" fill="#2d3584" textLength="47.44" lengthAdjust="spacingAndGlyphs">No Gate</text>
<path d="M336.8 1779.6h0m-56 16h0m6.4 6.4h0m28.8 0h0m17.6 3.2h0m-70.4 3.2h0m14.4 4.8h0m-27.2 1.6h0m68.8 0h0m24 3.2h0m-22.4 1.6h0m-145.6 1.6h0m59.2 0h0m44.8 0h0m11.2 0h0m41.6 1.6h0m-65.6 1.6h0m4.8 0h0m22.4 0h0m8 0h0m-4.8 1.6h0m-35.2 1.6h0m35.2 0h0m11.2 0h0m35.2 0h0m-128 3.2h0m68.8 0h0m16 0h0m28.8 0h0m1.6 1.6h0m9.6 0h0m-51.2 3.2h0m9.6 0h0m3.2 0h0m1.6 0h0m6.4 0h0m-116.8 1.6h0m64 0h0m3.2 0h0m20.8 0h0m1.6 0h0m40 1.6h0m-86.4 1.6h0m12.8 0h0m9.6 1.6h0m4.8 0h0m27.2 0h0m-78.4 1.6h0m19.2 0h0m22.4 0h0m1.6 0h0m4.8 0h0m8 0h0m11.2 0h0m-14.4 1.6h0m-9.6 1.6h0m20.8 0h0m49.6 0h0m-176 1.6h0m54.4 0h0m72 0h0m57.6 0h0m-8 3.2h0m1.6 0h0m9.6 0h0m-121.6 1.6h0m3.2 0h0m35.2 0h0m9.6 0h0m59.2 0h0m-115.2 3.2h0m123.2 0h0m3.2 0h0m-174.4 1.6h0m43.2 0h0m22.4 1.6h0m28.8 1.6h0m67.2 0h0m-156.8 1.6h0m24 0h0m43.2 0h0m1.6 0h0m6.4 0h0m4.8 0h0m88 0h0m-137.6 1.6h0m118.4 0h0m14.4 1.6h0m-166.4 1.6h0m16 0h0m33.6 0h0m9.6 0h0m4.8 0h0m8 0h0m-44.8 1.6h0m44.8 0h0m70.4 0h0m-132.8 1.6h0m136 0h0m9.6 0h0m9.6 0h0m-128 1.6h0m25.6 0h0m94.4 0h0m-16 1.6h0m-155.2 1.6h0m52.8 1.6h0m97.6 0h0m4.8 0h0m17.6 0h0m-132.8 1.6h0m19.2 0h0m-33.6 1.6h0m129.6 0h0m6.4 0h0m4.8 0h0m12.8 1.6h0m4.8 0h0m-158.4 1.6h0m14.4 0h0m102.4 0h0m-123.2 1.6h0m19.2 0h0m-72 1.6h0m51.2 0h0m1.6 0h0m107.2 0h0m-113.6 1.6h0m20.8 0h0m-27.2 1.6h0m20.8 0h0m14.4 0h0m78.4 0h0m12.8 0h0m1.6 0h0m-140.8 1.6h0m17.6 0h0m-38.4 1.6h0m148.8 0h0m60.8 1.6h0m-158.4 1.6h0m92.8 0h0m-88 1.6h0m83.2 0h0m-115.2 1.6h0m17.6 3.2h0m4.8 0h0m80 0h0m14.4 0h0m-105.6 1.6h0m104 0h0m41.6 0h0m-136 1.6h0m86.4 0h0m1.6 0h0m11.2 0h0m-16 1.6h0m-116.8 1.6h0m94.4 0h0m56 0h0m-155.2 1.6h0m4.8 0h0m17.6 0h0m72 0h0m3.2 0h0m9.6 0h0m-8 1.6h0m41.6 0h0m-54.4 1.6h0m33.6 0h0m-32 1.6h0m9.6 0h0m9.6 0h0m-17.6 1.6h0m52.8 0h0m-126.4 1.6h0m4.8 0h0m3.2 0h0m6.4 0h0m6.4 0h0m24 0h0m8 0h0m1.6 0h0m9.6 0h0m-60.8 1.6h0m17.6 0h0m6.4 0h0m17.6 1.6h0m-72 1.6h0m32 0h0m16 0h0m1.6 0h0m38.4 0h0m20.8 0h0m-102.4 1.6h0m25.6 1.6h0m14.4 0h0m3.2 0h0m1.6 0h0m30.4 0h0m27.2 0h0" stroke="#1a2580" stroke-width="1.75" stroke-linecap="square" fill="none"/><path d="M312.8 1821.2h0m-9.6 3.2h0m4.8 0h0m3.2 3.2h0m25.6 0h0m-17.6 1.6h0m3.2 0h0m3.2 0h0m-11.2 1.6h0m17.6 0h0m-24 1.6h0m1.6 0h0m19.2 0h0m-28.8 1.6h0m8 0h0m1.6 0h0m1.6 0h0m9.6 0h0m19.2 0h0m-43.2 1.6h0m20.8 0h0m1.6 0h0m-40 1.6h0m4.8 0h0m16 0h0m1.6 0h0m6.4 0h0m3.2 0h0m12.8 0h0m4.8 0h0m-44.8 1.6h0m14.4 0h0m3.2 0h0m6.4 0h0m3.2 0h0m16 0h0m-44.8 1.6h0m9.6 0h0m3.2 0h0m9.6 0h0m4.8 0h0m16 0h0m-38.4 1.6h0m4.8 0h0m30.4 0h0m3.2 0h0m-40 1.6h0m22.4 0h0m16 0h0m11.2 0h0m-81.6 1.6h0m8 0h0m9.6 0h0m17.6 0h0m52.8 0h0m-94.4 1.6h0m30.4 0h0m3.2 0h0m48 0h0m9.6 0h0m-97.6 1.6h0m11.2 0h0m73.6 0h0m9.6 0h0m-57.6 1.6h0m35.2 0h0m3.2 0h0m11.2 0h0m3.2 0h0m-88 1.6h0m4.8 0h0m14.4 0h0m6.4 0h0m8 0h0m40 0h0m12.8 0h0m6.4 0h0m-86.4 1.6h0m72 0h0m6.4 0h0m-88 1.6h0m1.6 0h0m75.2 0h0m1.6 0h0m24 0h0m-92.8 1.6h0m8 0h0m6.4 0h0m52.8 0h0m3.2 0h0m4.8 0h0m-80 1.6h0m14.4 1.6h0m62.4 0h0m-11.2 1.6h0m8 1.6h0m11.2 0h0m-89.6 1.6h0m1.6 0h0m-11.2 1.6h0m1.6 0h0m1.6 0h0m8 0h0m60.8 0h0m9.6 0h0m3.2 0h0m3.2 0h0m-80 1.6h0m65.6 0h0m-108.8 1.6h0m32 0h0m9.6 0h0m72 0h0m-76.8 1.6h0m64 0h0m9.6 0h0m6.4 0h0m-105.6 1.6h0m12.8 0h0m76.8 0h0m-88 1.6h0m86.4 0h0m1.6 0h0m4.8 0h0m-1.6 1.6h0m-108.8 1.6h0m94.4 0h0m9.6 0h0m1.6 0h0m-105.6 1.6h0m-9.6 1.6h0m22.4 0h0m1.6 0h0m78.4 0h0m9.6 0h0m-97.6 1.6h0m92.8 0h0m3.2 0h0m-99.2 1.6h0m1.6 0h0m8 0h0m72 0h0m6.4 0h0m1.6 0h0m-92.8 1.6h0m81.6 0h0m9.6 0h0m1.6 1.6h0m-19.2 1.6h0m16 0h0m-8 1.6h0m3.2 0h0m3.2 0h0m-102.4 1.6h0m9.6 0h0m73.6 1.6h0m6.4 0h0m-4.8 1.6h0m17.6 0h0m-27.2 1.6h0m1.6 0h0m3.2 0h0m1.6 0h0m11.2 0h0m-107.2 1.6h0m8 0h0m80 0h0m-83.2 1.6h0m78.4 0h0m1.6 0h0m14.4 0h0m-97.6 1.6h0m8 0h0m1.6 0h0m78.4 0h0m16 0h0m-96 1.6h0m67.2 0h0m-76.8 1.6h0m6.4 0h0m68.8 0h0m3.2 0h0m-84.8 1.6h0m105.6 0h0m-100.8 1.6h0m4.8 0h0m4.8 0h0m54.4 0h0m-72 1.6h0m1.6 0h0m14.4 0h0m3.2 0h0m51.2 0h0m9.6 0h0m16 0h0m-27.2 1.6h0m3.2 1.6h0m4.8 0h0m-48 3.2h0m17.6 0h0m12.8 0h0m-46.4 1.6h0m14.4 0h0m1.6 0h0m6.4 0h0m9.6 0h0m-59.2 1.6h0m30.4 0h0m9.6 0h0m-19.2 1.6h0m8 0h0m1.6 0h0m4.8 0h0m6.4 0h0m-20.8 1.6h0m11.2 0h0m12.8 0h0m11.2 0h0m4.8 0h0m-35.2 1.6h0m20.8 0h0m36.8 0h0m-52.8 1.6h0m14.4 0h0m35.2 0h0m-70.4 1.6h0" stroke="#21359c" stroke-width="1.75" stroke-linecap="square" fill="none"/><path d="M308 1830.8h0m-9.6 1.6h0m25.6 0h0m-8 1.6h0m6.4 0h0m6.4 0h0m-28.8 1.6h0m12.8 0h0m19.2 0h0m-40 1.6h0m14.4 0h0m-9.6 1.6h0m3.2 0h0m6.4 0h0m3.2 0h0m14.4 0h0m-25.6 1.6h0m3.2 0h0m1.6 0h0m3.2 0h0m4.8 0h0m3.2 0h0m4.8 0h0m14.4 0h0m6.4 0h0m-59.2 1.6h0m4.8 0h0m11.2 0h0m3.2 0h0m3.2 0h0m1.6 0h0m12.8 0h0m1.6 0h0m-27.2 1.6h0m4.8 0h0m1.6 0h0m3.2 0h0m8 0h0m19.2 0h0m-41.6 1.6h0m4.8 0h0m4.8 0h0m14.4 0h0m4.8 0h0m11.2 0h0m3.2 0h0m-41.6 1.6h0m6.4 0h0m11.2 0h0m3.2 0h0m3.2 0h0m1.6 0h0m4.8 0h0m1.6 0h0m-46.4 1.6h0m3.2 0h0m1.6 0h0m3.2 0h0m1.6 0h0m4.8 0h0m1.6 0h0m1.6 0h0m24 0h0m3.2 0h0m1.6 0h0m3.2 0h0m-67.2 1.6h0m19.2 0h0m3.2 0h0m6.4 0h0m22.4 0h0m12.8 0h0m14.4 0h0m-70.4 1.6h0m8 0h0m33.6 0h0m12.8 0h0m-62.4 1.6h0m3.2 0h0m11.2 0h0m3.2 0h0m16 0h0m22.4 0h0m1.6 0h0m1.6 0h0m8 0h0m-80 1.6h0m12.8 0h0m4.8 0h0m6.4 0h0m1.6 0h0m1.6 0h0m49.6 0h0m-62.4 1.6h0m1.6 0h0m6.4 0h0m3.2 0h0m9.6 0h0m32 0h0m3.2 0h0m8 0h0m-59.2 1.6h0m48 0h0m9.6 0h0m-65.6 1.6h0m1.6 0h0m4.8 0h0m3.2 0h0m40 0h0m6.4 0h0m3.2 0h0m-65.6 1.6h0m1.6 0h0m1.6 0h0m8 0h0m1.6 0h0m1.6 0h0m40 0h0m4.8 0h0m3.2 0h0m3.2 0h0m-68.8 1.6h0m3.2 0h0m8 0h0m1.6 0h0m44.8 0h0m3.2 0h0m6.4 0h0m-70.4 1.6h0m60.8 0h0m3.2 0h0m-62.4 1.6h0m52.8 0h0m3.2 0h0m9.6 0h0m3.2 0h0m-73.6 1.6h0m54.4 0h0m11.2 0h0m4.8 0h0m-75.2 1.6h0m3.2 0h0m52.8 0h0m3.2 0h0m-78.4 1.6h0m8 0h0m64 0h0m9.6 0h0m1.6 0h0m14.4 0h0m-84.8 1.6h0m1.6 0h0m54.4 0h0m3.2 0h0m1.6 0h0m8 0h0m1.6 0h0m3.2 0h0m-78.4 1.6h0m60.8 0h0m4.8 0h0m-67.2 1.6h0m65.6 0h0m1.6 0h0m4.8 0h0m-80 1.6h0m68.8 0h0m3.2 0h0m-75.2 1.6h0m1.6 0h0m67.2 0h0m1.6 0h0m1.6 0h0m6.4 0h0m6.4 0h0m-88 1.6h0m4.8 0h0m65.6 0h0m3.2 0h0m3.2 0h0m1.6 0h0m-11.2 1.6h0m1.6 0h0m8 0h0m24 0h0m-105.6 1.6h0m1.6 0h0m65.6 0h0m17.6 0h0m-89.6 1.6h0m1.6 0h0m1.6 0h0m70.4 0h0m-75.2 1.6h0m3.2 0h0m65.6 0h0m1.6 0h0m-73.6 1.6h0m1.6 0h0m68.8 0h0m3.2 0h0m-76.8 1.6h0m1.6 0h0m67.2 0h0m4.8 0h0m1.6 0h0m3.2 0h0m-83.2 1.6h0m1.6 0h0m3.2 0h0m65.6 0h0m-68.8 1.6h0m1.6 0h0m65.6 0h0m4.8 0h0m8 0h0m-94.4 1.6h0m11.2 0h0m68.8 0h0m4.8 0h0m6.4 0h0m-81.6 1.6h0m1.6 0h0m62.4 0h0m1.6 0h0m11.2 0h0m-84.8 1.6h0m70.4 0h0m-65.6 1.6h0m76.8 0h0m-17.6 1.6h0m8 0h0m-72 1.6h0m59.2 0h0m9.6 0h0m-81.6 1.6h0m6.4 0h0m6.4 0h0m54.4 0h0m3.2 0h0m-9.6 1.6h0m1.6 0h0m16 0h0m-78.4 1.6h0m8 0h0m1.6 0h0m46.4 0h0m3.2 0h0m4.8 0h0m-57.6 1.6h0m48 0h0m1.6 0h0m6.4 0h0m-54.4 1.6h0m3.2 0h0m35.2 0h0m4.8 0h0m1.6 0h0m-48 1.6h0m3.2 0h0m3.2 0h0m35.2 0h0m3.2 0h0m-40 1.6h0m1.6 0h0m24 0h0m4.8 0h0m1.6 0h0m-30.4 1.6h0m16 0h0m1.6 0h0m-20.8 1.6h0m3.2 0h0m1.6 0h0m9.6 0h0m4.8 0h0m16 0h0m-35.2 1.6h0m1.6 0h0m1.6 0h0m19.2 0h0m-12.8 1.6h0m30.4 1.6h0" stroke="#2a4db6" stroke-width="1.75" stroke-linecap="square" fill="none"/><path d="M317.6 1838.8h0m-19.2 3.2h0m8 0h0m1.6 0h0m1.6 0h0m3.2 0h0m-12.8 1.6h0m4.8 0h0m1.6 0h0m4.8 0h0m3.2 0h0m-40 1.6h0m4.8 0h0m14.4 0h0m1.6 0h0m4.8 0h0m3.2 0h0m3.2 0h0m3.2 0h0m3.2 0h0m1.6 0h0m4.8 0h0m3.2 0h0m-38.4 1.6h0m1.6 0h0m4.8 0h0m1.6 0h0m1.6 0h0m8 0h0m1.6 0h0m1.6 0h0m19.2 0h0m-38.4 1.6h0m8 0h0m1.6 0h0m1.6 0h0m1.6 0h0m1.6 0h0m1.6 0h0m1.6 0h0m1.6 0h0m1.6 0h0m1.6 0h0m1.6 0h0m1.6 0h0m19.2 0h0m-49.6 1.6h0m6.4 0h0m1.6 0h0m1.6 0h0m1.6 0h0m1.6 0h0m1.6 0h0m1.6 0h0m3.2 0h0m3.2 0h0m3.2 0h0m4.8 0h0m-30.4 1.6h0m1.6 0h0m1.6 0h0m8 0h0m1.6 0h0m6.4 0h0m1.6 0h0m1.6 0h0m1.6 0h0m4.8 0h0m1.6 0h0m3.2 0h0m-38.4 1.6h0m3.2 0h0m1.6 0h0m1.6 0h0m3.2 0h0m1.6 0h0m14.4 0h0m3.2 0h0m1.6 0h0m1.6 0h0m1.6 0h0m1.6 0h0m6.4 0h0m1.6 0h0m-52.8 1.6h0m6.4 0h0m1.6 0h0m1.6 0h0m1.6 0h0m3.2 0h0m1.6 0h0m14.4 0h0m6.4 0h0m1.6 0h0m1.6 0h0m4.8 0h0m3.2 0h0m-52.8 1.6h0m6.4 0h0m3.2 0h0m3.2 0h0m3.2 0h0m3.2 0h0m1.6 0h0m9.6 0h0m8 0h0m4.8 0h0m1.6 0h0m1.6 0h0m9.6 0h0m-56 1.6h0m9.6 0h0m28.8 0h0m4.8 0h0m1.6 0h0m3.2 0h0m-49.6 1.6h0m3.2 0h0m3.2 0h0m1.6 0h0m1.6 0h0m1.6 0h0m3.2 0h0m6.4 0h0m16 0h0m1.6 0h0m1.6 0h0m3.2 0h0m3.2 0h0m1.6 0h0m1.6 0h0m-52.8 1.6h0m40 0h0m8 0h0m1.6 0h0m-54.4 1.6h0m3.2 0h0m8 0h0m28.8 0h0m6.4 0h0m1.6 0h0m9.6 0h0m-83.2 1.6h0m22.4 0h0m3.2 0h0m1.6 0h0m43.2 0h0m1.6 0h0m1.6 0h0m1.6 0h0m6.4 0h0m-62.4 1.6h0m1.6 0h0m1.6 0h0m38.4 0h0m4.8 0h0m3.2 0h0m3.2 0h0m-57.6 1.6h0m1.6 0h0m1.6 0h0m46.4 0h0m1.6 0h0m6.4 0h0m3.2 0h0m-59.2 1.6h0m46.4 0h0m1.6 1.6h0m3.2 0h0m-8 3.2h0m1.6 0h0m-6.4 1.6h0m1.6 0h0m3.2 0h0m-67.2 1.6h0m1.6 0h0m59.2 0h0m1.6 0h0m-67.2 1.6h0m1.6 0h0m1.6 0h0m59.2 0h0m1.6 0h0m-67.2 1.6h0m62.4 0h0m1.6 0h0m-70.4 1.6h0m4.8 0h0m60.8 0h0m3.2 0h0m-67.2 1.6h0m60.8 0h0m1.6 0h0m-1.6 1.6h0m1.6 0h0m-70.4 1.6h0m64 0h0m8 0h0m-72 1.6h0m-3.2 1.6h0m-3.2 1.6h0m62.4 0h0m3.2 0h0m-72 1.6h0m65.6 0h0m1.6 0h0m-65.6 1.6h0m60.8 0h0m1.6 0h0m1.6 0h0m-6.4 1.6h0m-64 1.6h0m1.6 0h0m-1.6 1.6h0m56 0h0m1.6 0h0m1.6 0h0m-62.4 1.6h0m1.6 0h0m54.4 0h0m3.2 0h0m-60.8 1.6h0m1.6 0h0m52.8 0h0m1.6 0h0m-56 1.6h0m-1.6 1.6h0m1.6 0h0m57.6 0h0m-60.8 1.6h0m1.6 0h0m3.2 0h0m41.6 0h0m-48 1.6h0m1.6 0h0m38.4 0h0m3.2 0h0m-43.2 1.6h0m3.2 0h0m32 0h0m3.2 0h0m1.6 0h0m-40 1.6h0m3.2 0h0m3.2 0h0m17.6 0h0m3.2 0h0m3.2 0h0m4.8 0h0m-40 1.6h0m8 0h0m1.6 0h0m4.8 0h0m8 0h0m4.8 0h0m1.6 0h0m-19.2 1.6h0m1.6 0h0m8 0h0m6.4 0h0m9.6 0h0m-20.8 1.6h0m1.6 0h0m8 0h0m-28.8 3.2h0m41.6 6.4h0" stroke="#2f8ac8" stroke-width="1.75" stroke-linecap="square" fill="none"/><path d="M304.8 1845.2h0m-8 1.6h0m1.6 0h0m1.6 0h0m8 0h0m-25.6 3.2h0m1.6 0h0m14.4 0h0m3.2 0h0m3.2 0h0m4.8 0h0m-24 1.6h0m1.6 0h0m1.6 0h0m1.6 0h0m4.8 0h0m1.6 0h0m1.6 0h0m9.6 0h0m-30.4 1.6h0m6.4 0h0m4.8 0h0m4.8 0h0m1.6 0h0m1.6 0h0m1.6 0h0m1.6 0h0m3.2 0h0m-24 1.6h0m4.8 0h0m1.6 0h0m1.6 0h0m1.6 0h0m1.6 0h0m1.6 0h0m1.6 0h0m1.6 0h0m3.2 0h0m1.6 0h0m1.6 0h0m6.4 0h0m-35.2 1.6h0m3.2 0h0m9.6 0h0m1.6 0h0m3.2 0h0m4.8 0h0m6.4 0h0m1.6 0h0m-35.2 1.6h0m1.6 0h0m3.2 0h0m1.6 0h0m1.6 0h0m1.6 0h0m1.6 0h0m1.6 0h0m3.2 0h0m1.6 0h0m1.6 0h0m4.8 0h0m1.6 0h0m1.6 0h0m1.6 0h0m1.6 0h0m3.2 0h0m1.6 0h0m-30.4 1.6h0m3.2 0h0m1.6 0h0m4.8 0h0m4.8 0h0m3.2 0h0m3.2 0h0m1.6 0h0m6.4 0h0m-36.8 1.6h0m1.6 0h0m3.2 0h0m8 0h0m8 0h0m1.6 0h0m1.6 0h0m3.2 0h0m3.2 0h0m3.2 0h0m1.6 0h0m1.6 0h0m-41.6 1.6h0m1.6 0h0m3.2 0h0m3.2 0h0m14.4 0h0m1.6 0h0m6.4 0h0m4.8 0h0m6.4 0h0m-46.4 1.6h0m3.2 0h0m1.6 0h0m27.2 0h0m3.2 0h0m1.6 0h0m3.2 0h0m-43.2 1.6h0m1.6 0h0m30.4 0h0m1.6 0h0m4.8 0h0m3.2 0h0m-48 1.6h0m1.6 0h0m1.6 0h0m35.2 0h0m3.2 0h0m1.6 0h0m6.4 0h0m1.6 0h0m-57.6 1.6h0m1.6 0h0m3.2 0h0m38.4 0h0m3.2 0h0m6.4 0h0m-56 1.6h0m1.6 0h0m1.6 0h0m43.2 0h0m1.6 0h0m1.6 0h0m3.2 0h0m-57.6 1.6h0m1.6 0h0m1.6 0h0m51.2 0h0m-54.4 1.6h0m48 0h0m1.6 0h0m1.6 0h0m-59.2 1.6h0m1.6 0h0m54.4 0h0m-57.6 1.6h0m1.6 0h0m52.8 0h0m1.6 0h0m-59.2 1.6h0m54.4 0h0m1.6 0h0m-59.2 1.6h0m56 0h0m-60.8 1.6h0m56 0h0m4.8 0h0m-64 1.6h0m1.6 0h0m-6.4 1.6h0m4.8 0h0m56 0h0m1.6 0h0m-62.4 1.6h0m57.6 0h0m3.2 0h0m-67.2 1.6h0m3.2 0h0m59.2 0h0m1.6 0h0m-6.4 1.6h0m1.6 0h0m1.6 0h0m-64 1.6h0m57.6 0h0m1.6 0h0m-62.4 1.6h0m1.6 0h0m-3.2 1.6h0m-1.6 1.6h0m-3.2 1.6h0m1.6 0h0m56 0h0m-59.2 1.6h0m52.8 0h0m-54.4 1.6h0m1.6 0h0m52.8 0h0m-56 1.6h0m1.6 0h0m46.4 0h0m1.6 0h0m-49.6 1.6h0m46.4 0h0m-48 1.6h0m40 0h0m3.2 0h0m-8 1.6h0m1.6 0h0m1.6 0h0m-41.6 1.6h0m1.6 0h0m1.6 0h0m1.6 0h0m27.2 0h0m6.4 0h0m-36.8 1.6h0m1.6 0h0m20.8 0h0m3.2 0h0m1.6 0h0m1.6 0h0m-28.8 1.6h0m3.2 0h0m3.2 0h0m14.4 0h0m3.2 0h0m-32 1.6h0m9.6 0h0m1.6 0h0m3.2 0h0m3.2 0h0m1.6 0h0m3.2 0h0m1.6 0h0m-9.6 1.6h0m1.6 0h0m3.2 0h0" stroke="#34b0b0" stroke-width="1.75" stroke-linecap="square" fill="none"/><path d="M292 1853.2h0m-8 3.2h0m4.8 0h0m4.8 0h0m4.8 0h0m-16 1.6h0m6.4 0h0m1.6 0h0m-11.2 1.6h0m4.8 0h0m1.6 0h0m3.2 0h0m3.2 0h0m-24 1.6h0m3.2 0h0m1.6 0h0m1.6 0h0m1.6 0h0m3.2 0h0m1.6 0h0m1.6 0h0m1.6 0h0m6.4 0h0m3.2 0h0m-24 1.6h0m4.8 0h0m3.2 0h0m1.6 0h0m1.6 0h0m6.4 0h0m6.4 0h0m3.2 0h0m-40 1.6h0m4.8 0h0m6.4 0h0m1.6 0h0m8 0h0m1.6 0h0m1.6 0h0m1.6 0h0m1.6 0h0m1.6 0h0m3.2 0h0m4.8 0h0m-43.2 1.6h0m4.8 0h0m1.6 0h0m1.6 0h0m16 0h0m6.4 0h0m1.6 0h0m6.4 0h0m-36.8 1.6h0m1.6 0h0m27.2 0h0m1.6 0h0m3.2 0h0m-40 1.6h0m1.6 0h0m33.6 0h0m3.2 0h0m3.2 0h0m-46.4 1.6h0m1.6 0h0m38.4 0h0m-43.2 1.6h0m1.6 0h0m40 0h0m1.6 0h0m1.6 0h0m-54.4 1.6h0m1.6 0h0m3.2 0h0m1.6 0h0m43.2 0h0m-51.2 1.6h0m1.6 0h0m1.6 0h0m46.4 0h0m1.6 0h0m-52.8 1.6h0m1.6 0h0m46.4 0h0m1.6 0h0m-54.4 1.6h0m51.2 0h0m-57.6 1.6h0m3.2 0h0m1.6 0h0m49.6 0h0m1.6 0h0m-57.6 1.6h0m1.6 0h0m-3.2 1.6h0m54.4 0h0m-60.8 1.6h0m1.6 0h0m3.2 0h0m52.8 0h0m-60.8 1.6h0m57.6 0h0m-57.6 1.6h0m1.6 0h0m52.8 0h0m1.6 0h0m-60.8 1.6h0m1.6 0h0m-3.2 1.6h0m-1.6 1.6h0m54.4 0h0m1.6 0h0m-59.2 1.6h0m3.2 0h0m51.2 0h0m1.6 0h0m-60.8 1.6h0m3.2 0h0m52.8 0h0m1.6 0h0m-3.2 1.6h0m-56 1.6h0m1.6 0h0m-1.6 1.6h0m46.4 0h0m1.6 0h0m-48 1.6h0m-6.4 1.6h0m3.2 0h0m1.6 0h0m40 0h0m1.6 0h0m-44.8 1.6h0m1.6 0h0m1.6 0h0m3.2 0h0m28.8 0h0m1.6 0h0m3.2 0h0m-43.2 1.6h0m3.2 0h0m3.2 0h0m28.8 0h0m-28.8 1.6h0m6.4 0h0m19.2 0h0m1.6 0h0m-30.4 1.6h0m1.6 0h0m4.8 0h0m1.6 0h0m12.8 0h0m-19.2 1.6h0m3.2 0h0m1.6 0h0m1.6 0h0m1.6 0h0m1.6 0h0m1.6 0h0m1.6 0h0m-9.6 1.6h0" stroke="#3db54a" stroke-width="1.75" stroke-linecap="square" fill="none"/><path d="M296.8 1856.4h0m-30.4 6.4h0m4.8 0h0m1.6 0h0m3.2 0h0m9.6 0h0m3.2 0h0m-25.6 1.6h0m1.6 0h0m1.6 0h0m4.8 0h0m1.6 0h0m1.6 0h0m-14.4 1.6h0m1.6 0h0m1.6 0h0m12.8 0h0m1.6 0h0m1.6 0h0m-28.8 1.6h0m4.8 0h0m3.2 0h0m11.2 0h0m6.4 0h0m1.6 0h0m1.6 0h0m-28.8 1.6h0m27.2 0h0m1.6 0h0m-35.2 1.6h0m1.6 0h0m1.6 0h0m30.4 0h0m1.6 0h0m-43.2 1.6h0m6.4 0h0m32 0h0m1.6 0h0m1.6 0h0m-40 1.6h0m35.2 0h0m1.6 0h0m1.6 0h0m-44.8 1.6h0m41.6 0h0m1.6 0h0m-46.4 1.6h0m41.6 0h0m1.6 0h0m-49.6 1.6h0m1.6 0h0m46.4 0h0m-4.8 1.6h0m-49.6 1.6h0m49.6 0h0m3.2 0h0m-6.4 1.6h0m1.6 0h0m-52.8 1.6h0m-6.4 1.6h0m1.6 0h0m49.6 0h0m1.6 0h0m-3.2 1.6h0m-54.4 1.6h0m1.6 0h0m48 0h0m-52.8 1.6h0m1.6 0h0m51.2 0h0m-54.4 1.6h0m1.6 0h0m49.6 0h0m-54.4 1.6h0m51.2 0h0m-52.8 1.6h0m1.6 0h0m1.6 0h0m44.8 0h0m1.6 0h0m-52.8 1.6h0m1.6 0h0m1.6 0h0m46.4 0h0m1.6 0h0m-8 1.6h0m-44.8 1.6h0m1.6 0h0m-4.8 1.6h0m43.2 0h0m-8 1.6h0m1.6 0h0m1.6 0h0m-36.8 1.6h0m24 0h0m-27.2 1.6h0m3.2 0h0m6.4 0h0m14.4 0h0m3.2 0h0m1.6 0h0m-28.8 1.6h0m4.8 0h0m1.6 0h0m11.2 0h0m1.6 0h0m4.8 0h0m-22.4 1.6h0m1.6 0h0m4.8 0h0m1.6 0h0m1.6 0h0m1.6 0h0m1.6 0h0m1.6 0h0" stroke="#8fcb38" stroke-width="1.75" stroke-linecap="square" fill="none"/><path d="M276 1864.4h0m-11.2 1.6h0m1.6 0h0m1.6 0h0m1.6 0h0m1.6 0h0m-14.4 1.6h0m3.2 0h0m1.6 0h0m4.8 0h0m4.8 0h0m1.6 0h0m1.6 0h0m-25.6 1.6h0m3.2 0h0m1.6 0h0m1.6 0h0m6.4 0h0m9.6 0h0m3.2 0h0m1.6 0h0m-27.2 1.6h0m1.6 0h0m20.8 0h0m1.6 0h0m1.6 0h0m1.6 0h0m-35.2 1.6h0m3.2 0h0m28.8 0h0m-36.8 1.6h0m35.2 0h0m-38.4 1.6h0m36.8 0h0m1.6 0h0m-3.2 1.6h0m-41.6 1.6h0m38.4 0h0m1.6 0h0m-46.4 1.6h0m1.6 0h0m44.8 0h0m-49.6 1.6h0m46.4 0h0m-51.2 1.6h0m1.6 0h0m1.6 0h0m43.2 0h0m1.6 0h0m-1.6 1.6h0m1.6 0h0m-52.8 1.6h0m1.6 0h0m41.6 1.6h0m1.6 0h0m-49.6 1.6h0m1.6 0h0m46.4 0h0m1.6 0h0m-52.8 1.6h0m46.4 0h0m1.6 0h0m-49.6 1.6h0m46.4 0h0m-49.6 1.6h0m3.2 0h0m41.6 0h0m1.6 0h0m-6.4 1.6h0m1.6 0h0m-1.6 1.6h0m-48 1.6h0m1.6 0h0m1.6 0h0m41.6 0h0m1.6 0h0m-44.8 1.6h0m36.8 0h0m1.6 0h0m1.6 0h0m-43.2 1.6h0m1.6 0h0m35.2 0h0m1.6 0h0m-40 1.6h0m1.6 0h0m1.6 0h0m1.6 0h0m14.4 0h0m11.2 0h0m1.6 0h0m-28.8 1.6h0m4.8 0h0m17.6 0h0m3.2 0h0m-27.2 1.6h0m1.6 0h0m4.8 0h0m6.4 0h0m1.6 0h0m3.2 0h0m3.2 0h0m-22.4 1.6h0m6.4 0h0m1.6 0h0m3.2 0h0m1.6 0h0m4.8 0h0m1.6 0h0" stroke="#e7e51f" stroke-width="1.75" stroke-linecap="square" fill="none"/><path d="M272.8 1866h0m-9.6 1.6h0m1.6 0h0m3.2 0h0m-11.2 1.6h0m1.6 0h0m1.6 0h0m3.2 0h0m1.6 0h0m3.2 0h0m1.6 0h0m3.2 0h0m-20.8 1.6h0m4.8 0h0m9.6 0h0m1.6 0h0m1.6 0h0m-24 1.6h0m1.6 0h0m3.2 0h0m16 0h0m1.6 0h0m1.6 0h0m1.6 0h0m-32 1.6h0m1.6 0h0m3.2 0h0m25.6 0h0m-35.2 1.6h0m1.6 0h0m1.6 0h0m1.6 0h0m28.8 0h0m-38.4 1.6h0m1.6 0h0m1.6 0h0m33.6 0h0m-41.6 1.6h0m3.2 0h0m35.2 0h0m4.8 0h0m-44.8 1.6h0m36.8 0h0m1.6 0h0m1.6 0h0m-44.8 1.6h0m1.6 0h0m40 0h0m1.6 0h0m-44.8 1.6h0m40 0h0m-44.8 1.6h0m41.6 0h0m1.6 0h0m1.6 0h0m-4.8 1.6h0m1.6 0h0m-49.6 1.6h0m1.6 0h0m43.2 0h0m-41.6 1.6h0m38.4 0h0m1.6 0h0m-44.8 1.6h0m1.6 0h0m40 0h0m-44.8 1.6h0m3.2 0h0m36.8 0h0m1.6 0h0m1.6 0h0m-46.4 1.6h0m41.6 0h0m-43.2 1.6h0m4.8 0h0m33.6 0h0m-41.6 1.6h0m1.6 0h0m38.4 0h0m1.6 0h0m-40 1.6h0m1.6 0h0m27.2 0h0m3.2 0h0m1.6 0h0m1.6 0h0m-38.4 1.6h0m1.6 0h0m28.8 0h0m1.6 0h0m1.6 0h0m-35.2 1.6h0m1.6 0h0m3.2 0h0m25.6 0h0m1.6 0h0m-30.4 1.6h0m3.2 0h0m1.6 0h0m16 0h0m1.6 0h0m-24 1.6h0m1.6 0h0m3.2 0h0m3.2 0h0m1.6 0h0m1.6 0h0m1.6 0h0m1.6 0h0m1.6 0h0m1.6 0h0m4.8 0h0m-22.4 1.6h0m6.4 0h0m1.6 0h0m4.8 0h0m-8 1.6h0" stroke="#f6c21e" stroke-width="1.75" stroke-linecap="square" fill="none"/><path d="M266.4 1869.2h0m-12.8 1.6h0m1.6 0h0m3.2 0h0m1.6 0h0m1.6 0h0m3.2 0h0m-16 1.6h0m3.2 0h0m1.6 0h0m1.6 0h0m1.6 0h0m1.6 0h0m1.6 0h0m1.6 0h0m3.2 0h0m-22.4 1.6h0m3.2 0h0m1.6 0h0m11.2 0h0m1.6 0h0m3.2 0h0m1.6 0h0m1.6 0h0m1.6 0h0m-25.6 1.6h0m1.6 0h0m17.6 0h0m1.6 0h0m1.6 0h0m1.6 0h0m-32 1.6h0m1.6 0h0m3.2 0h0m22.4 0h0m1.6 0h0m1.6 0h0m-35.2 1.6h0m4.8 0h0m25.6 0h0m1.6 0h0m-36.8 1.6h0m1.6 0h0m1.6 0h0m1.6 0h0m-8 1.6h0m1.6 0h0m1.6 0h0m1.6 0h0m28.8 0h0m1.6 0h0m1.6 0h0m-40 1.6h0m1.6 0h0m33.6 0h0m1.6 0h0m-41.6 1.6h0m1.6 0h0m1.6 0h0m1.6 0h0m33.6 0h0m-41.6 1.6h0m1.6 0h0m1.6 0h0m1.6 0h0m33.6 0h0m1.6 0h0m-43.2 1.6h0m1.6 0h0m1.6 0h0m6.4 0h0m30.4 0h0m-41.6 1.6h0m3.2 0h0m33.6 0h0m1.6 0h0m-43.2 1.6h0m6.4 0h0m32 0h0m1.6 0h0m1.6 0h0m-41.6 1.6h0m19.2 0h0m3.2 0h0m12.8 0h0m-36.8 1.6h0m1.6 0h0m3.2 0h0m30.4 0h0m1.6 0h0m-38.4 1.6h0m27.2 0h0m4.8 0h0m1.6 0h0m-36.8 1.6h0m1.6 0h0m3.2 0h0m1.6 0h0m20.8 0h0m3.2 0h0m3.2 0h0m1.6 0h0m-38.4 1.6h0m17.6 0h0m4.8 0h0m9.6 0h0m-30.4 1.6h0m1.6 0h0m3.2 0h0m1.6 0h0m1.6 0h0m12.8 0h0m1.6 0h0m3.2 0h0m-24 1.6h0m3.2 0h0m1.6 0h0m1.6 0h0m4.8 0h0m1.6 0h0m1.6 0h0m1.6 0h0m1.6 0h0m1.6 0h0m1.6 0h0m1.6 0h0m-25.6 1.6h0m4.8 0h0m1.6 0h0m1.6 0h0m1.6 0h0m3.2 0h0m1.6 0h0m1.6 0h0m1.6 0h0m-14.4 1.6h0m-1.6 1.6h0" stroke="#f3841f" stroke-width="1.75" stroke-linecap="square" fill="none"/><path d="M263.2 1870.8h0m0 1.6h0m-14.4 1.6h0m1.6 0h0m1.6 0h0m1.6 0h0m1.6 0h0m1.6 0h0m4.8 0h0m-20.8 1.6h0m4.8 0h0m1.6 0h0m1.6 0h0m1.6 0h0m1.6 0h0m1.6 0h0m1.6 0h0m1.6 0h0m1.6 0h0m1.6 0h0m-22.4 1.6h0m3.2 0h0m1.6 0h0m1.6 0h0m1.6 0h0m1.6 0h0m1.6 0h0m1.6 0h0m1.6 0h0m1.6 0h0m1.6 0h0m1.6 0h0m1.6 0h0m1.6 0h0m-28.8 1.6h0m1.6 0h0m3.2 0h0m1.6 0h0m1.6 0h0m1.6 0h0m1.6 0h0m1.6 0h0m1.6 0h0m1.6 0h0m1.6 0h0m1.6 0h0m1.6 0h0m1.6 0h0m1.6 0h0m1.6 0h0m1.6 0h0m-27.2 1.6h0m1.6 0h0m1.6 0h0m1.6 0h0m1.6 0h0m1.6 0h0m1.6 0h0m1.6 0h0m1.6 0h0m1.6 0h0m1.6 0h0m1.6 0h0m1.6 0h0m1.6 0h0m1.6 0h0m1.6 0h0m1.6 0h0m1.6 0h0m-30.4 1.6h0m1.6 0h0m1.6 0h0m1.6 0h0m1.6 0h0m1.6 0h0m1.6 0h0m1.6 0h0m1.6 0h0m1.6 0h0m1.6 0h0m1.6 0h0m1.6 0h0m1.6 0h0m1.6 0h0m1.6 0h0m1.6 0h0m-32 1.6h0m1.6 0h0m1.6 0h0m1.6 0h0m1.6 0h0m1.6 0h0m1.6 0h0m1.6 0h0m1.6 0h0m1.6 0h0m1.6 0h0m1.6 0h0m1.6 0h0m1.6 0h0m1.6 0h0m1.6 0h0m1.6 0h0m1.6 0h0m1.6 0h0m1.6 0h0m-32 1.6h0m1.6 0h0m1.6 0h0m1.6 0h0m1.6 0h0m1.6 0h0m1.6 0h0m1.6 0h0m1.6 0h0m1.6 0h0m1.6 0h0m1.6 0h0m1.6 0h0m1.6 0h0m1.6 0h0m1.6 0h0m1.6 0h0m1.6 0h0m1.6 0h0m1.6 0h0m-33.6 1.6h0m1.6 0h0m1.6 0h0m1.6 0h0m1.6 0h0m1.6 0h0m1.6 0h0m1.6 0h0m1.6 0h0m1.6 0h0m1.6 0h0m1.6 0h0m1.6 0h0m1.6 0h0m1.6 0h0m1.6 0h0m1.6 0h0m1.6 0h0m1.6 0h0m1.6 0h0m-35.2 1.6h0m1.6 0h0m1.6 0h0m3.2 0h0m1.6 0h0m1.6 0h0m1.6 0h0m1.6 0h0m1.6 0h0m1.6 0h0m1.6 0h0m1.6 0h0m1.6 0h0m1.6 0h0m1.6 0h0m1.6 0h0m1.6 0h0m1.6 0h0m1.6 0h0m1.6 0h0m1.6 0h0m-35.2 1.6h0m1.6 0h0m1.6 0h0m1.6 0h0m1.6 0h0m1.6 0h0m1.6 0h0m1.6 0h0m1.6 0h0m1.6 0h0m1.6 0h0m1.6 0h0m1.6 0h0m1.6 0h0m1.6 0h0m1.6 0h0m1.6 0h0m1.6 0h0m1.6 0h0m1.6 0h0m-35.2 1.6h0m3.2 0h0m1.6 0h0m1.6 0h0m1.6 0h0m1.6 0h0m1.6 0h0m1.6 0h0m1.6 0h0m1.6 0h0m1.6 0h0m1.6 0h0m1.6 0h0m1.6 0h0m1.6 0h0m1.6 0h0m1.6 0h0m1.6 0h0m1.6 0h0m1.6 0h0m-33.6 1.6h0m1.6 0h0m1.6 0h0m1.6 0h0m1.6 0h0m1.6 0h0m1.6 0h0m1.6 0h0m1.6 0h0m1.6 0h0m3.2 0h0m3.2 0h0m1.6 0h0m1.6 0h0m1.6 0h0m1.6 0h0m1.6 0h0m1.6 0h0m3.2 0h0m-35.2 1.6h0m3.2 0h0m1.6 0h0m1.6 0h0m1.6 0h0m1.6 0h0m1.6 0h0m1.6 0h0m1.6 0h0m1.6 0h0m1.6 0h0m1.6 0h0m1.6 0h0m1.6 0h0m1.6 0h0m1.6 0h0m1.6 0h0m1.6 0h0m1.6 0h0m-36.8 1.6h0m4.8 0h0m1.6 0h0m1.6 0h0m1.6 0h0m1.6 0h0m1.6 0h0m1.6 0h0m1.6 0h0m1.6 0h0m1.6 0h0m1.6 0h0m1.6 0h0m1.6 0h0m1.6 0h0m1.6 0h0m3.2 0h0m1.6 0h0m-30.4 1.6h0m4.8 0h0m1.6 0h0m1.6 0h0m1.6 0h0m1.6 0h0m1.6 0h0m1.6 0h0m1.6 0h0m1.6 0h0m1.6 0h0m1.6 0h0m1.6 0h0m3.2 0h0m3.2 0h0m-30.4 1.6h0m1.6 0h0m1.6 0h0m1.6 0h0m1.6 0h0m1.6 0h0m1.6 0h0m1.6 0h0m3.2 0h0m1.6 0h0m3.2 0h0m1.6 0h0m1.6 0h0m1.6 0h0m-24 1.6h0m6.4 0h0m1.6 0h0m1.6 0h0m1.6 0h0m1.6 0h0m1.6 0h0m1.6 0h0m4.8 0h0m-25.6 1.6h0m4.8 0h0m6.4 0h0m1.6 0h0" stroke="#e3281b" stroke-width="1.75" stroke-linecap="square" fill="none"/>
<path d="M344.5 1731V1865" stroke="#c8d640" stroke-width="1.2"/>
<path d="M160.4 1893.5L197.4 1859.6L284.8 1824.2L333.1 1848.3L319.8 1882.2L251.9 1908.9L172.7 1919.2Z" fill="none" stroke="#e0402f" stroke-width="1.3"/>
<path d="M111 1717.5V1929.5H346.1" fill="none" stroke="#1d2454" stroke-width="2.0"/>
<path d="M111 1929.5v5M125.8 1929.5v3.2M140.7 1929.5v3.2M155.5 1929.5v3.2M170.3 1929.5v5M184.9 1929.5v3.2M199.5 1929.5v3.2M214.1 1929.5v3.2M228.7 1929.5v5M243.4 1929.5v3.2M258.1 1929.5v3.2M272.8 1929.5v3.2M287.5 1929.5v5M302.1 1929.5v3.2M316.8 1929.5v3.2M331.5 1929.5v3.2M346.1 1929.5v5M111 1929.5h-5M111 1916.8h-3.2M111 1904.1h-3.2M111 1891.4h-3.2M111 1878.7h-5M111 1865.4h-3.2M111 1852.2h-3.2M111 1838.9h-3.2M111 1825.6h-5M111 1812.3h-3.2M111 1799.1h-3.2M111 1785.8h-3.2M111 1772.6h-5M111 1759.6h-3.2M111 1746.7h-3.2M111 1733.8h-3.2M111 1720.8h-5" stroke="#1d2454" stroke-width="1.3" fill="none"/><text x="107.6" y="1945.9" font-size="10.2" font-family="'DejaVu Sans', sans-serif" fill="#2d3584" textLength="6.81" lengthAdjust="spacingAndGlyphs">0</text><text x="158.5" y="1945.9" font-size="10.2" font-family="'DejaVu Sans', sans-serif" fill="#2d3584" textLength="23.85" lengthAdjust="spacingAndGlyphs">65.5</text><text x="213.3" y="1945.9" font-size="10.2" font-family="'DejaVu Sans', sans-serif" fill="#2d3584" textLength="30.66" lengthAdjust="spacingAndGlyphs">131.1</text><text x="271.9" y="1945.9" font-size="10.2" font-family="'DejaVu Sans', sans-serif" fill="#2d3584" textLength="30.66" lengthAdjust="spacingAndGlyphs">196.6</text><text x="330.9" y="1945.9" font-size="10.2" font-family="'DejaVu Sans', sans-serif" fill="#2d3584" textLength="30.66" lengthAdjust="spacingAndGlyphs">262.1</text><text x="100.4" y="1933.1" font-size="10.2" font-family="'DejaVu Sans', sans-serif" fill="#2d3584" textLength="6.81" lengthAdjust="spacingAndGlyphs">0</text><text x="83.6" y="1882.3" font-size="10.2" font-family="'DejaVu Sans', sans-serif" fill="#2d3584" textLength="23.85" lengthAdjust="spacingAndGlyphs">65.5</text><text x="76.8" y="1829.2" font-size="10.2" font-family="'DejaVu Sans', sans-serif" fill="#2d3584" textLength="30.66" lengthAdjust="spacingAndGlyphs">131.1</text><text x="76.5" y="1776.2" font-size="10.2" font-family="'DejaVu Sans', sans-serif" fill="#2d3584" textLength="30.66" lengthAdjust="spacingAndGlyphs">196.6</text><text x="76.8" y="1724.4" font-size="10.2" font-family="'DejaVu Sans', sans-serif" fill="#2d3584" textLength="30.66" lengthAdjust="spacingAndGlyphs">262.1</text>
<text x="176" y="1960.3" font-size="13" font-family="'DejaVu Sans', sans-serif" fill="#2d3584" textLength="102.82" lengthAdjust="spacingAndGlyphs">FSC-A (x 1000)</text>
<text transform="translate(73 1876) rotate(-90)" x="-0.91" y="0" font-size="13" font-family="'DejaVu Sans', sans-serif" fill="#2d3584" textLength="103.89" lengthAdjust="spacingAndGlyphs">SSC-A (x 1000)</text>
<text x="219.3" y="1794.4" font-size="13.5" textLength="43.64" lengthAdjust="spacingAndGlyphs" fill="#e0402f">Gate 1</text>
<text x="218.9" y="1810.2" font-size="13.5" textLength="48.89" lengthAdjust="spacingAndGlyphs" fill="#e0402f">92.20%</text>
<rect x="378.9" y="1662.1" width="315.7" height="315" fill="none" stroke="#b35f4b" stroke-width="1.3"/><rect x="419.6" y="1676.4" width="225" height="30.4" fill="none" stroke="#b35f4b" stroke-width="1.2"/><text x="426.3" y="1687.9" font-size="10.4" font-family="'DejaVu Sans', sans-serif" fill="#2d3584" textLength="211.76" lengthAdjust="spacingAndGlyphs">Specimen_001_ABE egfr g1_006.fcs</text><text x="512.3" y="1701.8" font-size="10.4" font-family="'DejaVu Sans', sans-serif" fill="#2d3584" textLength="39.01" lengthAdjust="spacingAndGlyphs">Gate 1</text>
<path d="M630.6 1792.4h0m-3.2 9.6h0m40 0h0m-32 1.6h0m12.8 0h0m-40 1.6h0m12.8 0h0m-4.8 1.6h0m35.2 0h0m-49.6 3.2h0m3.2 0h0m1.6 0h0m22.4 0h0m-27.2 1.6h0m-43.2 1.6h0m28.8 0h0m19.2 0h0m40 0h0m-51.2 1.6h0m1.6 0h0m1.6 0h0m-16 1.6h0m60.8 0h0m6.4 0h0m-172.8 1.6h0m105.6 0h0m80 0h0m-92.8 1.6h0m65.6 0h0m25.6 0h0m-126.4 1.6h0m40 0h0m49.6 1.6h0m8 0h0m19.2 0h0m-76.8 1.6h0m1.6 0h0m52.8 0h0m6.4 0h0m-78.4 1.6h0m60.8 0h0m3.2 0h0m-43.2 1.6h0m-9.6 1.6h0m1.6 0h0m12.8 0h0m27.2 0h0m-80 1.6h0m30.4 0h0m4.8 0h0m14.4 0h0m-12.8 1.6h0m11.2 0h0m27.2 0h0m12.8 0h0m-60.8 1.6h0m1.6 0h0m14.4 1.6h0m6.4 0h0m12.8 0h0m-12.8 1.6h0m11.2 0h0m35.2 0h0m-60.8 1.6h0m33.6 0h0m6.4 0h0m44.8 0h0m-81.6 1.6h0m4.8 0h0m12.8 0h0m60.8 0h0m-131.2 1.6h0m38.4 0h0m8 0h0m36.8 0h0m-88 1.6h0m56 0h0m17.6 0h0m8 0h0m70.4 0h0m4.8 0h0m-160 1.6h0m56 0h0m27.2 0h0m-17.6 1.6h0m86.4 0h0m-118.4 1.6h0m3.2 0h0m-52.8 1.6h0m17.6 0h0m38.4 0h0m120 0h0m-161.6 1.6h0m4.8 0h0m8 0h0m-41.6 1.6h0m30.4 0h0m4.8 0h0m121.6 0h0m1.6 0h0m16 0h0m-22.4 1.6h0m-4.8 1.6h0m4.8 0h0m-140.8 1.6h0m-12.8 1.6h0m11.2 0h0m120 0h0m-155.2 1.6h0m33.6 0h0m118.4 0h0m20.8 0h0m-145.6 1.6h0m-14.4 1.6h0m100.8 0h0m20.8 0h0m16 0h0m-51.2 1.6h0m11.2 0h0m8 0h0m25.6 0h0m11.2 0h0m-160 1.6h0m9.6 0h0m81.6 0h0m8 0h0m11.2 0h0m-115.2 1.6h0m113.6 1.6h0m-1.6 1.6h0m-97.6 1.6h0m46.4 0h0m-36.8 1.6h0m105.6 1.6h0m-27.2 3.2h0m-73.6 8h0m184 0h0" stroke="#1a2580" stroke-width="1.75" stroke-linecap="square" fill="none"/><path d="M617.8 1805.2h0m4.8 3.2h0m1.6 0h0m-12.8 1.6h0m1.6 0h0m1.6 0h0m4.8 0h0m1.6 0h0m9.6 0h0m4.8 0h0m-25.6 1.6h0m3.2 0h0m4.8 0h0m6.4 0h0m14.4 0h0m1.6 0h0m-30.4 1.6h0m33.6 0h0m-52.8 1.6h0m28.8 0h0m9.6 0h0m1.6 0h0m1.6 0h0m-33.6 1.6h0m1.6 0h0m4.8 0h0m25.6 0h0m1.6 0h0m4.8 0h0m4.8 0h0m-62.4 1.6h0m9.6 0h0m8 0h0m11.2 0h0m22.4 0h0m-41.6 1.6h0m1.6 0h0m20.8 0h0m3.2 0h0m-19.2 1.6h0m20.8 0h0m3.2 0h0m12.8 0h0m-40 1.6h0m9.6 0h0m8 0h0m3.2 0h0m9.6 0h0m-41.6 1.6h0m6.4 0h0m24 0h0m-27.2 1.6h0m3.2 0h0m4.8 0h0m20.8 0h0m14.4 0h0m-65.6 1.6h0m20.8 0h0m4.8 0h0m6.4 0h0m14.4 0h0m3.2 0h0m9.6 0h0m-28.8 1.6h0m4.8 0h0m3.2 0h0m1.6 0h0m1.6 0h0m-14.4 1.6h0m-8 1.6h0m9.6 0h0m12.8 0h0m-35.2 1.6h0m22.4 1.6h0m36.8 0h0m4.8 0h0m-28.8 1.6h0m56 0h0m-43.2 1.6h0m40 0h0m-56 1.6h0m33.6 0h0m19.2 0h0m-57.6 1.6h0m17.6 0h0m19.2 0h0m8 0h0m20.8 0h0m-14.4 1.6h0m3.2 0h0m3.2 0h0m-80 1.6h0m16 0h0m6.4 0h0m6.4 0h0m60.8 0h0m-115.2 1.6h0m14.4 0h0m94.4 0h0m-108.8 1.6h0m1.6 0h0m11.2 0h0m88 0h0m-107.2 1.6h0m113.6 0h0m-139.2 1.6h0m4.8 0h0m14.4 0h0m105.6 0h0m12.8 0h0m-144 1.6h0m1.6 0h0m6.4 0h0m6.4 0h0m-17.6 1.6h0m1.6 0h0m116.8 0h0m8 0h0m-153.6 1.6h0m116.8 3.2h0m6.4 0h0m1.6 0h0m-19.2 1.6h0m1.6 0h0m12.8 0h0m-121.6 1.6h0m96 0h0m9.6 0h0m1.6 0h0m-110.4 1.6h0m3.2 0h0m99.2 0h0m24 0h0m-120 1.6h0m6.4 0h0m1.6 0h0m51.2 0h0m19.2 0h0m28.8 0h0m-84.8 1.6h0m20.8 0h0m6.4 0h0m17.6 0h0m-96 1.6h0m4.8 0h0m68.8 0h0m-78.4 1.6h0m57.6 0h0m40 0h0m-59.2 1.6h0" stroke="#21359c" stroke-width="1.75" stroke-linecap="square" fill="none"/><path d="M597 1810h0m17.6 1.6h0m-12.8 1.6h0m9.6 0h0m3.2 0h0m1.6 0h0m14.4 0h0m-22.4 1.6h0m3.2 0h0m6.4 0h0m-28.8 1.6h0m17.6 0h0m1.6 0h0m1.6 0h0m1.6 0h0m3.2 0h0m3.2 0h0m1.6 0h0m3.2 0h0m1.6 0h0m3.2 0h0m-28.8 1.6h0m3.2 0h0m8 0h0m8 0h0m3.2 0h0m1.6 0h0m-35.2 1.6h0m11.2 0h0m1.6 0h0m6.4 0h0m3.2 0h0m3.2 0h0m3.2 0h0m1.6 0h0m1.6 0h0m3.2 0h0m-25.6 1.6h0m4.8 0h0m6.4 0h0m4.8 0h0m4.8 0h0m9.6 0h0m-41.6 1.6h0m3.2 0h0m6.4 0h0m1.6 0h0m1.6 0h0m9.6 0h0m8 0h0m-25.6 1.6h0m4.8 0h0m3.2 0h0m1.6 0h0m3.2 0h0m3.2 0h0m-32 1.6h0m16 0h0m12.8 0h0m16 0h0m-33.6 1.6h0m3.2 0h0m8 0h0m12.8 0h0m-25.6 1.6h0m3.2 0h0m8 0h0m-11.2 1.6h0m8 0h0m3.2 0h0m-8 1.6h0m-4.8 1.6h0m27.2 4.8h0m17.6 1.6h0m8 0h0m-24 1.6h0m11.2 0h0m14.4 0h0m1.6 0h0m16 0h0m-46.4 1.6h0m4.8 0h0m1.6 0h0m6.4 0h0m6.4 0h0m4.8 0h0m3.2 0h0m4.8 0h0m1.6 0h0m6.4 0h0m-78.4 1.6h0m17.6 0h0m9.6 0h0m3.2 0h0m4.8 0h0m3.2 0h0m3.2 0h0m11.2 0h0m25.6 0h0m6.4 0h0m-9.6 1.6h0m3.2 0h0m-86.4 1.6h0m3.2 0h0m6.4 0h0m1.6 0h0m3.2 0h0m68.8 0h0m1.6 0h0m-100.8 1.6h0m4.8 0h0m1.6 0h0m91.2 0h0m-113.6 1.6h0m-14.4 1.6h0m12.8 0h0m100.8 0h0m8 0h0m11.2 0h0m-137.6 1.6h0m3.2 0h0m1.6 0h0m6.4 0h0m97.6 0h0m17.6 0h0m-137.6 1.6h0m1.6 0h0m3.2 0h0m112 0h0m1.6 0h0m12.8 0h0m-145.6 1.6h0m4.8 0h0m6.4 0h0m6.4 0h0m99.2 0h0m1.6 0h0m9.6 0h0m-20.8 1.6h0m-102.4 1.6h0m1.6 0h0m89.6 0h0m14.4 0h0m-113.6 1.6h0m1.6 0h0m1.6 0h0m70.4 1.6h0m4.8 0h0m1.6 0h0m-83.2 1.6h0m4.8 0h0m6.4 0h0m3.2 0h0m44.8 0h0m8 0h0m-59.2 1.6h0m6.4 0h0m4.8 0h0m1.6 0h0m1.6 0h0m11.2 0h0m3.2 0h0m1.6 0h0m8 0h0m-11.2 1.6h0m-17.6 1.6h0" stroke="#2a4db6" stroke-width="1.75" stroke-linecap="square" fill="none"/><path d="M605 1814.8h0m0 3.2h0m9.6 0h0m-19.2 1.6h0m1.6 0h0m-9.6 1.6h0m16 0h0m1.6 0h0m4.8 0h0m-6.4 1.6h0m-1.6 1.6h0m3.2 0h0m11.2 0h0m-22.4 1.6h0m1.6 1.6h0m-17.6 1.6h0m60.8 11.2h0m-9.6 1.6h0m12.8 0h0m1.6 0h0m-20.8 1.6h0m1.6 0h0m9.6 0h0m3.2 0h0m1.6 0h0m4.8 0h0m-49.6 1.6h0m9.6 0h0m3.2 0h0m6.4 0h0m11.2 0h0m8 0h0m3.2 0h0m3.2 0h0m1.6 0h0m3.2 0h0m1.6 0h0m1.6 0h0m-60.8 1.6h0m3.2 0h0m1.6 0h0m1.6 0h0m3.2 0h0m1.6 0h0m1.6 0h0m32 0h0m12.8 0h0m-75.2 1.6h0m1.6 0h0m4.8 0h0m4.8 0h0m59.2 0h0m1.6 0h0m3.2 0h0m-88 1.6h0m3.2 0h0m1.6 0h0m75.2 0h0m1.6 0h0m3.2 0h0m1.6 0h0m-99.2 1.6h0m84.8 0h0m1.6 0h0m1.6 0h0m1.6 0h0m1.6 0h0m3.2 0h0m-112 1.6h0m1.6 0h0m4.8 0h0m1.6 0h0m91.2 0h0m1.6 0h0m1.6 0h0m4.8 0h0m-115.2 1.6h0m1.6 0h0m1.6 0h0m92.8 0h0m1.6 0h0m1.6 0h0m1.6 0h0m4.8 0h0m-116.8 1.6h0m1.6 0h0m1.6 0h0m3.2 0h0m96 0h0m4.8 0h0m1.6 0h0m-115.2 1.6h0m1.6 0h0m3.2 0h0m91.2 0h0m3.2 0h0m1.6 0h0m-108.8 1.6h0m3.2 0h0m92.8 0h0m6.4 0h0m-113.6 1.6h0m12.8 0h0m-4.8 1.6h0m76.8 0h0m4.8 0h0m-86.4 1.6h0m4.8 0h0m1.6 0h0m1.6 0h0m57.6 0h0m1.6 0h0m3.2 0h0m3.2 0h0m-57.6 1.6h0m8 0h0m1.6 0h0m9.6 0h0m1.6 0h0m1.6 0h0m4.8 0h0m1.6 0h0m4.8 0h0m1.6 0h0m1.6 0h0m-32 1.6h0m16 0h0" stroke="#2f8ac8" stroke-width="1.75" stroke-linecap="square" fill="none"/><path d="M603.4 1819.6h0m16 24h0m11.2 0h0m-20.8 1.6h0m6.4 0h0m1.6 0h0m3.2 0h0m4.8 0h0m1.6 0h0m1.6 0h0m1.6 0h0m3.2 0h0m3.2 0h0m4.8 0h0m-48 1.6h0m9.6 0h0m22.4 0h0m6.4 0h0m1.6 0h0m1.6 0h0m1.6 0h0m1.6 0h0m1.6 0h0m1.6 0h0m-64 1.6h0m9.6 0h0m46.4 0h0m1.6 0h0m1.6 0h0m-83.2 1.6h0m3.2 0h0m4.8 0h0m1.6 0h0m65.6 0h0m1.6 0h0m1.6 0h0m1.6 0h0m4.8 0h0m-97.6 1.6h0m3.2 0h0m3.2 0h0m76.8 0h0m1.6 0h0m-96 1.6h0m4.8 0h0m1.6 0h0m84.8 0h0m1.6 0h0m-97.6 1.6h0m-14.4 1.6h0m3.2 0h0m91.2 0h0m4.8 0h0m-104 1.6h0m1.6 0h0m89.6 0h0m-100.8 1.6h0m1.6 0h0m86.4 0h0m4.8 0h0m-94.4 1.6h0m83.2 0h0m1.6 0h0m-89.6 1.6h0m1.6 0h0m1.6 0h0m1.6 0h0m67.2 0h0m1.6 0h0m3.2 0h0m-72 1.6h0m51.2 0h0m-51.2 1.6h0m1.6 0h0m1.6 0h0m3.2 0h0m4.8 0h0m4.8 0h0m1.6 0h0m3.2 0h0m8 0h0m6.4 0h0m1.6 0h0" stroke="#34b0b0" stroke-width="1.75" stroke-linecap="square" fill="none"/><path d="M614.6 1845.2h0m4.8 0h0m-19.2 1.6h0m1.6 0h0m3.2 0h0m3.2 0h0m1.6 0h0m1.6 0h0m4.8 0h0m8 0h0m3.2 0h0m1.6 0h0m-48 1.6h0m1.6 0h0m3.2 0h0m40 0h0m1.6 0h0m3.2 0h0m1.6 0h0m-67.2 1.6h0m57.6 0h0m1.6 0h0m3.2 0h0m-81.6 1.6h0m3.2 0h0m1.6 0h0m72 0h0m-84.8 1.6h0m76.8 0h0m1.6 0h0m1.6 0h0m1.6 0h0m-96 1.6h0m88 0h0m-92.8 1.6h0m81.6 0h0m1.6 0h0m4.8 0h0m-97.6 1.6h0m83.2 0h0m1.6 0h0m-94.4 1.6h0m83.2 0h0m3.2 0h0m-89.6 1.6h0m1.6 0h0m72 0h0m3.2 0h0m1.6 0h0m1.6 0h0m-80 1.6h0m1.6 0h0m60.8 0h0m-65.6 1.6h0m3.2 0h0m1.6 0h0m1.6 0h0m3.2 0h0m35.2 0h0m3.2 0h0m1.6 0h0m1.6 0h0m3.2 0h0m-44.8 1.6h0m1.6 0h0m9.6 0h0m3.2 0h0m8 0h0" stroke="#3db54a" stroke-width="1.75" stroke-linecap="square" fill="none"/><path d="M606.6 1846.8h0m6.4 0h0m1.6 0h0m3.2 0h0m1.6 0h0m3.2 0h0m-38.4 1.6h0m4.8 0h0m1.6 0h0m1.6 0h0m3.2 0h0m3.2 0h0m6.4 0h0m11.2 0h0m3.2 0h0m1.6 0h0m3.2 0h0m4.8 0h0m-62.4 1.6h0m1.6 0h0m1.6 0h0m51.2 0h0m4.8 0h0m-73.6 1.6h0m1.6 0h0m64 0h0m1.6 0h0m1.6 0h0m-81.6 1.6h0m3.2 0h0m70.4 0h0m-86.4 1.6h0m1.6 0h0m3.2 0h0m75.2 0h0m1.6 0h0m1.6 0h0m-94.4 1.6h0m1.6 0h0m3.2 0h0m78.4 0h0m4.8 0h0m-92.8 1.6h0m4.8 0h0m75.2 0h0m-89.6 1.6h0m1.6 0h0m4.8 0h0m70.4 0h0m1.6 0h0m-16 1.6h0m1.6 0h0m1.6 0h0m1.6 0h0m3.2 0h0m-72 1.6h0m54.4 0h0m1.6 0h0m1.6 0h0m3.2 0h0m-59.2 1.6h0m3.2 0h0m1.6 0h0m4.8 0h0m17.6 0h0m3.2 0h0m3.2 0h0m1.6 0h0" stroke="#8fcb38" stroke-width="1.75" stroke-linecap="square" fill="none"/><path d="M621 1846.8h0m-27.2 1.6h0m3.2 0h0m6.4 0h0m6.4 0h0m4.8 0h0m3.2 0h0m4.8 0h0m-51.2 1.6h0m1.6 0h0m3.2 0h0m1.6 0h0m1.6 0h0m33.6 0h0m3.2 0h0m1.6 0h0m1.6 0h0m-64 1.6h0m1.6 0h0m1.6 0h0m1.6 0h0m1.6 0h0m48 0h0m1.6 0h0m1.6 0h0m1.6 0h0m1.6 0h0m-75.2 1.6h0m4.8 0h0m65.6 0h0m-81.6 1.6h0m8 0h0m67.2 0h0m-83.2 1.6h0m1.6 0h0m3.2 0h0m-14.4 1.6h0m73.6 0h0m1.6 0h0m1.6 0h0m-84.8 1.6h0m1.6 0h0m75.2 0h0m-81.6 1.6h0m1.6 0h0m1.6 0h0m1.6 0h0m1.6 0h0m-4.8 1.6h0m1.6 0h0m1.6 0h0m44.8 0h0m1.6 0h0m1.6 0h0m-44.8 1.6h0m1.6 0h0m3.2 0h0m1.6 0h0m6.4 0h0m1.6 0h0m4.8 0h0m3.2 0h0m3.2 0h0m6.4 0h0" stroke="#e7e51f" stroke-width="1.75" stroke-linecap="square" fill="none"/><path d="M600.2 1848.4h0m1.6 0h0m4.8 0h0m1.6 0h0m3.2 0h0m1.6 0h0m-38.4 1.6h0m6.4 0h0m4.8 0h0m1.6 0h0m4.8 0h0m14.4 0h0m8 0h0m-51.2 1.6h0m44.8 0h0m-64 1.6h0m3.2 0h0m57.6 0h0m3.2 0h0m1.6 0h0m-76.8 1.6h0m1.6 0h0m1.6 0h0m65.6 0h0m1.6 0h0m-78.4 1.6h0m3.2 0h0m64 0h0m1.6 0h0m1.6 0h0m1.6 0h0m-83.2 1.6h0m3.2 0h0m1.6 0h0m1.6 0h0m1.6 0h0m3.2 0h0m59.2 0h0m-75.2 1.6h0m1.6 0h0m4.8 0h0m56 0h0m3.2 0h0m1.6 0h0m-68.8 1.6h0m1.6 0h0m49.6 0h0m1.6 0h0m1.6 0h0m-56 1.6h0m1.6 0h0m1.6 0h0m3.2 0h0m4.8 0h0m20.8 0h0m1.6 0h0m3.2 0h0m1.6 0h0m-28.8 1.6h0m1.6 0h0m1.6 0h0m4.8 0h0" stroke="#f6c21e" stroke-width="1.75" stroke-linecap="square" fill="none"/><path d="M582.6 1850h0m1.6 0h0m4.8 0h0m1.6 0h0m3.2 0h0m1.6 0h0m1.6 0h0m1.6 0h0m1.6 0h0m1.6 0h0m1.6 0h0m4.8 0h0m1.6 0h0m1.6 0h0m-46.4 1.6h0m3.2 0h0m1.6 0h0m1.6 0h0m14.4 0h0m9.6 0h0m1.6 0h0m4.8 0h0m1.6 0h0m3.2 0h0m-57.6 1.6h0m1.6 0h0m1.6 0h0m4.8 0h0m41.6 0h0m1.6 0h0m3.2 0h0m3.2 0h0m-67.2 1.6h0m51.2 0h0m3.2 0h0m3.2 0h0m1.6 0h0m1.6 0h0m-70.4 1.6h0m57.6 0h0m1.6 0h0m1.6 0h0m-67.2 1.6h0m3.2 0h0m1.6 0h0m51.2 0h0m3.2 0h0m-70.4 1.6h0m1.6 0h0m3.2 0h0m4.8 0h0m1.6 0h0m1.6 0h0m36.8 0h0m4.8 0h0m3.2 0h0m3.2 0h0m-62.4 1.6h0m1.6 0h0m1.6 0h0m3.2 0h0m3.2 0h0m33.6 0h0m3.2 0h0m-46.4 1.6h0m3.2 0h0m1.6 0h0m3.2 0h0m1.6 0h0m1.6 0h0m3.2 0h0m1.6 0h0m1.6 0h0m1.6 0h0m1.6 0h0m1.6 0h0m1.6 0h0m1.6 0h0m4.8 0h0m4.8 0h0m1.6 0h0m-22.4 1.6h0" stroke="#f3841f" stroke-width="1.75" stroke-linecap="square" fill="none"/><path d="M605 1850h0m-38.4 1.6h0m6.4 0h0m1.6 0h0m1.6 0h0m1.6 0h0m1.6 0h0m1.6 0h0m1.6 0h0m1.6 0h0m3.2 0h0m1.6 0h0m1.6 0h0m1.6 0h0m1.6 0h0m4.8 0h0m1.6 0h0m4.8 0h0m-51.2 1.6h0m1.6 0h0m3.2 0h0m1.6 0h0m1.6 0h0m1.6 0h0m1.6 0h0m1.6 0h0m1.6 0h0m1.6 0h0m1.6 0h0m1.6 0h0m1.6 0h0m1.6 0h0m1.6 0h0m1.6 0h0m1.6 0h0m1.6 0h0m1.6 0h0m1.6 0h0m1.6 0h0m1.6 0h0m1.6 0h0m1.6 0h0m1.6 0h0m1.6 0h0m1.6 0h0m4.8 0h0m-60.8 1.6h0m1.6 0h0m1.6 0h0m1.6 0h0m1.6 0h0m1.6 0h0m1.6 0h0m1.6 0h0m1.6 0h0m1.6 0h0m1.6 0h0m1.6 0h0m1.6 0h0m1.6 0h0m1.6 0h0m1.6 0h0m1.6 0h0m1.6 0h0m1.6 0h0m1.6 0h0m1.6 0h0m1.6 0h0m1.6 0h0m1.6 0h0m1.6 0h0m1.6 0h0m1.6 0h0m1.6 0h0m1.6 0h0m1.6 0h0m1.6 0h0m3.2 0h0m3.2 0h0m-64 1.6h0m1.6 0h0m1.6 0h0m1.6 0h0m1.6 0h0m1.6 0h0m1.6 0h0m1.6 0h0m1.6 0h0m1.6 0h0m1.6 0h0m1.6 0h0m1.6 0h0m1.6 0h0m1.6 0h0m1.6 0h0m1.6 0h0m1.6 0h0m1.6 0h0m1.6 0h0m1.6 0h0m1.6 0h0m1.6 0h0m1.6 0h0m1.6 0h0m1.6 0h0m1.6 0h0m1.6 0h0m1.6 0h0m1.6 0h0m1.6 0h0m1.6 0h0m1.6 0h0m1.6 0h0m1.6 0h0m-56 1.6h0m1.6 0h0m1.6 0h0m1.6 0h0m1.6 0h0m1.6 0h0m1.6 0h0m1.6 0h0m1.6 0h0m1.6 0h0m1.6 0h0m1.6 0h0m1.6 0h0m1.6 0h0m1.6 0h0m1.6 0h0m1.6 0h0m1.6 0h0m1.6 0h0m1.6 0h0m1.6 0h0m1.6 0h0m1.6 0h0m1.6 0h0m1.6 0h0m1.6 0h0m1.6 0h0m1.6 0h0m1.6 0h0m1.6 0h0m1.6 0h0m3.2 0h0m-62.4 1.6h0m1.6 0h0m6.4 0h0m1.6 0h0m1.6 0h0m1.6 0h0m1.6 0h0m1.6 0h0m1.6 0h0m1.6 0h0m1.6 0h0m1.6 0h0m1.6 0h0m1.6 0h0m1.6 0h0m1.6 0h0m1.6 0h0m1.6 0h0m1.6 0h0m1.6 0h0m1.6 0h0m1.6 0h0m1.6 0h0m1.6 0h0m3.2 0h0m1.6 0h0m3.2 0h0m-52.8 1.6h0m3.2 0h0m3.2 0h0m1.6 0h0m1.6 0h0m1.6 0h0m1.6 0h0m1.6 0h0m1.6 0h0m1.6 0h0m1.6 0h0m1.6 0h0m1.6 0h0m1.6 0h0m1.6 0h0m1.6 0h0m1.6 0h0m1.6 0h0m1.6 0h0m1.6 0h0m1.6 0h0m1.6 0h0m3.2 0h0m-32 1.6h0" stroke="#e3281b" stroke-width="1.75" stroke-linecap="square" fill="none"/>
<rect x="481.6" y="1838.4" width="192.9" height="36.2" fill="none" stroke="#4a5fb8" stroke-width="1.2"/>
<path d="M439.6 1717.5V1929.5H674.5" fill="none" stroke="#1d2454" stroke-width="2.0"/>
<path d="M439.6 1929.5v5M454.3 1929.5v3.2M469 1929.5v3.2M483.6 1929.5v3.2M498.3 1929.5v5M513 1929.5v3.2M527.6 1929.5v3.2M542.3 1929.5v3.2M557 1929.5v5M571.7 1929.5v3.2M586.4 1929.5v3.2M601.1 1929.5v3.2M615.8 1929.5v5M630.5 1929.5v3.2M645.1 1929.5v3.2M659.8 1929.5v3.2M674.5 1929.5v5M439.6 1929.5h-5M439.6 1916.5h-3.2M439.6 1903.6h-3.2M439.6 1890.7h-3.2M439.6 1877.7h-5M439.6 1864.5h-3.2M439.6 1851.3h-3.2M439.6 1838.2h-3.2M439.6 1825h-5M439.6 1811.8h-3.2M439.6 1798.7h-3.2M439.6 1785.5h-3.2M439.6 1772.3h-5M439.6 1759.3h-3.2M439.6 1746.4h-3.2M439.6 1733.5h-3.2M439.6 1720.5h-5" stroke="#1d2454" stroke-width="1.3" fill="none"/><text x="436.2" y="1945.5" font-size="10.2" font-family="'DejaVu Sans', sans-serif" fill="#2d3584" textLength="6.81" lengthAdjust="spacingAndGlyphs">0</text><text x="486.5" y="1945.5" font-size="10.2" font-family="'DejaVu Sans', sans-serif" fill="#2d3584" textLength="23.85" lengthAdjust="spacingAndGlyphs">65.5</text><text x="541.6" y="1945.5" font-size="10.2" font-family="'DejaVu Sans', sans-serif" fill="#2d3584" textLength="30.66" lengthAdjust="spacingAndGlyphs">131.1</text><text x="600.2" y="1945.5" font-size="10.2" font-family="'DejaVu Sans', sans-serif" fill="#2d3584" textLength="30.66" lengthAdjust="spacingAndGlyphs">196.6</text><text x="659.3" y="1945.5" font-size="10.2" font-family="'DejaVu Sans', sans-serif" fill="#2d3584" textLength="30.66" lengthAdjust="spacingAndGlyphs">262.1</text><text x="428.9" y="1933.1" font-size="10.2" font-family="'DejaVu Sans', sans-serif" fill="#2d3584" textLength="6.81" lengthAdjust="spacingAndGlyphs">0</text><text x="412.1" y="1881.3" font-size="10.2" font-family="'DejaVu Sans', sans-serif" fill="#2d3584" textLength="23.85" lengthAdjust="spacingAndGlyphs">65.5</text><text x="405.3" y="1828.6" font-size="10.2" font-family="'DejaVu Sans', sans-serif" fill="#2d3584" textLength="30.66" lengthAdjust="spacingAndGlyphs">131.1</text><text x="405" y="1775.9" font-size="10.2" font-family="'DejaVu Sans', sans-serif" fill="#2d3584" textLength="30.66" lengthAdjust="spacingAndGlyphs">196.6</text><text x="405.3" y="1724.1" font-size="10.2" font-family="'DejaVu Sans', sans-serif" fill="#2d3584" textLength="30.66" lengthAdjust="spacingAndGlyphs">262.1</text>
<text x="505.3" y="1959.8" font-size="13" font-family="'DejaVu Sans', sans-serif" fill="#2d3584" textLength="101.59" lengthAdjust="spacingAndGlyphs">FSC-A (x 1000)</text>
<text transform="translate(402 1875.9) rotate(-90)" x="-0.89" y="0" font-size="13" font-family="'DejaVu Sans', sans-serif" fill="#2d3584" textLength="106.56" lengthAdjust="spacingAndGlyphs">SSC-W (x 1000)</text>
<text x="551.3" y="1808" font-size="13.5" textLength="44.80" lengthAdjust="spacingAndGlyphs" fill="#3f56b0">Gate 2</text>
<text x="551.4" y="1824.1" font-size="13.5" textLength="48.58" lengthAdjust="spacingAndGlyphs" fill="#3f56b0">90.83%</text>
<rect x="706.2" y="1663.2" width="315" height="314.9" fill="none" stroke="#b35f4b" stroke-width="1.3"/><rect x="746.1" y="1677.2" width="225" height="31.3" fill="none" stroke="#b35f4b" stroke-width="1.2"/><text x="752.7" y="1689" font-size="10.4" font-family="'DejaVu Sans', sans-serif" fill="#2d3584" textLength="212.36" lengthAdjust="spacingAndGlyphs">Specimen_001_ABE egfr g1_006.fcs</text><text x="839.7" y="1703.4" font-size="10.4" font-family="'DejaVu Sans', sans-serif" fill="#2d3584" textLength="39.01" lengthAdjust="spacingAndGlyphs">Gate 2</text>
<path d="M914.8 1813.6h0m-60.8 3.2h0m35.2 3.2h0m17.6 0h0m38.4 1.6h0m-4.8 1.6h0m-40 1.6h0m49.6 0h0m-86.4 1.6h0m46.4 0h0m-97.6 1.6h0m84.8 0h0m-112 1.6h0m144 0h0m-73.6 3.2h0m3.2 0h0m68.8 0h0m12.8 0h0m-48 3.2h0m35.2 0h0m1.6 0h0m14.4 0h0m35.2 0h0m-97.6 1.6h0m36.8 0h0m33.6 0h0m-84.8 1.6h0m38.4 0h0m-3.2 1.6h0m68.8 0h0m-97.6 1.6h0m25.6 0h0m9.6 0h0m89.6 0h0m-193.6 1.6h0m52.8 0h0m25.6 0h0m17.6 0h0m25.6 0h0m32 0h0m3.2 0h0m-92.8 1.6h0m4.8 0h0m54.4 0h0m16 0h0m17.6 0h0m28.8 0h0m-164.8 1.6h0m30.4 0h0m9.6 0h0m1.6 0h0m41.6 0h0m16 0h0m44.8 0h0m12.8 0h0m-169.6 1.6h0m11.2 0h0m57.6 0h0m11.2 0h0m-105.6 1.6h0m80 0h0m102.4 0h0m6.4 0h0m-128 1.6h0m134.4 0h0m-180.8 1.6h0m16 0h0m-1.6 1.6h0m43.2 0h0m115.2 0h0m19.2 0h0m-147.2 1.6h0m132.8 0h0m-163.2 1.6h0m9.6 0h0m-1.6 1.6h0m12.8 0h0m128 0h0m1.6 0h0m3.2 0h0m-136 1.6h0m1.6 0h0m1.6 0h0m124.8 0h0m17.6 0h0m-142.4 1.6h0m-52.8 1.6h0m60.8 0h0m-20.8 1.6h0m20.8 0h0m128 0h0m4.8 0h0m-11.2 1.6h0m11.2 0h0m-17.6 1.6h0m4.8 0h0m11.2 0h0m16 0h0m-158.4 1.6h0m6.4 0h0m-36.8 1.6h0m158.4 0h0m4.8 0h0m-147.2 1.6h0m120 0h0m-156.8 1.6h0m6.4 0h0m148.8 0h0m1.6 0h0m-134.4 1.6h0m123.2 0h0m32 0h0m1.6 0h0m-156.8 1.6h0m126.4 0h0m20.8 0h0m9.6 0h0m-147.2 1.6h0m9.6 0h0m6.4 0h0m-3.2 1.6h0m96 0h0m-99.2 1.6h0m97.6 0h0m14.4 0h0m41.6 0h0m-179.2 1.6h0m19.2 0h0m-28.8 1.6h0m17.6 0h0m126.4 0h0m-160 1.6h0m41.6 0h0m144 0h0m-152 1.6h0m110.4 0h0m9.6 1.6h0m6.4 0h0m6.4 0h0m-113.6 1.6h0m96 0h0m1.6 0h0m-118.4 1.6h0m97.6 0h0m54.4 0h0m4.8 1.6h0m-115.2 1.6h0m27.2 0h0m32 0h0m-110.4 1.6h0m16 0h0m22.4 0h0m8 0h0m32 0h0m16 0h0m24 0h0m-64 1.6h0m8 0h0m12.8 0h0m1.6 0h0m4.8 0h0m17.6 0h0m-86.4 1.6h0m83.2 0h0m25.6 0h0m-144 1.6h0m44.8 0h0m70.4 0h0m-110.4 1.6h0m51.2 0h0m8 0h0m24 0h0m38.4 0h0m16 0h0m-123.2 1.6h0m22.4 0h0m44.8 0h0m46.4 0h0m11.2 0h0m-65.6 1.6h0m22.4 0h0m38.4 0h0m-99.2 1.6h0m27.2 0h0m27.2 0h0m59.2 0h0m-132.8 1.6h0m107.2 0h0m-11.2 1.6h0m-51.2 1.6h0m22.4 0h0m80 0h0m-152 1.6h0m8 0h0m40 0h0m46.4 0h0m-14.4 3.2h0m-46.4 1.6h0m107.2 0h0m-99.2 1.6h0m19.2 4.8h0" stroke="#1a2580" stroke-width="1.75" stroke-linecap="square" fill="none"/><path d="M919.6 1839.2h0m-36.8 1.6h0m40 0h0m6.4 0h0m6.4 0h0m1.6 0h0m35.2 0h0m-91.2 1.6h0m62.4 0h0m12.8 0h0m-28.8 1.6h0m6.4 0h0m1.6 0h0m1.6 0h0m8 0h0m20.8 0h0m4.8 0h0m-96 1.6h0m22.4 0h0m3.2 0h0m9.6 0h0m4.8 0h0m41.6 0h0m12.8 0h0m17.6 0h0m-110.4 1.6h0m16 0h0m1.6 0h0m12.8 0h0m6.4 0h0m12.8 0h0m1.6 0h0m8 0h0m3.2 0h0m3.2 0h0m3.2 0h0m4.8 0h0m-89.6 1.6h0m27.2 0h0m20.8 0h0m3.2 0h0m22.4 0h0m12.8 0h0m1.6 0h0m-78.4 1.6h0m1.6 0h0m1.6 0h0m22.4 0h0m8 0h0m22.4 0h0m6.4 0h0m1.6 0h0m4.8 0h0m22.4 0h0m19.2 0h0m-97.6 1.6h0m54.4 0h0m4.8 0h0m3.2 0h0m4.8 0h0m1.6 0h0m8 0h0m19.2 0h0m4.8 0h0m-134.4 1.6h0m20.8 0h0m70.4 0h0m27.2 0h0m8 0h0m8 0h0m-123.2 1.6h0m3.2 0h0m3.2 0h0m70.4 0h0m1.6 0h0m12.8 0h0m16 0h0m1.6 0h0m1.6 0h0m4.8 0h0m-120 1.6h0m92.8 0h0m16 0h0m8 0h0m3.2 0h0m-140.8 1.6h0m11.2 0h0m9.6 0h0m-20.8 1.6h0m17.6 0h0m-27.2 1.6h0m1.6 0h0m14.4 0h0m113.6 0h0m1.6 0h0m-108.8 1.6h0m-20.8 1.6h0m19.2 0h0m6.4 0h0m91.2 0h0m8 0h0m1.6 0h0m27.2 0h0m-152 1.6h0m4.8 0h0m6.4 0h0m1.6 0h0m6.4 0h0m3.2 0h0m91.2 0h0m3.2 0h0m-100.8 1.6h0m102.4 0h0m1.6 0h0m6.4 0h0m-116.8 1.6h0m97.6 0h0m0 1.6h0m6.4 0h0m-107.2 1.6h0m97.6 0h0m9.6 0h0m1.6 0h0m-108.8 1.6h0m3.2 0h0m96 0h0m6.4 0h0m-118.4 1.6h0m4.8 0h0m3.2 0h0m94.4 0h0m8 0h0m9.6 0h0m-107.2 1.6h0m104 0h0m-126.4 1.6h0m19.2 0h0m115.2 0h0m-129.6 1.6h0m8 0h0m102.4 0h0m-99.2 1.6h0m100.8 0h0m-121.6 1.6h0m25.6 0h0m80 0h0m-91.2 1.6h0m8 0h0m3.2 0h0m78.4 0h0m-84.8 1.6h0m3.2 0h0m1.6 0h0m94.4 0h0m8 0h0m-28.8 1.6h0m1.6 0h0m17.6 0h0m6.4 0h0m-97.6 1.6h0m72 0h0m1.6 0h0m6.4 0h0m-89.6 1.6h0m1.6 0h0m3.2 0h0m1.6 0h0m67.2 0h0m17.6 0h0m-83.2 1.6h0m-14.4 1.6h0m11.2 0h0m8 0h0m3.2 0h0m6.4 0h0m35.2 0h0m8 0h0m1.6 0h0m3.2 0h0m4.8 0h0m-76.8 1.6h0m9.6 0h0m14.4 0h0m33.6 0h0m3.2 0h0m3.2 0h0m1.6 0h0m20.8 0h0m-94.4 1.6h0m8 0h0m14.4 0h0m20.8 0h0m9.6 0h0m1.6 0h0m14.4 0h0m1.6 0h0m1.6 0h0m1.6 0h0m3.2 0h0m17.6 0h0m-73.6 1.6h0m3.2 0h0m9.6 0h0m3.2 0h0m1.6 0h0m14.4 0h0m3.2 0h0m6.4 0h0m-57.6 1.6h0m24 0h0m8 0h0m17.6 0h0m-36.8 1.6h0m3.2 0h0m3.2 0h0m12.8 0h0m14.4 0h0m1.6 0h0m4.8 0h0m-12.8 1.6h0m1.6 0h0m3.2 0h0m17.6 0h0m-24 1.6h0m11.2 0h0m17.6 1.6h0m-1.6 1.6h0m-20.8 3.2h0" stroke="#21359c" stroke-width="1.75" stroke-linecap="square" fill="none"/><path d="M924.4 1834.4h0m-12.8 8h0m-44.8 1.6h0m36.8 0h0m0 1.6h0m4.8 0h0m16 0h0m25.6 0h0m-60.8 1.6h0m8 0h0m19.2 0h0m44.8 0h0m-75.2 1.6h0m8 0h0m4.8 0h0m4.8 0h0m1.6 0h0m4.8 0h0m6.4 0h0m1.6 0h0m6.4 0h0m4.8 0h0m11.2 0h0m-48 1.6h0m1.6 0h0m4.8 0h0m1.6 0h0m6.4 0h0m12.8 0h0m4.8 0h0m12.8 0h0m14.4 0h0m4.8 0h0m1.6 0h0m6.4 0h0m-86.4 1.6h0m1.6 0h0m8 0h0m1.6 0h0m1.6 0h0m3.2 0h0m22.4 0h0m9.6 0h0m4.8 0h0m8 0h0m1.6 0h0m12.8 0h0m1.6 0h0m3.2 0h0m16 0h0m-112 1.6h0m12.8 0h0m1.6 0h0m4.8 0h0m1.6 0h0m48 0h0m1.6 0h0m17.6 0h0m14.4 0h0m8 0h0m-124.8 1.6h0m20.8 0h0m1.6 0h0m4.8 0h0m57.6 0h0m17.6 0h0m3.2 0h0m6.4 0h0m-100.8 1.6h0m4.8 0h0m3.2 0h0m67.2 0h0m1.6 0h0m8 0h0m8 0h0m6.4 0h0m-105.6 1.6h0m11.2 0h0m76.8 0h0m1.6 0h0m1.6 0h0m3.2 0h0m4.8 0h0m1.6 0h0m-16 1.6h0m4.8 0h0m3.2 0h0m6.4 0h0m-121.6 1.6h0m24 0h0m1.6 0h0m1.6 0h0m81.6 0h0m4.8 0h0m8 0h0m-105.6 1.6h0m4.8 0h0m1.6 0h0m88 0h0m1.6 0h0m4.8 0h0m12.8 0h0m-110.4 1.6h0m8 0h0m80 0h0m1.6 0h0m1.6 0h0m1.6 0h0m6.4 0h0m-105.6 1.6h0m3.2 0h0m8 0h0m83.2 0h0m3.2 0h0m3.2 0h0m14.4 0h0m-118.4 1.6h0m3.2 0h0m91.2 0h0m1.6 0h0m1.6 0h0m1.6 0h0m3.2 0h0m-108.8 1.6h0m94.4 0h0m6.4 0h0m8 0h0m6.4 0h0m-107.2 1.6h0m92.8 0h0m-97.6 1.6h0m1.6 0h0m-9.6 1.6h0m8 0h0m112 0h0m-22.4 1.6h0m1.6 0h0m-94.4 1.6h0m4.8 0h0m83.2 0h0m-91.2 1.6h0m3.2 0h0m88 0h0m-92.8 1.6h0m4.8 0h0m3.2 0h0m80 0h0m3.2 0h0m1.6 0h0m-4.8 1.6h0m1.6 0h0m-86.4 1.6h0m3.2 0h0m84.8 0h0m-88 1.6h0m73.6 0h0m4.8 0h0m-6.4 1.6h0m3.2 0h0m1.6 0h0m1.6 0h0m-81.6 1.6h0m70.4 0h0m1.6 0h0m-68.8 1.6h0m72 0h0m-65.6 1.6h0m1.6 0h0m49.6 0h0m1.6 0h0m3.2 0h0m6.4 0h0m-67.2 1.6h0m1.6 0h0m3.2 0h0m43.2 0h0m16 0h0m-59.2 1.6h0m36.8 0h0m4.8 0h0m27.2 0h0m-65.6 1.6h0m8 0h0m1.6 0h0m1.6 0h0m3.2 0h0m8 0h0m1.6 0h0m4.8 0h0m6.4 0h0m8 0h0m6.4 0h0m3.2 0h0m4.8 0h0m-54.4 1.6h0m6.4 0h0m3.2 0h0m4.8 0h0m6.4 0h0m6.4 0h0m12.8 1.6h0m12.8 0h0m-27.2 9.6h0" stroke="#2a4db6" stroke-width="1.75" stroke-linecap="square" fill="none"/><path d="M897.2 1850.4h0m4.8 0h0m6.4 0h0m1.6 0h0m1.6 0h0m1.6 0h0m1.6 0h0m1.6 0h0m4.8 0h0m1.6 0h0m20.8 0h0m-51.2 1.6h0m4.8 0h0m12.8 0h0m8 0h0m4.8 0h0m1.6 0h0m4.8 0h0m4.8 0h0m-56 1.6h0m1.6 0h0m4.8 0h0m1.6 0h0m1.6 0h0m33.6 0h0m3.2 0h0m1.6 0h0m1.6 0h0m6.4 0h0m3.2 0h0m1.6 0h0m22.4 0h0m-84.8 1.6h0m1.6 0h0m49.6 0h0m16 0h0m-72 1.6h0m1.6 0h0m56 0h0m8 0h0m1.6 0h0m1.6 0h0m1.6 0h0m-84.8 1.6h0m8 0h0m1.6 0h0m3.2 0h0m60.8 0h0m1.6 0h0m3.2 0h0m1.6 0h0m-78.4 1.6h0m3.2 0h0m1.6 0h0m4.8 0h0m70.4 0h0m1.6 0h0m3.2 0h0m6.4 0h0m-91.2 1.6h0m75.2 0h0m3.2 0h0m3.2 0h0m-84.8 1.6h0m1.6 0h0m75.2 0h0m1.6 0h0m1.6 0h0m3.2 0h0m4.8 0h0m1.6 0h0m-94.4 1.6h0m3.2 0h0m80 0h0m1.6 0h0m-3.2 1.6h0m3.2 0h0m3.2 0h0m-91.2 1.6h0m83.2 0h0m1.6 0h0m-88 1.6h0m3.2 0h0m3.2 0h0m81.6 0h0m-94.4 1.6h0m4.8 0h0m1.6 0h0m84.8 0h0m1.6 0h0m-89.6 1.6h0m1.6 0h0m1.6 0h0m81.6 0h0m1.6 0h0m1.6 0h0m-89.6 1.6h0m86.4 0h0m1.6 0h0m1.6 0h0m-110.4 1.6h0m20.8 0h0m1.6 0h0m-4.8 1.6h0m3.2 0h0m83.2 0h0m1.6 0h0m-89.6 1.6h0m1.6 0h0m1.6 0h0m-3.2 1.6h0m80 0h0m3.2 0h0m4.8 0h0m-89.6 1.6h0m4.8 0h0m75.2 0h0m-75.2 1.6h0m67.2 0h0m3.2 0h0m1.6 0h0m1.6 0h0m-76.8 1.6h0m1.6 0h0m1.6 0h0m1.6 0h0m67.2 0h0m1.6 0h0m-73.6 1.6h0m65.6 0h0m1.6 0h0m-65.6 1.6h0m1.6 0h0m1.6 0h0m54.4 0h0m1.6 0h0m1.6 0h0m4.8 0h0m-62.4 1.6h0m1.6 0h0m1.6 0h0m54.4 0h0m-62.4 1.6h0m1.6 0h0m4.8 0h0m1.6 0h0m43.2 0h0m1.6 0h0m-51.2 1.6h0m4.8 0h0m1.6 0h0m3.2 0h0m1.6 0h0m1.6 0h0m1.6 0h0m27.2 0h0m4.8 0h0m1.6 0h0m1.6 0h0m1.6 0h0m-44.8 1.6h0m1.6 0h0m3.2 0h0m1.6 0h0m1.6 0h0m4.8 0h0m3.2 0h0m1.6 0h0m9.6 0h0m1.6 0h0m1.6 0h0m3.2 0h0m1.6 0h0m4.8 0h0m-35.2 1.6h0m12.8 0h0m1.6 0h0m12.8 0h0m-27.2 1.6h0" stroke="#2f8ac8" stroke-width="1.75" stroke-linecap="square" fill="none"/><path d="M905.2 1850.4h0m-9.6 1.6h0m8 0h0m1.6 0h0m1.6 0h0m1.6 0h0m3.2 0h0m1.6 0h0m1.6 0h0m4.8 0h0m1.6 0h0m-32 1.6h0m1.6 0h0m1.6 0h0m3.2 0h0m11.2 0h0m1.6 0h0m8 0h0m6.4 0h0m6.4 0h0m-49.6 1.6h0m1.6 0h0m1.6 0h0m1.6 0h0m3.2 0h0m36.8 0h0m4.8 0h0m6.4 0h0m-60.8 1.6h0m1.6 0h0m3.2 0h0m1.6 0h0m49.6 0h0m16 0h0m-78.4 1.6h0m3.2 0h0m57.6 0h0m4.8 0h0m-68.8 1.6h0m1.6 0h0m3.2 0h0m62.4 0h0m1.6 0h0m1.6 0h0m-75.2 1.6h0m1.6 0h0m1.6 0h0m1.6 0h0m1.6 0h0m62.4 0h0m1.6 0h0m4.8 0h0m-76.8 1.6h0m3.2 0h0m68.8 0h0m6.4 0h0m-81.6 1.6h0m4.8 0h0m72 0h0m-80 1.6h0m3.2 0h0m73.6 0h0m4.8 0h0m-84.8 1.6h0m1.6 0h0m76.8 0h0m1.6 0h0m-83.2 1.6h0m3.2 0h0m76.8 0h0m3.2 0h0m1.6 0h0m-83.2 1.6h0m1.6 0h0m78.4 0h0m-81.6 1.6h0m76.8 0h0m1.6 0h0m-83.2 1.6h0m1.6 0h0m1.6 0h0m75.2 0h0m3.2 0h0m1.6 0h0m-88 1.6h0m6.4 0h0m80 0h0m-81.6 1.6h0m76.8 0h0m1.6 0h0m-76.8 1.6h0m72 0h0m1.6 0h0m1.6 0h0m-80 1.6h0m1.6 0h0m1.6 0h0m72 0h0m-78.4 1.6h0m1.6 0h0m3.2 0h0m3.2 0h0m64 0h0m3.2 0h0m1.6 0h0m-75.2 1.6h0m3.2 0h0m67.2 0h0m-4.8 1.6h0m1.6 0h0m-67.2 1.6h0m1.6 0h0m1.6 0h0m1.6 0h0m4.8 0h0m49.6 0h0m1.6 0h0m1.6 0h0m6.4 0h0m-68.8 3.2h0m8 0h0m3.2 0h0m38.4 0h0m3.2 0h0m1.6 0h0m1.6 0h0m1.6 0h0m1.6 0h0m-51.2 1.6h0m4.8 0h0m3.2 0h0m4.8 0h0m22.4 0h0m3.2 0h0m1.6 0h0m-40 1.6h0m8 0h0m3.2 0h0m1.6 0h0m11.2 0h0m4.8 0h0m1.6 0h0m4.8 0h0m-25.6 1.6h0m3.2 0h0m4.8 0h0m1.6 0h0m1.6 0h0m1.6 0h0m1.6 0h0m-24 1.6h0" stroke="#34b0b0" stroke-width="1.75" stroke-linecap="square" fill="none"/><path d="M898.8 1852h0m3.2 0h0m-8 1.6h0m4.8 0h0m1.6 0h0m1.6 0h0m1.6 0h0m1.6 0h0m4.8 0h0m1.6 0h0m1.6 0h0m4.8 0h0m1.6 0h0m-33.6 1.6h0m3.2 0h0m1.6 0h0m3.2 0h0m17.6 0h0m3.2 0h0m3.2 0h0m3.2 0h0m1.6 0h0m3.2 0h0m4.8 0h0m-52.8 1.6h0m6.4 0h0m1.6 0h0m32 0h0m3.2 0h0m3.2 0h0m1.6 0h0m1.6 0h0m4.8 0h0m-59.2 1.6h0m1.6 0h0m1.6 0h0m1.6 0h0m1.6 0h0m44.8 0h0m1.6 0h0m1.6 0h0m-56 1.6h0m56 0h0m1.6 0h0m1.6 0h0m-4.8 1.6h0m1.6 0h0m4.8 0h0m-4.8 1.6h0m1.6 0h0m-70.4 1.6h0m67.2 0h0m1.6 0h0m1.6 0h0m1.6 0h0m-73.6 1.6h0m70.4 0h0m3.2 0h0m-6.4 1.6h0m1.6 0h0m-80 3.2h0m4.8 0h0m72 0h0m1.6 0h0m1.6 0h0m-78.4 1.6h0m3.2 0h0m-4.8 1.6h0m1.6 0h0m73.6 0h0m-76.8 1.6h0m72 0h0m3.2 0h0m1.6 0h0m-78.4 1.6h0m72 0h0m1.6 0h0m-76.8 1.6h0m1.6 0h0m3.2 0h0m65.6 0h0m3.2 0h0m-70.4 1.6h0m1.6 0h0m67.2 0h0m-70.4 1.6h0m67.2 0h0m-67.2 1.6h0m1.6 0h0m60.8 0h0m-62.4 1.6h0m1.6 0h0m1.6 0h0m56 0h0m-57.6 1.6h0m51.2 0h0m-52.8 1.6h0m1.6 0h0m43.2 0h0m1.6 0h0m1.6 0h0m3.2 0h0m-46.4 1.6h0m14.4 0h0m16 0h0m6.4 0h0m1.6 0h0m3.2 0h0m-41.6 1.6h0m1.6 0h0m3.2 0h0m3.2 0h0m6.4 0h0m1.6 0h0m1.6 0h0m1.6 0h0m8 0h0m1.6 0h0m1.6 0h0m1.6 0h0m3.2 0h0m-27.2 1.6h0m4.8 0h0m1.6 0h0m1.6 0h0m1.6 0h0m1.6 0h0m1.6 0h0m3.2 0h0m1.6 0h0m4.8 0h0" stroke="#3db54a" stroke-width="1.75" stroke-linecap="square" fill="none"/><path d="M900.4 1852h0m-3.2 1.6h0m17.6 0h0m-22.4 1.6h0m4.8 0h0m11.2 0h0m4.8 0h0m3.2 0h0m3.2 0h0m-36.8 1.6h0m4.8 0h0m32 0h0m3.2 0h0m-41.6 1.6h0m40 0h0m1.6 0h0m-49.6 1.6h0m1.6 0h0m3.2 0h0m46.4 0h0m1.6 0h0m-57.6 1.6h0m1.6 0h0m1.6 0h0m51.2 0h0m1.6 0h0m-64 1.6h0m3.2 0h0m1.6 0h0m1.6 0h0m59.2 0h0m-64 1.6h0m-3.2 1.6h0m1.6 0h0m60.8 0h0m1.6 0h0m3.2 0h0m-73.6 1.6h0m1.6 0h0m1.6 0h0m1.6 0h0m-4.8 1.6h0m1.6 0h0m1.6 0h0m68.8 0h0m-72 1.6h0m67.2 0h0m1.6 0h0m-72 1.6h0m70.4 0h0m1.6 0h0m-72 1.6h0m65.6 0h0m-68.8 1.6h0m67.2 0h0m1.6 0h0m3.2 0h0m-73.6 1.6h0m3.2 0h0m1.6 0h0m64 0h0m-67.2 1.6h0m1.6 0h0m60.8 0h0m3.2 0h0m-4.8 1.6h0m1.6 0h0m1.6 0h0m-64 1.6h0m56 0h0m1.6 0h0m1.6 0h0m-60.8 1.6h0m1.6 0h0m54.4 0h0m1.6 0h0m-56 1.6h0m1.6 0h0m46.4 0h0m1.6 0h0m1.6 0h0m1.6 0h0m-54.4 1.6h0m3.2 0h0m41.6 0h0m3.2 0h0m-48 1.6h0m1.6 0h0m1.6 0h0m3.2 0h0m40 0h0m-41.6 1.6h0m1.6 0h0m1.6 0h0m1.6 0h0m1.6 0h0m1.6 0h0m4.8 0h0m4.8 0h0m4.8 0h0m3.2 0h0m3.2 0h0m1.6 0h0m1.6 0h0m-25.6 1.6h0m3.2 0h0m9.6 0h0m1.6 0h0m1.6 0h0" stroke="#8fcb38" stroke-width="1.75" stroke-linecap="square" fill="none"/><path d="M895.6 1855.2h0m3.2 0h0m1.6 0h0m3.2 0h0m1.6 0h0m1.6 0h0m3.2 0h0m-20.8 1.6h0m1.6 0h0m1.6 0h0m1.6 0h0m4.8 0h0m1.6 0h0m1.6 0h0m1.6 0h0m3.2 0h0m1.6 0h0m1.6 0h0m3.2 0h0m1.6 0h0m1.6 0h0m-33.6 1.6h0m1.6 0h0m3.2 0h0m1.6 0h0m25.6 0h0m1.6 0h0m1.6 0h0m1.6 0h0m-43.2 1.6h0m3.2 0h0m1.6 0h0m36.8 0h0m3.2 0h0m1.6 0h0m-3.2 1.6h0m-51.2 1.6h0m1.6 0h0m1.6 0h0m51.2 0h0m1.6 0h0m-60.8 1.6h0m1.6 0h0m56 0h0m3.2 0h0m-62.4 1.6h0m57.6 0h0m4.8 0h0m-62.4 1.6h0m56 0h0m1.6 0h0m3.2 0h0m-65.6 1.6h0m1.6 0h0m62.4 0h0m1.6 0h0m-68.8 1.6h0m1.6 0h0m1.6 0h0m59.2 0h0m1.6 0h0m-65.6 1.6h0m64 0h0m1.6 0h0m-67.2 1.6h0m1.6 0h0m64 0h0m1.6 0h0m-70.4 1.6h0m1.6 0h0m3.2 0h0m-6.4 1.6h0m62.4 0h0m1.6 0h0m1.6 0h0m-59.2 1.6h0m-6.4 1.6h0m1.6 0h0m3.2 0h0m54.4 0h0m-60.8 1.6h0m3.2 0h0m3.2 0h0m49.6 0h0m-52.8 1.6h0m3.2 0h0m46.4 0h0m1.6 0h0m-49.6 1.6h0m1.6 0h0m38.4 0h0m3.2 0h0m-43.2 1.6h0m1.6 0h0m1.6 0h0m4.8 0h0m24 0h0m1.6 0h0m3.2 0h0m1.6 0h0m3.2 0h0m-41.6 1.6h0m3.2 0h0m1.6 0h0m1.6 0h0m3.2 0h0m4.8 0h0m1.6 0h0m1.6 0h0m8 0h0m1.6 0h0m3.2 0h0m1.6 0h0m1.6 0h0m1.6 0h0m-25.6 1.6h0m4.8 0h0m1.6 0h0m3.2 0h0m1.6 0h0m3.2 0h0m-6.4 1.6h0" stroke="#e7e51f" stroke-width="1.75" stroke-linecap="square" fill="none"/><path d="M902 1855.2h0m-6.4 1.6h0m9.6 0h0m6.4 0h0m-25.6 1.6h0m4.8 0h0m1.6 0h0m1.6 0h0m1.6 0h0m1.6 0h0m1.6 0h0m1.6 0h0m1.6 0h0m1.6 0h0m1.6 0h0m1.6 0h0m1.6 0h0m1.6 0h0m1.6 0h0m1.6 0h0m-30.4 1.6h0m1.6 0h0m1.6 0h0m1.6 0h0m3.2 0h0m1.6 0h0m14.4 0h0m4.8 0h0m4.8 0h0m3.2 0h0m-46.4 1.6h0m1.6 0h0m1.6 0h0m1.6 0h0m1.6 0h0m1.6 0h0m30.4 0h0m1.6 0h0m1.6 0h0m1.6 0h0m1.6 0h0m3.2 0h0m-8 1.6h0m1.6 0h0m1.6 0h0m3.2 0h0m1.6 0h0m-54.4 1.6h0m1.6 0h0m4.8 0h0m46.4 0h0m3.2 0h0m-59.2 1.6h0m1.6 0h0m1.6 0h0m1.6 0h0m49.6 0h0m-59.2 1.6h0m1.6 0h0m3.2 0h0m1.6 0h0m1.6 0h0m54.4 0h0m-60.8 1.6h0m54.4 0h0m1.6 0h0m1.6 0h0m1.6 0h0m-60.8 1.6h0m1.6 0h0m-6.4 1.6h0m1.6 0h0m1.6 0h0m56 0h0m1.6 0h0m-60.8 1.6h0m57.6 0h0m1.6 0h0m-62.4 1.6h0m54.4 0h0m4.8 0h0m1.6 0h0m-60.8 1.6h0m1.6 0h0m1.6 0h0m1.6 0h0m49.6 0h0m1.6 0h0m-57.6 1.6h0m1.6 0h0m3.2 0h0m46.4 0h0m1.6 0h0m3.2 0h0m-56 1.6h0m3.2 0h0m49.6 0h0m1.6 0h0m-54.4 1.6h0m4.8 0h0m3.2 0h0m40 0h0m1.6 0h0m-49.6 1.6h0m3.2 0h0m8 0h0m28.8 0h0m4.8 0h0m1.6 0h0m-43.2 1.6h0m1.6 0h0m1.6 0h0m25.6 0h0m4.8 0h0m4.8 0h0m-36.8 1.6h0m4.8 0h0m8 0h0m11.2 0h0m1.6 0h0m4.8 0h0m-27.2 1.6h0m3.2 0h0m1.6 0h0m6.4 0h0m1.6 0h0m3.2 0h0m4.8 0h0" stroke="#f6c21e" stroke-width="1.75" stroke-linecap="square" fill="none"/><path d="M897.2 1856.8h0m-8 3.2h0m4.8 0h0m1.6 0h0m1.6 0h0m3.2 0h0m1.6 0h0m1.6 0h0m4.8 0h0m1.6 0h0m3.2 0h0m1.6 0h0m-32 1.6h0m1.6 0h0m1.6 0h0m1.6 0h0m3.2 0h0m3.2 0h0m3.2 0h0m1.6 0h0m4.8 0h0m3.2 0h0m-33.6 1.6h0m1.6 0h0m1.6 0h0m1.6 0h0m1.6 0h0m1.6 0h0m1.6 0h0m17.6 0h0m3.2 0h0m6.4 0h0m1.6 0h0m6.4 0h0m-48 1.6h0m1.6 0h0m3.2 0h0m6.4 0h0m27.2 0h0m3.2 0h0m3.2 0h0m1.6 0h0m1.6 0h0m-48 1.6h0m4.8 0h0m4.8 0h0m30.4 0h0m1.6 0h0m1.6 0h0m1.6 0h0m1.6 0h0m-46.4 1.6h0m41.6 0h0m1.6 0h0m1.6 0h0m1.6 0h0m-54.4 1.6h0m1.6 0h0m1.6 0h0m1.6 0h0m1.6 0h0m41.6 0h0m1.6 0h0m1.6 0h0m-49.6 1.6h0m1.6 0h0m44.8 0h0m1.6 0h0m1.6 0h0m1.6 0h0m-56 1.6h0m1.6 0h0m3.2 0h0m46.4 0h0m1.6 0h0m-56 1.6h0m1.6 0h0m1.6 0h0m1.6 0h0m46.4 0h0m1.6 0h0m1.6 0h0m-56 1.6h0m1.6 0h0m1.6 0h0m49.6 0h0m1.6 0h0m-51.2 1.6h0m1.6 0h0m1.6 0h0m38.4 0h0m1.6 0h0m1.6 0h0m1.6 0h0m-48 1.6h0m1.6 0h0m41.6 0h0m4.8 0h0m3.2 0h0m-52.8 1.6h0m1.6 0h0m3.2 0h0m9.6 0h0m25.6 0h0m4.8 0h0m1.6 0h0m-48 1.6h0m3.2 0h0m3.2 0h0m1.6 0h0m30.4 0h0m1.6 0h0m1.6 0h0m1.6 0h0m-41.6 1.6h0m1.6 0h0m1.6 0h0m1.6 0h0m3.2 0h0m4.8 0h0m3.2 0h0m12.8 0h0m1.6 0h0m3.2 0h0m3.2 0h0m1.6 0h0m-35.2 1.6h0m1.6 0h0m1.6 0h0m3.2 0h0m1.6 0h0m1.6 0h0m8 0h0m1.6 0h0m1.6 0h0m1.6 0h0m3.2 0h0m1.6 0h0m3.2 0h0m-32 1.6h0m4.8 0h0m1.6 0h0m1.6 0h0m1.6 0h0m3.2 0h0m1.6 0h0m1.6 0h0m1.6 0h0m1.6 0h0m1.6 0h0m-4.8 1.6h0" stroke="#f3841f" stroke-width="1.75" stroke-linecap="square" fill="none"/><path d="M898.8 1860h0m6.4 0h0m-16 1.6h0m3.2 0h0m3.2 0h0m4.8 0h0m1.6 0h0m3.2 0h0m3.2 0h0m1.6 0h0m-25.6 1.6h0m1.6 0h0m1.6 0h0m1.6 0h0m1.6 0h0m1.6 0h0m1.6 0h0m1.6 0h0m1.6 0h0m1.6 0h0m3.2 0h0m3.2 0h0m1.6 0h0m1.6 0h0m-32 1.6h0m1.6 0h0m1.6 0h0m3.2 0h0m1.6 0h0m1.6 0h0m1.6 0h0m1.6 0h0m1.6 0h0m1.6 0h0m1.6 0h0m1.6 0h0m1.6 0h0m1.6 0h0m1.6 0h0m1.6 0h0m1.6 0h0m1.6 0h0m1.6 0h0m3.2 0h0m3.2 0h0m-41.6 1.6h0m1.6 0h0m3.2 0h0m1.6 0h0m3.2 0h0m1.6 0h0m1.6 0h0m1.6 0h0m1.6 0h0m1.6 0h0m1.6 0h0m1.6 0h0m1.6 0h0m1.6 0h0m1.6 0h0m1.6 0h0m1.6 0h0m1.6 0h0m1.6 0h0m1.6 0h0m1.6 0h0m1.6 0h0m-40 1.6h0m3.2 0h0m1.6 0h0m1.6 0h0m1.6 0h0m1.6 0h0m1.6 0h0m1.6 0h0m1.6 0h0m1.6 0h0m1.6 0h0m1.6 0h0m1.6 0h0m1.6 0h0m1.6 0h0m1.6 0h0m1.6 0h0m1.6 0h0m1.6 0h0m1.6 0h0m1.6 0h0m1.6 0h0m1.6 0h0m1.6 0h0m1.6 0h0m1.6 0h0m-40 1.6h0m1.6 0h0m1.6 0h0m1.6 0h0m1.6 0h0m1.6 0h0m1.6 0h0m1.6 0h0m1.6 0h0m1.6 0h0m1.6 0h0m1.6 0h0m1.6 0h0m1.6 0h0m1.6 0h0m1.6 0h0m1.6 0h0m1.6 0h0m1.6 0h0m1.6 0h0m1.6 0h0m1.6 0h0m1.6 0h0m1.6 0h0m1.6 0h0m-46.4 1.6h0m4.8 0h0m1.6 0h0m1.6 0h0m1.6 0h0m1.6 0h0m1.6 0h0m1.6 0h0m1.6 0h0m1.6 0h0m1.6 0h0m1.6 0h0m1.6 0h0m1.6 0h0m1.6 0h0m1.6 0h0m1.6 0h0m1.6 0h0m1.6 0h0m1.6 0h0m1.6 0h0m1.6 0h0m1.6 0h0m1.6 0h0m1.6 0h0m1.6 0h0m1.6 0h0m1.6 0h0m-46.4 1.6h0m3.2 0h0m1.6 0h0m1.6 0h0m1.6 0h0m1.6 0h0m1.6 0h0m1.6 0h0m1.6 0h0m1.6 0h0m1.6 0h0m1.6 0h0m1.6 0h0m1.6 0h0m1.6 0h0m1.6 0h0m1.6 0h0m1.6 0h0m1.6 0h0m1.6 0h0m1.6 0h0m1.6 0h0m1.6 0h0m1.6 0h0m1.6 0h0m1.6 0h0m1.6 0h0m1.6 0h0m1.6 0h0m-46.4 1.6h0m1.6 0h0m1.6 0h0m1.6 0h0m1.6 0h0m1.6 0h0m1.6 0h0m1.6 0h0m1.6 0h0m1.6 0h0m1.6 0h0m1.6 0h0m1.6 0h0m1.6 0h0m1.6 0h0m1.6 0h0m1.6 0h0m1.6 0h0m1.6 0h0m1.6 0h0m1.6 0h0m1.6 0h0m1.6 0h0m1.6 0h0m1.6 0h0m1.6 0h0m1.6 0h0m1.6 0h0m-46.4 1.6h0m1.6 0h0m1.6 0h0m1.6 0h0m1.6 0h0m1.6 0h0m1.6 0h0m1.6 0h0m1.6 0h0m1.6 0h0m1.6 0h0m1.6 0h0m1.6 0h0m1.6 0h0m1.6 0h0m1.6 0h0m1.6 0h0m1.6 0h0m1.6 0h0m1.6 0h0m1.6 0h0m1.6 0h0m1.6 0h0m1.6 0h0m1.6 0h0m1.6 0h0m1.6 0h0m1.6 0h0m1.6 0h0m-41.6 1.6h0m1.6 0h0m1.6 0h0m1.6 0h0m1.6 0h0m1.6 0h0m1.6 0h0m1.6 0h0m1.6 0h0m1.6 0h0m1.6 0h0m1.6 0h0m1.6 0h0m1.6 0h0m1.6 0h0m1.6 0h0m1.6 0h0m1.6 0h0m1.6 0h0m1.6 0h0m1.6 0h0m1.6 0h0m1.6 0h0m-38.4 1.6h0m1.6 0h0m1.6 0h0m1.6 0h0m1.6 0h0m1.6 0h0m1.6 0h0m1.6 0h0m1.6 0h0m1.6 0h0m1.6 0h0m1.6 0h0m1.6 0h0m1.6 0h0m1.6 0h0m1.6 0h0m1.6 0h0m1.6 0h0m1.6 0h0m1.6 0h0m1.6 0h0m1.6 0h0m1.6 0h0m1.6 0h0m1.6 0h0m-40 1.6h0m3.2 0h0m1.6 0h0m1.6 0h0m1.6 0h0m1.6 0h0m3.2 0h0m1.6 0h0m1.6 0h0m1.6 0h0m1.6 0h0m1.6 0h0m1.6 0h0m1.6 0h0m1.6 0h0m1.6 0h0m1.6 0h0m1.6 0h0m1.6 0h0m1.6 0h0m1.6 0h0m3.2 0h0m1.6 0h0m-35.2 1.6h0m1.6 0h0m1.6 0h0m1.6 0h0m1.6 0h0m1.6 0h0m1.6 0h0m1.6 0h0m1.6 0h0m1.6 0h0m1.6 0h0m1.6 0h0m1.6 0h0m1.6 0h0m1.6 0h0m1.6 0h0m1.6 0h0m1.6 0h0m-25.6 1.6h0m1.6 0h0m3.2 0h0m3.2 0h0m1.6 0h0m1.6 0h0m1.6 0h0m1.6 0h0m1.6 0h0m1.6 0h0m4.8 0h0m-24 1.6h0m6.4 0h0m1.6 0h0m1.6 0h0m1.6 0h0" stroke="#e3281b" stroke-width="1.75" stroke-linecap="square" fill="none"/>
<rect x="807.4" y="1839.1" width="192.1" height="79.2" fill="none" stroke="#9b3bb0" stroke-width="1.2"/>
<path d="M768.2 1719V1930.6H1001.3" fill="none" stroke="#1d2454" stroke-width="2.0"/>
<path d="M768.2 1930.6v5M782.9 1930.6v3.2M797.7 1930.6v3.2M812.4 1930.6v3.2M827.1 1930.6v5M841.6 1930.6v3.2M856 1930.6v3.2M870.5 1930.6v3.2M885 1930.6v5M899.6 1930.6v3.2M914.2 1930.6v3.2M928.9 1930.6v3.2M943.5 1930.6v5M958 1930.6v3.2M972.4 1930.6v3.2M986.8 1930.6v3.2M1001.3 1930.6v5" stroke="#1d2454" stroke-width="1.3" fill="none"/><text x="764.8" y="1946.8" font-size="10.2" font-family="'DejaVu Sans', sans-serif" fill="#2d3584" textLength="6.81" lengthAdjust="spacingAndGlyphs">0</text><text x="815.3" y="1946.8" font-size="10.2" font-family="'DejaVu Sans', sans-serif" fill="#2d3584" textLength="23.85" lengthAdjust="spacingAndGlyphs">65.5</text><text x="869.6" y="1946.8" font-size="10.2" font-family="'DejaVu Sans', sans-serif" fill="#2d3584" textLength="30.66" lengthAdjust="spacingAndGlyphs">131.1</text><text x="927.9" y="1946.8" font-size="10.2" font-family="'DejaVu Sans', sans-serif" fill="#2d3584" textLength="30.66" lengthAdjust="spacingAndGlyphs">196.6</text><text x="986.1" y="1946.8" font-size="10.2" font-family="'DejaVu Sans', sans-serif" fill="#2d3584" textLength="30.66" lengthAdjust="spacingAndGlyphs">262.1</text>
<path d="M768.2 1882.8h-5M768.2 1868.1h-3M768.2 1859.5h-3M768.2 1853.4h-3M768.2 1848.7h-3M768.2 1844.8h-3M768.2 1841.6h-3M768.2 1838.7h-3M768.2 1836.2h-3M768.2 1834h-5M768.2 1819.9h-3M768.2 1811.6h-3M768.2 1805.8h-3M768.2 1801.2h-3M768.2 1797.5h-3M768.2 1794.4h-3M768.2 1791.6h-3M768.2 1789.2h-3M768.2 1787.1h-5M768.2 1772.9h-3M768.2 1764.5h-3M768.2 1758.6h-3M768.2 1754h-3M768.2 1750.3h-3M768.2 1747.1h-3M768.2 1744.4h-3M768.2 1742h-3M768.2 1739.8h-5" stroke="#1d2454" stroke-width="1.1" fill="none"/>
<path d="M768.2 1914h-4M768.2 1919.5h-4M768.2 1925h-4" stroke="#1d2454" stroke-width="1.1"/>
<text x="743.8" y="1743.6" font-size="9.6" font-family="'DejaVu Sans', sans-serif" fill="#2d3584" textLength="12.83" lengthAdjust="spacingAndGlyphs">10</text><text x="756.7" y="1737.6" font-size="6.9" font-family="'DejaVu Sans', sans-serif" fill="#2d3584" textLength="5.83" lengthAdjust="spacingAndGlyphs">5</text>
<text x="743.8" y="1790.9" font-size="9.6" font-family="'DejaVu Sans', sans-serif" fill="#2d3584" textLength="12.83" lengthAdjust="spacingAndGlyphs">10</text><text x="757" y="1784.9" font-size="6.9" font-family="'DejaVu Sans', sans-serif" fill="#2d3584" textLength="5.17" lengthAdjust="spacingAndGlyphs">4</text>
<text x="743.8" y="1837.8" font-size="9.6" font-family="'DejaVu Sans', sans-serif" fill="#2d3584" textLength="12.83" lengthAdjust="spacingAndGlyphs">10</text><text x="756.7" y="1831.8" font-size="6.9" font-family="'DejaVu Sans', sans-serif" fill="#2d3584" textLength="5.73" lengthAdjust="spacingAndGlyphs">3</text>
<text x="743.8" y="1886.6" font-size="9.6" font-family="'DejaVu Sans', sans-serif" fill="#2d3584" textLength="12.83" lengthAdjust="spacingAndGlyphs">10</text><text x="756.7" y="1880.6" font-size="6.9" font-family="'DejaVu Sans', sans-serif" fill="#2d3584" textLength="5.94" lengthAdjust="spacingAndGlyphs">2</text>
<text x="740.2" y="1929.8" font-size="9.6" font-family="'DejaVu Sans', sans-serif" fill="#2d3584" textLength="16.46" lengthAdjust="spacingAndGlyphs">-10</text><text x="756.3" y="1923.8" font-size="6.9" font-family="'DejaVu Sans', sans-serif" fill="#2d3584" textLength="6.33" lengthAdjust="spacingAndGlyphs">1</text>
<text x="833.1" y="1961.9" font-size="13" font-family="'DejaVu Sans', sans-serif" fill="#2d3584" textLength="101.90" lengthAdjust="spacingAndGlyphs">FSC-A (x 1000)</text>
<text transform="translate(729.6 1875.4) rotate(-90)" x="-0.66" y="0" font-size="13" font-family="'DejaVu Sans', sans-serif" fill="#2d3584" textLength="102.88" lengthAdjust="spacingAndGlyphs">450/50 (355)-A</text>
<text x="876.1" y="1809.2" font-size="13.5" textLength="44.19" lengthAdjust="spacingAndGlyphs" fill="#9b3bb0">Gate 3</text>
<text x="876.1" y="1824.8" font-size="13.5" textLength="47.66" lengthAdjust="spacingAndGlyphs" fill="#9b3bb0">99.28%</text>
<rect x="48" y="1988.8" width="315.4" height="314.2" fill="none" stroke="#b35f4b" stroke-width="1.3"/><rect x="89.8" y="2003.1" width="222.6" height="31.3" fill="none" stroke="#b35f4b" stroke-width="1.2"/><text x="96.4" y="2015.1" font-size="10.4" font-family="'DejaVu Sans', sans-serif" fill="#2d3584" textLength="210.15" lengthAdjust="spacingAndGlyphs">Specimen_001_ABE egfr g1_006.fcs</text><text x="182.6" y="2029.2" font-size="10.4" font-family="'DejaVu Sans', sans-serif" fill="#2d3584" textLength="39.01" lengthAdjust="spacingAndGlyphs">Gate 3</text>
<path d="M239.2 2041.8h0m6.4 1.6h0m28.8 8h0m-16 3.2h0m-24 3.2h0m19.2 0h0m-9.6 1.6h0m25.6 0h0m-17.6 6.4h0m3.2 0h0m8 0h0m-14.4 1.6h0m35.2 1.6h0m-59.2 1.6h0m14.4 1.6h0m27.2 0h0m-11.2 1.6h0m17.6 1.6h0m-40 1.6h0m9.6 1.6h0m8 0h0m1.6 0h0m-25.6 1.6h0m16 0h0m-16 3.2h0m12.8 0h0m24 0h0m-27.2 1.6h0m1.6 0h0m-6.4 1.6h0m36.8 0h0m6.4 1.6h0m-8 1.6h0m14.4 0h0m-54.4 1.6h0m11.2 1.6h0m41.6 0h0m-52.8 1.6h0m-8 3.2h0m57.6 0h0m-8 1.6h0m4.8 0h0m-83.2 1.6h0m27.2 1.6h0m9.6 0h0m-9.6 1.6h0m-1.6 1.6h0m8 0h0m-14.4 3.2h0m6.4 1.6h0m57.6 1.6h0m0 8h0m6.4 1.6h0m-60.8 3.2h0m3.2 0h0m-1.6 3.2h0m57.6 0h0m-64 1.6h0m9.6 0h0m70.4 0h0m-73.6 4.8h0m54.4 3.2h0m-51.2 1.6h0m0 4.8h0m-16 3.2h0m12.8 0h0m54.4 0h0m8 0h0m-65.6 1.6h0m1.6 0h0m-3.2 1.6h0m11.2 0h0m-12.8 1.6h0m6.4 1.6h0m65.6 0h0m-70.4 1.6h0m59.2 0h0m1.6 3.2h0m1.6 0h0m-60.8 1.6h0m54.4 0h0m1.6 0h0m-49.6 1.6h0m46.4 1.6h0m-46.4 3.2h0m-6.4 1.6h0m-41.6 1.6h0m32 0h0m62.4 0h0m-40 1.6h0m38.4 0h0m6.4 0h0m6.4 0h0m-4.8 3.2h0m-1.6 3.2h0m-51.2 1.6h0m6.4 0h0m67.2 1.6h0m-72 1.6h0m51.2 3.2h0m-14.4 1.6h0m8 0h0m-48 1.6h0m38.4 0h0m8 0h0m8 0h0m-12.8 1.6h0m1.6 0h0m24 0h0m-57.6 1.6h0m1.6 0h0m-6.4 1.6h0m4.8 0h0m33.6 0h0m-30.4 1.6h0m46.4 0h0m-56 1.6h0m43.2 0h0m-54.4 1.6h0m57.6 0h0m-6.4 1.6h0m-32 3.2h0m1.6 0h0m-8 1.6h0m36.8 0h0m16 0h0m-14.4 1.6h0m-3.2 1.6h0m-24 4.8h0m-14.4 1.6h0m38.4 0h0m1.6 0h0m-32 3.2h0m32 0h0m1.6 1.6h0m-24 1.6h0m12.8 1.6h0m-14.4 1.6h0m24 0h0m-46.4 1.6h0m43.2 0h0m1.6 0h0m-38.4 1.6h0m4.8 0h0m8 0h0m19.2 0h0m3.2 0h0m-17.6 1.6h0m17.6 1.6h0m-22.4 6.4h0m6.4 0h0m1.6 0h0m6.4 1.6h0m-17.6 4.8h0m3.2 0h0m36.8 0h0m-24 1.6h0" stroke="#1a2580" stroke-width="1.75" stroke-linecap="square" fill="none"/><path d="M244 2064.2h0m12.8 3.2h0m-6.4 1.6h0m-3.2 1.6h0m3.2 0h0m-20.8 1.6h0m3.2 3.2h0m3.2 0h0m14.4 0h0m6.4 0h0m-16 1.6h0m1.6 0h0m3.2 0h0m6.4 0h0m8 1.6h0m1.6 0h0m-20.8 1.6h0m17.6 0h0m4.8 0h0m-17.6 1.6h0m11.2 0h0m-19.2 1.6h0m27.2 0h0m-20.8 1.6h0m9.6 0h0m-11.2 1.6h0m17.6 0h0m-17.6 1.6h0m20.8 0h0m-25.6 1.6h0m24 0h0m-22.4 1.6h0m24 0h0m1.6 0h0m4.8 1.6h0m3.2 0h0m-36.8 1.6h0m27.2 0h0m4.8 0h0m-33.6 1.6h0m40 0h0m-38.4 1.6h0m32 0h0m-1.6 1.6h0m-33.6 1.6h0m33.6 0h0m1.6 0h0m4.8 0h0m-1.6 4.8h0m-40 1.6h0m-12.8 1.6h0m56 0h0m-46.4 1.6h0m43.2 0h0m-41.6 1.6h0m41.6 0h0m-1.6 1.6h0m1.6 0h0m-46.4 3.2h0m44.8 0h0m3.2 0h0m-43.2 3.2h0m-3.2 1.6h0m1.6 1.6h0m43.2 3.2h0m3.2 0h0m-3.2 1.6h0m1.6 0h0m-51.2 1.6h0m49.6 0h0m-43.2 1.6h0m48 0h0m-1.6 1.6h0m-54.4 4.8h0m3.2 0h0m48 0h0m1.6 0h0m-48 3.2h0m3.2 0h0m51.2 1.6h0m-52.8 1.6h0m43.2 1.6h0m0 3.2h0m-41.6 1.6h0m43.2 0h0m-44.8 4.8h0m41.6 1.6h0m-51.2 1.6h0m51.2 0h0m1.6 0h0m1.6 0h0m-48 1.6h0m3.2 1.6h0m3.2 0h0m38.4 0h0m1.6 0h0m-43.2 1.6h0m1.6 1.6h0m43.2 3.2h0m-43.2 3.2h0m1.6 1.6h0m1.6 0h0m35.2 0h0m-36.8 1.6h0m41.6 0h0m-41.6 1.6h0m-6.4 1.6h0m4.8 0h0m3.2 0h0m30.4 1.6h0m-32 1.6h0m1.6 0h0m33.6 0h0m-41.6 1.6h0m6.4 0h0m1.6 0h0m3.2 0h0m-4.8 1.6h0m35.2 0h0m-38.4 1.6h0m40 0h0m-32 1.6h0m3.2 4.8h0m3.2 0h0m17.6 0h0m1.6 0h0m4.8 0h0m-28.8 1.6h0m27.2 0h0m-25.6 1.6h0m24 0h0m-25.6 1.6h0m-1.6 1.6h0m1.6 0h0m-3.2 1.6h0m4.8 0h0m19.2 1.6h0m3.2 0h0m3.2 0h0m-25.6 1.6h0m20.8 1.6h0m6.4 0h0m-27.2 1.6h0m4.8 0h0m14.4 0h0m1.6 0h0m-3.2 1.6h0m3.2 0h0m-24 1.6h0m27.2 0h0m1.6 0h0m3.2 0h0m-32 1.6h0m30.4 0h0m4.8 0h0m-25.6 1.6h0m-1.6 1.6h0m8 0h0m1.6 0h0m-22.4 1.6h0m8 0h0m20.8 0h0m-12.8 1.6h0m-3.2 1.6h0m3.2 0h0m1.6 0h0m-4.8 1.6h0m8 0h0m9.6 0h0m-12.8 1.6h0m1.6 0h0m-12.8 1.6h0m8 1.6h0m6.4 0h0m-8 1.6h0m11.2 0h0m-11.2 1.6h0m1.6 1.6h0m8 0h0m-12.8 3.2h0m3.2 0h0" stroke="#21359c" stroke-width="1.75" stroke-linecap="square" fill="none"/><path d="M255.2 2057.8h0m6.4 16h0m-6.4 1.6h0m-4.8 1.6h0m3.2 0h0m-16 3.2h0m35.2 0h0m-24 1.6h0m-3.2 1.6h0m1.6 0h0m3.2 0h0m0 1.6h0m6.4 0h0m-11.2 1.6h0m1.6 0h0m1.6 0h0m4.8 0h0m1.6 0h0m1.6 0h0m4.8 0h0m8 0h0m-16 1.6h0m4.8 0h0m-16 1.6h0m12.8 0h0m1.6 0h0m-16 1.6h0m17.6 0h0m8 0h0m1.6 0h0m-28.8 1.6h0m1.6 0h0m24 0h0m-27.2 1.6h0m27.2 0h0m-40 1.6h0m12.8 0h0m22.4 0h0m1.6 0h0m-27.2 1.6h0m3.2 0h0m1.6 0h0m25.6 0h0m-32 1.6h0m32 0h0m-30.4 1.6h0m33.6 1.6h0m-1.6 1.6h0m1.6 1.6h0m-35.2 1.6h0m33.6 0h0m1.6 0h0m-1.6 3.2h0m-38.4 3.2h0m1.6 0h0m1.6 0h0m-1.6 3.2h0m1.6 1.6h0m38.4 0h0m0 1.6h0m3.2 1.6h0m-1.6 1.6h0m0 1.6h0m-46.4 1.6h0m44.8 0h0m-41.6 1.6h0m41.6 0h0m-43.2 1.6h0m1.6 0h0m-1.6 1.6h0m44.8 0h0m1.6 0h0m-46.4 1.6h0m1.6 0h0m41.6 0h0m1.6 0h0m-46.4 1.6h0m1.6 0h0m1.6 0h0m43.2 0h0m-46.4 1.6h0m1.6 0h0m43.2 0h0m3.2 0h0m-44.8 1.6h0m41.6 0h0m-44.8 4.8h0m1.6 0h0m44.8 0h0m-3.2 3.2h0m-41.6 1.6h0m43.2 0h0m-40 3.2h0m38.4 0h0m-40 1.6h0m40 1.6h0m1.6 0h0m-1.6 1.6h0m3.2 0h0m-4.8 3.2h0m-1.6 1.6h0m3.2 0h0m-36.8 1.6h0m40 0h0m-41.6 1.6h0m1.6 0h0m35.2 0h0m-36.8 1.6h0m33.6 0h0m-36.8 1.6h0m4.8 0h0m-1.6 1.6h0m32 0h0m1.6 0h0m4.8 0h0m-4.8 1.6h0m3.2 0h0m1.6 0h0m-35.2 1.6h0m28.8 0h0m1.6 0h0m-28.8 1.6h0m1.6 0h0m27.2 0h0m-32 1.6h0m3.2 0h0m24 0h0m1.6 0h0m1.6 0h0m6.4 0h0m-41.6 1.6h0m4.8 0h0m4.8 0h0m-1.6 1.6h0m25.6 0h0m1.6 0h0m4.8 0h0m-33.6 1.6h0m1.6 1.6h0m1.6 0h0m24 0h0m1.6 1.6h0m1.6 0h0m3.2 0h0m-38.4 1.6h0m9.6 0h0m20.8 0h0m1.6 0h0m3.2 0h0m-27.2 1.6h0m1.6 0h0m9.6 0h0m-11.2 1.6h0m1.6 0h0m19.2 0h0m3.2 0h0m-22.4 1.6h0m19.2 0h0m-28.8 1.6h0m6.4 0h0m1.6 0h0m19.2 0h0m3.2 0h0m-19.2 1.6h0m14.4 0h0m1.6 0h0m1.6 0h0m-12.8 1.6h0m6.4 0h0m8 0h0m1.6 0h0m-20.8 1.6h0m14.4 0h0m-1.6 1.6h0m3.2 0h0m3.2 0h0m8 0h0m-27.2 1.6h0m1.6 0h0m17.6 0h0m-22.4 1.6h0m20.8 0h0m-19.2 1.6h0m3.2 0h0m8 0h0m3.2 0h0m6.4 0h0m-17.6 1.6h0m1.6 0h0m4.8 0h0m9.6 0h0m1.6 0h0m1.6 0h0m-22.4 1.6h0m1.6 0h0m3.2 0h0m1.6 0h0m3.2 0h0m8 0h0m1.6 0h0m-16 1.6h0m3.2 0h0m1.6 0h0m1.6 0h0m3.2 0h0m3.2 0h0m1.6 0h0m4.8 0h0m-27.2 1.6h0m8 0h0m12.8 0h0m3.2 0h0m-17.6 1.6h0m9.6 0h0m-6.4 1.6h0m6.4 0h0m3.2 0h0m-4.8 1.6h0m1.6 0h0m9.6 0h0m-24 1.6h0m12.8 0h0m6.4 0h0m-14.4 1.6h0m4.8 0h0m3.2 0h0m-8 1.6h0m14.4 0h0m1.6 3.2h0m-16 1.6h0m8 3.2h0" stroke="#2a4db6" stroke-width="1.75" stroke-linecap="square" fill="none"/><path d="M258.4 2085h0m-8 1.6h0m8 0h0m-12.8 1.6h0m1.6 0h0m1.6 0h0m1.6 0h0m1.6 0h0m-4.8 1.6h0m1.6 0h0m1.6 0h0m3.2 0h0m-8 1.6h0m3.2 0h0m1.6 0h0m4.8 0h0m1.6 0h0m-11.2 1.6h0m1.6 0h0m1.6 0h0m3.2 0h0m3.2 0h0m1.6 0h0m3.2 0h0m-20.8 1.6h0m1.6 0h0m17.6 0h0m1.6 0h0m-20.8 1.6h0m1.6 0h0m0 1.6h0m20.8 0h0m1.6 0h0m-27.2 1.6h0m1.6 0h0m1.6 0h0m22.4 0h0m1.6 0h0m-27.2 1.6h0m1.6 0h0m3.2 0h0m-4.8 1.6h0m1.6 0h0m27.2 0h0m-30.4 1.6h0m-1.6 1.6h0m1.6 0h0m28.8 0h0m1.6 0h0m1.6 0h0m-32 1.6h0m28.8 0h0m3.2 1.6h0m1.6 0h0m0 1.6h0m-36.8 1.6h0m1.6 0h0m0 1.6h0m33.6 0h0m1.6 0h0m0 1.6h0m1.6 0h0m-38.4 1.6h0m36.8 0h0m-40 3.2h0m3.2 0h0m36.8 0h0m-38.4 1.6h0m40 0h0m0 1.6h0m-44.8 1.6h0m3.2 0h0m41.6 0h0m-40 1.6h0m0 1.6h0m0 3.2h0m40 0h0m-40 1.6h0m40 1.6h0m-41.6 1.6h0m1.6 1.6h0m-1.6 1.6h0m40 0h0m-38.4 1.6h0m41.6 0h0m-43.2 1.6h0m40 0h0m-40 1.6h0m1.6 0h0m-1.6 1.6h0m1.6 1.6h0m38.4 0h0m-1.6 1.6h0m1.6 0h0m-38.4 3.2h0m1.6 0h0m35.2 0h0m-38.4 1.6h0m36.8 0h0m-35.2 1.6h0m36.8 0h0m-35.2 1.6h0m-1.6 1.6h0m0 1.6h0m36.8 0h0m-1.6 1.6h0m-1.6 1.6h0m-28.8 1.6h0m-1.6 1.6h0m28.8 0h0m1.6 0h0m1.6 0h0m-32 1.6h0m0 1.6h0m1.6 0h0m27.2 0h0m-25.6 1.6h0m-3.2 1.6h0m27.2 0h0m1.6 0h0m-24 1.6h0m19.2 1.6h0m1.6 0h0m1.6 0h0m-24 1.6h0m1.6 0h0m19.2 0h0m0 1.6h0m1.6 0h0m1.6 0h0m-22.4 1.6h0m11.2 0h0m6.4 0h0m3.2 0h0m4.8 0h0m-24 1.6h0m17.6 0h0m1.6 0h0m-22.4 1.6h0m3.2 0h0m12.8 0h0m-12.8 1.6h0m1.6 0h0m11.2 0h0m4.8 0h0m1.6 0h0m-6.4 1.6h0m1.6 0h0m-17.6 1.6h0m3.2 0h0m1.6 0h0m3.2 0h0m3.2 0h0m1.6 0h0m1.6 0h0m4.8 0h0m-14.4 1.6h0m3.2 0h0m4.8 0h0m1.6 0h0m3.2 0h0m-9.6 1.6h0m-3.2 1.6h0m4.8 0h0m1.6 0h0m4.8 0h0m3.2 0h0m1.6 0h0m-20.8 1.6h0m4.8 0h0m1.6 0h0m3.2 0h0m4.8 0h0m1.6 0h0m3.2 0h0m1.6 0h0m-16 1.6h0m1.6 0h0m4.8 0h0m3.2 0h0m6.4 0h0m-14.4 1.6h0m1.6 0h0m3.2 0h0m1.6 0h0m1.6 0h0m1.6 0h0m1.6 0h0m1.6 0h0m-12.8 1.6h0m1.6 0h0m4.8 0h0m3.2 0h0m1.6 0h0m1.6 0h0m-12.8 1.6h0m3.2 0h0m1.6 0h0m3.2 0h0m4.8 0h0m-16 1.6h0m4.8 0h0m1.6 0h0m3.2 0h0m1.6 0h0m1.6 0h0m-17.6 1.6h0m11.2 0h0m3.2 0h0m1.6 0h0m-11.2 1.6h0m9.6 0h0m3.2 0h0m-8 1.6h0m6.4 0h0m1.6 0h0m-9.6 1.6h0m8 0h0m-11.2 1.6h0m6.4 1.6h0m8 0h0m-4.8 1.6h0m-3.2 1.6h0" stroke="#2f8ac8" stroke-width="1.75" stroke-linecap="square" fill="none"/><path d="M252 2089.8h0m-8 1.6h0m3.2 0h0m4.8 0h0m1.6 0h0m-11.2 1.6h0m1.6 0h0m6.4 0h0m3.2 0h0m4.8 0h0m-16 1.6h0m3.2 0h0m1.6 0h0m6.4 0h0m3.2 0h0m-14.4 1.6h0m14.4 0h0m1.6 0h0m-16 1.6h0m17.6 0h0m-19.2 1.6h0m20.8 1.6h0m1.6 0h0m-24 1.6h0m22.4 0h0m1.6 0h0m-27.2 1.6h0m27.2 0h0m1.6 0h0m-28.8 1.6h0m25.6 1.6h0m3.2 0h0m-30.4 1.6h0m28.8 0h0m1.6 0h0m-32 1.6h0m1.6 0h0m30.4 0h0m3.2 1.6h0m-33.6 1.6h0m-3.2 1.6h0m1.6 0h0m33.6 0h0m0 1.6h0m-33.6 1.6h0m35.2 0h0m-35.2 1.6h0m-1.6 1.6h0m35.2 0h0m-35.2 1.6h0m0 1.6h0m36.8 0h0m0 1.6h0m0 1.6h0m-38.4 1.6h0m1.6 0h0m36.8 0h0m1.6 0h0m-1.6 1.6h0m0 1.6h0m-38.4 1.6h0m38.4 0h0m-38.4 1.6h0m38.4 0h0m-36.8 1.6h0m35.2 0h0m-36.8 1.6h0m36.8 1.6h0m1.6 0h0m-1.6 1.6h0m0 1.6h0m1.6 0h0m-36.8 1.6h0m35.2 0h0m-35.2 1.6h0m35.2 0h0m-36.8 1.6h0m1.6 1.6h0m33.6 0h0m1.6 0h0m1.6 1.6h0m-38.4 1.6h0m36.8 0h0m-35.2 1.6h0m32 0h0m1.6 1.6h0m-33.6 1.6h0m1.6 0h0m30.4 0h0m1.6 0h0m-33.6 1.6h0m1.6 1.6h0m30.4 0h0m-30.4 1.6h0m0 1.6h0m28.8 0h0m-27.2 1.6h0m0 1.6h0m25.6 0h0m-24 1.6h0m1.6 0h0m22.4 0h0m-25.6 1.6h0m25.6 0h0m-22.4 1.6h0m20.8 0h0m-22.4 1.6h0m3.2 0h0m17.6 0h0m-19.2 1.6h0m1.6 0h0m12.8 0h0m-12.8 1.6h0m1.6 0h0m4.8 0h0m9.6 0h0m3.2 0h0m-20.8 1.6h0m1.6 0h0m9.6 0h0m6.4 0h0m-16 1.6h0m1.6 0h0m1.6 0h0m4.8 0h0m4.8 0h0m1.6 0h0m3.2 0h0m-19.2 1.6h0m3.2 0h0m1.6 0h0m6.4 0h0m1.6 0h0m1.6 0h0m3.2 0h0m-22.4 1.6h0m8 0h0m1.6 0h0m1.6 0h0m3.2 0h0m1.6 0h0m1.6 0h0m3.2 0h0m3.2 0h0m-14.4 1.6h0m1.6 0h0m4.8 0h0m1.6 0h0m4.8 0h0m-16 1.6h0m1.6 0h0m1.6 0h0m1.6 0h0m3.2 0h0m1.6 0h0m6.4 0h0m-12.8 1.6h0m3.2 0h0m6.4 0h0m1.6 0h0m-11.2 1.6h0m3.2 0h0m1.6 0h0m4.8 0h0m-6.4 1.6h0m1.6 0h0m1.6 0h0m1.6 0h0m1.6 0h0m-9.6 1.6h0m6.4 0h0m4.8 0h0m-9.6 1.6h0m3.2 0h0m1.6 0h0m-4.8 1.6h0m1.6 0h0m3.2 0h0m4.8 0h0m-6.4 3.2h0m3.2 0h0m3.2 1.6h0m1.6 1.6h0m-9.6 4.8h0m3.2 0h0" stroke="#34b0b0" stroke-width="1.75" stroke-linecap="square" fill="none"/><path d="M244 2094.6h0m4.8 0h0m1.6 0h0m4.8 0h0m-11.2 1.6h0m1.6 0h0m1.6 0h0m1.6 0h0m1.6 0h0m1.6 0h0m1.6 0h0m1.6 0h0m-11.2 1.6h0m8 0h0m1.6 0h0m3.2 0h0m1.6 0h0m-16 1.6h0m3.2 0h0m11.2 0h0m1.6 0h0m1.6 0h0m-20.8 1.6h0m3.2 0h0m16 0h0m1.6 0h0m-19.2 1.6h0m19.2 0h0m-22.4 1.6h0m1.6 0h0m-1.6 1.6h0m-1.6 1.6h0m0 1.6h0m25.6 0h0m1.6 1.6h0m-28.8 1.6h0m1.6 0h0m28.8 0h0m1.6 0h0m-32 3.2h0m30.4 0h0m-32 1.6h0m1.6 0h0m28.8 0h0m3.2 1.6h0m0 1.6h0m-33.6 1.6h0m35.2 0h0m-35.2 1.6h0m33.6 0h0m1.6 0h0m-35.2 1.6h0m32 0h0m1.6 0h0m-35.2 1.6h0m1.6 0h0m33.6 0h0m-35.2 1.6h0m1.6 0h0m-1.6 3.2h0m35.2 0h0m-35.2 1.6h0m35.2 0h0m-35.2 1.6h0m0 1.6h0m35.2 0h0m1.6 1.6h0m-36.8 1.6h0m35.2 0h0m-35.2 1.6h0m-1.6 1.6h0m3.2 0h0m-1.6 1.6h0m-1.6 1.6h0m35.2 1.6h0m-33.6 1.6h0m1.6 1.6h0m0 1.6h0m30.4 0h0m1.6 0h0m-33.6 1.6h0m1.6 0h0m0 1.6h0m32 0h0m-32 1.6h0m1.6 0h0m27.2 0h0m1.6 0h0m-28.8 1.6h0m27.2 0h0m-28.8 1.6h0m28.8 0h0m1.6 0h0m-28.8 1.6h0m1.6 0h0m25.6 0h0m-27.2 1.6h0m1.6 0h0m24 0h0m1.6 0h0m-1.6 1.6h0m-24 1.6h0m1.6 0h0m20.8 0h0m1.6 0h0m-1.6 1.6h0m-19.2 1.6h0m1.6 0h0m16 0h0m-19.2 1.6h0m3.2 0h0m14.4 0h0m1.6 0h0m1.6 0h0m-17.6 1.6h0m14.4 0h0m1.6 0h0m-16 1.6h0m14.4 0h0m-14.4 1.6h0m4.8 0h0m8 0h0m1.6 0h0m-8 1.6h0m1.6 0h0m3.2 0h0m1.6 0h0m-12.8 1.6h0m4.8 0h0m1.6 0h0m6.4 0h0m-9.6 1.6h0m1.6 0h0m4.8 0h0m-6.4 1.6h0m1.6 0h0m1.6 0h0m6.4 0h0m-8 1.6h0m9.6 0h0m-9.6 1.6h0m8 0h0m-8 1.6h0m4.8 0h0m-8 4.8h0m3.2 6.4h0m0 1.6h0" stroke="#3db54a" stroke-width="1.75" stroke-linecap="square" fill="none"/><path d="M252 2094.6h0m-6.4 3.2h0m1.6 0h0m1.6 0h0m1.6 0h0m4.8 0h0m-11.2 1.6h0m3.2 0h0m1.6 0h0m3.2 0h0m3.2 0h0m-11.2 1.6h0m1.6 0h0m3.2 0h0m4.8 0h0m1.6 0h0m1.6 0h0m-14.4 1.6h0m1.6 0h0m14.4 0h0m-17.6 1.6h0m1.6 0h0m1.6 0h0m12.8 0h0m3.2 0h0m1.6 0h0m-22.4 1.6h0m3.2 0h0m17.6 0h0m1.6 0h0m-24 1.6h0m1.6 0h0m1.6 0h0m-3.2 1.6h0m1.6 0h0m20.8 0h0m-24 1.6h0m1.6 0h0m24 0h0m1.6 1.6h0m-27.2 1.6h0m1.6 0h0m27.2 0h0m-28.8 1.6h0m27.2 0h0m-27.2 1.6h0m28.8 0h0m-30.4 1.6h0m0 1.6h0m0 1.6h0m30.4 0h0m-30.4 1.6h0m30.4 0h0m-30.4 1.6h0m30.4 1.6h0m0 1.6h0m1.6 0h0m-33.6 1.6h0m33.6 0h0m-33.6 1.6h0m32 0h0m-32 1.6h0m32 0h0m0 1.6h0m1.6 0h0m-33.6 1.6h0m32 0h0m-32 1.6h0m32 0h0m0 1.6h0m-32 1.6h0m30.4 0h0m1.6 0h0m-33.6 1.6h0m33.6 0h0m-32 1.6h0m32 0h0m-32 1.6h0m32 0h0m-32 1.6h0m30.4 0h0m-30.4 1.6h0m30.4 0h0m1.6 0h0m-1.6 1.6h0m-28.8 1.6h0m0 1.6h0m25.6 4.8h0m-25.6 1.6h0m1.6 0h0m24 1.6h0m-22.4 1.6h0m20.8 0h0m-22.4 1.6h0m20.8 0h0m1.6 0h0m-1.6 1.6h0m-20.8 1.6h0m1.6 0h0m19.2 0h0m-14.4 1.6h0m16 0h0m-19.2 1.6h0m3.2 0h0m11.2 0h0m-14.4 1.6h0m3.2 0h0m1.6 0h0m9.6 0h0m-11.2 1.6h0m1.6 0h0m1.6 0h0m1.6 0h0m4.8 0h0m-9.6 1.6h0m1.6 0h0m3.2 0h0m3.2 0h0m-8 1.6h0m1.6 0h0m6.4 0h0m-8 1.6h0m1.6 0h0m6.4 0h0m1.6 0h0" stroke="#8fcb38" stroke-width="1.75" stroke-linecap="square" fill="none"/><path d="M250.4 2099.4h0m3.2 0h0m-3.2 1.6h0m1.6 0h0m-6.4 1.6h0m8 0h0m1.6 0h0m1.6 0h0m-1.6 1.6h0m3.2 0h0m-17.6 1.6h0m3.2 0h0m14.4 0h0m1.6 1.6h0m-19.2 1.6h0m17.6 0h0m-19.2 1.6h0m20.8 0h0m-22.4 1.6h0m24 0h0m0 1.6h0m1.6 0h0m-25.6 1.6h0m24 0h0m-24 1.6h0m-1.6 1.6h0m1.6 0h0m25.6 0h0m1.6 0h0m-28.8 1.6h0m27.2 0h0m1.6 0h0m-1.6 4.8h0m-28.8 4.8h0m28.8 0h0m1.6 0h0m-30.4 1.6h0m28.8 0h0m-30.4 3.2h0m30.4 1.6h0m0 1.6h0m-30.4 1.6h0m1.6 0h0m28.8 0h0m-28.8 3.2h0m28.8 0h0m-28.8 1.6h0m28.8 0h0m0 1.6h0m-28.8 1.6h0m0 1.6h0m27.2 0h0m-27.2 1.6h0m27.2 0h0m-25.6 1.6h0m25.6 0h0m0 1.6h0m1.6 0h0m-28.8 1.6h0m1.6 0h0m25.6 0h0m-25.6 3.2h0m1.6 0h0m0 1.6h0m22.4 0h0m-22.4 1.6h0m20.8 0h0m-3.2 1.6h0m1.6 0h0m-19.2 1.6h0m1.6 0h0m1.6 1.6h0m14.4 0h0m-16 1.6h0m1.6 0h0m14.4 0h0m-3.2 1.6h0m1.6 0h0m1.6 0h0m-11.2 1.6h0m8 0h0m-6.4 1.6h0m1.6 0h0m1.6 0h0m1.6 0h0m1.6 0h0m-3.2 1.6h0m1.6 0h0m3.2 0h0m-4.8 1.6h0" stroke="#e7e51f" stroke-width="1.75" stroke-linecap="square" fill="none"/><path d="M247.2 2101h0m0 1.6h0m1.6 0h0m1.6 0h0m1.6 0h0m-6.4 1.6h0m1.6 0h0m1.6 0h0m1.6 0h0m1.6 0h0m1.6 0h0m-6.4 1.6h0m8 0h0m1.6 0h0m-14.4 1.6h0m3.2 0h0m8 0h0m1.6 0h0m1.6 0h0m1.6 0h0m-16 1.6h0m3.2 0h0m1.6 0h0m-6.4 1.6h0m1.6 0h0m14.4 0h0m1.6 0h0m-19.2 1.6h0m1.6 0h0m1.6 0h0m11.2 0h0m4.8 0h0m1.6 0h0m-20.8 1.6h0m19.2 0h0m1.6 0h0m-20.8 1.6h0m20.8 0h0m-20.8 1.6h0m20.8 0h0m1.6 0h0m0 1.6h0m-24 1.6h0m20.8 0h0m1.6 0h0m-24 1.6h0m1.6 0h0m24 0h0m1.6 0h0m-27.2 1.6h0m1.6 0h0m24 0h0m1.6 0h0m-27.2 1.6h0m1.6 0h0m24 0h0m-27.2 1.6h0m1.6 0h0m-1.6 1.6h0m1.6 0h0m27.2 0h0m-25.6 1.6h0m24 1.6h0m-27.2 1.6h0m27.2 0h0m-27.2 1.6h0m0 1.6h0m1.6 0h0m25.6 0h0m-27.2 1.6h0m3.2 0h0m-1.6 1.6h0m25.6 0h0m-27.2 1.6h0m27.2 0h0m0 1.6h0m-25.6 1.6h0m25.6 0h0m-27.2 1.6h0m1.6 0h0m25.6 0h0m-25.6 1.6h0m25.6 0h0m-25.6 1.6h0m24 0h0m-24 1.6h0m24 0h0m-22.4 1.6h0m22.4 0h0m-24 1.6h0m22.4 0h0m1.6 0h0m-22.4 1.6h0m1.6 0h0m19.2 0h0m1.6 0h0m-24 1.6h0m1.6 0h0m1.6 0h0m17.6 0h0m1.6 0h0m1.6 0h0m-3.2 1.6h0m1.6 0h0m-19.2 1.6h0m1.6 0h0m16 0h0m1.6 0h0m-19.2 1.6h0m1.6 0h0m14.4 0h0m1.6 0h0m-17.6 1.6h0m1.6 0h0m12.8 0h0m0 1.6h0m1.6 0h0m-16 1.6h0m3.2 0h0m1.6 0h0m8 0h0m1.6 0h0m-11.2 1.6h0m1.6 0h0m6.4 0h0m1.6 0h0m1.6 0h0m-8 1.6h0m1.6 0h0m3.2 0h0m-3.2 1.6h0m1.6 0h0m1.6 0h0" stroke="#f6c21e" stroke-width="1.75" stroke-linecap="square" fill="none"/><path d="M245.6 2105.8h0m3.2 0h0m1.6 0h0m3.2 0h0m-9.6 1.6h0m3.2 0h0m1.6 0h0m1.6 0h0m1.6 0h0m-8 1.6h0m4.8 0h0m1.6 0h0m1.6 0h0m3.2 0h0m1.6 0h0m-11.2 1.6h0m4.8 0h0m1.6 0h0m-8 1.6h0m1.6 0h0m4.8 0h0m6.4 0h0m-16 1.6h0m1.6 0h0m12.8 0h0m1.6 0h0m-16 1.6h0m1.6 0h0m4.8 0h0m-6.4 1.6h0m1.6 0h0m14.4 0h0m1.6 0h0m-19.2 1.6h0m1.6 0h0m16 0h0m1.6 0h0m1.6 0h0m-20.8 1.6h0m17.6 0h0m4.8 0h0m-22.4 1.6h0m19.2 0h0m1.6 0h0m-20.8 1.6h0m19.2 0h0m1.6 0h0m-22.4 3.2h0m1.6 0h0m20.8 0h0m1.6 0h0m1.6 0h0m-25.6 1.6h0m24 0h0m-25.6 1.6h0m25.6 0h0m-25.6 1.6h0m1.6 0h0m19.2 0h0m3.2 0h0m-24 1.6h0m1.6 0h0m25.6 0h0m-27.2 1.6h0m1.6 0h0m22.4 0h0m1.6 0h0m1.6 0h0m-3.2 1.6h0m-24 1.6h0m22.4 0h0m1.6 0h0m1.6 0h0m-3.2 1.6h0m-22.4 1.6h0m1.6 0h0m3.2 0h0m17.6 0h0m1.6 0h0m-24 1.6h0m3.2 0h0m20.8 0h0m-19.2 1.6h0m19.2 0h0m-22.4 1.6h0m22.4 0h0m-22.4 1.6h0m19.2 0h0m1.6 0h0m1.6 0h0m-22.4 3.2h0m1.6 0h0m19.2 0h0m-19.2 1.6h0m17.6 0h0m1.6 0h0m-20.8 1.6h0m1.6 0h0m16 0h0m1.6 0h0m-16 1.6h0m16 0h0m-16 3.2h0m1.6 0h0m11.2 0h0m1.6 0h0m-12.8 1.6h0m9.6 0h0m1.6 0h0m1.6 0h0m-12.8 1.6h0m1.6 0h0m1.6 0h0m1.6 0h0m1.6 0h0m4.8 0h0m-11.2 1.6h0m1.6 0h0m1.6 0h0m1.6 0h0m1.6 0h0m1.6 0h0m-9.6 1.6h0m1.6 0h0m1.6 0h0m1.6 0h0m1.6 0h0m1.6 0h0m1.6 0h0m1.6 0h0m-6.4 1.6h0m1.6 0h0m1.6 0h0m1.6 0h0m-4.8 1.6h0m1.6 0h0m1.6 0h0m-4.8 1.6h0m4.8 0h0m-3.2 1.6h0" stroke="#f3841f" stroke-width="1.75" stroke-linecap="square" fill="none"/><path d="M252 2105.8h0m1.6 3.2h0m-9.6 1.6h0m3.2 0h0m1.6 0h0m4.8 0h0m1.6 0h0m-8 1.6h0m1.6 0h0m3.2 0h0m3.2 0h0m-11.2 1.6h0m1.6 0h0m1.6 0h0m1.6 0h0m1.6 0h0m1.6 0h0m1.6 0h0m-9.6 1.6h0m1.6 0h0m3.2 0h0m1.6 0h0m1.6 0h0m1.6 0h0m1.6 0h0m1.6 0h0m1.6 0h0m-14.4 1.6h0m1.6 0h0m1.6 0h0m1.6 0h0m1.6 0h0m1.6 0h0m1.6 0h0m1.6 0h0m-12.8 1.6h0m1.6 0h0m1.6 0h0m1.6 0h0m1.6 0h0m1.6 0h0m1.6 0h0m1.6 0h0m1.6 0h0m-14.4 1.6h0m1.6 0h0m1.6 0h0m1.6 0h0m1.6 0h0m1.6 0h0m1.6 0h0m1.6 0h0m1.6 0h0m1.6 0h0m-14.4 1.6h0m1.6 0h0m1.6 0h0m1.6 0h0m1.6 0h0m1.6 0h0m1.6 0h0m1.6 0h0m1.6 0h0m1.6 0h0m1.6 0h0m-16 1.6h0m1.6 0h0m1.6 0h0m1.6 0h0m1.6 0h0m1.6 0h0m1.6 0h0m1.6 0h0m1.6 0h0m1.6 0h0m1.6 0h0m-17.6 1.6h0m1.6 0h0m1.6 0h0m1.6 0h0m1.6 0h0m1.6 0h0m1.6 0h0m1.6 0h0m1.6 0h0m1.6 0h0m1.6 0h0m1.6 0h0m1.6 0h0m1.6 0h0m-19.2 1.6h0m1.6 0h0m1.6 0h0m1.6 0h0m1.6 0h0m1.6 0h0m1.6 0h0m1.6 0h0m1.6 0h0m1.6 0h0m1.6 0h0m1.6 0h0m-19.2 1.6h0m1.6 0h0m1.6 0h0m1.6 0h0m1.6 0h0m1.6 0h0m1.6 0h0m1.6 0h0m1.6 0h0m1.6 0h0m1.6 0h0m1.6 0h0m1.6 0h0m1.6 0h0m-20.8 1.6h0m1.6 0h0m1.6 0h0m1.6 0h0m1.6 0h0m1.6 0h0m1.6 0h0m1.6 0h0m1.6 0h0m1.6 0h0m1.6 0h0m1.6 0h0m1.6 0h0m1.6 0h0m-20.8 1.6h0m1.6 0h0m1.6 0h0m1.6 0h0m1.6 0h0m1.6 0h0m1.6 0h0m1.6 0h0m1.6 0h0m1.6 0h0m1.6 0h0m3.2 0h0m-19.2 1.6h0m1.6 0h0m1.6 0h0m1.6 0h0m1.6 0h0m1.6 0h0m1.6 0h0m1.6 0h0m1.6 0h0m1.6 0h0m1.6 0h0m1.6 0h0m1.6 0h0m1.6 0h0m-20.8 1.6h0m1.6 0h0m1.6 0h0m1.6 0h0m1.6 0h0m1.6 0h0m1.6 0h0m1.6 0h0m1.6 0h0m1.6 0h0m1.6 0h0m1.6 0h0m1.6 0h0m-20.8 1.6h0m1.6 0h0m1.6 0h0m1.6 0h0m1.6 0h0m1.6 0h0m1.6 0h0m1.6 0h0m1.6 0h0m1.6 0h0m1.6 0h0m1.6 0h0m1.6 0h0m1.6 0h0m-19.2 1.6h0m1.6 0h0m1.6 0h0m1.6 0h0m1.6 0h0m1.6 0h0m1.6 0h0m1.6 0h0m1.6 0h0m1.6 0h0m1.6 0h0m1.6 0h0m-19.2 1.6h0m1.6 0h0m1.6 0h0m1.6 0h0m1.6 0h0m1.6 0h0m1.6 0h0m1.6 0h0m1.6 0h0m1.6 0h0m1.6 0h0m1.6 0h0m1.6 0h0m3.2 0h0m-20.8 1.6h0m3.2 0h0m1.6 0h0m1.6 0h0m1.6 0h0m1.6 0h0m1.6 0h0m1.6 0h0m1.6 0h0m1.6 0h0m1.6 0h0m-19.2 1.6h0m3.2 0h0m1.6 0h0m1.6 0h0m1.6 0h0m1.6 0h0m1.6 0h0m1.6 0h0m1.6 0h0m1.6 0h0m1.6 0h0m1.6 0h0m1.6 0h0m-20.8 1.6h0m1.6 0h0m3.2 0h0m1.6 0h0m1.6 0h0m1.6 0h0m1.6 0h0m1.6 0h0m1.6 0h0m1.6 0h0m1.6 0h0m1.6 0h0m1.6 0h0m-19.2 1.6h0m1.6 0h0m1.6 0h0m1.6 0h0m1.6 0h0m1.6 0h0m1.6 0h0m1.6 0h0m1.6 0h0m1.6 0h0m1.6 0h0m1.6 0h0m1.6 0h0m-19.2 1.6h0m1.6 0h0m1.6 0h0m1.6 0h0m1.6 0h0m1.6 0h0m1.6 0h0m1.6 0h0m1.6 0h0m1.6 0h0m1.6 0h0m-17.6 1.6h0m1.6 0h0m1.6 0h0m1.6 0h0m1.6 0h0m1.6 0h0m1.6 0h0m1.6 0h0m1.6 0h0m1.6 0h0m1.6 0h0m1.6 0h0m1.6 0h0m1.6 0h0m-17.6 1.6h0m1.6 0h0m1.6 0h0m1.6 0h0m1.6 0h0m1.6 0h0m1.6 0h0m1.6 0h0m1.6 0h0m1.6 0h0m1.6 0h0m-16 1.6h0m1.6 0h0m1.6 0h0m1.6 0h0m1.6 0h0m1.6 0h0m1.6 0h0m1.6 0h0m1.6 0h0m1.6 0h0m-14.4 1.6h0m1.6 0h0m1.6 0h0m1.6 0h0m1.6 0h0m1.6 0h0m1.6 0h0m1.6 0h0m1.6 0h0m-11.2 1.6h0m1.6 0h0m1.6 0h0m1.6 0h0m1.6 0h0m1.6 0h0m1.6 0h0m1.6 0h0m1.6 0h0m-14.4 1.6h0m1.6 0h0m1.6 0h0m1.6 0h0m1.6 0h0m1.6 0h0m1.6 0h0m1.6 0h0m1.6 0h0m1.6 0h0m-16 1.6h0m4.8 0h0m1.6 0h0m1.6 0h0m1.6 0h0m1.6 0h0m1.6 0h0m-8 1.6h0m1.6 0h0m1.6 0h0m1.6 0h0m1.6 0h0m0 1.6h0m1.6 0h0m0 1.6h0" stroke="#e3281b" stroke-width="1.75" stroke-linecap="square" fill="none"/>
<rect x="202.4" y="2076.7" width="99.4" height="114.6" fill="none" stroke="#3aa63a" stroke-width="1.2"/>
<path d="M110 2039.6V2251.1H343.7" fill="none" stroke="#1d2454" stroke-width="2.0"/>
<path d="M110 2206.4h-5M110 2191.3h-3M110 2182.4h-3M110 2176.2h-3M110 2171.3h-3M110 2167.3h-3M110 2164h-3M110 2161.1h-3M110 2158.5h-3M110 2156.2h-5M110 2141.7h-3M110 2133.2h-3M110 2127.2h-3M110 2122.5h-3M110 2118.7h-3M110 2115.5h-3M110 2112.7h-3M110 2110.2h-3M110 2108h-5M110 2094.2h-3M110 2086.1h-3M110 2080.3h-3M110 2075.8h-3M110 2072.2h-3M110 2069.1h-3M110 2066.5h-3M110 2064.1h-3M110 2062h-5" stroke="#1d2454" stroke-width="1.1" fill="none"/>
<path d="M162.5 2251.1v5M178.7 2251.1v3M188.1 2251.1v3M194.8 2251.1v3M200 2251.1v3M204.3 2251.1v3M207.9 2251.1v3M211 2251.1v3M213.7 2251.1v3M216.2 2251.1v5M232.2 2251.1v3M241.5 2251.1v3M248.1 2251.1v3M253.2 2251.1v3M257.4 2251.1v3M261 2251.1v3M264.1 2251.1v3M266.8 2251.1v3M269.2 2251.1v5M285.3 2251.1v3M294.7 2251.1v3M301.4 2251.1v3M306.5 2251.1v3M310.8 2251.1v3M314.3 2251.1v3M317.4 2251.1v3M320.2 2251.1v3M322.6 2251.1v5" stroke="#1d2454" stroke-width="1.1" fill="none"/>
<path d="M110 2241.9h-5M110 2246h-3M110 2236h-3M125.7 2251.1v5M130 2251.1v3M135 2251.1v3M121 2251.1v3" stroke="#1d2454" stroke-width="1.1"/>
<text x="85.8" y="2065.8" font-size="9.6" font-family="'DejaVu Sans', sans-serif" fill="#2d3584" textLength="12.83" lengthAdjust="spacingAndGlyphs">10</text><text x="98.7" y="2059.8" font-size="6.9" font-family="'DejaVu Sans', sans-serif" fill="#2d3584" textLength="5.83" lengthAdjust="spacingAndGlyphs">5</text>
<text x="85.8" y="2111.8" font-size="9.6" font-family="'DejaVu Sans', sans-serif" fill="#2d3584" textLength="12.83" lengthAdjust="spacingAndGlyphs">10</text><text x="99" y="2105.8" font-size="6.9" font-family="'DejaVu Sans', sans-serif" fill="#2d3584" textLength="5.17" lengthAdjust="spacingAndGlyphs">4</text>
<text x="85.8" y="2160" font-size="9.6" font-family="'DejaVu Sans', sans-serif" fill="#2d3584" textLength="12.83" lengthAdjust="spacingAndGlyphs">10</text><text x="98.7" y="2154" font-size="6.9" font-family="'DejaVu Sans', sans-serif" fill="#2d3584" textLength="5.73" lengthAdjust="spacingAndGlyphs">3</text>
<text x="85.8" y="2210.2" font-size="9.6" font-family="'DejaVu Sans', sans-serif" fill="#2d3584" textLength="12.83" lengthAdjust="spacingAndGlyphs">10</text><text x="98.7" y="2204.2" font-size="6.9" font-family="'DejaVu Sans', sans-serif" fill="#2d3584" textLength="5.94" lengthAdjust="spacingAndGlyphs">2</text>
<text x="82.2" y="2245.7" font-size="9.6" font-family="'DejaVu Sans', sans-serif" fill="#2d3584" textLength="16.46" lengthAdjust="spacingAndGlyphs">-10</text><text x="98.3" y="2239.7" font-size="6.9" font-family="'DejaVu Sans', sans-serif" fill="#2d3584" textLength="6.33" lengthAdjust="spacingAndGlyphs">1</text>
<text x="154.4" y="2270" font-size="9.6" font-family="'DejaVu Sans', sans-serif" fill="#2d3584" textLength="12.83" lengthAdjust="spacingAndGlyphs">10</text><text x="167.2" y="2264" font-size="6.9" font-family="'DejaVu Sans', sans-serif" fill="#2d3584" textLength="5.94" lengthAdjust="spacingAndGlyphs">2</text>
<text x="208.1" y="2270" font-size="9.6" font-family="'DejaVu Sans', sans-serif" fill="#2d3584" textLength="12.83" lengthAdjust="spacingAndGlyphs">10</text><text x="220.9" y="2264" font-size="6.9" font-family="'DejaVu Sans', sans-serif" fill="#2d3584" textLength="5.73" lengthAdjust="spacingAndGlyphs">3</text>
<text x="261.1" y="2270" font-size="9.6" font-family="'DejaVu Sans', sans-serif" fill="#2d3584" textLength="12.83" lengthAdjust="spacingAndGlyphs">10</text><text x="274.2" y="2264" font-size="6.9" font-family="'DejaVu Sans', sans-serif" fill="#2d3584" textLength="5.17" lengthAdjust="spacingAndGlyphs">4</text>
<text x="314.5" y="2270" font-size="9.6" font-family="'DejaVu Sans', sans-serif" fill="#2d3584" textLength="12.83" lengthAdjust="spacingAndGlyphs">10</text><text x="327.3" y="2264" font-size="6.9" font-family="'DejaVu Sans', sans-serif" fill="#2d3584" textLength="5.83" lengthAdjust="spacingAndGlyphs">5</text>
<text x="116.1" y="2270" font-size="9.6" font-family="'DejaVu Sans', sans-serif" fill="#2d3584" textLength="16.46" lengthAdjust="spacingAndGlyphs">-10</text><text x="132.2" y="2264" font-size="6.9" font-family="'DejaVu Sans', sans-serif" fill="#2d3584" textLength="6.33" lengthAdjust="spacingAndGlyphs">1</text>
<text x="173.3" y="2285" font-size="13" font-family="'DejaVu Sans', sans-serif" fill="#2d3584" textLength="105.19" lengthAdjust="spacingAndGlyphs">586/15 (561)-A</text>
<text transform="translate(71.4 2197.8) rotate(-90)" x="-0.67" y="0" font-size="13" font-family="'DejaVu Sans', sans-serif" fill="#2d3584" textLength="104.39" lengthAdjust="spacingAndGlyphs">450/50 (405)-A</text>
<text x="223.4" y="2045.1" font-size="13.5" textLength="44.07" lengthAdjust="spacingAndGlyphs" fill="#3aa63a">Gate 4</text>
<text x="223.4" y="2062.9" font-size="13.5" textLength="50.02" lengthAdjust="spacingAndGlyphs" fill="#3aa63a">95.06%</text>
<rect x="380" y="1988.6" width="315.4" height="314.4" fill="none" stroke="#b35f4b" stroke-width="1.3"/><rect x="412.8" y="2001.9" width="240.8" height="31.2" fill="none" stroke="#b35f4b" stroke-width="1.2"/><text x="419.1" y="2015.6" font-size="10.4" font-family="'DejaVu Sans', sans-serif" fill="#2d3584" textLength="226.05" lengthAdjust="spacingAndGlyphs">Specimen_001_ABE egfr g1_006.fcs</text><text x="512.1" y="2029.3" font-size="10.4" font-family="'DejaVu Sans', sans-serif" fill="#2d3584" textLength="39.01" lengthAdjust="spacingAndGlyphs">Gate 4</text>
<path d="M435.1 2044.1V2250.3H677.4" fill="none" stroke="#1d2454" stroke-width="2.0"/>
<path d="M491.1 2250.3v5M508 2250.3v3M517.9 2250.3v3M524.9 2250.3v3M530.3 2250.3v3M534.8 2250.3v3M538.5 2250.3v3M541.8 2250.3v3M544.6 2250.3v3M547.2 2250.3v5M563.4 2250.3v3M572.9 2250.3v3M579.6 2250.3v3M584.8 2250.3v3M589.1 2250.3v3M592.7 2250.3v3M595.8 2250.3v3M598.5 2250.3v3M601 2250.3v5M617.1 2250.3v3M626.6 2250.3v3M633.3 2250.3v3M638.5 2250.3v3M642.7 2250.3v3M646.3 2250.3v3M649.4 2250.3v3M652.1 2250.3v3M654.6 2250.3v5" stroke="#1d2454" stroke-width="1.1" fill="none"/>
<path d="M445 2250.3v5M450 2250.3v3M455 2250.3v3M440 2250.3v3M460 2250.3v3M470 2250.3v3" stroke="#1d2454" stroke-width="1.1"/>
<path d="M435.1 2250.3h-5M435.1 2200h-5M435.1 2148.6h-5M435.1 2097.3h-5M435.1 2046h-5" stroke="#1d2454" stroke-width="1.3" fill="none"/><text x="424.9" y="2253.9" font-size="10.2" font-family="'DejaVu Sans', sans-serif" fill="#2d3584" textLength="6.81" lengthAdjust="spacingAndGlyphs">0</text><text x="418.4" y="2203.6" font-size="10.2" font-family="'DejaVu Sans', sans-serif" fill="#2d3584" textLength="13.63" lengthAdjust="spacingAndGlyphs">52</text><text x="411.4" y="2152.2" font-size="10.2" font-family="'DejaVu Sans', sans-serif" fill="#2d3584" textLength="20.44" lengthAdjust="spacingAndGlyphs">103</text><text x="411.5" y="2100.9" font-size="10.2" font-family="'DejaVu Sans', sans-serif" fill="#2d3584" textLength="20.44" lengthAdjust="spacingAndGlyphs">155</text><text x="411.2" y="2049.6" font-size="10.2" font-family="'DejaVu Sans', sans-serif" fill="#2d3584" textLength="20.44" lengthAdjust="spacingAndGlyphs">206</text>
<text x="483" y="2272" font-size="9.6" font-family="'DejaVu Sans', sans-serif" fill="#2d3584" textLength="12.83" lengthAdjust="spacingAndGlyphs">10</text><text x="495.8" y="2266" font-size="6.9" font-family="'DejaVu Sans', sans-serif" fill="#2d3584" textLength="5.94" lengthAdjust="spacingAndGlyphs">2</text>
<text x="539.1" y="2272" font-size="9.6" font-family="'DejaVu Sans', sans-serif" fill="#2d3584" textLength="12.83" lengthAdjust="spacingAndGlyphs">10</text><text x="551.9" y="2266" font-size="6.9" font-family="'DejaVu Sans', sans-serif" fill="#2d3584" textLength="5.73" lengthAdjust="spacingAndGlyphs">3</text>
<text x="592.9" y="2272" font-size="9.6" font-family="'DejaVu Sans', sans-serif" fill="#2d3584" textLength="12.83" lengthAdjust="spacingAndGlyphs">10</text><text x="606" y="2266" font-size="6.9" font-family="'DejaVu Sans', sans-serif" fill="#2d3584" textLength="5.17" lengthAdjust="spacingAndGlyphs">4</text>
<text x="646.5" y="2272" font-size="9.6" font-family="'DejaVu Sans', sans-serif" fill="#2d3584" textLength="12.83" lengthAdjust="spacingAndGlyphs">10</text><text x="659.3" y="2266" font-size="6.9" font-family="'DejaVu Sans', sans-serif" fill="#2d3584" textLength="5.83" lengthAdjust="spacingAndGlyphs">5</text>
<text x="437.4" y="2272" font-size="9.6" font-family="'DejaVu Sans', sans-serif" fill="#2d3584" textLength="16.46" lengthAdjust="spacingAndGlyphs">-10</text><text x="453.5" y="2266" font-size="6.9" font-family="'DejaVu Sans', sans-serif" fill="#2d3584" textLength="6.33" lengthAdjust="spacingAndGlyphs">1</text>
<text x="503.3" y="2287.8" font-size="13" font-family="'DejaVu Sans', sans-serif" fill="#2d3584" textLength="104.78" lengthAdjust="spacingAndGlyphs">530/30 (488)-A</text>
<text transform="translate(399.9 2168.6) rotate(-90)" x="-0.79" y="0" font-size="13" font-family="'DejaVu Sans', sans-serif" fill="#2d3584" textLength="42.03" lengthAdjust="spacingAndGlyphs">Count</text>
<polyline points="490,2250.3 490.8,2250.3 491.5,2250.3 492.2,2250.3 493,2250.3 493.8,2250.3 494.5,2250.3 495.2,2250.3 496,2250.3 496.8,2250.3 497.5,2250.3 498.2,2250.3 499,2250.3 499.8,2250.3 500.5,2250.3 501.2,2250.3 502,2250.3 502.8,2250.3 503.5,2250.3 504.2,2250.3 505,2250.3 505.8,2250.3 506.5,2249.4 507.2,2249.3 508,2249.1 508.8,2248.8 509.5,2248.5 510.2,2248.2 511,2247.8 511.8,2247.3 512.5,2246.8 513.2,2246.1 514,2245.4 514.8,2244.6 515.5,2243.7 516.2,2242.6 517,2241.4 517.8,2239.5 518.5,2237.6 519.2,2236.6 520,2235.1 520.8,2233.5 521.5,2230.4 522.2,2227.4 523,2224.3 523.8,2222.3 524.5,2219.5 525.2,2214.9 526,2209.8 526.8,2205.7 527.5,2202.9 528.2,2197.1 529,2190.5 529.8,2186.2 530.5,2179.7 531.2,2174.1 532,2167.9 532.8,2161.3 533.5,2155.5 534.2,2148.2 535,2140.9 535.8,2134.6 536.5,2127.8 537.2,2118.9 538,2112.9 538.8,2105.4 539.5,2099.2 540.2,2091.8 541,2086.4 541.8,2080.3 542.5,2074.5 543.2,2068.7 544,2064.4 544.8,2059.6 545.5,2055.7 546.2,2053.7 547,2050.2 547.8,2050 548.5,2048.4 549.2,2045.9 550,2047.6 550.8,2047.4 551.5,2049.4 552.2,2051.3 553,2052.3 553.8,2056.5 554.5,2060 555.2,2064.9 556,2067.8 556.8,2074 557.5,2077.9 558.2,2084 559,2089.5 559.8,2097.3 560.5,2102.9 561.2,2110.7 562,2116.1 562.8,2122.9 563.5,2129.5 564.2,2135.2 565,2142.2 565.8,2149.8 566.5,2155 567.2,2161.7 568,2167.6 568.8,2174 569.5,2179 570.2,2184.6 571,2190.2 571.8,2195 572.5,2199.1 573.2,2204.8 574,2207.4 574.8,2211.4 575.5,2215 576.2,2220 577,2222.2 577.8,2224.6 578.5,2227.2 579.2,2230.7 580,2231.9 580.8,2233.8 581.5,2236.9 582.2,2237.3 583,2239.4 583.8,2241 584.5,2242.2 585.2,2243.2 586,2244.2 586.8,2245 587.5,2245.7 588.2,2246.4 589,2246.9 589.8,2247.4 590.5,2247.8 591.2,2248.2 592,2248.5 592.8,2248.8 593.5,2249 594.2,2249.2 595,2249.4" fill="none" stroke="#111" stroke-width="1.4"/>
<text x="377.6" y="2348.2" font-size="30.4" textLength="175.58" lengthAdjust="spacingAndGlyphs" stroke="#000" stroke-width="0.3">EGFR - FITC</text>
<line x1="572.5" y1="2337.7" x2="650" y2="2337.7" stroke="#111" stroke-width="2"/>
<path d="M648 2329.2L663.1 2337.7L648 2346.3Z" fill="#111"/>
</svg></body></html>
